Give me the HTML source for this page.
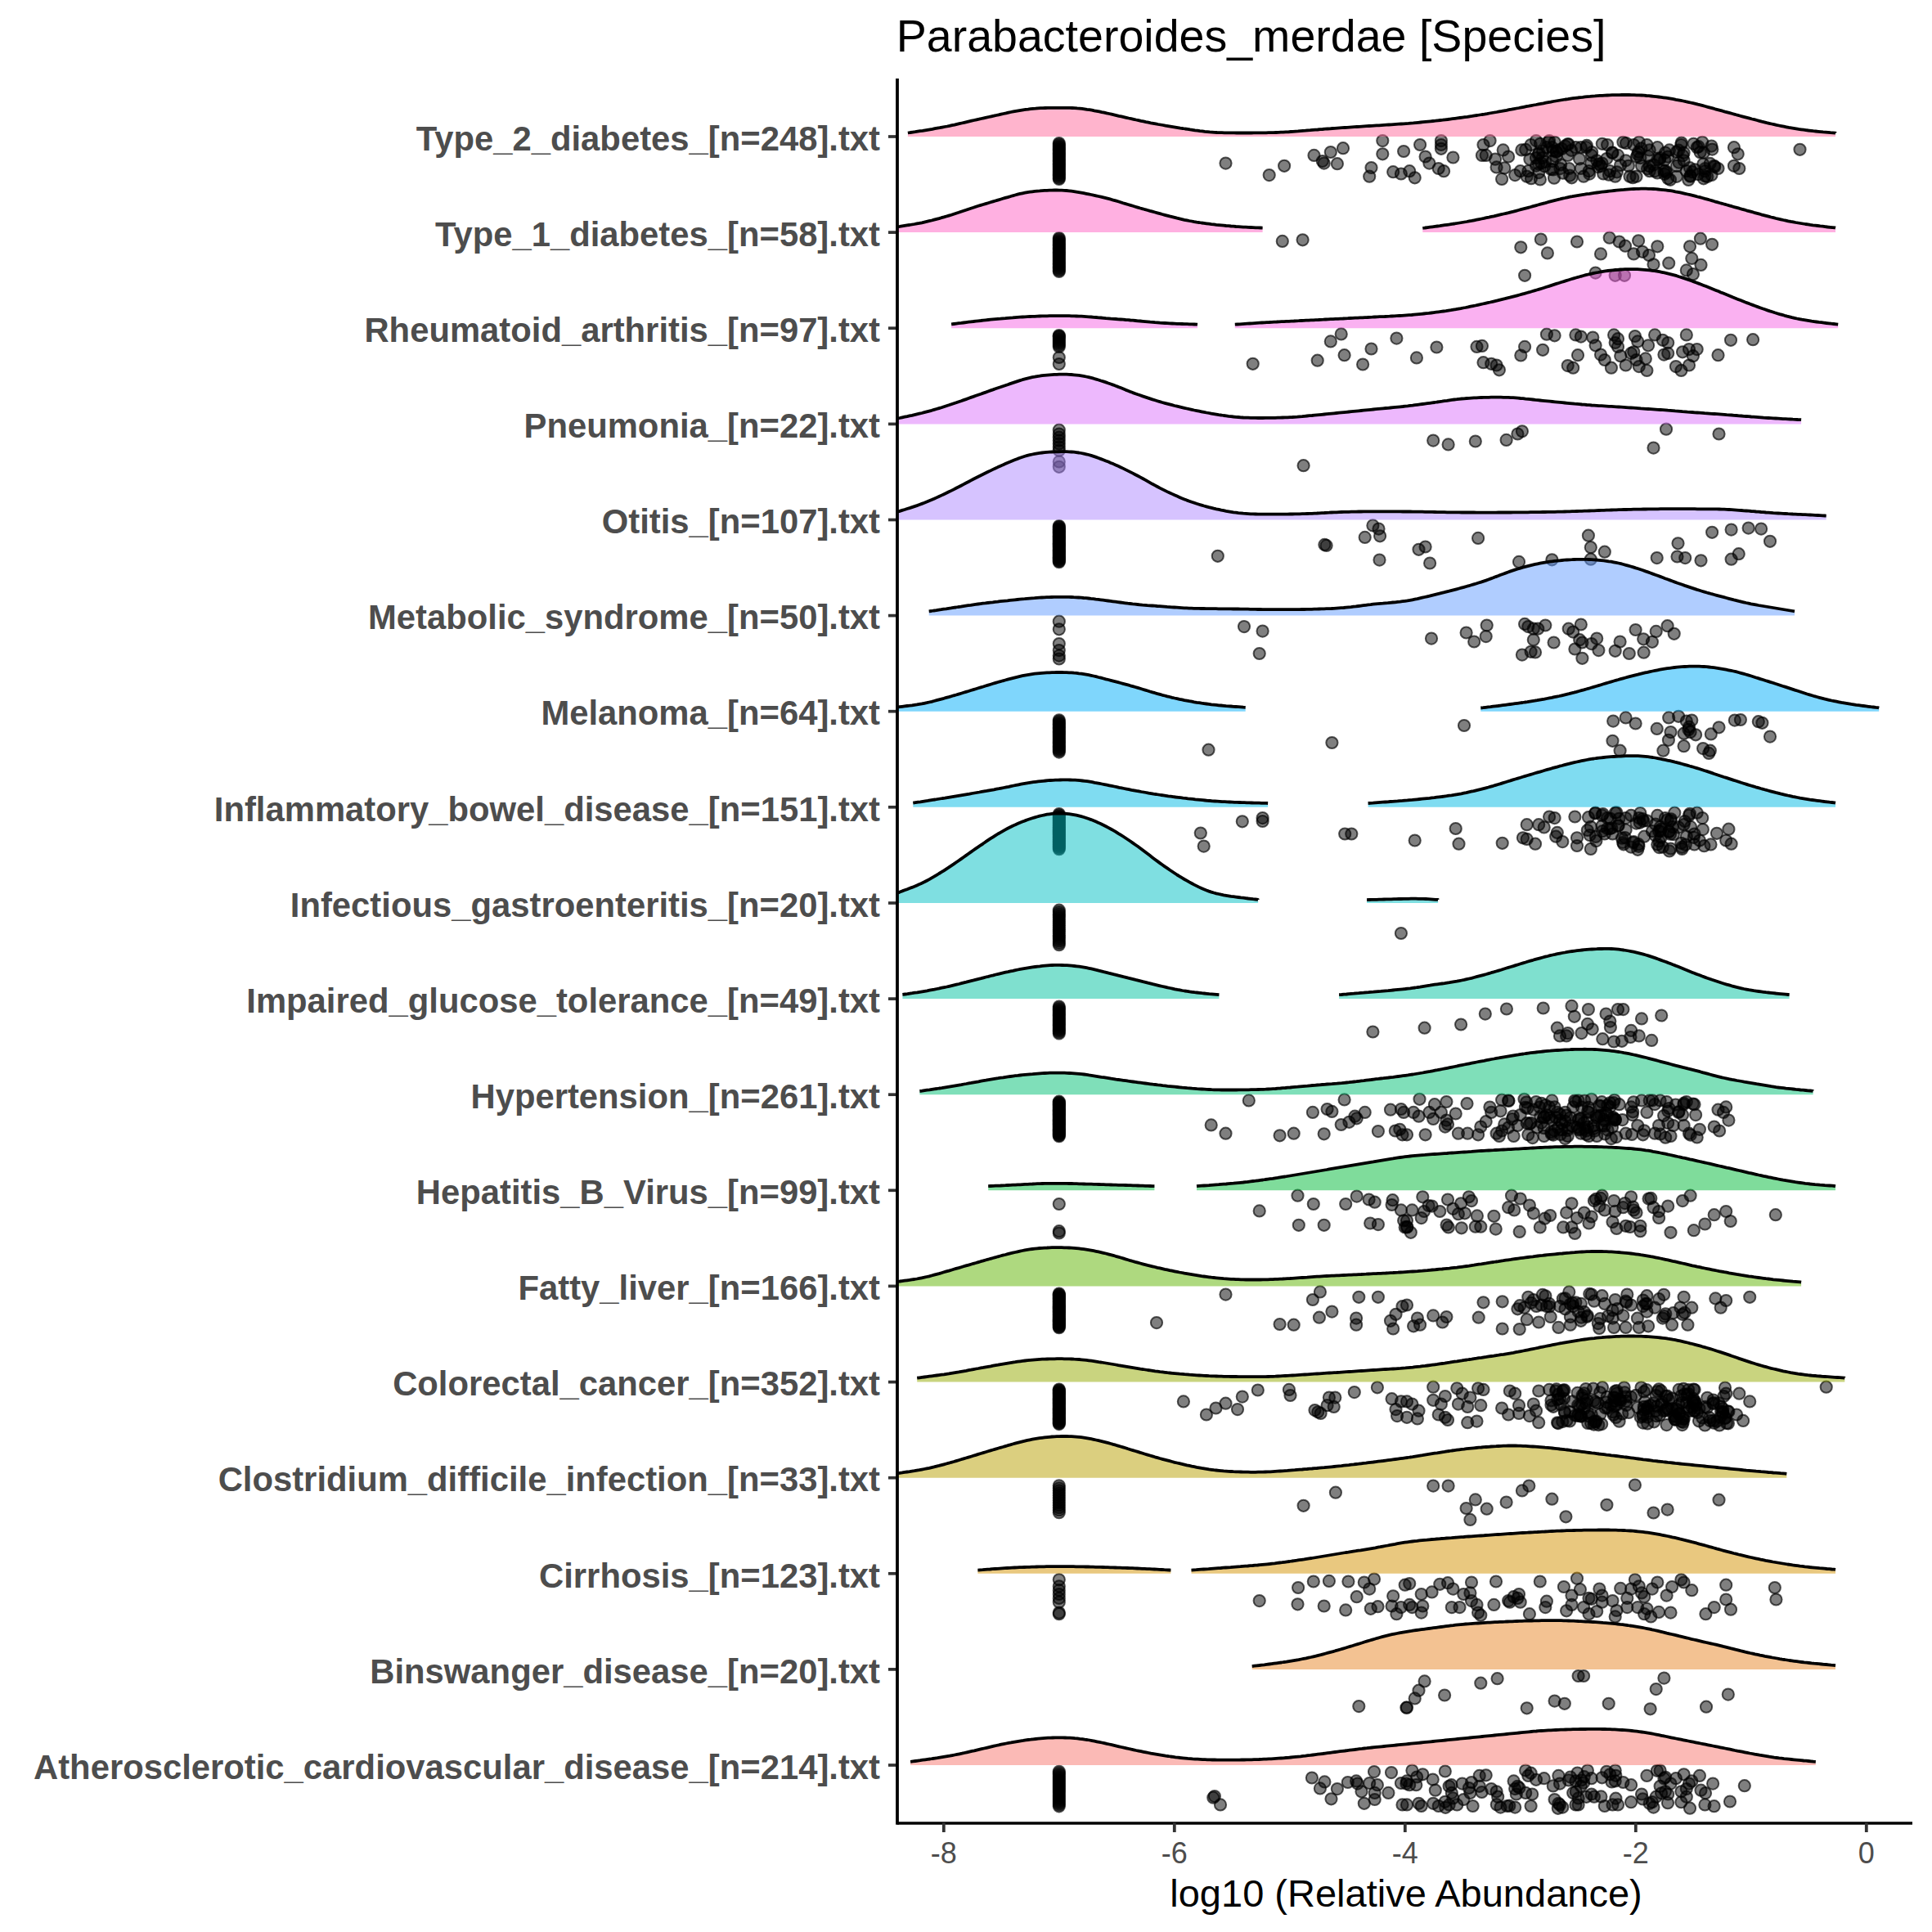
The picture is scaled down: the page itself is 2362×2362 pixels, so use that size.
<!DOCTYPE html><html><head><meta charset="utf-8"><style>html,body{margin:0;padding:0;background:#fff;width:2362px;height:2362px;overflow:hidden}svg{display:block}</style></head><body>
<svg width="2362" height="2362" viewBox="0 0 2362 2362">
<rect width="2362" height="2362" fill="#fff"/>
<text x="1095.7" y="63.3" font-family="Liberation Sans" font-size="55" fill="#000" textLength="867.7" lengthAdjust="spacingAndGlyphs">Parabacteroides_merdae [Species]</text>
<g font-family="Liberation Sans" font-weight="bold" font-size="41.8" fill="#4d4d4d" text-anchor="end">
<text x="1076" y="183.7">Type_2_diabetes_[n=248].txt</text>
<text x="1076" y="300.8">Type_1_diabetes_[n=58].txt</text>
<text x="1076" y="417.9">Rheumatoid_arthritis_[n=97].txt</text>
<text x="1076" y="535.1">Pneumonia_[n=22].txt</text>
<text x="1076" y="652.2">Otitis_[n=107].txt</text>
<text x="1076" y="769.3">Metabolic_syndrome_[n=50].txt</text>
<text x="1076" y="886.4">Melanoma_[n=64].txt</text>
<text x="1076" y="1003.5">Inflammatory_bowel_disease_[n=151].txt</text>
<text x="1076" y="1120.7">Infectious_gastroenteritis_[n=20].txt</text>
<text x="1076" y="1237.8">Impaired_glucose_tolerance_[n=49].txt</text>
<text x="1076" y="1354.9">Hypertension_[n=261].txt</text>
<text x="1076" y="1472.0">Hepatitis_B_Virus_[n=99].txt</text>
<text x="1076" y="1589.1">Fatty_liver_[n=166].txt</text>
<text x="1076" y="1706.3">Colorectal_cancer_[n=352].txt</text>
<text x="1076" y="1823.4">Clostridium_difficile_infection_[n=33].txt</text>
<text x="1076" y="1940.5">Cirrhosis_[n=123].txt</text>
<text x="1076" y="2057.6">Binswanger_disease_[n=20].txt</text>
<text x="1076" y="2174.7">Atherosclerotic_cardiovascular_disease_[n=214].txt</text>
</g><g stroke="#333" stroke-width="3.7">
<line x1="1086" y1="167.0" x2="1097" y2="167.0"/>
<line x1="1086" y1="284.1" x2="1097" y2="284.1"/>
<line x1="1086" y1="401.2" x2="1097" y2="401.2"/>
<line x1="1086" y1="518.4" x2="1097" y2="518.4"/>
<line x1="1086" y1="635.5" x2="1097" y2="635.5"/>
<line x1="1086" y1="752.6" x2="1097" y2="752.6"/>
<line x1="1086" y1="869.7" x2="1097" y2="869.7"/>
<line x1="1086" y1="986.8" x2="1097" y2="986.8"/>
<line x1="1086" y1="1104.0" x2="1097" y2="1104.0"/>
<line x1="1086" y1="1221.1" x2="1097" y2="1221.1"/>
<line x1="1086" y1="1338.2" x2="1097" y2="1338.2"/>
<line x1="1086" y1="1455.3" x2="1097" y2="1455.3"/>
<line x1="1086" y1="1572.4" x2="1097" y2="1572.4"/>
<line x1="1086" y1="1689.6" x2="1097" y2="1689.6"/>
<line x1="1086" y1="1806.7" x2="1097" y2="1806.7"/>
<line x1="1086" y1="1923.8" x2="1097" y2="1923.8"/>
<line x1="1086" y1="2040.9" x2="1097" y2="2040.9"/>
<line x1="1086" y1="2158.0" x2="1097" y2="2158.0"/>
</g>
<g fill="#000" fill-opacity="0.5" stroke="#000" stroke-opacity="0.65" stroke-width="2.0">
<circle cx="1498.5" cy="199.6" r="7.1"/>
<circle cx="1551.7" cy="214.1" r="7.1"/>
<circle cx="1570.1" cy="202.8" r="7.1"/>
<circle cx="1606.5" cy="189.9" r="7.1"/>
<circle cx="1616.8" cy="197.0" r="7.1"/>
<circle cx="1618.7" cy="199.6" r="7.1"/>
<circle cx="1626.8" cy="186.0" r="7.1"/>
<circle cx="1642.0" cy="181.2" r="7.1"/>
<circle cx="1634.9" cy="200.2" r="7.1"/>
<circle cx="1690.3" cy="172.1" r="7.1"/>
<circle cx="1690.3" cy="188.3" r="7.1"/>
<circle cx="1676.5" cy="205.0" r="7.1"/>
<circle cx="1674.2" cy="215.7" r="7.1"/>
<circle cx="1703.2" cy="210.2" r="7.1"/>
<circle cx="1712.9" cy="212.5" r="7.1"/>
<circle cx="1716.1" cy="185.0" r="7.1"/>
<circle cx="1723.2" cy="209.2" r="7.1"/>
<circle cx="1729.7" cy="217.3" r="7.1"/>
<circle cx="1736.1" cy="177.0" r="7.1"/>
<circle cx="1742.6" cy="191.5" r="7.1"/>
<circle cx="1747.4" cy="199.6" r="7.1"/>
<circle cx="1758.7" cy="206.0" r="7.1"/>
<circle cx="1765.1" cy="209.2" r="7.1"/>
<circle cx="1761.9" cy="172.1" r="7.1"/>
<circle cx="1761.9" cy="177.0" r="7.1"/>
<circle cx="1761.9" cy="181.8" r="7.1"/>
<circle cx="1776.4" cy="192.5" r="7.1"/>
<circle cx="1813.5" cy="177.0" r="7.1"/>
<circle cx="1821.6" cy="172.1" r="7.1"/>
<circle cx="1811.9" cy="189.9" r="7.1"/>
<circle cx="1816.7" cy="189.9" r="7.1"/>
<circle cx="1828.0" cy="194.7" r="7.1"/>
<circle cx="1829.6" cy="204.4" r="7.1"/>
<circle cx="1837.7" cy="183.4" r="7.1"/>
<circle cx="1844.1" cy="191.5" r="7.1"/>
<circle cx="1839.3" cy="205.4" r="7.1"/>
<circle cx="1836.1" cy="218.9" r="7.1"/>
<circle cx="1852.2" cy="214.1" r="7.1"/>
<circle cx="1858.7" cy="209.2" r="7.1"/>
<circle cx="1866.7" cy="215.7" r="7.1"/>
<circle cx="1868.3" cy="209.2" r="7.1"/>
<circle cx="1860.3" cy="183.4" r="7.1"/>
<circle cx="1871.6" cy="177.0" r="7.1"/>
<circle cx="1878.0" cy="172.1" r="7.1"/>
<circle cx="1878.0" cy="193.1" r="7.1"/>
<circle cx="1884.5" cy="199.6" r="7.1"/>
<circle cx="1889.3" cy="197.9" r="7.1"/>
<circle cx="1894.1" cy="172.1" r="7.1"/>
<circle cx="1890.9" cy="180.2" r="7.1"/>
<circle cx="1900.6" cy="173.8" r="7.1"/>
<circle cx="1905.4" cy="183.4" r="7.1"/>
<circle cx="1913.5" cy="178.6" r="7.1"/>
<circle cx="1916.7" cy="189.9" r="7.1"/>
<circle cx="1918.3" cy="206.0" r="7.1"/>
<circle cx="1921.5" cy="217.3" r="7.1"/>
<circle cx="1926.4" cy="180.2" r="7.1"/>
<circle cx="1932.8" cy="206.0" r="7.1"/>
<circle cx="1932.8" cy="180.2" r="7.1"/>
<circle cx="1936.1" cy="215.7" r="7.1"/>
<circle cx="1939.3" cy="180.2" r="7.1"/>
<circle cx="1942.5" cy="209.2" r="7.1"/>
<circle cx="1945.7" cy="189.9" r="7.1"/>
<circle cx="1952.2" cy="196.3" r="7.1"/>
<circle cx="1958.6" cy="199.6" r="7.1"/>
<circle cx="1960.2" cy="212.5" r="7.1"/>
<circle cx="1968.3" cy="209.2" r="7.1"/>
<circle cx="1974.7" cy="215.7" r="7.1"/>
<circle cx="1965.1" cy="177.0" r="7.1"/>
<circle cx="1971.5" cy="186.7" r="7.1"/>
<circle cx="1978.0" cy="189.9" r="7.1"/>
<circle cx="1984.4" cy="173.8" r="7.1"/>
<circle cx="1987.6" cy="196.3" r="7.1"/>
<circle cx="1990.9" cy="202.8" r="7.1"/>
<circle cx="1992.5" cy="215.7" r="7.1"/>
<circle cx="1997.3" cy="177.0" r="7.1"/>
<circle cx="2000.5" cy="215.7" r="7.1"/>
<circle cx="2003.8" cy="173.8" r="7.1"/>
<circle cx="2005.4" cy="193.1" r="7.1"/>
<circle cx="2007.0" cy="202.8" r="7.1"/>
<circle cx="2013.4" cy="177.0" r="7.1"/>
<circle cx="2016.7" cy="183.4" r="7.1"/>
<circle cx="2016.7" cy="209.2" r="7.1"/>
<circle cx="2023.1" cy="209.2" r="7.1"/>
<circle cx="2026.3" cy="180.2" r="7.1"/>
<circle cx="2029.6" cy="193.1" r="7.1"/>
<circle cx="2034.4" cy="209.2" r="7.1"/>
<circle cx="2036.0" cy="186.7" r="7.1"/>
<circle cx="2040.9" cy="183.4" r="7.1"/>
<circle cx="2055.4" cy="177.0" r="7.1"/>
<circle cx="2058.6" cy="186.7" r="7.1"/>
<circle cx="2058.6" cy="196.3" r="7.1"/>
<circle cx="2061.8" cy="209.2" r="7.1"/>
<circle cx="2066.6" cy="215.7" r="7.1"/>
<circle cx="2074.7" cy="180.2" r="7.1"/>
<circle cx="2081.2" cy="173.8" r="7.1"/>
<circle cx="2082.8" cy="186.7" r="7.1"/>
<circle cx="2084.4" cy="209.2" r="7.1"/>
<circle cx="2092.4" cy="178.6" r="7.1"/>
<circle cx="2095.7" cy="202.8" r="7.1"/>
<circle cx="2100.5" cy="206.0" r="7.1"/>
<circle cx="2119.9" cy="180.2" r="7.1"/>
<circle cx="2124.7" cy="188.3" r="7.1"/>
<circle cx="2119.9" cy="202.8" r="7.1"/>
<circle cx="2126.3" cy="206.0" r="7.1"/>
<circle cx="2200.5" cy="182.8" r="7.1"/>
<circle cx="1945.3" cy="199.3" r="7.1"/>
<circle cx="2029.0" cy="194.9" r="7.1"/>
<circle cx="1955.2" cy="200.6" r="7.1"/>
<circle cx="1897.9" cy="197.1" r="7.1"/>
<circle cx="1976.8" cy="210.3" r="7.1"/>
<circle cx="1881.8" cy="187.3" r="7.1"/>
<circle cx="1881.2" cy="211.1" r="7.1"/>
<circle cx="1988.1" cy="175.0" r="7.1"/>
<circle cx="2039.3" cy="218.3" r="7.1"/>
<circle cx="1981.1" cy="201.9" r="7.1"/>
<circle cx="1893.0" cy="173.7" r="7.1"/>
<circle cx="1958.8" cy="175.8" r="7.1"/>
<circle cx="1898.8" cy="184.4" r="7.1"/>
<circle cx="1870.4" cy="194.8" r="7.1"/>
<circle cx="1943.2" cy="212.6" r="7.1"/>
<circle cx="1957.2" cy="203.1" r="7.1"/>
<circle cx="1953.7" cy="204.1" r="7.1"/>
<circle cx="1946.2" cy="186.1" r="7.1"/>
<circle cx="2042.0" cy="219.8" r="7.1"/>
<circle cx="2014.1" cy="206.3" r="7.1"/>
<circle cx="1921.0" cy="183.8" r="7.1"/>
<circle cx="1916.4" cy="176.3" r="7.1"/>
<circle cx="2001.0" cy="191.8" r="7.1"/>
<circle cx="2015.3" cy="191.2" r="7.1"/>
<circle cx="2035.0" cy="212.8" r="7.1"/>
<circle cx="1865.2" cy="182.9" r="7.1"/>
<circle cx="2026.6" cy="195.1" r="7.1"/>
<circle cx="2039.0" cy="191.7" r="7.1"/>
<circle cx="1878.1" cy="202.6" r="7.1"/>
<circle cx="2003.2" cy="185.7" r="7.1"/>
<circle cx="1880.6" cy="188.6" r="7.1"/>
<circle cx="2036.1" cy="208.6" r="7.1"/>
<circle cx="1886.0" cy="184.6" r="7.1"/>
<circle cx="1883.0" cy="175.8" r="7.1"/>
<circle cx="2006.5" cy="181.4" r="7.1"/>
<circle cx="1964.3" cy="194.0" r="7.1"/>
<circle cx="1898.9" cy="207.4" r="7.1"/>
<circle cx="1888.3" cy="203.3" r="7.1"/>
<circle cx="1885.8" cy="192.8" r="7.1"/>
<circle cx="1902.9" cy="185.7" r="7.1"/>
<circle cx="2037.3" cy="210.8" r="7.1"/>
<circle cx="1919.1" cy="214.6" r="7.1"/>
<circle cx="1902.5" cy="191.5" r="7.1"/>
<circle cx="2016.6" cy="203.2" r="7.1"/>
<circle cx="1882.9" cy="219.5" r="7.1"/>
<circle cx="1902.9" cy="185.1" r="7.1"/>
<circle cx="2002.1" cy="188.5" r="7.1"/>
<circle cx="1917.7" cy="176.4" r="7.1"/>
<circle cx="1881.1" cy="200.4" r="7.1"/>
<circle cx="1908.2" cy="201.3" r="7.1"/>
<circle cx="1931.0" cy="194.3" r="7.1"/>
<circle cx="2035.2" cy="195.7" r="7.1"/>
<circle cx="1967.0" cy="213.7" r="7.1"/>
<circle cx="1897.5" cy="180.2" r="7.1"/>
<circle cx="2026.2" cy="211.4" r="7.1"/>
<circle cx="1909.4" cy="181.9" r="7.1"/>
<circle cx="1996.2" cy="217.2" r="7.1"/>
<circle cx="1900.0" cy="217.7" r="7.1"/>
<circle cx="2021.6" cy="201.4" r="7.1"/>
<circle cx="1939.9" cy="177.9" r="7.1"/>
<circle cx="1872.0" cy="218.2" r="7.1"/>
<circle cx="1907.4" cy="206.1" r="7.1"/>
<circle cx="1910.7" cy="211.7" r="7.1"/>
<circle cx="1970.9" cy="186.8" r="7.1"/>
<circle cx="1896.2" cy="206.9" r="7.1"/>
<circle cx="2052.2" cy="183.7" r="7.1"/>
<circle cx="2076.0" cy="213.1" r="7.1"/>
<circle cx="2078.6" cy="186.2" r="7.1"/>
<circle cx="2093.3" cy="182.6" r="7.1"/>
<circle cx="2049.7" cy="185.7" r="7.1"/>
<circle cx="2070.5" cy="175.8" r="7.1"/>
<circle cx="2057.4" cy="190.3" r="7.1"/>
<circle cx="2076.6" cy="179.2" r="7.1"/>
<circle cx="2066.4" cy="214.9" r="7.1"/>
<circle cx="2096.3" cy="203.9" r="7.1"/>
<circle cx="2082.3" cy="200.5" r="7.1"/>
<circle cx="2055.7" cy="174.6" r="7.1"/>
<circle cx="2049.8" cy="215.8" r="7.1"/>
<circle cx="2082.8" cy="218.3" r="7.1"/>
<circle cx="2049.9" cy="202.9" r="7.1"/>
<circle cx="2072.2" cy="207.3" r="7.1"/>
<circle cx="2064.3" cy="220.0" r="7.1"/>
<circle cx="2052.6" cy="198.7" r="7.1"/>
<circle cx="2084.6" cy="215.3" r="7.1"/>
<circle cx="2084.6" cy="206.1" r="7.1"/>
<circle cx="2087.3" cy="216.0" r="7.1"/>
<circle cx="2065.9" cy="205.2" r="7.1"/>
<circle cx="2092.5" cy="213.9" r="7.1"/>
<circle cx="2069.1" cy="210.2" r="7.1"/>
<circle cx="2090.7" cy="199.9" r="7.1"/>
<circle cx="1567.8" cy="294.9" r="7.1"/>
<circle cx="1592.6" cy="293.3" r="7.1"/>
<circle cx="1531.7" cy="444.8" r="7.1"/>
<circle cx="1610.7" cy="440.7" r="7.1"/>
<circle cx="1626.8" cy="417.4" r="7.1"/>
<circle cx="1639.7" cy="408.4" r="7.1"/>
<circle cx="1643.6" cy="434.2" r="7.1"/>
<circle cx="1666.1" cy="445.5" r="7.1"/>
<circle cx="1676.5" cy="426.5" r="7.1"/>
<circle cx="1707.4" cy="413.6" r="7.1"/>
<circle cx="1859.3" cy="302.3" r="7.1"/>
<circle cx="1883.8" cy="292.6" r="7.1"/>
<circle cx="1891.9" cy="309.4" r="7.1"/>
<circle cx="1864.1" cy="336.8" r="7.1"/>
<circle cx="1928.0" cy="295.5" r="7.1"/>
<circle cx="1967.7" cy="290.7" r="7.1"/>
<circle cx="1979.6" cy="295.5" r="7.1"/>
<circle cx="1987.0" cy="300.7" r="7.1"/>
<circle cx="2003.1" cy="294.3" r="7.1"/>
<circle cx="1997.3" cy="310.4" r="7.1"/>
<circle cx="2008.0" cy="307.8" r="7.1"/>
<circle cx="2016.0" cy="312.0" r="7.1"/>
<circle cx="2026.3" cy="301.3" r="7.1"/>
<circle cx="2021.5" cy="323.3" r="7.1"/>
<circle cx="2040.2" cy="321.7" r="7.1"/>
<circle cx="2066.0" cy="301.3" r="7.1"/>
<circle cx="2078.9" cy="291.7" r="7.1"/>
<circle cx="2093.1" cy="298.8" r="7.1"/>
<circle cx="2068.3" cy="315.9" r="7.1"/>
<circle cx="2079.5" cy="323.9" r="7.1"/>
<circle cx="2061.8" cy="330.4" r="7.1"/>
<circle cx="2069.9" cy="335.2" r="7.1"/>
<circle cx="1957.0" cy="310.4" r="7.1"/>
<circle cx="1950.6" cy="333.6" r="7.1"/>
<circle cx="1974.7" cy="336.8" r="7.1"/>
<circle cx="1986.0" cy="336.8" r="7.1"/>
<circle cx="1731.9" cy="437.4" r="7.1"/>
<circle cx="1756.4" cy="424.5" r="7.1"/>
<circle cx="1805.5" cy="423.9" r="7.1"/>
<circle cx="1811.9" cy="422.9" r="7.1"/>
<circle cx="1813.5" cy="443.2" r="7.1"/>
<circle cx="1823.2" cy="444.8" r="7.1"/>
<circle cx="1829.6" cy="446.5" r="7.1"/>
<circle cx="1832.9" cy="452.3" r="7.1"/>
<circle cx="1859.3" cy="434.5" r="7.1"/>
<circle cx="1864.1" cy="423.9" r="7.1"/>
<circle cx="1886.1" cy="427.8" r="7.1"/>
<circle cx="1890.9" cy="408.7" r="7.1"/>
<circle cx="1900.6" cy="410.3" r="7.1"/>
<circle cx="1926.4" cy="409.4" r="7.1"/>
<circle cx="1932.8" cy="411.6" r="7.1"/>
<circle cx="1929.0" cy="434.2" r="7.1"/>
<circle cx="1916.7" cy="447.1" r="7.1"/>
<circle cx="1923.2" cy="449.7" r="7.1"/>
<circle cx="1947.3" cy="412.6" r="7.1"/>
<circle cx="1950.6" cy="422.3" r="7.1"/>
<circle cx="1957.0" cy="433.6" r="7.1"/>
<circle cx="1961.8" cy="440.0" r="7.1"/>
<circle cx="1969.9" cy="449.7" r="7.1"/>
<circle cx="1973.1" cy="409.4" r="7.1"/>
<circle cx="1978.0" cy="414.2" r="7.1"/>
<circle cx="1978.0" cy="423.9" r="7.1"/>
<circle cx="1981.2" cy="435.2" r="7.1"/>
<circle cx="1987.6" cy="446.5" r="7.1"/>
<circle cx="1997.3" cy="430.3" r="7.1"/>
<circle cx="1998.9" cy="411.0" r="7.1"/>
<circle cx="2002.2" cy="417.4" r="7.1"/>
<circle cx="2003.8" cy="448.1" r="7.1"/>
<circle cx="2011.8" cy="438.4" r="7.1"/>
<circle cx="2015.1" cy="422.3" r="7.1"/>
<circle cx="2013.4" cy="452.9" r="7.1"/>
<circle cx="2023.1" cy="409.4" r="7.1"/>
<circle cx="2032.8" cy="415.8" r="7.1"/>
<circle cx="2039.2" cy="419.0" r="7.1"/>
<circle cx="2034.4" cy="433.6" r="7.1"/>
<circle cx="2039.2" cy="431.9" r="7.1"/>
<circle cx="2048.9" cy="448.1" r="7.1"/>
<circle cx="2055.4" cy="452.9" r="7.1"/>
<circle cx="2057.0" cy="430.3" r="7.1"/>
<circle cx="2061.8" cy="409.4" r="7.1"/>
<circle cx="2065.0" cy="427.1" r="7.1"/>
<circle cx="2069.9" cy="435.2" r="7.1"/>
<circle cx="2065.0" cy="446.5" r="7.1"/>
<circle cx="2074.7" cy="427.1" r="7.1"/>
<circle cx="2100.5" cy="434.2" r="7.1"/>
<circle cx="2116.0" cy="415.8" r="7.1"/>
<circle cx="2143.1" cy="415.2" r="7.1"/>
<circle cx="1994.1" cy="431.9" r="7.1"/>
<circle cx="2000.5" cy="440.0" r="7.1"/>
<circle cx="1974.7" cy="419.0" r="7.1"/>
<circle cx="1593.6" cy="569.2" r="7.1"/>
<circle cx="1488.8" cy="679.8" r="7.1"/>
<circle cx="1619.4" cy="665.9" r="7.1"/>
<circle cx="1621.6" cy="666.9" r="7.1"/>
<circle cx="1668.7" cy="656.9" r="7.1"/>
<circle cx="1678.4" cy="642.4" r="7.1"/>
<circle cx="1685.5" cy="646.6" r="7.1"/>
<circle cx="1687.1" cy="655.3" r="7.1"/>
<circle cx="1686.5" cy="684.6" r="7.1"/>
<circle cx="1294.8" cy="525.7" r="7.1"/>
<circle cx="1294.8" cy="530.5" r="7.1"/>
<circle cx="1294.8" cy="534.7" r="7.1"/>
<circle cx="1294.8" cy="538.6" r="7.1"/>
<circle cx="1294.8" cy="542.4" r="7.1"/>
<circle cx="1294.8" cy="546.6" r="7.1"/>
<circle cx="1294.8" cy="550.8" r="7.1"/>
<circle cx="1294.8" cy="564.4" r="7.1"/>
<circle cx="1294.8" cy="570.8" r="7.1"/>
<circle cx="1294.8" cy="643.1" r="7.1"/>
<circle cx="1294.8" cy="644.2" r="7.1"/>
<circle cx="1294.8" cy="645.3" r="7.1"/>
<circle cx="1294.8" cy="646.5" r="7.1"/>
<circle cx="1294.8" cy="647.6" r="7.1"/>
<circle cx="1294.8" cy="648.7" r="7.1"/>
<circle cx="1294.8" cy="649.9" r="7.1"/>
<circle cx="1294.8" cy="651.0" r="7.1"/>
<circle cx="1294.8" cy="652.1" r="7.1"/>
<circle cx="1294.8" cy="653.3" r="7.1"/>
<circle cx="1294.8" cy="654.4" r="7.1"/>
<circle cx="1294.8" cy="655.5" r="7.1"/>
<circle cx="1294.8" cy="656.6" r="7.1"/>
<circle cx="1294.8" cy="657.8" r="7.1"/>
<circle cx="1294.8" cy="658.9" r="7.1"/>
<circle cx="1294.8" cy="660.0" r="7.1"/>
<circle cx="1294.8" cy="661.2" r="7.1"/>
<circle cx="1294.8" cy="662.3" r="7.1"/>
<circle cx="1294.8" cy="663.4" r="7.1"/>
<circle cx="1294.8" cy="664.6" r="7.1"/>
<circle cx="1294.8" cy="665.7" r="7.1"/>
<circle cx="1294.8" cy="666.8" r="7.1"/>
<circle cx="1294.8" cy="668.0" r="7.1"/>
<circle cx="1294.8" cy="669.1" r="7.1"/>
<circle cx="1294.8" cy="670.2" r="7.1"/>
<circle cx="1294.8" cy="671.4" r="7.1"/>
<circle cx="1294.8" cy="672.5" r="7.1"/>
<circle cx="1294.8" cy="673.6" r="7.1"/>
<circle cx="1294.8" cy="674.8" r="7.1"/>
<circle cx="1294.8" cy="675.9" r="7.1"/>
<circle cx="1294.8" cy="677.0" r="7.1"/>
<circle cx="1294.8" cy="678.2" r="7.1"/>
<circle cx="1294.8" cy="679.3" r="7.1"/>
<circle cx="1294.8" cy="680.4" r="7.1"/>
<circle cx="1294.8" cy="681.6" r="7.1"/>
<circle cx="1294.8" cy="682.7" r="7.1"/>
<circle cx="1294.8" cy="683.8" r="7.1"/>
<circle cx="1294.8" cy="685.0" r="7.1"/>
<circle cx="1294.8" cy="686.1" r="7.1"/>
<circle cx="1294.8" cy="687.2" r="7.1"/>
<circle cx="1752.2" cy="538.6" r="7.1"/>
<circle cx="1770.6" cy="543.4" r="7.1"/>
<circle cx="1803.8" cy="539.5" r="7.1"/>
<circle cx="1841.6" cy="537.9" r="7.1"/>
<circle cx="1855.4" cy="530.5" r="7.1"/>
<circle cx="1860.9" cy="527.3" r="7.1"/>
<circle cx="2021.5" cy="547.6" r="7.1"/>
<circle cx="2037.0" cy="524.7" r="7.1"/>
<circle cx="2101.5" cy="530.5" r="7.1"/>
<circle cx="1734.5" cy="671.8" r="7.1"/>
<circle cx="1742.6" cy="668.5" r="7.1"/>
<circle cx="1748.1" cy="688.5" r="7.1"/>
<circle cx="1807.1" cy="657.9" r="7.1"/>
<circle cx="1857.0" cy="686.9" r="7.1"/>
<circle cx="1897.4" cy="684.3" r="7.1"/>
<circle cx="1941.9" cy="654.7" r="7.1"/>
<circle cx="1944.8" cy="669.2" r="7.1"/>
<circle cx="1944.8" cy="683.7" r="7.1"/>
<circle cx="1961.8" cy="674.7" r="7.1"/>
<circle cx="2025.7" cy="682.1" r="7.1"/>
<circle cx="2051.5" cy="664.3" r="7.1"/>
<circle cx="2050.5" cy="680.5" r="7.1"/>
<circle cx="2060.2" cy="682.1" r="7.1"/>
<circle cx="2079.5" cy="685.3" r="7.1"/>
<circle cx="2093.1" cy="650.8" r="7.1"/>
<circle cx="2116.6" cy="647.6" r="7.1"/>
<circle cx="2116.6" cy="683.7" r="7.1"/>
<circle cx="2125.7" cy="677.2" r="7.1"/>
<circle cx="2137.6" cy="645.6" r="7.1"/>
<circle cx="2153.1" cy="646.6" r="7.1"/>
<circle cx="2164.0" cy="661.8" r="7.1"/>
<circle cx="1521.0" cy="766.1" r="7.1"/>
<circle cx="1543.6" cy="771.6" r="7.1"/>
<circle cx="1539.7" cy="799.0" r="7.1"/>
<circle cx="1477.5" cy="916.7" r="7.1"/>
<circle cx="1628.4" cy="908.0" r="7.1"/>
<circle cx="1294.8" cy="759.7" r="7.1"/>
<circle cx="1294.8" cy="769.3" r="7.1"/>
<circle cx="1294.8" cy="787.1" r="7.1"/>
<circle cx="1294.8" cy="795.1" r="7.1"/>
<circle cx="1294.8" cy="801.6" r="7.1"/>
<circle cx="1294.8" cy="805.5" r="7.1"/>
<circle cx="1294.8" cy="880.3" r="7.1"/>
<circle cx="1294.8" cy="881.9" r="7.1"/>
<circle cx="1294.8" cy="883.6" r="7.1"/>
<circle cx="1294.8" cy="885.2" r="7.1"/>
<circle cx="1294.8" cy="886.8" r="7.1"/>
<circle cx="1294.8" cy="888.5" r="7.1"/>
<circle cx="1294.8" cy="890.1" r="7.1"/>
<circle cx="1294.8" cy="891.8" r="7.1"/>
<circle cx="1294.8" cy="893.4" r="7.1"/>
<circle cx="1294.8" cy="895.0" r="7.1"/>
<circle cx="1294.8" cy="896.7" r="7.1"/>
<circle cx="1294.8" cy="898.3" r="7.1"/>
<circle cx="1294.8" cy="899.9" r="7.1"/>
<circle cx="1294.8" cy="901.6" r="7.1"/>
<circle cx="1294.8" cy="903.2" r="7.1"/>
<circle cx="1294.8" cy="904.9" r="7.1"/>
<circle cx="1294.8" cy="906.5" r="7.1"/>
<circle cx="1294.8" cy="908.1" r="7.1"/>
<circle cx="1294.8" cy="909.8" r="7.1"/>
<circle cx="1294.8" cy="911.4" r="7.1"/>
<circle cx="1294.8" cy="913.1" r="7.1"/>
<circle cx="1294.8" cy="914.7" r="7.1"/>
<circle cx="1294.8" cy="916.3" r="7.1"/>
<circle cx="1294.8" cy="918.0" r="7.1"/>
<circle cx="1294.8" cy="919.6" r="7.1"/>
<circle cx="1750.0" cy="780.6" r="7.1"/>
<circle cx="1792.6" cy="773.5" r="7.1"/>
<circle cx="1802.2" cy="784.5" r="7.1"/>
<circle cx="1817.7" cy="764.5" r="7.1"/>
<circle cx="1816.7" cy="778.1" r="7.1"/>
<circle cx="1864.1" cy="762.9" r="7.1"/>
<circle cx="1868.3" cy="766.1" r="7.1"/>
<circle cx="1874.8" cy="768.7" r="7.1"/>
<circle cx="1880.3" cy="768.7" r="7.1"/>
<circle cx="1889.3" cy="764.5" r="7.1"/>
<circle cx="1874.8" cy="782.2" r="7.1"/>
<circle cx="1860.9" cy="800.6" r="7.1"/>
<circle cx="1871.6" cy="796.8" r="7.1"/>
<circle cx="1877.0" cy="797.4" r="7.1"/>
<circle cx="1899.6" cy="785.5" r="7.1"/>
<circle cx="1917.7" cy="768.7" r="7.1"/>
<circle cx="1923.2" cy="772.6" r="7.1"/>
<circle cx="1932.8" cy="763.5" r="7.1"/>
<circle cx="1931.2" cy="782.2" r="7.1"/>
<circle cx="1934.4" cy="785.5" r="7.1"/>
<circle cx="1925.4" cy="793.5" r="7.1"/>
<circle cx="1934.4" cy="804.8" r="7.1"/>
<circle cx="1945.7" cy="787.1" r="7.1"/>
<circle cx="1952.2" cy="780.6" r="7.1"/>
<circle cx="1954.4" cy="795.1" r="7.1"/>
<circle cx="1974.7" cy="795.8" r="7.1"/>
<circle cx="1980.6" cy="784.5" r="7.1"/>
<circle cx="1991.8" cy="799.0" r="7.1"/>
<circle cx="1999.6" cy="770.0" r="7.1"/>
<circle cx="2009.2" cy="781.3" r="7.1"/>
<circle cx="2009.6" cy="797.7" r="7.1"/>
<circle cx="2019.9" cy="784.8" r="7.1"/>
<circle cx="2024.7" cy="771.9" r="7.1"/>
<circle cx="2038.6" cy="765.2" r="7.1"/>
<circle cx="2046.7" cy="774.8" r="7.1"/>
<circle cx="1790.0" cy="887.0" r="7.1"/>
<circle cx="1972.2" cy="881.6" r="7.1"/>
<circle cx="1987.6" cy="877.4" r="7.1"/>
<circle cx="1999.6" cy="884.5" r="7.1"/>
<circle cx="2025.7" cy="890.9" r="7.1"/>
<circle cx="2040.2" cy="877.4" r="7.1"/>
<circle cx="2052.1" cy="875.8" r="7.1"/>
<circle cx="2061.8" cy="881.6" r="7.1"/>
<circle cx="2068.3" cy="880.6" r="7.1"/>
<circle cx="2065.0" cy="888.7" r="7.1"/>
<circle cx="2042.5" cy="895.1" r="7.1"/>
<circle cx="2058.6" cy="896.7" r="7.1"/>
<circle cx="2066.6" cy="895.1" r="7.1"/>
<circle cx="2073.1" cy="898.3" r="7.1"/>
<circle cx="2039.9" cy="904.8" r="7.1"/>
<circle cx="2058.6" cy="912.2" r="7.1"/>
<circle cx="2091.8" cy="897.4" r="7.1"/>
<circle cx="2101.5" cy="889.3" r="7.1"/>
<circle cx="2120.8" cy="880.6" r="7.1"/>
<circle cx="2127.9" cy="880.0" r="7.1"/>
<circle cx="2149.8" cy="882.2" r="7.1"/>
<circle cx="2154.4" cy="883.8" r="7.1"/>
<circle cx="2164.0" cy="900.6" r="7.1"/>
<circle cx="1971.5" cy="905.8" r="7.1"/>
<circle cx="1980.6" cy="917.7" r="7.1"/>
<circle cx="2033.4" cy="917.7" r="7.1"/>
<circle cx="2082.1" cy="915.1" r="7.1"/>
<circle cx="2090.8" cy="917.7" r="7.1"/>
<circle cx="2089.2" cy="920.9" r="7.1"/>
<circle cx="2064.4" cy="891.9" r="7.1"/>
<circle cx="1467.8" cy="1018.5" r="7.1"/>
<circle cx="1471.7" cy="1034.6" r="7.1"/>
<circle cx="1518.8" cy="1004.3" r="7.1"/>
<circle cx="1543.6" cy="1000.1" r="7.1"/>
<circle cx="1543.6" cy="1004.0" r="7.1"/>
<circle cx="1644.2" cy="1019.5" r="7.1"/>
<circle cx="1652.3" cy="1019.5" r="7.1"/>
<circle cx="1712.9" cy="1141.0" r="7.1"/>
<circle cx="1294.8" cy="995.0" r="7.1"/>
<circle cx="1294.8" cy="996.5" r="7.1"/>
<circle cx="1294.8" cy="998.0" r="7.1"/>
<circle cx="1294.8" cy="999.4" r="7.1"/>
<circle cx="1294.8" cy="1000.9" r="7.1"/>
<circle cx="1294.8" cy="1002.4" r="7.1"/>
<circle cx="1294.8" cy="1003.9" r="7.1"/>
<circle cx="1294.8" cy="1005.4" r="7.1"/>
<circle cx="1294.8" cy="1006.9" r="7.1"/>
<circle cx="1294.8" cy="1008.4" r="7.1"/>
<circle cx="1294.8" cy="1009.9" r="7.1"/>
<circle cx="1294.8" cy="1011.4" r="7.1"/>
<circle cx="1294.8" cy="1012.8" r="7.1"/>
<circle cx="1294.8" cy="1014.3" r="7.1"/>
<circle cx="1294.8" cy="1015.8" r="7.1"/>
<circle cx="1294.8" cy="1017.3" r="7.1"/>
<circle cx="1294.8" cy="1018.8" r="7.1"/>
<circle cx="1294.8" cy="1020.3" r="7.1"/>
<circle cx="1294.8" cy="1021.8" r="7.1"/>
<circle cx="1294.8" cy="1023.3" r="7.1"/>
<circle cx="1294.8" cy="1024.8" r="7.1"/>
<circle cx="1294.8" cy="1026.2" r="7.1"/>
<circle cx="1294.8" cy="1027.7" r="7.1"/>
<circle cx="1294.8" cy="1029.2" r="7.1"/>
<circle cx="1294.8" cy="1030.7" r="7.1"/>
<circle cx="1294.8" cy="1032.2" r="7.1"/>
<circle cx="1294.8" cy="1033.7" r="7.1"/>
<circle cx="1294.8" cy="1035.2" r="7.1"/>
<circle cx="1294.8" cy="1036.7" r="7.1"/>
<circle cx="1294.8" cy="1038.2" r="7.1"/>
<circle cx="1294.8" cy="1112.7" r="7.1"/>
<circle cx="1294.8" cy="1115.0" r="7.1"/>
<circle cx="1294.8" cy="1117.4" r="7.1"/>
<circle cx="1294.8" cy="1119.8" r="7.1"/>
<circle cx="1294.8" cy="1122.1" r="7.1"/>
<circle cx="1294.8" cy="1124.5" r="7.1"/>
<circle cx="1294.8" cy="1126.9" r="7.1"/>
<circle cx="1294.8" cy="1129.2" r="7.1"/>
<circle cx="1294.8" cy="1131.6" r="7.1"/>
<circle cx="1294.8" cy="1133.9" r="7.1"/>
<circle cx="1294.8" cy="1136.3" r="7.1"/>
<circle cx="1294.8" cy="1138.7" r="7.1"/>
<circle cx="1294.8" cy="1141.0" r="7.1"/>
<circle cx="1294.8" cy="1143.4" r="7.1"/>
<circle cx="1294.8" cy="1145.8" r="7.1"/>
<circle cx="1294.8" cy="1148.1" r="7.1"/>
<circle cx="1294.8" cy="1150.5" r="7.1"/>
<circle cx="1294.8" cy="1152.9" r="7.1"/>
<circle cx="1294.8" cy="1155.2" r="7.1"/>
<circle cx="1729.7" cy="1027.5" r="7.1"/>
<circle cx="1779.7" cy="1013.0" r="7.1"/>
<circle cx="1783.5" cy="1031.7" r="7.1"/>
<circle cx="1836.7" cy="1030.8" r="7.1"/>
<circle cx="1861.9" cy="1024.3" r="7.1"/>
<circle cx="1866.7" cy="1008.2" r="7.1"/>
<circle cx="1866.7" cy="1025.9" r="7.1"/>
<circle cx="1877.0" cy="1031.7" r="7.1"/>
<circle cx="1881.2" cy="1008.2" r="7.1"/>
<circle cx="1887.7" cy="1011.4" r="7.1"/>
<circle cx="1894.1" cy="998.5" r="7.1"/>
<circle cx="1900.6" cy="1000.1" r="7.1"/>
<circle cx="1903.8" cy="1017.9" r="7.1"/>
<circle cx="1902.2" cy="1022.7" r="7.1"/>
<circle cx="1910.3" cy="1029.1" r="7.1"/>
<circle cx="1925.4" cy="998.5" r="7.1"/>
<circle cx="1928.0" cy="1024.3" r="7.1"/>
<circle cx="1928.0" cy="1034.0" r="7.1"/>
<circle cx="1944.8" cy="1037.9" r="7.1"/>
<circle cx="1944.8" cy="1010.8" r="7.1"/>
<circle cx="1950.6" cy="993.7" r="7.1"/>
<circle cx="1958.6" cy="996.9" r="7.1"/>
<circle cx="1965.1" cy="1000.1" r="7.1"/>
<circle cx="1961.8" cy="1019.5" r="7.1"/>
<circle cx="1971.5" cy="1019.5" r="7.1"/>
<circle cx="1974.7" cy="993.7" r="7.1"/>
<circle cx="1978.0" cy="1009.8" r="7.1"/>
<circle cx="1987.6" cy="1000.1" r="7.1"/>
<circle cx="1994.1" cy="996.9" r="7.1"/>
<circle cx="2000.5" cy="1006.6" r="7.1"/>
<circle cx="1987.6" cy="1014.6" r="7.1"/>
<circle cx="1997.3" cy="1029.1" r="7.1"/>
<circle cx="2002.2" cy="1038.8" r="7.1"/>
<circle cx="2010.2" cy="1022.7" r="7.1"/>
<circle cx="2013.4" cy="1003.3" r="7.1"/>
<circle cx="2019.9" cy="1016.2" r="7.1"/>
<circle cx="2026.3" cy="996.9" r="7.1"/>
<circle cx="2028.0" cy="1016.2" r="7.1"/>
<circle cx="2036.0" cy="1000.1" r="7.1"/>
<circle cx="2042.5" cy="1003.3" r="7.1"/>
<circle cx="2047.3" cy="993.7" r="7.1"/>
<circle cx="2032.8" cy="1035.6" r="7.1"/>
<circle cx="2040.9" cy="1040.4" r="7.1"/>
<circle cx="2052.1" cy="1011.4" r="7.1"/>
<circle cx="2058.6" cy="1008.2" r="7.1"/>
<circle cx="2055.4" cy="1030.8" r="7.1"/>
<circle cx="2065.0" cy="996.9" r="7.1"/>
<circle cx="2074.7" cy="993.7" r="7.1"/>
<circle cx="2081.2" cy="1000.1" r="7.1"/>
<circle cx="2071.5" cy="1019.5" r="7.1"/>
<circle cx="2071.5" cy="1032.4" r="7.1"/>
<circle cx="2077.9" cy="1027.5" r="7.1"/>
<circle cx="2098.9" cy="1018.8" r="7.1"/>
<circle cx="2091.5" cy="1032.4" r="7.1"/>
<circle cx="2113.4" cy="1013.7" r="7.1"/>
<circle cx="2110.2" cy="1027.5" r="7.1"/>
<circle cx="2116.6" cy="1031.7" r="7.1"/>
<circle cx="1958.6" cy="1009.8" r="7.1"/>
<circle cx="1965.1" cy="1013.0" r="7.1"/>
<circle cx="2003.8" cy="1000.1" r="7.1"/>
<circle cx="1994.1" cy="1035.6" r="7.1"/>
<circle cx="2026.3" cy="1032.4" r="7.1"/>
<circle cx="2061.8" cy="1022.7" r="7.1"/>
<circle cx="2030.0" cy="1010.8" r="7.1"/>
<circle cx="2023.8" cy="1021.5" r="7.1"/>
<circle cx="1950.9" cy="1022.9" r="7.1"/>
<circle cx="2083.4" cy="1034.2" r="7.1"/>
<circle cx="2044.9" cy="1011.1" r="7.1"/>
<circle cx="2045.9" cy="1020.1" r="7.1"/>
<circle cx="2003.2" cy="1032.2" r="7.1"/>
<circle cx="1951.4" cy="1028.1" r="7.1"/>
<circle cx="1943.6" cy="1021.1" r="7.1"/>
<circle cx="2009.1" cy="1003.7" r="7.1"/>
<circle cx="2040.6" cy="1016.2" r="7.1"/>
<circle cx="2028.4" cy="1036.1" r="7.1"/>
<circle cx="1976.4" cy="993.4" r="7.1"/>
<circle cx="1983.0" cy="1024.7" r="7.1"/>
<circle cx="1968.7" cy="1000.8" r="7.1"/>
<circle cx="2070.7" cy="1023.9" r="7.1"/>
<circle cx="2003.4" cy="1034.8" r="7.1"/>
<circle cx="1986.7" cy="1024.1" r="7.1"/>
<circle cx="1968.1" cy="1013.1" r="7.1"/>
<circle cx="2056.2" cy="1035.8" r="7.1"/>
<circle cx="2067.0" cy="1010.9" r="7.1"/>
<circle cx="2023.9" cy="1007.7" r="7.1"/>
<circle cx="1959.0" cy="1016.2" r="7.1"/>
<circle cx="2060.7" cy="1032.7" r="7.1"/>
<circle cx="2042.5" cy="1037.5" r="7.1"/>
<circle cx="1979.4" cy="1000.8" r="7.1"/>
<circle cx="2004.7" cy="1005.8" r="7.1"/>
<circle cx="1970.3" cy="1012.3" r="7.1"/>
<circle cx="2030.1" cy="1016.1" r="7.1"/>
<circle cx="1985.0" cy="1032.3" r="7.1"/>
<circle cx="2081.8" cy="1014.1" r="7.1"/>
<circle cx="1950.1" cy="994.3" r="7.1"/>
<circle cx="2065.9" cy="994.8" r="7.1"/>
<circle cx="2042.1" cy="1019.7" r="7.1"/>
<circle cx="1984.1" cy="1030.0" r="7.1"/>
<circle cx="1942.0" cy="999.2" r="7.1"/>
<circle cx="2005.3" cy="994.0" r="7.1"/>
<circle cx="2059.7" cy="1004.0" r="7.1"/>
<circle cx="1959.7" cy="995.0" r="7.1"/>
<circle cx="2030.6" cy="1013.8" r="7.1"/>
<circle cx="2030.7" cy="1023.6" r="7.1"/>
<circle cx="2056.4" cy="1037.9" r="7.1"/>
<circle cx="2038.6" cy="1002.2" r="7.1"/>
<circle cx="2008.2" cy="1001.2" r="7.1"/>
<circle cx="1940.8" cy="1015.0" r="7.1"/>
<circle cx="2042.9" cy="1001.3" r="7.1"/>
<circle cx="1978.8" cy="1009.1" r="7.1"/>
<circle cx="2040.5" cy="1017.3" r="7.1"/>
<circle cx="2028.4" cy="1028.4" r="7.1"/>
<circle cx="1996.4" cy="1030.1" r="7.1"/>
<circle cx="1678.4" cy="1261.5" r="7.1"/>
<circle cx="1480.7" cy="1375.4" r="7.1"/>
<circle cx="1498.5" cy="1385.7" r="7.1"/>
<circle cx="1526.8" cy="1345.4" r="7.1"/>
<circle cx="1564.6" cy="1388.3" r="7.1"/>
<circle cx="1581.7" cy="1385.7" r="7.1"/>
<circle cx="1604.9" cy="1359.9" r="7.1"/>
<circle cx="1618.7" cy="1386.3" r="7.1"/>
<circle cx="1622.6" cy="1356.0" r="7.1"/>
<circle cx="1628.4" cy="1358.9" r="7.1"/>
<circle cx="1639.7" cy="1375.0" r="7.1"/>
<circle cx="1643.6" cy="1344.4" r="7.1"/>
<circle cx="1649.4" cy="1371.8" r="7.1"/>
<circle cx="1656.5" cy="1364.7" r="7.1"/>
<circle cx="1658.7" cy="1367.3" r="7.1"/>
<circle cx="1668.7" cy="1359.9" r="7.1"/>
<circle cx="1684.9" cy="1383.1" r="7.1"/>
<circle cx="1700.0" cy="1356.7" r="7.1"/>
<circle cx="1712.9" cy="1356.0" r="7.1"/>
<circle cx="1716.1" cy="1359.9" r="7.1"/>
<circle cx="1705.8" cy="1382.5" r="7.1"/>
<circle cx="1711.3" cy="1380.8" r="7.1"/>
<circle cx="1714.5" cy="1387.3" r="7.1"/>
<circle cx="1294.8" cy="1230.6" r="7.1"/>
<circle cx="1294.8" cy="1232.3" r="7.1"/>
<circle cx="1294.8" cy="1234.0" r="7.1"/>
<circle cx="1294.8" cy="1235.8" r="7.1"/>
<circle cx="1294.8" cy="1237.5" r="7.1"/>
<circle cx="1294.8" cy="1239.2" r="7.1"/>
<circle cx="1294.8" cy="1241.0" r="7.1"/>
<circle cx="1294.8" cy="1242.7" r="7.1"/>
<circle cx="1294.8" cy="1244.4" r="7.1"/>
<circle cx="1294.8" cy="1246.2" r="7.1"/>
<circle cx="1294.8" cy="1247.9" r="7.1"/>
<circle cx="1294.8" cy="1249.6" r="7.1"/>
<circle cx="1294.8" cy="1251.3" r="7.1"/>
<circle cx="1294.8" cy="1253.1" r="7.1"/>
<circle cx="1294.8" cy="1254.8" r="7.1"/>
<circle cx="1294.8" cy="1256.5" r="7.1"/>
<circle cx="1294.8" cy="1258.3" r="7.1"/>
<circle cx="1294.8" cy="1260.0" r="7.1"/>
<circle cx="1294.8" cy="1261.7" r="7.1"/>
<circle cx="1294.8" cy="1263.5" r="7.1"/>
<circle cx="1294.8" cy="1346.7" r="7.1"/>
<circle cx="1294.8" cy="1347.8" r="7.1"/>
<circle cx="1294.8" cy="1348.9" r="7.1"/>
<circle cx="1294.8" cy="1349.9" r="7.1"/>
<circle cx="1294.8" cy="1351.0" r="7.1"/>
<circle cx="1294.8" cy="1352.1" r="7.1"/>
<circle cx="1294.8" cy="1353.2" r="7.1"/>
<circle cx="1294.8" cy="1354.3" r="7.1"/>
<circle cx="1294.8" cy="1355.4" r="7.1"/>
<circle cx="1294.8" cy="1356.5" r="7.1"/>
<circle cx="1294.8" cy="1357.6" r="7.1"/>
<circle cx="1294.8" cy="1358.7" r="7.1"/>
<circle cx="1294.8" cy="1359.8" r="7.1"/>
<circle cx="1294.8" cy="1360.9" r="7.1"/>
<circle cx="1294.8" cy="1361.9" r="7.1"/>
<circle cx="1294.8" cy="1363.0" r="7.1"/>
<circle cx="1294.8" cy="1364.1" r="7.1"/>
<circle cx="1294.8" cy="1365.2" r="7.1"/>
<circle cx="1294.8" cy="1366.3" r="7.1"/>
<circle cx="1294.8" cy="1367.4" r="7.1"/>
<circle cx="1294.8" cy="1368.5" r="7.1"/>
<circle cx="1294.8" cy="1369.6" r="7.1"/>
<circle cx="1294.8" cy="1370.7" r="7.1"/>
<circle cx="1294.8" cy="1371.8" r="7.1"/>
<circle cx="1294.8" cy="1372.9" r="7.1"/>
<circle cx="1294.8" cy="1373.9" r="7.1"/>
<circle cx="1294.8" cy="1375.0" r="7.1"/>
<circle cx="1294.8" cy="1376.1" r="7.1"/>
<circle cx="1294.8" cy="1377.2" r="7.1"/>
<circle cx="1294.8" cy="1378.3" r="7.1"/>
<circle cx="1294.8" cy="1379.4" r="7.1"/>
<circle cx="1294.8" cy="1380.5" r="7.1"/>
<circle cx="1294.8" cy="1381.6" r="7.1"/>
<circle cx="1294.8" cy="1382.7" r="7.1"/>
<circle cx="1294.8" cy="1383.8" r="7.1"/>
<circle cx="1294.8" cy="1384.9" r="7.1"/>
<circle cx="1294.8" cy="1385.9" r="7.1"/>
<circle cx="1294.8" cy="1387.0" r="7.1"/>
<circle cx="1294.8" cy="1388.1" r="7.1"/>
<circle cx="1294.8" cy="1389.2" r="7.1"/>
<circle cx="1741.6" cy="1256.7" r="7.1"/>
<circle cx="1786.1" cy="1252.5" r="7.1"/>
<circle cx="1815.8" cy="1239.6" r="7.1"/>
<circle cx="1841.9" cy="1233.5" r="7.1"/>
<circle cx="1886.7" cy="1232.5" r="7.1"/>
<circle cx="1921.5" cy="1229.9" r="7.1"/>
<circle cx="1924.8" cy="1242.8" r="7.1"/>
<circle cx="1941.9" cy="1234.1" r="7.1"/>
<circle cx="1903.8" cy="1256.7" r="7.1"/>
<circle cx="1907.0" cy="1266.4" r="7.1"/>
<circle cx="1915.1" cy="1266.4" r="7.1"/>
<circle cx="1916.7" cy="1263.1" r="7.1"/>
<circle cx="1933.5" cy="1263.1" r="7.1"/>
<circle cx="1940.9" cy="1251.9" r="7.1"/>
<circle cx="1946.7" cy="1258.3" r="7.1"/>
<circle cx="1963.5" cy="1239.6" r="7.1"/>
<circle cx="1968.3" cy="1248.6" r="7.1"/>
<circle cx="1968.9" cy="1256.1" r="7.1"/>
<circle cx="1959.3" cy="1270.2" r="7.1"/>
<circle cx="1973.1" cy="1273.5" r="7.1"/>
<circle cx="1982.8" cy="1272.8" r="7.1"/>
<circle cx="1978.0" cy="1234.1" r="7.1"/>
<circle cx="1984.4" cy="1234.1" r="7.1"/>
<circle cx="1994.1" cy="1259.9" r="7.1"/>
<circle cx="1993.4" cy="1268.0" r="7.1"/>
<circle cx="2003.8" cy="1266.4" r="7.1"/>
<circle cx="2007.0" cy="1245.4" r="7.1"/>
<circle cx="2019.2" cy="1271.9" r="7.1"/>
<circle cx="2031.2" cy="1241.5" r="7.1"/>
<circle cx="1720.0" cy="1387.3" r="7.1"/>
<circle cx="1735.5" cy="1343.8" r="7.1"/>
<circle cx="1728.1" cy="1359.9" r="7.1"/>
<circle cx="1734.5" cy="1364.7" r="7.1"/>
<circle cx="1747.4" cy="1359.9" r="7.1"/>
<circle cx="1752.2" cy="1367.9" r="7.1"/>
<circle cx="1753.9" cy="1350.2" r="7.1"/>
<circle cx="1768.4" cy="1347.0" r="7.1"/>
<circle cx="1761.9" cy="1359.9" r="7.1"/>
<circle cx="1768.4" cy="1369.6" r="7.1"/>
<circle cx="1770.0" cy="1374.4" r="7.1"/>
<circle cx="1766.8" cy="1377.6" r="7.1"/>
<circle cx="1779.7" cy="1361.5" r="7.1"/>
<circle cx="1782.9" cy="1385.7" r="7.1"/>
<circle cx="1794.2" cy="1385.7" r="7.1"/>
<circle cx="1793.5" cy="1349.2" r="7.1"/>
<circle cx="1742.6" cy="1387.3" r="7.1"/>
<circle cx="1807.1" cy="1387.3" r="7.1"/>
<circle cx="1810.3" cy="1377.6" r="7.1"/>
<circle cx="1816.7" cy="1371.2" r="7.1"/>
<circle cx="1823.2" cy="1359.9" r="7.1"/>
<circle cx="1829.6" cy="1385.7" r="7.1"/>
<circle cx="1836.1" cy="1382.5" r="7.1"/>
<circle cx="1839.3" cy="1374.4" r="7.1"/>
<circle cx="1834.5" cy="1358.3" r="7.1"/>
<circle cx="1836.1" cy="1344.7" r="7.1"/>
<circle cx="1844.1" cy="1345.4" r="7.1"/>
<circle cx="1850.6" cy="1388.9" r="7.1"/>
<circle cx="1855.4" cy="1376.0" r="7.1"/>
<circle cx="1858.7" cy="1363.1" r="7.1"/>
<circle cx="1863.5" cy="1343.8" r="7.1"/>
<circle cx="1868.3" cy="1387.3" r="7.1"/>
<circle cx="1871.6" cy="1372.8" r="7.1"/>
<circle cx="1874.8" cy="1356.7" r="7.1"/>
<circle cx="1878.0" cy="1347.0" r="7.1"/>
<circle cx="1887.7" cy="1388.9" r="7.1"/>
<circle cx="1884.5" cy="1372.8" r="7.1"/>
<circle cx="1890.9" cy="1363.1" r="7.1"/>
<circle cx="1894.1" cy="1353.4" r="7.1"/>
<circle cx="1897.4" cy="1345.4" r="7.1"/>
<circle cx="1900.6" cy="1382.5" r="7.1"/>
<circle cx="1907.0" cy="1369.6" r="7.1"/>
<circle cx="1903.8" cy="1359.9" r="7.1"/>
<circle cx="1913.5" cy="1392.1" r="7.1"/>
<circle cx="1916.7" cy="1379.2" r="7.1"/>
<circle cx="1919.9" cy="1366.3" r="7.1"/>
<circle cx="1923.2" cy="1353.4" r="7.1"/>
<circle cx="1929.6" cy="1345.4" r="7.1"/>
<circle cx="1932.8" cy="1385.7" r="7.1"/>
<circle cx="1936.1" cy="1372.8" r="7.1"/>
<circle cx="1942.5" cy="1359.9" r="7.1"/>
<circle cx="1945.7" cy="1343.8" r="7.1"/>
<circle cx="1952.2" cy="1388.9" r="7.1"/>
<circle cx="1958.6" cy="1376.0" r="7.1"/>
<circle cx="1965.1" cy="1363.1" r="7.1"/>
<circle cx="1968.3" cy="1353.4" r="7.1"/>
<circle cx="1974.7" cy="1369.6" r="7.1"/>
<circle cx="1969.9" cy="1392.1" r="7.1"/>
<circle cx="1979.6" cy="1350.2" r="7.1"/>
<circle cx="1987.6" cy="1385.7" r="7.1"/>
<circle cx="1994.1" cy="1353.4" r="7.1"/>
<circle cx="1995.7" cy="1363.1" r="7.1"/>
<circle cx="2002.2" cy="1376.0" r="7.1"/>
<circle cx="2007.0" cy="1345.4" r="7.1"/>
<circle cx="2008.6" cy="1387.3" r="7.1"/>
<circle cx="2013.4" cy="1359.9" r="7.1"/>
<circle cx="2016.7" cy="1345.4" r="7.1"/>
<circle cx="2023.1" cy="1385.7" r="7.1"/>
<circle cx="2028.0" cy="1376.0" r="7.1"/>
<circle cx="2029.6" cy="1345.4" r="7.1"/>
<circle cx="2037.6" cy="1347.0" r="7.1"/>
<circle cx="2039.2" cy="1358.3" r="7.1"/>
<circle cx="2042.5" cy="1388.9" r="7.1"/>
<circle cx="2045.7" cy="1376.0" r="7.1"/>
<circle cx="2052.1" cy="1359.9" r="7.1"/>
<circle cx="2057.0" cy="1363.1" r="7.1"/>
<circle cx="2058.6" cy="1376.0" r="7.1"/>
<circle cx="2061.8" cy="1347.0" r="7.1"/>
<circle cx="2065.0" cy="1385.7" r="7.1"/>
<circle cx="2071.5" cy="1350.2" r="7.1"/>
<circle cx="2073.1" cy="1363.1" r="7.1"/>
<circle cx="2074.7" cy="1390.5" r="7.1"/>
<circle cx="2077.9" cy="1380.8" r="7.1"/>
<circle cx="2100.5" cy="1356.7" r="7.1"/>
<circle cx="2095.7" cy="1377.6" r="7.1"/>
<circle cx="2102.1" cy="1382.5" r="7.1"/>
<circle cx="2110.2" cy="1353.4" r="7.1"/>
<circle cx="2113.4" cy="1369.6" r="7.1"/>
<circle cx="2107.0" cy="1359.9" r="7.1"/>
<circle cx="1894.1" cy="1366.3" r="7.1"/>
<circle cx="1913.5" cy="1359.9" r="7.1"/>
<circle cx="1929.6" cy="1369.6" r="7.1"/>
<circle cx="1939.3" cy="1382.5" r="7.1"/>
<circle cx="1952.2" cy="1366.3" r="7.1"/>
<circle cx="1926.4" cy="1347.0" r="7.1"/>
<circle cx="1900.6" cy="1353.4" r="7.1"/>
<circle cx="1887.7" cy="1379.2" r="7.1"/>
<circle cx="1916.7" cy="1388.9" r="7.1"/>
<circle cx="1942.5" cy="1388.9" r="7.1"/>
<circle cx="1968.3" cy="1348.3" r="7.1"/>
<circle cx="1971.0" cy="1378.2" r="7.1"/>
<circle cx="1888.2" cy="1365.5" r="7.1"/>
<circle cx="1939.3" cy="1387.0" r="7.1"/>
<circle cx="1913.7" cy="1370.9" r="7.1"/>
<circle cx="1965.5" cy="1381.6" r="7.1"/>
<circle cx="1972.2" cy="1366.0" r="7.1"/>
<circle cx="1942.0" cy="1353.8" r="7.1"/>
<circle cx="1949.3" cy="1382.7" r="7.1"/>
<circle cx="1941.0" cy="1377.9" r="7.1"/>
<circle cx="1896.8" cy="1386.5" r="7.1"/>
<circle cx="1976.0" cy="1390.1" r="7.1"/>
<circle cx="1930.2" cy="1381.4" r="7.1"/>
<circle cx="1907.8" cy="1387.0" r="7.1"/>
<circle cx="1963.1" cy="1360.6" r="7.1"/>
<circle cx="1883.3" cy="1364.9" r="7.1"/>
<circle cx="1931.6" cy="1380.3" r="7.1"/>
<circle cx="1925.1" cy="1345.5" r="7.1"/>
<circle cx="1958.3" cy="1347.2" r="7.1"/>
<circle cx="1957.3" cy="1352.3" r="7.1"/>
<circle cx="1909.4" cy="1381.2" r="7.1"/>
<circle cx="1889.3" cy="1351.2" r="7.1"/>
<circle cx="1928.1" cy="1378.2" r="7.1"/>
<circle cx="1961.5" cy="1376.6" r="7.1"/>
<circle cx="1972.4" cy="1367.4" r="7.1"/>
<circle cx="1972.7" cy="1348.2" r="7.1"/>
<circle cx="1897.6" cy="1369.0" r="7.1"/>
<circle cx="1904.7" cy="1378.5" r="7.1"/>
<circle cx="1940.7" cy="1368.8" r="7.1"/>
<circle cx="1961.8" cy="1370.5" r="7.1"/>
<circle cx="1906.9" cy="1362.1" r="7.1"/>
<circle cx="1962.0" cy="1386.5" r="7.1"/>
<circle cx="1896.3" cy="1384.2" r="7.1"/>
<circle cx="1974.7" cy="1368.8" r="7.1"/>
<circle cx="1933.9" cy="1353.6" r="7.1"/>
<circle cx="1930.1" cy="1367.8" r="7.1"/>
<circle cx="1937.2" cy="1345.5" r="7.1"/>
<circle cx="1974.8" cy="1368.5" r="7.1"/>
<circle cx="1916.1" cy="1381.9" r="7.1"/>
<circle cx="1932.9" cy="1367.3" r="7.1"/>
<circle cx="1539.7" cy="1480.4" r="7.1"/>
<circle cx="1586.5" cy="1461.7" r="7.1"/>
<circle cx="1605.8" cy="1472.0" r="7.1"/>
<circle cx="1587.8" cy="1497.8" r="7.1"/>
<circle cx="1618.7" cy="1497.8" r="7.1"/>
<circle cx="1645.2" cy="1472.0" r="7.1"/>
<circle cx="1658.7" cy="1462.6" r="7.1"/>
<circle cx="1673.6" cy="1466.5" r="7.1"/>
<circle cx="1680.7" cy="1469.7" r="7.1"/>
<circle cx="1675.2" cy="1495.5" r="7.1"/>
<circle cx="1684.9" cy="1497.1" r="7.1"/>
<circle cx="1702.6" cy="1467.2" r="7.1"/>
<circle cx="1701.6" cy="1473.0" r="7.1"/>
<circle cx="1712.9" cy="1479.4" r="7.1"/>
<circle cx="1716.1" cy="1492.3" r="7.1"/>
<circle cx="1717.7" cy="1500.4" r="7.1"/>
<circle cx="1414.0" cy="1617.1" r="7.1"/>
<circle cx="1498.5" cy="1582.6" r="7.1"/>
<circle cx="1564.6" cy="1619.0" r="7.1"/>
<circle cx="1581.7" cy="1619.7" r="7.1"/>
<circle cx="1604.9" cy="1589.0" r="7.1"/>
<circle cx="1613.9" cy="1579.4" r="7.1"/>
<circle cx="1612.9" cy="1610.7" r="7.1"/>
<circle cx="1628.4" cy="1603.6" r="7.1"/>
<circle cx="1658.1" cy="1611.6" r="7.1"/>
<circle cx="1658.1" cy="1619.7" r="7.1"/>
<circle cx="1661.3" cy="1585.8" r="7.1"/>
<circle cx="1684.9" cy="1585.8" r="7.1"/>
<circle cx="1700.0" cy="1614.8" r="7.1"/>
<circle cx="1703.2" cy="1624.5" r="7.1"/>
<circle cx="1706.5" cy="1606.8" r="7.1"/>
<circle cx="1714.5" cy="1597.1" r="7.1"/>
<circle cx="1294.8" cy="1472.0" r="7.1"/>
<circle cx="1294.8" cy="1505.2" r="7.1"/>
<circle cx="1294.8" cy="1507.5" r="7.1"/>
<circle cx="1294.8" cy="1581.6" r="7.1"/>
<circle cx="1294.8" cy="1582.7" r="7.1"/>
<circle cx="1294.8" cy="1583.8" r="7.1"/>
<circle cx="1294.8" cy="1584.8" r="7.1"/>
<circle cx="1294.8" cy="1585.9" r="7.1"/>
<circle cx="1294.8" cy="1587.0" r="7.1"/>
<circle cx="1294.8" cy="1588.0" r="7.1"/>
<circle cx="1294.8" cy="1589.1" r="7.1"/>
<circle cx="1294.8" cy="1590.2" r="7.1"/>
<circle cx="1294.8" cy="1591.2" r="7.1"/>
<circle cx="1294.8" cy="1592.3" r="7.1"/>
<circle cx="1294.8" cy="1593.4" r="7.1"/>
<circle cx="1294.8" cy="1594.4" r="7.1"/>
<circle cx="1294.8" cy="1595.5" r="7.1"/>
<circle cx="1294.8" cy="1596.6" r="7.1"/>
<circle cx="1294.8" cy="1597.6" r="7.1"/>
<circle cx="1294.8" cy="1598.7" r="7.1"/>
<circle cx="1294.8" cy="1599.8" r="7.1"/>
<circle cx="1294.8" cy="1600.8" r="7.1"/>
<circle cx="1294.8" cy="1601.9" r="7.1"/>
<circle cx="1294.8" cy="1603.0" r="7.1"/>
<circle cx="1294.8" cy="1604.0" r="7.1"/>
<circle cx="1294.8" cy="1605.1" r="7.1"/>
<circle cx="1294.8" cy="1606.2" r="7.1"/>
<circle cx="1294.8" cy="1607.2" r="7.1"/>
<circle cx="1294.8" cy="1608.3" r="7.1"/>
<circle cx="1294.8" cy="1609.4" r="7.1"/>
<circle cx="1294.8" cy="1610.4" r="7.1"/>
<circle cx="1294.8" cy="1611.5" r="7.1"/>
<circle cx="1294.8" cy="1612.6" r="7.1"/>
<circle cx="1294.8" cy="1613.6" r="7.1"/>
<circle cx="1294.8" cy="1614.7" r="7.1"/>
<circle cx="1294.8" cy="1615.8" r="7.1"/>
<circle cx="1294.8" cy="1616.8" r="7.1"/>
<circle cx="1294.8" cy="1617.9" r="7.1"/>
<circle cx="1294.8" cy="1619.0" r="7.1"/>
<circle cx="1294.8" cy="1620.0" r="7.1"/>
<circle cx="1294.8" cy="1621.1" r="7.1"/>
<circle cx="1294.8" cy="1622.2" r="7.1"/>
<circle cx="1294.8" cy="1623.2" r="7.1"/>
<circle cx="1720.0" cy="1492.3" r="7.1"/>
<circle cx="1720.0" cy="1500.4" r="7.1"/>
<circle cx="1724.8" cy="1506.8" r="7.1"/>
<circle cx="1726.4" cy="1479.4" r="7.1"/>
<circle cx="1737.7" cy="1489.1" r="7.1"/>
<circle cx="1739.3" cy="1463.3" r="7.1"/>
<circle cx="1741.0" cy="1481.0" r="7.1"/>
<circle cx="1750.6" cy="1474.6" r="7.1"/>
<circle cx="1760.3" cy="1481.0" r="7.1"/>
<circle cx="1770.0" cy="1466.5" r="7.1"/>
<circle cx="1776.4" cy="1477.8" r="7.1"/>
<circle cx="1782.9" cy="1484.2" r="7.1"/>
<circle cx="1786.1" cy="1471.3" r="7.1"/>
<circle cx="1790.9" cy="1483.3" r="7.1"/>
<circle cx="1795.8" cy="1463.3" r="7.1"/>
<circle cx="1799.0" cy="1468.1" r="7.1"/>
<circle cx="1786.8" cy="1501.3" r="7.1"/>
<circle cx="1803.8" cy="1499.7" r="7.1"/>
<circle cx="1810.3" cy="1499.7" r="7.1"/>
<circle cx="1826.4" cy="1486.8" r="7.1"/>
<circle cx="1828.7" cy="1502.6" r="7.1"/>
<circle cx="1844.1" cy="1476.2" r="7.1"/>
<circle cx="1848.0" cy="1461.7" r="7.1"/>
<circle cx="1851.2" cy="1479.4" r="7.1"/>
<circle cx="1858.7" cy="1465.5" r="7.1"/>
<circle cx="1869.9" cy="1473.6" r="7.1"/>
<circle cx="1857.7" cy="1505.9" r="7.1"/>
<circle cx="1882.8" cy="1500.4" r="7.1"/>
<circle cx="1888.6" cy="1489.7" r="7.1"/>
<circle cx="1911.2" cy="1500.4" r="7.1"/>
<circle cx="1915.1" cy="1482.6" r="7.1"/>
<circle cx="1921.5" cy="1471.3" r="7.1"/>
<circle cx="1921.5" cy="1500.4" r="7.1"/>
<circle cx="1928.0" cy="1489.1" r="7.1"/>
<circle cx="1936.7" cy="1482.6" r="7.1"/>
<circle cx="1942.5" cy="1495.5" r="7.1"/>
<circle cx="1945.7" cy="1487.5" r="7.1"/>
<circle cx="1957.0" cy="1464.9" r="7.1"/>
<circle cx="1955.4" cy="1474.6" r="7.1"/>
<circle cx="1961.8" cy="1479.4" r="7.1"/>
<circle cx="1973.1" cy="1468.1" r="7.1"/>
<circle cx="1971.5" cy="1493.9" r="7.1"/>
<circle cx="1976.4" cy="1502.0" r="7.1"/>
<circle cx="1984.4" cy="1476.2" r="7.1"/>
<circle cx="1987.6" cy="1498.8" r="7.1"/>
<circle cx="1994.1" cy="1463.3" r="7.1"/>
<circle cx="1997.3" cy="1479.4" r="7.1"/>
<circle cx="2000.5" cy="1482.6" r="7.1"/>
<circle cx="2005.4" cy="1498.8" r="7.1"/>
<circle cx="2005.4" cy="1505.2" r="7.1"/>
<circle cx="2018.3" cy="1464.9" r="7.1"/>
<circle cx="2021.5" cy="1476.2" r="7.1"/>
<circle cx="2028.0" cy="1481.0" r="7.1"/>
<circle cx="2039.2" cy="1474.6" r="7.1"/>
<circle cx="2042.5" cy="1506.8" r="7.1"/>
<circle cx="2057.0" cy="1468.1" r="7.1"/>
<circle cx="2066.6" cy="1461.7" r="7.1"/>
<circle cx="2070.8" cy="1504.2" r="7.1"/>
<circle cx="2084.4" cy="1496.5" r="7.1"/>
<circle cx="2095.7" cy="1485.2" r="7.1"/>
<circle cx="2110.2" cy="1481.0" r="7.1"/>
<circle cx="2115.7" cy="1493.0" r="7.1"/>
<circle cx="2170.8" cy="1485.2" r="7.1"/>
<circle cx="1948.9" cy="1468.1" r="7.1"/>
<circle cx="1958.6" cy="1461.7" r="7.1"/>
<circle cx="1720.0" cy="1595.5" r="7.1"/>
<circle cx="1728.1" cy="1621.3" r="7.1"/>
<circle cx="1732.9" cy="1611.6" r="7.1"/>
<circle cx="1736.1" cy="1619.7" r="7.1"/>
<circle cx="1752.2" cy="1608.4" r="7.1"/>
<circle cx="1763.5" cy="1616.5" r="7.1"/>
<circle cx="1768.4" cy="1610.0" r="7.1"/>
<circle cx="1807.7" cy="1610.7" r="7.1"/>
<circle cx="1813.5" cy="1592.3" r="7.1"/>
<circle cx="1836.7" cy="1591.3" r="7.1"/>
<circle cx="1836.7" cy="1624.5" r="7.1"/>
<circle cx="1855.4" cy="1600.3" r="7.1"/>
<circle cx="1863.5" cy="1598.7" r="7.1"/>
<circle cx="1868.3" cy="1585.8" r="7.1"/>
<circle cx="1866.7" cy="1613.2" r="7.1"/>
<circle cx="1881.2" cy="1616.5" r="7.1"/>
<circle cx="1884.5" cy="1595.5" r="7.1"/>
<circle cx="1890.9" cy="1597.1" r="7.1"/>
<circle cx="1895.7" cy="1610.0" r="7.1"/>
<circle cx="1905.4" cy="1622.9" r="7.1"/>
<circle cx="1907.0" cy="1597.1" r="7.1"/>
<circle cx="1913.5" cy="1587.4" r="7.1"/>
<circle cx="1918.3" cy="1579.4" r="7.1"/>
<circle cx="1919.9" cy="1610.0" r="7.1"/>
<circle cx="1919.9" cy="1619.7" r="7.1"/>
<circle cx="1926.4" cy="1592.3" r="7.1"/>
<circle cx="1929.6" cy="1603.6" r="7.1"/>
<circle cx="1932.8" cy="1614.8" r="7.1"/>
<circle cx="1940.9" cy="1608.4" r="7.1"/>
<circle cx="1945.7" cy="1582.6" r="7.1"/>
<circle cx="1948.9" cy="1590.7" r="7.1"/>
<circle cx="1953.8" cy="1618.1" r="7.1"/>
<circle cx="1958.6" cy="1584.2" r="7.1"/>
<circle cx="1961.8" cy="1593.9" r="7.1"/>
<circle cx="1971.5" cy="1601.9" r="7.1"/>
<circle cx="1971.5" cy="1611.6" r="7.1"/>
<circle cx="1973.1" cy="1622.9" r="7.1"/>
<circle cx="1974.7" cy="1589.0" r="7.1"/>
<circle cx="1984.4" cy="1608.4" r="7.1"/>
<circle cx="1987.6" cy="1590.7" r="7.1"/>
<circle cx="1989.3" cy="1582.6" r="7.1"/>
<circle cx="1987.6" cy="1622.9" r="7.1"/>
<circle cx="1994.1" cy="1595.5" r="7.1"/>
<circle cx="2003.8" cy="1622.9" r="7.1"/>
<circle cx="2008.6" cy="1597.1" r="7.1"/>
<circle cx="2013.4" cy="1584.2" r="7.1"/>
<circle cx="2013.4" cy="1603.6" r="7.1"/>
<circle cx="2015.1" cy="1621.3" r="7.1"/>
<circle cx="2023.1" cy="1598.7" r="7.1"/>
<circle cx="2032.8" cy="1611.6" r="7.1"/>
<circle cx="2045.7" cy="1605.2" r="7.1"/>
<circle cx="2044.1" cy="1619.7" r="7.1"/>
<circle cx="2057.0" cy="1606.8" r="7.1"/>
<circle cx="2058.6" cy="1585.8" r="7.1"/>
<circle cx="2063.4" cy="1619.7" r="7.1"/>
<circle cx="2068.3" cy="1598.7" r="7.1"/>
<circle cx="2097.3" cy="1587.4" r="7.1"/>
<circle cx="2103.7" cy="1598.7" r="7.1"/>
<circle cx="2110.2" cy="1590.0" r="7.1"/>
<circle cx="2139.2" cy="1585.8" r="7.1"/>
<circle cx="1894.1" cy="1593.9" r="7.1"/>
<circle cx="1913.5" cy="1600.3" r="7.1"/>
<circle cx="1923.2" cy="1597.1" r="7.1"/>
<circle cx="1932.8" cy="1593.9" r="7.1"/>
<circle cx="1997.2" cy="1347.3" r="7.1"/>
<circle cx="1957.4" cy="1363.6" r="7.1"/>
<circle cx="2066.7" cy="1387.6" r="7.1"/>
<circle cx="1887.1" cy="1366.4" r="7.1"/>
<circle cx="1849.9" cy="1364.6" r="7.1"/>
<circle cx="2029.8" cy="1386.5" r="7.1"/>
<circle cx="1941.2" cy="1359.1" r="7.1"/>
<circle cx="1866.7" cy="1373.2" r="7.1"/>
<circle cx="2058.4" cy="1350.3" r="7.1"/>
<circle cx="2020.3" cy="1345.3" r="7.1"/>
<circle cx="1867.4" cy="1354.9" r="7.1"/>
<circle cx="1996.2" cy="1359.3" r="7.1"/>
<circle cx="1909.6" cy="1373.3" r="7.1"/>
<circle cx="1844.1" cy="1378.6" r="7.1"/>
<circle cx="1848.8" cy="1368.2" r="7.1"/>
<circle cx="1882.2" cy="1353.5" r="7.1"/>
<circle cx="1955.3" cy="1364.7" r="7.1"/>
<circle cx="1914.9" cy="1363.6" r="7.1"/>
<circle cx="1955.0" cy="1351.7" r="7.1"/>
<circle cx="1870.1" cy="1373.9" r="7.1"/>
<circle cx="1983.5" cy="1369.1" r="7.1"/>
<circle cx="2039.1" cy="1373.0" r="7.1"/>
<circle cx="2040.5" cy="1355.1" r="7.1"/>
<circle cx="2010.2" cy="1382.3" r="7.1"/>
<circle cx="2052.5" cy="1359.0" r="7.1"/>
<circle cx="1899.0" cy="1387.6" r="7.1"/>
<circle cx="1873.7" cy="1391.1" r="7.1"/>
<circle cx="2048.6" cy="1350.5" r="7.1"/>
<circle cx="1879.3" cy="1378.3" r="7.1"/>
<circle cx="1884.5" cy="1348.8" r="7.1"/>
<circle cx="2034.1" cy="1364.0" r="7.1"/>
<circle cx="2023.1" cy="1350.1" r="7.1"/>
<circle cx="1921.9" cy="1376.4" r="7.1"/>
<circle cx="1821.4" cy="1353.6" r="7.1"/>
<circle cx="1995.0" cy="1387.0" r="7.1"/>
<circle cx="2069.7" cy="1349.6" r="7.1"/>
<circle cx="1948.8" cy="1379.8" r="7.1"/>
<circle cx="1948.1" cy="1376.4" r="7.1"/>
<circle cx="1866.1" cy="1347.5" r="7.1"/>
<circle cx="1844.5" cy="1346.0" r="7.1"/>
<circle cx="1960.8" cy="1368.4" r="7.1"/>
<circle cx="1965.3" cy="1351.1" r="7.1"/>
<circle cx="1864.9" cy="1353.8" r="7.1"/>
<circle cx="2036.2" cy="1390.7" r="7.1"/>
<circle cx="2058.8" cy="1348.7" r="7.1"/>
<circle cx="1832.9" cy="1388.9" r="7.1"/>
<circle cx="1937.4" cy="1380.1" r="7.1"/>
<circle cx="1902.1" cy="1366.1" r="7.1"/>
<circle cx="1951.3" cy="1364.4" r="7.1"/>
<circle cx="1973.7" cy="1344.8" r="7.1"/>
<circle cx="1446.9" cy="1713.4" r="7.1"/>
<circle cx="1474.9" cy="1729.5" r="7.1"/>
<circle cx="1486.5" cy="1721.5" r="7.1"/>
<circle cx="1498.5" cy="1715.7" r="7.1"/>
<circle cx="1513.0" cy="1723.1" r="7.1"/>
<circle cx="1518.8" cy="1707.6" r="7.1"/>
<circle cx="1537.8" cy="1699.5" r="7.1"/>
<circle cx="1575.9" cy="1698.9" r="7.1"/>
<circle cx="1577.5" cy="1706.0" r="7.1"/>
<circle cx="1607.5" cy="1724.1" r="7.1"/>
<circle cx="1611.3" cy="1726.3" r="7.1"/>
<circle cx="1614.6" cy="1727.9" r="7.1"/>
<circle cx="1624.9" cy="1708.6" r="7.1"/>
<circle cx="1632.3" cy="1708.6" r="7.1"/>
<circle cx="1622.6" cy="1718.2" r="7.1"/>
<circle cx="1630.7" cy="1719.9" r="7.1"/>
<circle cx="1655.8" cy="1702.1" r="7.1"/>
<circle cx="1683.9" cy="1696.3" r="7.1"/>
<circle cx="1701.6" cy="1710.2" r="7.1"/>
<circle cx="1706.5" cy="1723.1" r="7.1"/>
<circle cx="1708.1" cy="1731.1" r="7.1"/>
<circle cx="1712.9" cy="1713.4" r="7.1"/>
<circle cx="1593.6" cy="1840.8" r="7.1"/>
<circle cx="1632.9" cy="1824.7" r="7.1"/>
<circle cx="1294.8" cy="1698.6" r="7.1"/>
<circle cx="1294.8" cy="1699.7" r="7.1"/>
<circle cx="1294.8" cy="1700.8" r="7.1"/>
<circle cx="1294.8" cy="1701.9" r="7.1"/>
<circle cx="1294.8" cy="1703.0" r="7.1"/>
<circle cx="1294.8" cy="1704.0" r="7.1"/>
<circle cx="1294.8" cy="1705.1" r="7.1"/>
<circle cx="1294.8" cy="1706.2" r="7.1"/>
<circle cx="1294.8" cy="1707.3" r="7.1"/>
<circle cx="1294.8" cy="1708.4" r="7.1"/>
<circle cx="1294.8" cy="1709.5" r="7.1"/>
<circle cx="1294.8" cy="1710.6" r="7.1"/>
<circle cx="1294.8" cy="1711.7" r="7.1"/>
<circle cx="1294.8" cy="1712.8" r="7.1"/>
<circle cx="1294.8" cy="1713.9" r="7.1"/>
<circle cx="1294.8" cy="1714.9" r="7.1"/>
<circle cx="1294.8" cy="1716.0" r="7.1"/>
<circle cx="1294.8" cy="1717.1" r="7.1"/>
<circle cx="1294.8" cy="1718.2" r="7.1"/>
<circle cx="1294.8" cy="1719.3" r="7.1"/>
<circle cx="1294.8" cy="1720.4" r="7.1"/>
<circle cx="1294.8" cy="1721.5" r="7.1"/>
<circle cx="1294.8" cy="1722.6" r="7.1"/>
<circle cx="1294.8" cy="1723.7" r="7.1"/>
<circle cx="1294.8" cy="1724.8" r="7.1"/>
<circle cx="1294.8" cy="1725.9" r="7.1"/>
<circle cx="1294.8" cy="1726.9" r="7.1"/>
<circle cx="1294.8" cy="1728.0" r="7.1"/>
<circle cx="1294.8" cy="1729.1" r="7.1"/>
<circle cx="1294.8" cy="1730.2" r="7.1"/>
<circle cx="1294.8" cy="1731.3" r="7.1"/>
<circle cx="1294.8" cy="1732.4" r="7.1"/>
<circle cx="1294.8" cy="1733.5" r="7.1"/>
<circle cx="1294.8" cy="1734.6" r="7.1"/>
<circle cx="1294.8" cy="1735.7" r="7.1"/>
<circle cx="1294.8" cy="1736.8" r="7.1"/>
<circle cx="1294.8" cy="1737.9" r="7.1"/>
<circle cx="1294.8" cy="1738.9" r="7.1"/>
<circle cx="1294.8" cy="1740.0" r="7.1"/>
<circle cx="1294.8" cy="1741.1" r="7.1"/>
<circle cx="1294.8" cy="1816.3" r="7.1"/>
<circle cx="1294.8" cy="1819.3" r="7.1"/>
<circle cx="1294.8" cy="1822.3" r="7.1"/>
<circle cx="1294.8" cy="1825.3" r="7.1"/>
<circle cx="1294.8" cy="1828.2" r="7.1"/>
<circle cx="1294.8" cy="1831.2" r="7.1"/>
<circle cx="1294.8" cy="1834.2" r="7.1"/>
<circle cx="1294.8" cy="1837.2" r="7.1"/>
<circle cx="1294.8" cy="1840.2" r="7.1"/>
<circle cx="1294.8" cy="1843.2" r="7.1"/>
<circle cx="1294.8" cy="1846.2" r="7.1"/>
<circle cx="1294.8" cy="1849.2" r="7.1"/>
<circle cx="1720.0" cy="1713.4" r="7.1"/>
<circle cx="1720.0" cy="1732.8" r="7.1"/>
<circle cx="1726.4" cy="1716.6" r="7.1"/>
<circle cx="1734.5" cy="1724.7" r="7.1"/>
<circle cx="1732.9" cy="1734.4" r="7.1"/>
<circle cx="1752.2" cy="1695.7" r="7.1"/>
<circle cx="1752.2" cy="1711.8" r="7.1"/>
<circle cx="1761.9" cy="1716.6" r="7.1"/>
<circle cx="1758.7" cy="1729.5" r="7.1"/>
<circle cx="1766.8" cy="1732.8" r="7.1"/>
<circle cx="1770.0" cy="1736.0" r="7.1"/>
<circle cx="1766.8" cy="1707.0" r="7.1"/>
<circle cx="1781.3" cy="1697.3" r="7.1"/>
<circle cx="1782.9" cy="1716.6" r="7.1"/>
<circle cx="1787.7" cy="1703.7" r="7.1"/>
<circle cx="1794.2" cy="1719.9" r="7.1"/>
<circle cx="1797.4" cy="1708.6" r="7.1"/>
<circle cx="1807.1" cy="1697.3" r="7.1"/>
<circle cx="1813.5" cy="1698.9" r="7.1"/>
<circle cx="1810.3" cy="1718.2" r="7.1"/>
<circle cx="1794.2" cy="1739.2" r="7.1"/>
<circle cx="1805.5" cy="1737.6" r="7.1"/>
<circle cx="1836.1" cy="1721.5" r="7.1"/>
<circle cx="1844.1" cy="1729.5" r="7.1"/>
<circle cx="1845.8" cy="1700.5" r="7.1"/>
<circle cx="1852.2" cy="1703.7" r="7.1"/>
<circle cx="1857.0" cy="1718.2" r="7.1"/>
<circle cx="1857.0" cy="1727.9" r="7.1"/>
<circle cx="1869.9" cy="1731.1" r="7.1"/>
<circle cx="1874.8" cy="1716.6" r="7.1"/>
<circle cx="1881.2" cy="1700.5" r="7.1"/>
<circle cx="1878.0" cy="1724.7" r="7.1"/>
<circle cx="1881.2" cy="1739.2" r="7.1"/>
<circle cx="1894.1" cy="1698.9" r="7.1"/>
<circle cx="2110.2" cy="1703.7" r="7.1"/>
<circle cx="2126.3" cy="1703.7" r="7.1"/>
<circle cx="2139.2" cy="1713.4" r="7.1"/>
<circle cx="2123.1" cy="1729.5" r="7.1"/>
<circle cx="2131.1" cy="1736.9" r="7.1"/>
<circle cx="2084.4" cy="1742.4" r="7.1"/>
<circle cx="2102.1" cy="1742.4" r="7.1"/>
<circle cx="2232.7" cy="1695.7" r="7.1"/>
<circle cx="1752.2" cy="1816.6" r="7.1"/>
<circle cx="1770.6" cy="1816.6" r="7.1"/>
<circle cx="1803.8" cy="1833.4" r="7.1"/>
<circle cx="1792.6" cy="1844.0" r="7.1"/>
<circle cx="1797.4" cy="1857.9" r="7.1"/>
<circle cx="1817.7" cy="1844.7" r="7.1"/>
<circle cx="1841.6" cy="1836.6" r="7.1"/>
<circle cx="1860.9" cy="1822.4" r="7.1"/>
<circle cx="1869.3" cy="1816.6" r="7.1"/>
<circle cx="1897.4" cy="1832.7" r="7.1"/>
<circle cx="1914.4" cy="1854.3" r="7.1"/>
<circle cx="1964.4" cy="1839.8" r="7.1"/>
<circle cx="1998.9" cy="1815.6" r="7.1"/>
<circle cx="2021.5" cy="1849.5" r="7.1"/>
<circle cx="2038.6" cy="1845.6" r="7.1"/>
<circle cx="2101.5" cy="1833.7" r="7.1"/>
<circle cx="2047.8" cy="1735.2" r="7.1"/>
<circle cx="1933.9" cy="1716.9" r="7.1"/>
<circle cx="2056.2" cy="1714.6" r="7.1"/>
<circle cx="1936.9" cy="1703.3" r="7.1"/>
<circle cx="2006.5" cy="1696.3" r="7.1"/>
<circle cx="2090.0" cy="1733.2" r="7.1"/>
<circle cx="2048.6" cy="1736.0" r="7.1"/>
<circle cx="2032.1" cy="1714.6" r="7.1"/>
<circle cx="2025.6" cy="1719.3" r="7.1"/>
<circle cx="2109.6" cy="1733.4" r="7.1"/>
<circle cx="1950.8" cy="1738.4" r="7.1"/>
<circle cx="2057.4" cy="1732.1" r="7.1"/>
<circle cx="2072.8" cy="1714.6" r="7.1"/>
<circle cx="2090.7" cy="1736.9" r="7.1"/>
<circle cx="2046.5" cy="1731.6" r="7.1"/>
<circle cx="2061.9" cy="1714.6" r="7.1"/>
<circle cx="2052.6" cy="1698.9" r="7.1"/>
<circle cx="1969.1" cy="1717.6" r="7.1"/>
<circle cx="1896.5" cy="1712.3" r="7.1"/>
<circle cx="2034.2" cy="1724.9" r="7.1"/>
<circle cx="1945.0" cy="1740.0" r="7.1"/>
<circle cx="2040.2" cy="1711.4" r="7.1"/>
<circle cx="2038.8" cy="1722.3" r="7.1"/>
<circle cx="2011.0" cy="1713.9" r="7.1"/>
<circle cx="2113.4" cy="1725.7" r="7.1"/>
<circle cx="2047.9" cy="1731.4" r="7.1"/>
<circle cx="2109.0" cy="1696.6" r="7.1"/>
<circle cx="2029.1" cy="1730.3" r="7.1"/>
<circle cx="1950.4" cy="1714.4" r="7.1"/>
<circle cx="1905.2" cy="1704.7" r="7.1"/>
<circle cx="1976.5" cy="1700.2" r="7.1"/>
<circle cx="1949.1" cy="1738.1" r="7.1"/>
<circle cx="2014.7" cy="1719.4" r="7.1"/>
<circle cx="2106.2" cy="1722.3" r="7.1"/>
<circle cx="2112.3" cy="1725.5" r="7.1"/>
<circle cx="2071.6" cy="1699.1" r="7.1"/>
<circle cx="2025.2" cy="1731.2" r="7.1"/>
<circle cx="1904.0" cy="1739.3" r="7.1"/>
<circle cx="1929.2" cy="1717.7" r="7.1"/>
<circle cx="1931.2" cy="1718.8" r="7.1"/>
<circle cx="2028.1" cy="1698.3" r="7.1"/>
<circle cx="2101.4" cy="1715.3" r="7.1"/>
<circle cx="2009.6" cy="1723.7" r="7.1"/>
<circle cx="1974.3" cy="1709.0" r="7.1"/>
<circle cx="2037.8" cy="1721.9" r="7.1"/>
<circle cx="1956.3" cy="1729.2" r="7.1"/>
<circle cx="1959.0" cy="1696.2" r="7.1"/>
<circle cx="1947.9" cy="1697.6" r="7.1"/>
<circle cx="1928.5" cy="1731.0" r="7.1"/>
<circle cx="1979.6" cy="1737.7" r="7.1"/>
<circle cx="2058.2" cy="1697.9" r="7.1"/>
<circle cx="2110.9" cy="1739.9" r="7.1"/>
<circle cx="1910.2" cy="1738.1" r="7.1"/>
<circle cx="1988.3" cy="1718.0" r="7.1"/>
<circle cx="2107.5" cy="1707.0" r="7.1"/>
<circle cx="2008.9" cy="1739.6" r="7.1"/>
<circle cx="2052.6" cy="1717.6" r="7.1"/>
<circle cx="2108.8" cy="1733.9" r="7.1"/>
<circle cx="2026.5" cy="1701.0" r="7.1"/>
<circle cx="2031.0" cy="1717.0" r="7.1"/>
<circle cx="1938.8" cy="1698.0" r="7.1"/>
<circle cx="2009.9" cy="1701.4" r="7.1"/>
<circle cx="1991.2" cy="1727.0" r="7.1"/>
<circle cx="1994.0" cy="1707.9" r="7.1"/>
<circle cx="2021.8" cy="1715.3" r="7.1"/>
<circle cx="2064.7" cy="1720.5" r="7.1"/>
<circle cx="2112.9" cy="1740.3" r="7.1"/>
<circle cx="2055.1" cy="1706.8" r="7.1"/>
<circle cx="1919.1" cy="1737.5" r="7.1"/>
<circle cx="2066.1" cy="1724.9" r="7.1"/>
<circle cx="1972.9" cy="1708.3" r="7.1"/>
<circle cx="2044.3" cy="1722.1" r="7.1"/>
<circle cx="2023.9" cy="1725.3" r="7.1"/>
<circle cx="2059.3" cy="1704.5" r="7.1"/>
<circle cx="1948.7" cy="1741.6" r="7.1"/>
<circle cx="2094.9" cy="1736.9" r="7.1"/>
<circle cx="1902.8" cy="1698.4" r="7.1"/>
<circle cx="1953.5" cy="1715.5" r="7.1"/>
<circle cx="2030.8" cy="1700.4" r="7.1"/>
<circle cx="2012.9" cy="1699.0" r="7.1"/>
<circle cx="1913.1" cy="1727.3" r="7.1"/>
<circle cx="2014.9" cy="1725.2" r="7.1"/>
<circle cx="1976.0" cy="1718.1" r="7.1"/>
<circle cx="1940.3" cy="1711.7" r="7.1"/>
<circle cx="2057.5" cy="1735.0" r="7.1"/>
<circle cx="1910.4" cy="1701.2" r="7.1"/>
<circle cx="2071.6" cy="1724.9" r="7.1"/>
<circle cx="2062.7" cy="1705.6" r="7.1"/>
<circle cx="1987.2" cy="1707.7" r="7.1"/>
<circle cx="2071.7" cy="1712.9" r="7.1"/>
<circle cx="2037.5" cy="1742.1" r="7.1"/>
<circle cx="1965.5" cy="1721.3" r="7.1"/>
<circle cx="2057.7" cy="1738.8" r="7.1"/>
<circle cx="1987.9" cy="1712.9" r="7.1"/>
<circle cx="1915.4" cy="1736.7" r="7.1"/>
<circle cx="1911.3" cy="1699.5" r="7.1"/>
<circle cx="2017.8" cy="1718.3" r="7.1"/>
<circle cx="2044.4" cy="1709.6" r="7.1"/>
<circle cx="2064.2" cy="1699.1" r="7.1"/>
<circle cx="1940.9" cy="1726.7" r="7.1"/>
<circle cx="1912.0" cy="1709.8" r="7.1"/>
<circle cx="2053.1" cy="1728.2" r="7.1"/>
<circle cx="1956.2" cy="1702.3" r="7.1"/>
<circle cx="1972.6" cy="1729.7" r="7.1"/>
<circle cx="1974.5" cy="1701.1" r="7.1"/>
<circle cx="2049.7" cy="1722.3" r="7.1"/>
<circle cx="2095.5" cy="1739.7" r="7.1"/>
<circle cx="2094.4" cy="1716.1" r="7.1"/>
<circle cx="2070.2" cy="1709.9" r="7.1"/>
<circle cx="1963.8" cy="1714.3" r="7.1"/>
<circle cx="2099.1" cy="1737.6" r="7.1"/>
<circle cx="1948.6" cy="1712.6" r="7.1"/>
<circle cx="1974.3" cy="1712.6" r="7.1"/>
<circle cx="1980.9" cy="1713.8" r="7.1"/>
<circle cx="1936.9" cy="1722.1" r="7.1"/>
<circle cx="2068.9" cy="1721.0" r="7.1"/>
<circle cx="2077.5" cy="1722.0" r="7.1"/>
<circle cx="1932.9" cy="1731.2" r="7.1"/>
<circle cx="2087.3" cy="1708.8" r="7.1"/>
<circle cx="1899.0" cy="1719.8" r="7.1"/>
<circle cx="2013.4" cy="1722.2" r="7.1"/>
<circle cx="2106.0" cy="1726.2" r="7.1"/>
<circle cx="2070.5" cy="1698.6" r="7.1"/>
<circle cx="2014.0" cy="1732.6" r="7.1"/>
<circle cx="1912.6" cy="1699.4" r="7.1"/>
<circle cx="2055.7" cy="1737.8" r="7.1"/>
<circle cx="1912.7" cy="1725.4" r="7.1"/>
<circle cx="1925.7" cy="1730.6" r="7.1"/>
<circle cx="2036.4" cy="1707.1" r="7.1"/>
<circle cx="1942.5" cy="1731.5" r="7.1"/>
<circle cx="2008.5" cy="1731.5" r="7.1"/>
<circle cx="1980.6" cy="1711.4" r="7.1"/>
<circle cx="2106.4" cy="1727.2" r="7.1"/>
<circle cx="2002.4" cy="1720.8" r="7.1"/>
<circle cx="2052.2" cy="1728.8" r="7.1"/>
<circle cx="2094.8" cy="1714.9" r="7.1"/>
<circle cx="2075.3" cy="1726.9" r="7.1"/>
<circle cx="2081.3" cy="1733.4" r="7.1"/>
<circle cx="2077.0" cy="1737.3" r="7.1"/>
<circle cx="2104.1" cy="1725.7" r="7.1"/>
<circle cx="2009.0" cy="1728.9" r="7.1"/>
<circle cx="2070.0" cy="1715.4" r="7.1"/>
<circle cx="1986.3" cy="1702.4" r="7.1"/>
<circle cx="2056.7" cy="1742.1" r="7.1"/>
<circle cx="1976.5" cy="1703.4" r="7.1"/>
<circle cx="1938.9" cy="1715.5" r="7.1"/>
<circle cx="1958.2" cy="1741.1" r="7.1"/>
<circle cx="1907.1" cy="1710.1" r="7.1"/>
<circle cx="1919.3" cy="1726.0" r="7.1"/>
<circle cx="2064.3" cy="1704.0" r="7.1"/>
<circle cx="1907.8" cy="1717.1" r="7.1"/>
<circle cx="2022.2" cy="1738.3" r="7.1"/>
<circle cx="1902.1" cy="1700.7" r="7.1"/>
<circle cx="1934.6" cy="1705.8" r="7.1"/>
<circle cx="1945.7" cy="1729.3" r="7.1"/>
<circle cx="2024.6" cy="1706.1" r="7.1"/>
<circle cx="1934.7" cy="1708.8" r="7.1"/>
<circle cx="1932.0" cy="1731.2" r="7.1"/>
<circle cx="1962.5" cy="1721.3" r="7.1"/>
<circle cx="2073.3" cy="1718.1" r="7.1"/>
<circle cx="1951.2" cy="1737.3" r="7.1"/>
<circle cx="2094.6" cy="1711.6" r="7.1"/>
<circle cx="2014.2" cy="1740.5" r="7.1"/>
<circle cx="2000.0" cy="1705.9" r="7.1"/>
<circle cx="1905.0" cy="1740.1" r="7.1"/>
<circle cx="2069.9" cy="1713.7" r="7.1"/>
<circle cx="2009.8" cy="1719.8" r="7.1"/>
<circle cx="1954.3" cy="1742.1" r="7.1"/>
<circle cx="2038.3" cy="1706.7" r="7.1"/>
<circle cx="1896.5" cy="1717.8" r="7.1"/>
<circle cx="1975.6" cy="1733.0" r="7.1"/>
<circle cx="2050.5" cy="1724.0" r="7.1"/>
<circle cx="1928.6" cy="1702.9" r="7.1"/>
<circle cx="1964.7" cy="1707.8" r="7.1"/>
<circle cx="2084.7" cy="1719.8" r="7.1"/>
<circle cx="1925.4" cy="1508.0" r="7.1"/>
<circle cx="1805.9" cy="1486.4" r="7.1"/>
<circle cx="1768.6" cy="1497.5" r="7.1"/>
<circle cx="1720.4" cy="1499.9" r="7.1"/>
<circle cx="1992.9" cy="1500.0" r="7.1"/>
<circle cx="1746.6" cy="1474.0" r="7.1"/>
<circle cx="1951.1" cy="1465.9" r="7.1"/>
<circle cx="1874.8" cy="1483.3" r="7.1"/>
<circle cx="2028.1" cy="1488.9" r="7.1"/>
<circle cx="1996.5" cy="1475.6" r="7.1"/>
<circle cx="1974.5" cy="1480.9" r="7.1"/>
<circle cx="2015.6" cy="1465.6" r="7.1"/>
<circle cx="1986.5" cy="1471.1" r="7.1"/>
<circle cx="1895.2" cy="1486.0" r="7.1"/>
<circle cx="1770.8" cy="1500.4" r="7.1"/>
<circle cx="1922.7" cy="1593.0" r="7.1"/>
<circle cx="1871.9" cy="1592.8" r="7.1"/>
<circle cx="1956.4" cy="1612.1" r="7.1"/>
<circle cx="1933.2" cy="1610.7" r="7.1"/>
<circle cx="1878.3" cy="1597.0" r="7.1"/>
<circle cx="1955.2" cy="1623.9" r="7.1"/>
<circle cx="2034.7" cy="1609.2" r="7.1"/>
<circle cx="1858.1" cy="1596.2" r="7.1"/>
<circle cx="2008.8" cy="1589.6" r="7.1"/>
<circle cx="1977.3" cy="1600.0" r="7.1"/>
<circle cx="1857.7" cy="1625.0" r="7.1"/>
<circle cx="2028.2" cy="1588.2" r="7.1"/>
<circle cx="1988.5" cy="1592.1" r="7.1"/>
<circle cx="1936.7" cy="1603.8" r="7.1"/>
<circle cx="1919.9" cy="1594.3" r="7.1"/>
<circle cx="1940.2" cy="1609.8" r="7.1"/>
<circle cx="1910.8" cy="1587.8" r="7.1"/>
<circle cx="2013.5" cy="1593.9" r="7.1"/>
<circle cx="2059.6" cy="1604.9" r="7.1"/>
<circle cx="2011.8" cy="1594.0" r="7.1"/>
<circle cx="2034.1" cy="1582.8" r="7.1"/>
<circle cx="1885.9" cy="1582.9" r="7.1"/>
<circle cx="2001.9" cy="1611.7" r="7.1"/>
<circle cx="1894.3" cy="1597.3" r="7.1"/>
<circle cx="2036.3" cy="1606.3" r="7.1"/>
<circle cx="1874.9" cy="1589.1" r="7.1"/>
<circle cx="1889.4" cy="1584.3" r="7.1"/>
<circle cx="1943.3" cy="1581.9" r="7.1"/>
<circle cx="2054.3" cy="1598.5" r="7.1"/>
<circle cx="1966.0" cy="1608.9" r="7.1"/>
<circle cx="1539.7" cy="1957.1" r="7.1"/>
<circle cx="1587.1" cy="1941.0" r="7.1"/>
<circle cx="1586.5" cy="1961.3" r="7.1"/>
<circle cx="1605.8" cy="1933.5" r="7.1"/>
<circle cx="1624.9" cy="1932.9" r="7.1"/>
<circle cx="1618.7" cy="1963.5" r="7.1"/>
<circle cx="1648.4" cy="1933.5" r="7.1"/>
<circle cx="1645.2" cy="1968.4" r="7.1"/>
<circle cx="1658.7" cy="1952.2" r="7.1"/>
<circle cx="1667.8" cy="1934.5" r="7.1"/>
<circle cx="1674.2" cy="1942.6" r="7.1"/>
<circle cx="1680.0" cy="1930.6" r="7.1"/>
<circle cx="1675.8" cy="1966.8" r="7.1"/>
<circle cx="1684.5" cy="1964.2" r="7.1"/>
<circle cx="1703.2" cy="1951.3" r="7.1"/>
<circle cx="1701.6" cy="1963.5" r="7.1"/>
<circle cx="1707.4" cy="1973.2" r="7.1"/>
<circle cx="1712.9" cy="1965.1" r="7.1"/>
<circle cx="1717.7" cy="1937.7" r="7.1"/>
<circle cx="1661.3" cy="2086.1" r="7.1"/>
<circle cx="1719.4" cy="2087.7" r="7.1"/>
<circle cx="1294.8" cy="1931.3" r="7.1"/>
<circle cx="1294.8" cy="1939.3" r="7.1"/>
<circle cx="1294.8" cy="1944.2" r="7.1"/>
<circle cx="1294.8" cy="1949.0" r="7.1"/>
<circle cx="1294.8" cy="1953.9" r="7.1"/>
<circle cx="1294.8" cy="1958.7" r="7.1"/>
<circle cx="1294.8" cy="1971.6" r="7.1"/>
<circle cx="1294.8" cy="1973.2" r="7.1"/>
<circle cx="1723.2" cy="1936.1" r="7.1"/>
<circle cx="1723.2" cy="1961.9" r="7.1"/>
<circle cx="1726.4" cy="1965.1" r="7.1"/>
<circle cx="1737.7" cy="1949.0" r="7.1"/>
<circle cx="1737.7" cy="1971.6" r="7.1"/>
<circle cx="1739.3" cy="1963.5" r="7.1"/>
<circle cx="1750.6" cy="1946.4" r="7.1"/>
<circle cx="1760.3" cy="1936.8" r="7.1"/>
<circle cx="1770.0" cy="1935.2" r="7.1"/>
<circle cx="1776.4" cy="1942.6" r="7.1"/>
<circle cx="1774.8" cy="1965.1" r="7.1"/>
<circle cx="1784.5" cy="1965.1" r="7.1"/>
<circle cx="1789.3" cy="1949.0" r="7.1"/>
<circle cx="1797.4" cy="1947.4" r="7.1"/>
<circle cx="1799.0" cy="1934.5" r="7.1"/>
<circle cx="1799.0" cy="1957.1" r="7.1"/>
<circle cx="1805.5" cy="1961.9" r="7.1"/>
<circle cx="1807.1" cy="1971.6" r="7.1"/>
<circle cx="1810.3" cy="1974.8" r="7.1"/>
<circle cx="1826.4" cy="1961.9" r="7.1"/>
<circle cx="1829.0" cy="1933.5" r="7.1"/>
<circle cx="1844.1" cy="1957.1" r="7.1"/>
<circle cx="1850.6" cy="1952.2" r="7.1"/>
<circle cx="1857.0" cy="1949.0" r="7.1"/>
<circle cx="1858.7" cy="1958.7" r="7.1"/>
<circle cx="1869.9" cy="1973.2" r="7.1"/>
<circle cx="1882.8" cy="1933.5" r="7.1"/>
<circle cx="1889.3" cy="1965.1" r="7.1"/>
<circle cx="1890.9" cy="1957.7" r="7.1"/>
<circle cx="1911.9" cy="1940.0" r="7.1"/>
<circle cx="1915.1" cy="1969.3" r="7.1"/>
<circle cx="1921.5" cy="1950.6" r="7.1"/>
<circle cx="1921.5" cy="1961.9" r="7.1"/>
<circle cx="1928.0" cy="1929.7" r="7.1"/>
<circle cx="1931.9" cy="1943.2" r="7.1"/>
<circle cx="1936.1" cy="1965.1" r="7.1"/>
<circle cx="1942.5" cy="1973.2" r="7.1"/>
<circle cx="1945.7" cy="1954.8" r="7.1"/>
<circle cx="1955.4" cy="1942.6" r="7.1"/>
<circle cx="1958.6" cy="1958.7" r="7.1"/>
<circle cx="1952.2" cy="1970.0" r="7.1"/>
<circle cx="1971.5" cy="1957.1" r="7.1"/>
<circle cx="1974.7" cy="1976.4" r="7.1"/>
<circle cx="1976.4" cy="1969.0" r="7.1"/>
<circle cx="1981.2" cy="1941.9" r="7.1"/>
<circle cx="1989.3" cy="1965.1" r="7.1"/>
<circle cx="1989.3" cy="1953.9" r="7.1"/>
<circle cx="1994.1" cy="1942.6" r="7.1"/>
<circle cx="1998.9" cy="1931.3" r="7.1"/>
<circle cx="2003.8" cy="1939.3" r="7.1"/>
<circle cx="2002.2" cy="1965.1" r="7.1"/>
<circle cx="2007.0" cy="1947.4" r="7.1"/>
<circle cx="2010.2" cy="1952.2" r="7.1"/>
<circle cx="2010.2" cy="1973.2" r="7.1"/>
<circle cx="2013.4" cy="1966.8" r="7.1"/>
<circle cx="2018.3" cy="1976.4" r="7.1"/>
<circle cx="2019.9" cy="1942.6" r="7.1"/>
<circle cx="2026.3" cy="1934.5" r="7.1"/>
<circle cx="2028.0" cy="1970.9" r="7.1"/>
<circle cx="2037.6" cy="1950.6" r="7.1"/>
<circle cx="2042.5" cy="1971.6" r="7.1"/>
<circle cx="2044.1" cy="1940.0" r="7.1"/>
<circle cx="2055.4" cy="1931.3" r="7.1"/>
<circle cx="2058.6" cy="1934.5" r="7.1"/>
<circle cx="2068.3" cy="1944.2" r="7.1"/>
<circle cx="2085.4" cy="1973.2" r="7.1"/>
<circle cx="2095.7" cy="1965.1" r="7.1"/>
<circle cx="2110.2" cy="1937.7" r="7.1"/>
<circle cx="2110.2" cy="1955.5" r="7.1"/>
<circle cx="2116.0" cy="1967.7" r="7.1"/>
<circle cx="2169.8" cy="1941.0" r="7.1"/>
<circle cx="2171.4" cy="1955.5" r="7.1"/>
<circle cx="1845.8" cy="1958.7" r="7.1"/>
<circle cx="1855.4" cy="1953.9" r="7.1"/>
<circle cx="1942.5" cy="1953.9" r="7.1"/>
<circle cx="1958.6" cy="1950.6" r="7.1"/>
<circle cx="1720.0" cy="2087.7" r="7.1"/>
<circle cx="1729.7" cy="2076.4" r="7.1"/>
<circle cx="1734.5" cy="2066.7" r="7.1"/>
<circle cx="1741.6" cy="2055.4" r="7.1"/>
<circle cx="1766.1" cy="2072.5" r="7.1"/>
<circle cx="1810.3" cy="2057.7" r="7.1"/>
<circle cx="1830.6" cy="2052.2" r="7.1"/>
<circle cx="1866.7" cy="2088.3" r="7.1"/>
<circle cx="1900.6" cy="2079.6" r="7.1"/>
<circle cx="1912.8" cy="2082.8" r="7.1"/>
<circle cx="1929.6" cy="2049.0" r="7.1"/>
<circle cx="1936.1" cy="2049.0" r="7.1"/>
<circle cx="1966.7" cy="2082.8" r="7.1"/>
<circle cx="2017.6" cy="2089.3" r="7.1"/>
<circle cx="2024.7" cy="2065.1" r="7.1"/>
<circle cx="2034.4" cy="2051.6" r="7.1"/>
<circle cx="2086.0" cy="2086.7" r="7.1"/>
<circle cx="2112.8" cy="2071.6" r="7.1"/>
<circle cx="2058.8" cy="1734.2" r="7.1"/>
<circle cx="1980.2" cy="1711.1" r="7.1"/>
<circle cx="1985.6" cy="1696.3" r="7.1"/>
<circle cx="1983.3" cy="1728.5" r="7.1"/>
<circle cx="2103.2" cy="1732.7" r="7.1"/>
<circle cx="2036.8" cy="1724.2" r="7.1"/>
<circle cx="1904.4" cy="1711.1" r="7.1"/>
<circle cx="1971.2" cy="1726.1" r="7.1"/>
<circle cx="1922.5" cy="1713.3" r="7.1"/>
<circle cx="2005.7" cy="1732.6" r="7.1"/>
<circle cx="2070.9" cy="1724.3" r="7.1"/>
<circle cx="1933.3" cy="1731.6" r="7.1"/>
<circle cx="2086.9" cy="1721.3" r="7.1"/>
<circle cx="1973.3" cy="1719.1" r="7.1"/>
<circle cx="1929.8" cy="1729.1" r="7.1"/>
<circle cx="2104.2" cy="1719.8" r="7.1"/>
<circle cx="2048.2" cy="1734.8" r="7.1"/>
<circle cx="1941.3" cy="1740.0" r="7.1"/>
<circle cx="1483.3" cy="2197.7" r="7.1"/>
<circle cx="1484.9" cy="2196.1" r="7.1"/>
<circle cx="1492.0" cy="2206.4" r="7.1"/>
<circle cx="1603.9" cy="2173.5" r="7.1"/>
<circle cx="1619.4" cy="2178.4" r="7.1"/>
<circle cx="1613.9" cy="2186.4" r="7.1"/>
<circle cx="1627.5" cy="2199.3" r="7.1"/>
<circle cx="1634.9" cy="2187.1" r="7.1"/>
<circle cx="1647.8" cy="2179.0" r="7.1"/>
<circle cx="1658.1" cy="2177.4" r="7.1"/>
<circle cx="1659.7" cy="2180.6" r="7.1"/>
<circle cx="1664.5" cy="2190.3" r="7.1"/>
<circle cx="1667.8" cy="2204.8" r="7.1"/>
<circle cx="1674.2" cy="2180.0" r="7.1"/>
<circle cx="1680.0" cy="2166.1" r="7.1"/>
<circle cx="1680.7" cy="2191.9" r="7.1"/>
<circle cx="1680.7" cy="2200.0" r="7.1"/>
<circle cx="1683.9" cy="2182.2" r="7.1"/>
<circle cx="1697.4" cy="2191.9" r="7.1"/>
<circle cx="1701.0" cy="2167.1" r="7.1"/>
<circle cx="1712.9" cy="2180.0" r="7.1"/>
<circle cx="1714.5" cy="2206.4" r="7.1"/>
<circle cx="1719.4" cy="2180.6" r="7.1"/>
<circle cx="1294.8" cy="2165.8" r="7.1"/>
<circle cx="1294.8" cy="2167.8" r="7.1"/>
<circle cx="1294.8" cy="2169.8" r="7.1"/>
<circle cx="1294.8" cy="2171.9" r="7.1"/>
<circle cx="1294.8" cy="2173.9" r="7.1"/>
<circle cx="1294.8" cy="2175.9" r="7.1"/>
<circle cx="1294.8" cy="2177.9" r="7.1"/>
<circle cx="1294.8" cy="2180.0" r="7.1"/>
<circle cx="1294.8" cy="2182.0" r="7.1"/>
<circle cx="1294.8" cy="2184.0" r="7.1"/>
<circle cx="1294.8" cy="2186.1" r="7.1"/>
<circle cx="1294.8" cy="2188.1" r="7.1"/>
<circle cx="1294.8" cy="2190.1" r="7.1"/>
<circle cx="1294.8" cy="2192.1" r="7.1"/>
<circle cx="1294.8" cy="2194.2" r="7.1"/>
<circle cx="1294.8" cy="2196.2" r="7.1"/>
<circle cx="1294.8" cy="2198.2" r="7.1"/>
<circle cx="1294.8" cy="2200.2" r="7.1"/>
<circle cx="1294.8" cy="2202.3" r="7.1"/>
<circle cx="1294.8" cy="2204.3" r="7.1"/>
<circle cx="1294.8" cy="2206.3" r="7.1"/>
<circle cx="1294.8" cy="2208.3" r="7.1"/>
<circle cx="1726.4" cy="2164.5" r="7.1"/>
<circle cx="1739.3" cy="2169.3" r="7.1"/>
<circle cx="1723.2" cy="2182.2" r="7.1"/>
<circle cx="1731.3" cy="2182.2" r="7.1"/>
<circle cx="1720.0" cy="2206.4" r="7.1"/>
<circle cx="1734.5" cy="2204.8" r="7.1"/>
<circle cx="1737.7" cy="2208.0" r="7.1"/>
<circle cx="1752.2" cy="2204.8" r="7.1"/>
<circle cx="1758.7" cy="2208.0" r="7.1"/>
<circle cx="1754.8" cy="2188.7" r="7.1"/>
<circle cx="1766.8" cy="2165.5" r="7.1"/>
<circle cx="1771.6" cy="2183.8" r="7.1"/>
<circle cx="1774.8" cy="2191.9" r="7.1"/>
<circle cx="1776.4" cy="2198.4" r="7.1"/>
<circle cx="1781.3" cy="2206.4" r="7.1"/>
<circle cx="1787.7" cy="2180.6" r="7.1"/>
<circle cx="1789.3" cy="2200.0" r="7.1"/>
<circle cx="1797.4" cy="2191.9" r="7.1"/>
<circle cx="1799.0" cy="2179.0" r="7.1"/>
<circle cx="1800.6" cy="2208.0" r="7.1"/>
<circle cx="1808.7" cy="2170.9" r="7.1"/>
<circle cx="1816.7" cy="2170.3" r="7.1"/>
<circle cx="1808.7" cy="2183.8" r="7.1"/>
<circle cx="1823.2" cy="2187.1" r="7.1"/>
<circle cx="1829.6" cy="2190.3" r="7.1"/>
<circle cx="1831.2" cy="2196.7" r="7.1"/>
<circle cx="1834.5" cy="2209.6" r="7.1"/>
<circle cx="1842.5" cy="2208.0" r="7.1"/>
<circle cx="1852.2" cy="2209.6" r="7.1"/>
<circle cx="1850.6" cy="2177.4" r="7.1"/>
<circle cx="1852.2" cy="2187.1" r="7.1"/>
<circle cx="1853.8" cy="2193.5" r="7.1"/>
<circle cx="1865.1" cy="2164.5" r="7.1"/>
<circle cx="1868.3" cy="2170.9" r="7.1"/>
<circle cx="1878.0" cy="2175.8" r="7.1"/>
<circle cx="1873.2" cy="2193.5" r="7.1"/>
<circle cx="1871.6" cy="2208.0" r="7.1"/>
<circle cx="1887.7" cy="2174.2" r="7.1"/>
<circle cx="1905.4" cy="2170.9" r="7.1"/>
<circle cx="1907.0" cy="2180.6" r="7.1"/>
<circle cx="1905.4" cy="2204.8" r="7.1"/>
<circle cx="1910.3" cy="2209.6" r="7.1"/>
<circle cx="1919.9" cy="2172.6" r="7.1"/>
<circle cx="1926.4" cy="2177.4" r="7.1"/>
<circle cx="1923.2" cy="2191.9" r="7.1"/>
<circle cx="1926.4" cy="2206.4" r="7.1"/>
<circle cx="1932.8" cy="2183.8" r="7.1"/>
<circle cx="1929.6" cy="2198.4" r="7.1"/>
<circle cx="1940.9" cy="2164.5" r="7.1"/>
<circle cx="1945.7" cy="2174.2" r="7.1"/>
<circle cx="1945.7" cy="2193.5" r="7.1"/>
<circle cx="1948.9" cy="2196.7" r="7.1"/>
<circle cx="1961.8" cy="2208.0" r="7.1"/>
<circle cx="1968.3" cy="2169.3" r="7.1"/>
<circle cx="1974.7" cy="2164.5" r="7.1"/>
<circle cx="1974.7" cy="2177.4" r="7.1"/>
<circle cx="1978.0" cy="2206.4" r="7.1"/>
<circle cx="1984.4" cy="2179.0" r="7.1"/>
<circle cx="1994.1" cy="2182.2" r="7.1"/>
<circle cx="1994.1" cy="2203.2" r="7.1"/>
<circle cx="2007.0" cy="2193.5" r="7.1"/>
<circle cx="2013.4" cy="2170.9" r="7.1"/>
<circle cx="2016.7" cy="2204.8" r="7.1"/>
<circle cx="2021.5" cy="2209.6" r="7.1"/>
<circle cx="2024.7" cy="2196.7" r="7.1"/>
<circle cx="2029.6" cy="2164.5" r="7.1"/>
<circle cx="2034.4" cy="2174.2" r="7.1"/>
<circle cx="2039.2" cy="2193.5" r="7.1"/>
<circle cx="2042.5" cy="2180.6" r="7.1"/>
<circle cx="2048.9" cy="2174.2" r="7.1"/>
<circle cx="2055.4" cy="2203.2" r="7.1"/>
<circle cx="2058.6" cy="2169.3" r="7.1"/>
<circle cx="2061.8" cy="2187.1" r="7.1"/>
<circle cx="2068.3" cy="2177.4" r="7.1"/>
<circle cx="2061.8" cy="2196.7" r="7.1"/>
<circle cx="2077.9" cy="2170.9" r="7.1"/>
<circle cx="2079.5" cy="2188.7" r="7.1"/>
<circle cx="2084.4" cy="2206.4" r="7.1"/>
<circle cx="2094.1" cy="2180.6" r="7.1"/>
<circle cx="2115.0" cy="2202.5" r="7.1"/>
<circle cx="2132.8" cy="2183.2" r="7.1"/>
<circle cx="1720.0" cy="2177.4" r="7.1"/>
<circle cx="1871.6" cy="2167.7" r="7.1"/>
<circle cx="1900.6" cy="2200.0" r="7.1"/>
<circle cx="1907.0" cy="2206.4" r="7.1"/>
<circle cx="2029.6" cy="2183.8" r="7.1"/>
<circle cx="2036.0" cy="2190.3" r="7.1"/>
<circle cx="2055.4" cy="2190.3" r="7.1"/>
<circle cx="2065.0" cy="2180.6" r="7.1"/>
<circle cx="2019.9" cy="2203.2" r="7.1"/>
<circle cx="1971.5" cy="2206.4" r="7.1"/>
<circle cx="1929.6" cy="2206.4" r="7.1"/>
<circle cx="1855.4" cy="2183.8" r="7.1"/>
<circle cx="1958.6" cy="2173.3" r="7.1"/>
<circle cx="1751.7" cy="2175.5" r="7.1"/>
<circle cx="1939.4" cy="2196.8" r="7.1"/>
<circle cx="1845.3" cy="2207.7" r="7.1"/>
<circle cx="1857.4" cy="2185.8" r="7.1"/>
<circle cx="1767.2" cy="2209.8" r="7.1"/>
<circle cx="1771.6" cy="2206.5" r="7.1"/>
<circle cx="1926.8" cy="2190.4" r="7.1"/>
<circle cx="1933.2" cy="2176.5" r="7.1"/>
<circle cx="2066.0" cy="2210.7" r="7.1"/>
<circle cx="2031.1" cy="2192.3" r="7.1"/>
<circle cx="1766.7" cy="2202.8" r="7.1"/>
<circle cx="1829.8" cy="2206.2" r="7.1"/>
<circle cx="1811.6" cy="2191.0" r="7.1"/>
<circle cx="2036.1" cy="2172.8" r="7.1"/>
<circle cx="1928.5" cy="2167.6" r="7.1"/>
<circle cx="1732.2" cy="2172.5" r="7.1"/>
<circle cx="2095.6" cy="2208.2" r="7.1"/>
<circle cx="1970.5" cy="2178.5" r="7.1"/>
<circle cx="1975.4" cy="2198.7" r="7.1"/>
<circle cx="1865.2" cy="2191.9" r="7.1"/>
<circle cx="2025.9" cy="2164.8" r="7.1"/>
<circle cx="1795.9" cy="2186.0" r="7.1"/>
<circle cx="1774.4" cy="2182.2" r="7.1"/>
<circle cx="1936.7" cy="2172.2" r="7.1"/>
<circle cx="1917.8" cy="2176.4" r="7.1"/>
<circle cx="1936.1" cy="2179.6" r="7.1"/>
<circle cx="1964.2" cy="2165.8" r="7.1"/>
<circle cx="1975.3" cy="2170.8" r="7.1"/>
<circle cx="2085.0" cy="2192.2" r="7.1"/>
<circle cx="1898.8" cy="2183.4" r="7.1"/>
<circle cx="1957.4" cy="2196.4" r="7.1"/>
<circle cx="2008.4" cy="2199.4" r="7.1"/>
<circle cx="1904.8" cy="2210.8" r="7.1"/>
<circle cx="2039.0" cy="2204.2" r="7.1"/>
<circle cx="1294.8" cy="175.0" r="7.1"/>
<circle cx="1294.8" cy="176.6" r="7.1"/>
<circle cx="1294.8" cy="178.3" r="7.1"/>
<circle cx="1294.8" cy="179.9" r="7.1"/>
<circle cx="1294.8" cy="181.5" r="7.1"/>
<circle cx="1294.8" cy="183.1" r="7.1"/>
<circle cx="1294.8" cy="184.8" r="7.1"/>
<circle cx="1294.8" cy="186.4" r="7.1"/>
<circle cx="1294.8" cy="188.0" r="7.1"/>
<circle cx="1294.8" cy="189.7" r="7.1"/>
<circle cx="1294.8" cy="191.3" r="7.1"/>
<circle cx="1294.8" cy="192.9" r="7.1"/>
<circle cx="1294.8" cy="194.6" r="7.1"/>
<circle cx="1294.8" cy="196.2" r="7.1"/>
<circle cx="1294.8" cy="197.8" r="7.1"/>
<circle cx="1294.8" cy="199.4" r="7.1"/>
<circle cx="1294.8" cy="201.1" r="7.1"/>
<circle cx="1294.8" cy="202.7" r="7.1"/>
<circle cx="1294.8" cy="204.3" r="7.1"/>
<circle cx="1294.8" cy="206.0" r="7.1"/>
<circle cx="1294.8" cy="207.6" r="7.1"/>
<circle cx="1294.8" cy="209.2" r="7.1"/>
<circle cx="1294.8" cy="210.9" r="7.1"/>
<circle cx="1294.8" cy="212.5" r="7.1"/>
<circle cx="1294.8" cy="214.1" r="7.1"/>
<circle cx="1294.8" cy="215.7" r="7.1"/>
<circle cx="1294.8" cy="217.4" r="7.1"/>
<circle cx="1294.8" cy="219.0" r="7.1"/>
<circle cx="1294.8" cy="291.0" r="7.1"/>
<circle cx="1294.8" cy="292.6" r="7.1"/>
<circle cx="1294.8" cy="294.3" r="7.1"/>
<circle cx="1294.8" cy="295.9" r="7.1"/>
<circle cx="1294.8" cy="297.6" r="7.1"/>
<circle cx="1294.8" cy="299.2" r="7.1"/>
<circle cx="1294.8" cy="300.8" r="7.1"/>
<circle cx="1294.8" cy="302.5" r="7.1"/>
<circle cx="1294.8" cy="304.1" r="7.1"/>
<circle cx="1294.8" cy="305.8" r="7.1"/>
<circle cx="1294.8" cy="307.4" r="7.1"/>
<circle cx="1294.8" cy="309.0" r="7.1"/>
<circle cx="1294.8" cy="310.7" r="7.1"/>
<circle cx="1294.8" cy="312.3" r="7.1"/>
<circle cx="1294.8" cy="314.0" r="7.1"/>
<circle cx="1294.8" cy="315.6" r="7.1"/>
<circle cx="1294.8" cy="317.2" r="7.1"/>
<circle cx="1294.8" cy="318.9" r="7.1"/>
<circle cx="1294.8" cy="320.5" r="7.1"/>
<circle cx="1294.8" cy="322.2" r="7.1"/>
<circle cx="1294.8" cy="323.8" r="7.1"/>
<circle cx="1294.8" cy="325.4" r="7.1"/>
<circle cx="1294.8" cy="327.1" r="7.1"/>
<circle cx="1294.8" cy="328.7" r="7.1"/>
<circle cx="1294.8" cy="330.4" r="7.1"/>
<circle cx="1294.8" cy="332.0" r="7.1"/>
<circle cx="1294.8" cy="410.0" r="7.1"/>
<circle cx="1294.8" cy="411.0" r="7.1"/>
<circle cx="1294.8" cy="412.0" r="7.1"/>
<circle cx="1294.8" cy="414.0" r="7.1"/>
<circle cx="1294.8" cy="416.0" r="7.1"/>
<circle cx="1294.8" cy="418.0" r="7.1"/>
<circle cx="1294.8" cy="420.0" r="7.1"/>
<circle cx="1294.8" cy="422.0" r="7.1"/>
<circle cx="1294.8" cy="424.0" r="7.1"/>
<circle cx="1294.8" cy="437.0" r="7.1"/>
<circle cx="1294.8" cy="445.0" r="7.1"/>
</g>
<path d="M1109.9,162.5 1112.9,162.0 1115.9,161.6 1118.9,161.2 1121.9,160.7 1124.9,160.2 1127.9,159.8 1130.9,159.3 1133.9,158.8 1136.9,158.3 1139.9,157.8 1142.9,157.2 1145.9,156.7 1148.9,156.2 1151.9,155.6 1154.9,155.0 1157.9,154.5 1160.9,153.9 1163.9,153.2 1166.9,152.6 1169.9,151.9 1172.9,151.2 1175.9,150.5 1178.9,149.8 1181.9,149.1 1184.9,148.4 1187.9,147.7 1190.9,147.0 1193.9,146.3 1196.9,145.7 1199.9,145.0 1202.9,144.3 1205.9,143.7 1208.9,143.0 1211.9,142.3 1214.9,141.7 1217.9,141.0 1220.9,140.4 1223.9,139.7 1226.9,139.0 1229.9,138.4 1232.9,137.7 1235.9,137.0 1238.9,136.4 1241.9,135.8 1244.9,135.3 1247.9,134.8 1250.9,134.3 1253.9,133.9 1256.9,133.6 1259.9,133.2 1262.9,132.9 1265.9,132.7 1268.9,132.4 1271.9,132.2 1274.9,132.1 1277.9,132.0 1280.9,131.9 1283.9,131.9 1286.9,131.8 1289.9,131.8 1292.9,131.8 1295.9,131.8 1298.9,131.8 1301.9,131.8 1304.9,131.8 1307.9,131.9 1310.9,132.0 1313.9,132.1 1316.9,132.4 1319.9,132.6 1322.9,132.9 1325.9,133.3 1328.9,133.8 1331.9,134.2 1334.9,134.7 1337.9,135.3 1340.9,135.8 1343.9,136.4 1346.9,137.1 1349.9,137.7 1352.9,138.4 1355.9,139.0 1358.9,139.7 1361.9,140.4 1364.9,141.1 1367.9,141.8 1370.9,142.4 1373.9,143.1 1376.9,143.8 1379.9,144.5 1382.9,145.1 1385.9,145.8 1388.9,146.5 1391.9,147.1 1394.9,147.8 1397.9,148.4 1400.9,149.1 1403.9,149.7 1406.9,150.3 1409.9,150.8 1412.9,151.4 1415.9,152.0 1418.9,152.5 1421.9,153.0 1424.9,153.6 1427.9,154.1 1430.9,154.6 1433.9,155.1 1436.9,155.6 1439.9,156.1 1442.9,156.6 1445.9,157.0 1448.9,157.5 1451.9,157.9 1454.9,158.4 1457.9,158.8 1460.9,159.3 1463.9,159.7 1466.9,160.1 1469.9,160.4 1472.9,160.8 1475.9,161.1 1478.9,161.4 1481.9,161.6 1484.9,161.8 1487.9,162.0 1490.9,162.1 1493.9,162.2 1496.9,162.3 1499.9,162.3 1502.9,162.4 1505.9,162.4 1508.9,162.4 1511.9,162.5 1514.9,162.5 1517.9,162.5 1520.9,162.5 1523.9,162.5 1526.9,162.5 1529.9,162.5 1532.9,162.4 1535.9,162.4 1538.9,162.4 1541.9,162.3 1544.9,162.3 1547.9,162.3 1550.9,162.2 1553.9,162.1 1556.9,162.1 1559.9,162.0 1562.9,161.9 1565.9,161.7 1568.9,161.6 1571.9,161.4 1574.9,161.3 1577.9,161.0 1580.9,160.8 1583.9,160.6 1586.9,160.4 1589.9,160.1 1592.9,159.9 1595.9,159.7 1598.9,159.4 1601.9,159.2 1604.9,158.9 1607.9,158.7 1610.9,158.5 1613.9,158.2 1616.9,158.0 1619.9,157.7 1622.9,157.5 1625.9,157.3 1628.9,157.0 1631.9,156.8 1634.9,156.6 1637.9,156.4 1640.9,156.2 1643.9,156.0 1646.9,155.8 1649.9,155.6 1652.9,155.4 1655.9,155.2 1658.9,155.0 1661.9,154.8 1664.9,154.6 1667.9,154.4 1670.9,154.2 1673.9,154.0 1676.9,153.8 1679.9,153.6 1682.9,153.4 1685.9,153.3 1688.9,153.1 1691.9,152.9 1694.9,152.7 1697.9,152.5 1700.9,152.3 1703.9,152.1 1706.9,151.9 1709.9,151.7 1712.9,151.5 1715.9,151.3 1718.9,151.1 1721.9,150.9 1724.9,150.6 1727.9,150.4 1730.9,150.1 1733.9,149.8 1736.9,149.5 1739.9,149.2 1742.9,148.9 1745.9,148.6 1748.9,148.3 1751.9,148.0 1754.9,147.7 1757.9,147.3 1760.9,147.0 1763.9,146.7 1766.9,146.3 1769.9,146.0 1772.9,145.6 1775.9,145.2 1778.9,144.8 1781.9,144.4 1784.9,144.0 1787.9,143.6 1790.9,143.2 1793.9,142.8 1796.9,142.3 1799.9,141.9 1802.9,141.4 1805.9,141.0 1808.9,140.5 1811.9,140.0 1814.9,139.6 1817.9,139.1 1820.9,138.5 1823.9,138.0 1826.9,137.5 1829.9,137.0 1832.9,136.4 1835.9,135.9 1838.9,135.3 1841.9,134.8 1844.9,134.2 1847.9,133.7 1850.9,133.1 1853.9,132.5 1856.9,132.0 1859.9,131.4 1862.9,130.8 1865.9,130.2 1868.9,129.7 1871.9,129.1 1874.9,128.5 1877.9,128.0 1880.9,127.4 1883.9,126.8 1886.9,126.3 1889.9,125.7 1892.9,125.1 1895.9,124.6 1898.9,124.0 1901.9,123.5 1904.9,123.0 1907.9,122.5 1910.9,122.0 1913.9,121.5 1916.9,121.1 1919.9,120.6 1922.9,120.2 1925.9,119.8 1928.9,119.5 1931.9,119.1 1934.9,118.8 1937.9,118.4 1940.9,118.1 1943.9,117.9 1946.9,117.6 1949.9,117.4 1952.9,117.1 1955.9,116.9 1958.9,116.8 1961.9,116.6 1964.9,116.5 1967.9,116.4 1970.9,116.2 1973.9,116.2 1976.9,116.1 1979.9,116.1 1982.9,116.0 1985.9,116.0 1988.9,116.0 1991.9,116.0 1994.9,116.1 1997.9,116.2 2000.9,116.3 2003.9,116.4 2006.9,116.5 2009.9,116.7 2012.9,117.0 2015.9,117.2 2018.9,117.5 2021.9,117.8 2024.9,118.1 2027.9,118.5 2030.9,118.9 2033.9,119.3 2036.9,119.7 2039.9,120.2 2042.9,120.7 2045.9,121.2 2048.9,121.8 2051.9,122.3 2054.9,122.9 2057.9,123.5 2060.9,124.2 2063.9,124.8 2066.9,125.5 2069.9,126.2 2072.9,126.9 2075.9,127.7 2078.9,128.4 2081.9,129.2 2084.9,130.0 2087.9,130.8 2090.9,131.6 2093.9,132.4 2096.9,133.3 2099.9,134.1 2102.9,134.9 2105.9,135.7 2108.9,136.6 2111.9,137.4 2114.9,138.2 2117.9,139.0 2120.9,139.8 2123.9,140.7 2126.9,141.5 2129.9,142.3 2132.9,143.1 2135.9,143.9 2138.9,144.7 2141.9,145.5 2144.9,146.2 2147.9,147.0 2150.9,147.8 2153.9,148.6 2156.9,149.3 2159.9,150.1 2162.9,150.8 2165.9,151.5 2168.9,152.2 2171.9,152.9 2174.9,153.5 2177.9,154.1 2180.9,154.7 2183.9,155.3 2186.9,155.9 2189.9,156.4 2192.9,156.9 2195.9,157.4 2198.9,157.9 2201.9,158.3 2204.9,158.7 2207.9,159.1 2210.9,159.5 2213.9,159.8 2216.9,160.2 2219.9,160.5 2222.9,160.8 2225.9,161.1 2228.9,161.4 2231.9,161.6 2234.9,161.9 2237.9,162.2 2240.9,162.4 2243.9,162.6 2244.0,162.8 L2244.0,167.0 L1109.9,167.0 Z" fill="#ff699c" fill-opacity="0.5"/>
<path d="M1109.9,162.5 1112.9,162.0 1115.9,161.6 1118.9,161.2 1121.9,160.7 1124.9,160.2 1127.9,159.8 1130.9,159.3 1133.9,158.8 1136.9,158.3 1139.9,157.8 1142.9,157.2 1145.9,156.7 1148.9,156.2 1151.9,155.6 1154.9,155.0 1157.9,154.5 1160.9,153.9 1163.9,153.2 1166.9,152.6 1169.9,151.9 1172.9,151.2 1175.9,150.5 1178.9,149.8 1181.9,149.1 1184.9,148.4 1187.9,147.7 1190.9,147.0 1193.9,146.3 1196.9,145.7 1199.9,145.0 1202.9,144.3 1205.9,143.7 1208.9,143.0 1211.9,142.3 1214.9,141.7 1217.9,141.0 1220.9,140.4 1223.9,139.7 1226.9,139.0 1229.9,138.4 1232.9,137.7 1235.9,137.0 1238.9,136.4 1241.9,135.8 1244.9,135.3 1247.9,134.8 1250.9,134.3 1253.9,133.9 1256.9,133.6 1259.9,133.2 1262.9,132.9 1265.9,132.7 1268.9,132.4 1271.9,132.2 1274.9,132.1 1277.9,132.0 1280.9,131.9 1283.9,131.9 1286.9,131.8 1289.9,131.8 1292.9,131.8 1295.9,131.8 1298.9,131.8 1301.9,131.8 1304.9,131.8 1307.9,131.9 1310.9,132.0 1313.9,132.1 1316.9,132.4 1319.9,132.6 1322.9,132.9 1325.9,133.3 1328.9,133.8 1331.9,134.2 1334.9,134.7 1337.9,135.3 1340.9,135.8 1343.9,136.4 1346.9,137.1 1349.9,137.7 1352.9,138.4 1355.9,139.0 1358.9,139.7 1361.9,140.4 1364.9,141.1 1367.9,141.8 1370.9,142.4 1373.9,143.1 1376.9,143.8 1379.9,144.5 1382.9,145.1 1385.9,145.8 1388.9,146.5 1391.9,147.1 1394.9,147.8 1397.9,148.4 1400.9,149.1 1403.9,149.7 1406.9,150.3 1409.9,150.8 1412.9,151.4 1415.9,152.0 1418.9,152.5 1421.9,153.0 1424.9,153.6 1427.9,154.1 1430.9,154.6 1433.9,155.1 1436.9,155.6 1439.9,156.1 1442.9,156.6 1445.9,157.0 1448.9,157.5 1451.9,157.9 1454.9,158.4 1457.9,158.8 1460.9,159.3 1463.9,159.7 1466.9,160.1 1469.9,160.4 1472.9,160.8 1475.9,161.1 1478.9,161.4 1481.9,161.6 1484.9,161.8 1487.9,162.0 1490.9,162.1 1493.9,162.2 1496.9,162.3 1499.9,162.3 1502.9,162.4 1505.9,162.4 1508.9,162.4 1511.9,162.5 1514.9,162.5 1517.9,162.5 1520.9,162.5 1523.9,162.5 1526.9,162.5 1529.9,162.5 1532.9,162.4 1535.9,162.4 1538.9,162.4 1541.9,162.3 1544.9,162.3 1547.9,162.3 1550.9,162.2 1553.9,162.1 1556.9,162.1 1559.9,162.0 1562.9,161.9 1565.9,161.7 1568.9,161.6 1571.9,161.4 1574.9,161.3 1577.9,161.0 1580.9,160.8 1583.9,160.6 1586.9,160.4 1589.9,160.1 1592.9,159.9 1595.9,159.7 1598.9,159.4 1601.9,159.2 1604.9,158.9 1607.9,158.7 1610.9,158.5 1613.9,158.2 1616.9,158.0 1619.9,157.7 1622.9,157.5 1625.9,157.3 1628.9,157.0 1631.9,156.8 1634.9,156.6 1637.9,156.4 1640.9,156.2 1643.9,156.0 1646.9,155.8 1649.9,155.6 1652.9,155.4 1655.9,155.2 1658.9,155.0 1661.9,154.8 1664.9,154.6 1667.9,154.4 1670.9,154.2 1673.9,154.0 1676.9,153.8 1679.9,153.6 1682.9,153.4 1685.9,153.3 1688.9,153.1 1691.9,152.9 1694.9,152.7 1697.9,152.5 1700.9,152.3 1703.9,152.1 1706.9,151.9 1709.9,151.7 1712.9,151.5 1715.9,151.3 1718.9,151.1 1721.9,150.9 1724.9,150.6 1727.9,150.4 1730.9,150.1 1733.9,149.8 1736.9,149.5 1739.9,149.2 1742.9,148.9 1745.9,148.6 1748.9,148.3 1751.9,148.0 1754.9,147.7 1757.9,147.3 1760.9,147.0 1763.9,146.7 1766.9,146.3 1769.9,146.0 1772.9,145.6 1775.9,145.2 1778.9,144.8 1781.9,144.4 1784.9,144.0 1787.9,143.6 1790.9,143.2 1793.9,142.8 1796.9,142.3 1799.9,141.9 1802.9,141.4 1805.9,141.0 1808.9,140.5 1811.9,140.0 1814.9,139.6 1817.9,139.1 1820.9,138.5 1823.9,138.0 1826.9,137.5 1829.9,137.0 1832.9,136.4 1835.9,135.9 1838.9,135.3 1841.9,134.8 1844.9,134.2 1847.9,133.7 1850.9,133.1 1853.9,132.5 1856.9,132.0 1859.9,131.4 1862.9,130.8 1865.9,130.2 1868.9,129.7 1871.9,129.1 1874.9,128.5 1877.9,128.0 1880.9,127.4 1883.9,126.8 1886.9,126.3 1889.9,125.7 1892.9,125.1 1895.9,124.6 1898.9,124.0 1901.9,123.5 1904.9,123.0 1907.9,122.5 1910.9,122.0 1913.9,121.5 1916.9,121.1 1919.9,120.6 1922.9,120.2 1925.9,119.8 1928.9,119.5 1931.9,119.1 1934.9,118.8 1937.9,118.4 1940.9,118.1 1943.9,117.9 1946.9,117.6 1949.9,117.4 1952.9,117.1 1955.9,116.9 1958.9,116.8 1961.9,116.6 1964.9,116.5 1967.9,116.4 1970.9,116.2 1973.9,116.2 1976.9,116.1 1979.9,116.1 1982.9,116.0 1985.9,116.0 1988.9,116.0 1991.9,116.0 1994.9,116.1 1997.9,116.2 2000.9,116.3 2003.9,116.4 2006.9,116.5 2009.9,116.7 2012.9,117.0 2015.9,117.2 2018.9,117.5 2021.9,117.8 2024.9,118.1 2027.9,118.5 2030.9,118.9 2033.9,119.3 2036.9,119.7 2039.9,120.2 2042.9,120.7 2045.9,121.2 2048.9,121.8 2051.9,122.3 2054.9,122.9 2057.9,123.5 2060.9,124.2 2063.9,124.8 2066.9,125.5 2069.9,126.2 2072.9,126.9 2075.9,127.7 2078.9,128.4 2081.9,129.2 2084.9,130.0 2087.9,130.8 2090.9,131.6 2093.9,132.4 2096.9,133.3 2099.9,134.1 2102.9,134.9 2105.9,135.7 2108.9,136.6 2111.9,137.4 2114.9,138.2 2117.9,139.0 2120.9,139.8 2123.9,140.7 2126.9,141.5 2129.9,142.3 2132.9,143.1 2135.9,143.9 2138.9,144.7 2141.9,145.5 2144.9,146.2 2147.9,147.0 2150.9,147.8 2153.9,148.6 2156.9,149.3 2159.9,150.1 2162.9,150.8 2165.9,151.5 2168.9,152.2 2171.9,152.9 2174.9,153.5 2177.9,154.1 2180.9,154.7 2183.9,155.3 2186.9,155.9 2189.9,156.4 2192.9,156.9 2195.9,157.4 2198.9,157.9 2201.9,158.3 2204.9,158.7 2207.9,159.1 2210.9,159.5 2213.9,159.8 2216.9,160.2 2219.9,160.5 2222.9,160.8 2225.9,161.1 2228.9,161.4 2231.9,161.6 2234.9,161.9 2237.9,162.2 2240.9,162.4 2243.9,162.6 2244.0,162.8" fill="none" stroke="#000" stroke-width="3.8" stroke-linejoin="round" stroke-linecap="butt"/>
<path d="M1097.0,277.3 1100.0,276.9 1103.0,276.4 1106.0,275.9 1109.0,275.4 1112.0,275.0 1115.0,274.5 1118.0,274.0 1121.0,273.4 1124.0,272.9 1127.0,272.3 1130.0,271.6 1133.0,270.9 1136.0,270.2 1139.0,269.5 1142.0,268.7 1145.0,267.9 1148.0,267.1 1151.0,266.2 1154.0,265.4 1157.0,264.5 1160.0,263.6 1163.0,262.7 1166.0,261.7 1169.0,260.7 1172.0,259.8 1175.0,258.8 1178.0,257.8 1181.0,256.8 1184.0,255.7 1187.0,254.7 1190.0,253.8 1193.0,252.8 1196.0,251.8 1199.0,250.9 1202.0,250.0 1205.0,249.1 1208.0,248.2 1211.0,247.3 1214.0,246.4 1217.0,245.5 1220.0,244.6 1223.0,243.7 1226.0,242.8 1229.0,241.9 1232.0,241.1 1235.0,240.2 1238.0,239.3 1241.0,238.5 1244.0,237.7 1247.0,236.9 1250.0,236.3 1253.0,235.7 1256.0,235.1 1259.0,234.7 1262.0,234.3 1265.0,233.9 1268.0,233.6 1271.0,233.4 1274.0,233.1 1277.0,232.9 1280.0,232.8 1283.0,232.7 1286.0,232.6 1289.0,232.5 1292.0,232.5 1295.0,232.6 1298.0,232.7 1301.0,232.8 1304.0,233.0 1307.0,233.3 1310.0,233.7 1313.0,234.1 1316.0,234.6 1319.0,235.1 1322.0,235.6 1325.0,236.2 1328.0,236.8 1331.0,237.4 1334.0,238.0 1337.0,238.7 1340.0,239.3 1343.0,240.0 1346.0,240.7 1349.0,241.4 1352.0,242.1 1355.0,242.9 1358.0,243.7 1361.0,244.6 1364.0,245.4 1367.0,246.3 1370.0,247.2 1373.0,248.2 1376.0,249.1 1379.0,250.0 1382.0,250.9 1385.0,251.8 1388.0,252.7 1391.0,253.6 1394.0,254.5 1397.0,255.3 1400.0,256.2 1403.0,257.0 1406.0,257.9 1409.0,258.7 1412.0,259.5 1415.0,260.3 1418.0,261.1 1421.0,262.0 1424.0,262.8 1427.0,263.6 1430.0,264.4 1433.0,265.1 1436.0,265.9 1439.0,266.7 1442.0,267.4 1445.0,268.1 1448.0,268.8 1451.0,269.4 1454.0,270.0 1457.0,270.5 1460.0,271.1 1463.0,271.6 1466.0,272.0 1469.0,272.5 1472.0,272.9 1475.0,273.3 1478.0,273.7 1481.0,274.1 1484.0,274.4 1487.0,274.8 1490.0,275.1 1493.0,275.4 1496.0,275.7 1499.0,276.0 1502.0,276.2 1505.0,276.5 1508.0,276.7 1511.0,277.0 1514.0,277.2 1517.0,277.4 1520.0,277.6 1523.0,277.7 1526.0,277.9 1529.0,278.0 1532.0,278.1 1535.0,278.3 1538.0,278.4 1541.0,278.5 1543.6,278.6 L1543.6,284.1 L1097.0,284.1 Z" fill="#ff61c3" fill-opacity="0.5"/>
<path d="M1097.0,277.3 1100.0,276.9 1103.0,276.4 1106.0,275.9 1109.0,275.4 1112.0,275.0 1115.0,274.5 1118.0,274.0 1121.0,273.4 1124.0,272.9 1127.0,272.3 1130.0,271.6 1133.0,270.9 1136.0,270.2 1139.0,269.5 1142.0,268.7 1145.0,267.9 1148.0,267.1 1151.0,266.2 1154.0,265.4 1157.0,264.5 1160.0,263.6 1163.0,262.7 1166.0,261.7 1169.0,260.7 1172.0,259.8 1175.0,258.8 1178.0,257.8 1181.0,256.8 1184.0,255.7 1187.0,254.7 1190.0,253.8 1193.0,252.8 1196.0,251.8 1199.0,250.9 1202.0,250.0 1205.0,249.1 1208.0,248.2 1211.0,247.3 1214.0,246.4 1217.0,245.5 1220.0,244.6 1223.0,243.7 1226.0,242.8 1229.0,241.9 1232.0,241.1 1235.0,240.2 1238.0,239.3 1241.0,238.5 1244.0,237.7 1247.0,236.9 1250.0,236.3 1253.0,235.7 1256.0,235.1 1259.0,234.7 1262.0,234.3 1265.0,233.9 1268.0,233.6 1271.0,233.4 1274.0,233.1 1277.0,232.9 1280.0,232.8 1283.0,232.7 1286.0,232.6 1289.0,232.5 1292.0,232.5 1295.0,232.6 1298.0,232.7 1301.0,232.8 1304.0,233.0 1307.0,233.3 1310.0,233.7 1313.0,234.1 1316.0,234.6 1319.0,235.1 1322.0,235.6 1325.0,236.2 1328.0,236.8 1331.0,237.4 1334.0,238.0 1337.0,238.7 1340.0,239.3 1343.0,240.0 1346.0,240.7 1349.0,241.4 1352.0,242.1 1355.0,242.9 1358.0,243.7 1361.0,244.6 1364.0,245.4 1367.0,246.3 1370.0,247.2 1373.0,248.2 1376.0,249.1 1379.0,250.0 1382.0,250.9 1385.0,251.8 1388.0,252.7 1391.0,253.6 1394.0,254.5 1397.0,255.3 1400.0,256.2 1403.0,257.0 1406.0,257.9 1409.0,258.7 1412.0,259.5 1415.0,260.3 1418.0,261.1 1421.0,262.0 1424.0,262.8 1427.0,263.6 1430.0,264.4 1433.0,265.1 1436.0,265.9 1439.0,266.7 1442.0,267.4 1445.0,268.1 1448.0,268.8 1451.0,269.4 1454.0,270.0 1457.0,270.5 1460.0,271.1 1463.0,271.6 1466.0,272.0 1469.0,272.5 1472.0,272.9 1475.0,273.3 1478.0,273.7 1481.0,274.1 1484.0,274.4 1487.0,274.8 1490.0,275.1 1493.0,275.4 1496.0,275.7 1499.0,276.0 1502.0,276.2 1505.0,276.5 1508.0,276.7 1511.0,277.0 1514.0,277.2 1517.0,277.4 1520.0,277.6 1523.0,277.7 1526.0,277.9 1529.0,278.0 1532.0,278.1 1535.0,278.3 1538.0,278.4 1541.0,278.5 1543.6,278.6" fill="none" stroke="#000" stroke-width="3.8" stroke-linejoin="round" stroke-linecap="butt"/>
<path d="M1739.3,279.0 1742.3,278.5 1745.3,278.1 1748.3,277.7 1751.3,277.3 1754.3,276.9 1757.3,276.5 1760.3,276.1 1763.3,275.6 1766.3,275.2 1769.3,274.8 1772.3,274.4 1775.3,273.9 1778.3,273.5 1781.3,273.0 1784.3,272.5 1787.3,272.0 1790.3,271.5 1793.3,271.0 1796.3,270.4 1799.3,269.9 1802.3,269.3 1805.3,268.7 1808.3,268.1 1811.3,267.5 1814.3,266.9 1817.3,266.2 1820.3,265.6 1823.3,264.9 1826.3,264.3 1829.3,263.6 1832.3,262.9 1835.3,262.2 1838.3,261.5 1841.3,260.8 1844.3,260.1 1847.3,259.3 1850.3,258.6 1853.3,257.8 1856.3,257.0 1859.3,256.2 1862.3,255.4 1865.3,254.6 1868.3,253.8 1871.3,253.0 1874.3,252.1 1877.3,251.3 1880.3,250.5 1883.3,249.7 1886.3,248.9 1889.3,248.1 1892.3,247.2 1895.3,246.4 1898.3,245.6 1901.3,244.8 1904.3,244.1 1907.3,243.4 1910.3,242.6 1913.3,242.0 1916.3,241.3 1919.3,240.7 1922.3,240.2 1925.3,239.6 1928.3,239.1 1931.3,238.6 1934.3,238.1 1937.3,237.7 1940.3,237.2 1943.3,236.8 1946.3,236.3 1949.3,235.9 1952.3,235.5 1955.3,235.1 1958.3,234.7 1961.3,234.3 1964.3,234.0 1967.3,233.6 1970.3,233.3 1973.3,233.0 1976.3,232.7 1979.3,232.4 1982.3,232.1 1985.3,231.9 1988.3,231.6 1991.3,231.4 1994.3,231.2 1997.3,231.0 2000.3,230.9 2003.3,230.8 2006.3,230.7 2009.3,230.7 2012.3,230.7 2015.3,230.8 2018.3,230.9 2021.3,231.0 2024.3,231.2 2027.3,231.5 2030.3,231.8 2033.3,232.1 2036.3,232.4 2039.3,232.8 2042.3,233.2 2045.3,233.7 2048.3,234.3 2051.3,234.8 2054.3,235.4 2057.3,236.1 2060.3,236.8 2063.3,237.5 2066.3,238.2 2069.3,238.9 2072.3,239.7 2075.3,240.5 2078.3,241.2 2081.3,242.0 2084.3,242.9 2087.3,243.7 2090.3,244.5 2093.3,245.4 2096.3,246.3 2099.3,247.1 2102.3,248.0 2105.3,248.8 2108.3,249.7 2111.3,250.5 2114.3,251.4 2117.3,252.2 2120.3,253.1 2123.3,253.9 2126.3,254.7 2129.3,255.6 2132.3,256.4 2135.3,257.3 2138.3,258.1 2141.3,258.9 2144.3,259.8 2147.3,260.6 2150.3,261.4 2153.3,262.3 2156.3,263.1 2159.3,263.9 2162.3,264.7 2165.3,265.5 2168.3,266.2 2171.3,267.0 2174.3,267.7 2177.3,268.3 2180.3,269.0 2183.3,269.6 2186.3,270.3 2189.3,270.9 2192.3,271.4 2195.3,272.0 2198.3,272.5 2201.3,273.0 2204.3,273.5 2207.3,274.0 2210.3,274.4 2213.3,274.9 2216.3,275.3 2219.3,275.6 2222.3,276.0 2225.3,276.4 2228.3,276.7 2231.3,277.1 2234.3,277.5 2237.3,277.8 2240.3,278.1 2243.3,278.4 2244.0,278.6 L2244.0,284.1 L1739.3,284.1 Z" fill="#ff61c3" fill-opacity="0.5"/>
<path d="M1739.3,279.0 1742.3,278.5 1745.3,278.1 1748.3,277.7 1751.3,277.3 1754.3,276.9 1757.3,276.5 1760.3,276.1 1763.3,275.6 1766.3,275.2 1769.3,274.8 1772.3,274.4 1775.3,273.9 1778.3,273.5 1781.3,273.0 1784.3,272.5 1787.3,272.0 1790.3,271.5 1793.3,271.0 1796.3,270.4 1799.3,269.9 1802.3,269.3 1805.3,268.7 1808.3,268.1 1811.3,267.5 1814.3,266.9 1817.3,266.2 1820.3,265.6 1823.3,264.9 1826.3,264.3 1829.3,263.6 1832.3,262.9 1835.3,262.2 1838.3,261.5 1841.3,260.8 1844.3,260.1 1847.3,259.3 1850.3,258.6 1853.3,257.8 1856.3,257.0 1859.3,256.2 1862.3,255.4 1865.3,254.6 1868.3,253.8 1871.3,253.0 1874.3,252.1 1877.3,251.3 1880.3,250.5 1883.3,249.7 1886.3,248.9 1889.3,248.1 1892.3,247.2 1895.3,246.4 1898.3,245.6 1901.3,244.8 1904.3,244.1 1907.3,243.4 1910.3,242.6 1913.3,242.0 1916.3,241.3 1919.3,240.7 1922.3,240.2 1925.3,239.6 1928.3,239.1 1931.3,238.6 1934.3,238.1 1937.3,237.7 1940.3,237.2 1943.3,236.8 1946.3,236.3 1949.3,235.9 1952.3,235.5 1955.3,235.1 1958.3,234.7 1961.3,234.3 1964.3,234.0 1967.3,233.6 1970.3,233.3 1973.3,233.0 1976.3,232.7 1979.3,232.4 1982.3,232.1 1985.3,231.9 1988.3,231.6 1991.3,231.4 1994.3,231.2 1997.3,231.0 2000.3,230.9 2003.3,230.8 2006.3,230.7 2009.3,230.7 2012.3,230.7 2015.3,230.8 2018.3,230.9 2021.3,231.0 2024.3,231.2 2027.3,231.5 2030.3,231.8 2033.3,232.1 2036.3,232.4 2039.3,232.8 2042.3,233.2 2045.3,233.7 2048.3,234.3 2051.3,234.8 2054.3,235.4 2057.3,236.1 2060.3,236.8 2063.3,237.5 2066.3,238.2 2069.3,238.9 2072.3,239.7 2075.3,240.5 2078.3,241.2 2081.3,242.0 2084.3,242.9 2087.3,243.7 2090.3,244.5 2093.3,245.4 2096.3,246.3 2099.3,247.1 2102.3,248.0 2105.3,248.8 2108.3,249.7 2111.3,250.5 2114.3,251.4 2117.3,252.2 2120.3,253.1 2123.3,253.9 2126.3,254.7 2129.3,255.6 2132.3,256.4 2135.3,257.3 2138.3,258.1 2141.3,258.9 2144.3,259.8 2147.3,260.6 2150.3,261.4 2153.3,262.3 2156.3,263.1 2159.3,263.9 2162.3,264.7 2165.3,265.5 2168.3,266.2 2171.3,267.0 2174.3,267.7 2177.3,268.3 2180.3,269.0 2183.3,269.6 2186.3,270.3 2189.3,270.9 2192.3,271.4 2195.3,272.0 2198.3,272.5 2201.3,273.0 2204.3,273.5 2207.3,274.0 2210.3,274.4 2213.3,274.9 2216.3,275.3 2219.3,275.6 2222.3,276.0 2225.3,276.4 2228.3,276.7 2231.3,277.1 2234.3,277.5 2237.3,277.8 2240.3,278.1 2243.3,278.4 2244.0,278.6" fill="none" stroke="#000" stroke-width="3.8" stroke-linejoin="round" stroke-linecap="butt"/>
<path d="M1163.1,396.4 1166.1,396.0 1169.1,395.6 1172.1,395.2 1175.1,394.9 1178.1,394.5 1181.1,394.1 1184.1,393.7 1187.1,393.3 1190.1,393.0 1193.1,392.6 1196.1,392.3 1199.1,392.0 1202.1,391.6 1205.1,391.3 1208.1,391.0 1211.1,390.7 1214.1,390.4 1217.1,390.1 1220.1,389.8 1223.1,389.6 1226.1,389.3 1229.1,389.1 1232.1,388.8 1235.1,388.6 1238.1,388.4 1241.1,388.1 1244.1,387.9 1247.1,387.7 1250.1,387.5 1253.1,387.4 1256.1,387.2 1259.1,387.0 1262.1,386.9 1265.1,386.8 1268.1,386.6 1271.1,386.5 1274.1,386.4 1277.1,386.3 1280.1,386.3 1283.1,386.2 1286.1,386.2 1289.1,386.1 1292.1,386.1 1295.1,386.1 1298.1,386.1 1301.1,386.1 1304.1,386.2 1307.1,386.2 1310.1,386.3 1313.1,386.4 1316.1,386.5 1319.1,386.6 1322.1,386.7 1325.1,386.9 1328.1,387.1 1331.1,387.3 1334.1,387.5 1337.1,387.8 1340.1,388.0 1343.1,388.3 1346.1,388.5 1349.1,388.8 1352.1,389.1 1355.1,389.3 1358.1,389.6 1361.1,389.8 1364.1,390.0 1367.1,390.3 1370.1,390.5 1373.1,390.7 1376.1,391.0 1379.1,391.2 1382.1,391.5 1385.1,391.7 1388.1,392.0 1391.1,392.3 1394.1,392.5 1397.1,392.8 1400.1,393.1 1403.1,393.4 1406.1,393.7 1409.1,393.9 1412.1,394.2 1415.1,394.4 1418.1,394.7 1421.1,394.9 1424.1,395.0 1427.1,395.2 1430.1,395.4 1433.1,395.5 1436.1,395.6 1439.1,395.8 1442.1,395.9 1445.1,396.0 1448.1,396.1 1451.1,396.2 1454.1,396.3 1457.1,396.4 1460.1,396.5 1463.1,396.6 1464.0,396.7 L1464.0,401.2 L1163.1,401.2 Z" fill="#f564e3" fill-opacity="0.5"/>
<path d="M1163.1,396.4 1166.1,396.0 1169.1,395.6 1172.1,395.2 1175.1,394.9 1178.1,394.5 1181.1,394.1 1184.1,393.7 1187.1,393.3 1190.1,393.0 1193.1,392.6 1196.1,392.3 1199.1,392.0 1202.1,391.6 1205.1,391.3 1208.1,391.0 1211.1,390.7 1214.1,390.4 1217.1,390.1 1220.1,389.8 1223.1,389.6 1226.1,389.3 1229.1,389.1 1232.1,388.8 1235.1,388.6 1238.1,388.4 1241.1,388.1 1244.1,387.9 1247.1,387.7 1250.1,387.5 1253.1,387.4 1256.1,387.2 1259.1,387.0 1262.1,386.9 1265.1,386.8 1268.1,386.6 1271.1,386.5 1274.1,386.4 1277.1,386.3 1280.1,386.3 1283.1,386.2 1286.1,386.2 1289.1,386.1 1292.1,386.1 1295.1,386.1 1298.1,386.1 1301.1,386.1 1304.1,386.2 1307.1,386.2 1310.1,386.3 1313.1,386.4 1316.1,386.5 1319.1,386.6 1322.1,386.7 1325.1,386.9 1328.1,387.1 1331.1,387.3 1334.1,387.5 1337.1,387.8 1340.1,388.0 1343.1,388.3 1346.1,388.5 1349.1,388.8 1352.1,389.1 1355.1,389.3 1358.1,389.6 1361.1,389.8 1364.1,390.0 1367.1,390.3 1370.1,390.5 1373.1,390.7 1376.1,391.0 1379.1,391.2 1382.1,391.5 1385.1,391.7 1388.1,392.0 1391.1,392.3 1394.1,392.5 1397.1,392.8 1400.1,393.1 1403.1,393.4 1406.1,393.7 1409.1,393.9 1412.1,394.2 1415.1,394.4 1418.1,394.7 1421.1,394.9 1424.1,395.0 1427.1,395.2 1430.1,395.4 1433.1,395.5 1436.1,395.6 1439.1,395.8 1442.1,395.9 1445.1,396.0 1448.1,396.1 1451.1,396.2 1454.1,396.3 1457.1,396.4 1460.1,396.5 1463.1,396.6 1464.0,396.7" fill="none" stroke="#000" stroke-width="3.8" stroke-linejoin="round" stroke-linecap="butt"/>
<path d="M1509.8,396.7 1512.8,396.5 1515.8,396.3 1518.8,396.1 1521.8,395.9 1524.8,395.7 1527.8,395.5 1530.8,395.3 1533.8,395.1 1536.8,394.9 1539.8,394.7 1542.8,394.5 1545.8,394.3 1548.8,394.1 1551.8,394.0 1554.8,393.8 1557.8,393.6 1560.8,393.5 1563.8,393.3 1566.8,393.2 1569.8,393.1 1572.8,392.9 1575.8,392.8 1578.8,392.6 1581.8,392.5 1584.8,392.3 1587.8,392.2 1590.8,392.0 1593.8,391.9 1596.8,391.7 1599.8,391.6 1602.8,391.4 1605.8,391.3 1608.8,391.1 1611.8,391.0 1614.8,390.8 1617.8,390.7 1620.8,390.5 1623.8,390.4 1626.8,390.2 1629.8,390.1 1632.8,389.9 1635.8,389.8 1638.8,389.6 1641.8,389.5 1644.8,389.3 1647.8,389.2 1650.8,389.0 1653.8,388.9 1656.8,388.7 1659.8,388.6 1662.8,388.4 1665.8,388.3 1668.8,388.1 1671.8,388.0 1674.8,387.8 1677.8,387.7 1680.8,387.5 1683.8,387.4 1686.8,387.2 1689.8,387.1 1692.8,387.0 1695.8,386.8 1698.8,386.7 1701.8,386.5 1704.8,386.4 1707.8,386.2 1710.8,386.0 1713.8,385.8 1716.8,385.6 1719.8,385.4 1722.8,385.2 1725.8,385.0 1728.8,384.7 1731.8,384.4 1734.8,384.1 1737.8,383.8 1740.8,383.5 1743.8,383.2 1746.8,382.9 1749.8,382.5 1752.8,382.1 1755.8,381.7 1758.8,381.3 1761.8,380.9 1764.8,380.5 1767.8,380.1 1770.8,379.6 1773.8,379.2 1776.8,378.7 1779.8,378.2 1782.8,377.6 1785.8,377.1 1788.8,376.5 1791.8,376.0 1794.8,375.4 1797.8,374.7 1800.8,374.1 1803.8,373.5 1806.8,372.8 1809.8,372.2 1812.8,371.5 1815.8,370.8 1818.8,370.1 1821.8,369.5 1824.8,368.8 1827.8,368.1 1830.8,367.4 1833.8,366.6 1836.8,365.9 1839.8,365.2 1842.8,364.4 1845.8,363.7 1848.8,362.9 1851.8,362.1 1854.8,361.3 1857.8,360.5 1860.8,359.7 1863.8,358.9 1866.8,358.0 1869.8,357.2 1872.8,356.3 1875.8,355.4 1878.8,354.5 1881.8,353.6 1884.8,352.7 1887.8,351.8 1890.8,350.8 1893.8,349.9 1896.8,348.9 1899.8,347.9 1902.8,346.9 1905.8,346.0 1908.8,345.0 1911.8,344.1 1914.8,343.1 1917.8,342.2 1920.8,341.3 1923.8,340.4 1926.8,339.5 1929.8,338.7 1932.8,337.8 1935.8,337.0 1938.8,336.2 1941.8,335.5 1944.8,334.8 1947.8,334.1 1950.8,333.5 1953.8,333.0 1956.8,332.4 1959.8,331.9 1962.8,331.4 1965.8,331.0 1968.8,330.6 1971.8,330.3 1974.8,330.0 1977.8,329.8 1980.8,329.5 1983.8,329.4 1986.8,329.2 1989.8,329.1 1992.8,329.1 1995.8,329.1 1998.8,329.1 2001.8,329.2 2004.8,329.4 2007.8,329.6 2010.8,329.8 2013.8,330.1 2016.8,330.4 2019.8,330.8 2022.8,331.2 2025.8,331.7 2028.8,332.2 2031.8,332.8 2034.8,333.4 2037.8,334.1 2040.8,334.8 2043.8,335.6 2046.8,336.4 2049.8,337.2 2052.8,338.2 2055.8,339.1 2058.8,340.1 2061.8,341.1 2064.8,342.2 2067.8,343.3 2070.8,344.4 2073.8,345.5 2076.8,346.6 2079.8,347.7 2082.8,348.9 2085.8,350.1 2088.8,351.3 2091.8,352.5 2094.8,353.7 2097.8,354.9 2100.8,356.1 2103.8,357.4 2106.8,358.6 2109.8,359.8 2112.8,361.0 2115.8,362.2 2118.8,363.5 2121.8,364.7 2124.8,365.9 2127.8,367.1 2130.8,368.3 2133.8,369.5 2136.8,370.6 2139.8,371.8 2142.8,372.9 2145.8,374.0 2148.8,375.1 2151.8,376.2 2154.8,377.3 2157.8,378.3 2160.8,379.4 2163.8,380.4 2166.8,381.3 2169.8,382.3 2172.8,383.2 2175.8,384.1 2178.8,384.9 2181.8,385.8 2184.8,386.6 2187.8,387.3 2190.8,388.1 2193.8,388.8 2196.8,389.5 2199.8,390.1 2202.8,390.7 2205.8,391.2 2208.8,391.7 2211.8,392.2 2214.8,392.7 2217.8,393.1 2220.8,393.5 2223.8,393.9 2226.8,394.2 2229.8,394.6 2232.8,395.0 2235.8,395.3 2238.8,395.7 2241.8,396.0 2244.8,396.4 2247.2,396.7 L2247.2,401.2 L1509.8,401.2 Z" fill="#f564e3" fill-opacity="0.5"/>
<path d="M1509.8,396.7 1512.8,396.5 1515.8,396.3 1518.8,396.1 1521.8,395.9 1524.8,395.7 1527.8,395.5 1530.8,395.3 1533.8,395.1 1536.8,394.9 1539.8,394.7 1542.8,394.5 1545.8,394.3 1548.8,394.1 1551.8,394.0 1554.8,393.8 1557.8,393.6 1560.8,393.5 1563.8,393.3 1566.8,393.2 1569.8,393.1 1572.8,392.9 1575.8,392.8 1578.8,392.6 1581.8,392.5 1584.8,392.3 1587.8,392.2 1590.8,392.0 1593.8,391.9 1596.8,391.7 1599.8,391.6 1602.8,391.4 1605.8,391.3 1608.8,391.1 1611.8,391.0 1614.8,390.8 1617.8,390.7 1620.8,390.5 1623.8,390.4 1626.8,390.2 1629.8,390.1 1632.8,389.9 1635.8,389.8 1638.8,389.6 1641.8,389.5 1644.8,389.3 1647.8,389.2 1650.8,389.0 1653.8,388.9 1656.8,388.7 1659.8,388.6 1662.8,388.4 1665.8,388.3 1668.8,388.1 1671.8,388.0 1674.8,387.8 1677.8,387.7 1680.8,387.5 1683.8,387.4 1686.8,387.2 1689.8,387.1 1692.8,387.0 1695.8,386.8 1698.8,386.7 1701.8,386.5 1704.8,386.4 1707.8,386.2 1710.8,386.0 1713.8,385.8 1716.8,385.6 1719.8,385.4 1722.8,385.2 1725.8,385.0 1728.8,384.7 1731.8,384.4 1734.8,384.1 1737.8,383.8 1740.8,383.5 1743.8,383.2 1746.8,382.9 1749.8,382.5 1752.8,382.1 1755.8,381.7 1758.8,381.3 1761.8,380.9 1764.8,380.5 1767.8,380.1 1770.8,379.6 1773.8,379.2 1776.8,378.7 1779.8,378.2 1782.8,377.6 1785.8,377.1 1788.8,376.5 1791.8,376.0 1794.8,375.4 1797.8,374.7 1800.8,374.1 1803.8,373.5 1806.8,372.8 1809.8,372.2 1812.8,371.5 1815.8,370.8 1818.8,370.1 1821.8,369.5 1824.8,368.8 1827.8,368.1 1830.8,367.4 1833.8,366.6 1836.8,365.9 1839.8,365.2 1842.8,364.4 1845.8,363.7 1848.8,362.9 1851.8,362.1 1854.8,361.3 1857.8,360.5 1860.8,359.7 1863.8,358.9 1866.8,358.0 1869.8,357.2 1872.8,356.3 1875.8,355.4 1878.8,354.5 1881.8,353.6 1884.8,352.7 1887.8,351.8 1890.8,350.8 1893.8,349.9 1896.8,348.9 1899.8,347.9 1902.8,346.9 1905.8,346.0 1908.8,345.0 1911.8,344.1 1914.8,343.1 1917.8,342.2 1920.8,341.3 1923.8,340.4 1926.8,339.5 1929.8,338.7 1932.8,337.8 1935.8,337.0 1938.8,336.2 1941.8,335.5 1944.8,334.8 1947.8,334.1 1950.8,333.5 1953.8,333.0 1956.8,332.4 1959.8,331.9 1962.8,331.4 1965.8,331.0 1968.8,330.6 1971.8,330.3 1974.8,330.0 1977.8,329.8 1980.8,329.5 1983.8,329.4 1986.8,329.2 1989.8,329.1 1992.8,329.1 1995.8,329.1 1998.8,329.1 2001.8,329.2 2004.8,329.4 2007.8,329.6 2010.8,329.8 2013.8,330.1 2016.8,330.4 2019.8,330.8 2022.8,331.2 2025.8,331.7 2028.8,332.2 2031.8,332.8 2034.8,333.4 2037.8,334.1 2040.8,334.8 2043.8,335.6 2046.8,336.4 2049.8,337.2 2052.8,338.2 2055.8,339.1 2058.8,340.1 2061.8,341.1 2064.8,342.2 2067.8,343.3 2070.8,344.4 2073.8,345.5 2076.8,346.6 2079.8,347.7 2082.8,348.9 2085.8,350.1 2088.8,351.3 2091.8,352.5 2094.8,353.7 2097.8,354.9 2100.8,356.1 2103.8,357.4 2106.8,358.6 2109.8,359.8 2112.8,361.0 2115.8,362.2 2118.8,363.5 2121.8,364.7 2124.8,365.9 2127.8,367.1 2130.8,368.3 2133.8,369.5 2136.8,370.6 2139.8,371.8 2142.8,372.9 2145.8,374.0 2148.8,375.1 2151.8,376.2 2154.8,377.3 2157.8,378.3 2160.8,379.4 2163.8,380.4 2166.8,381.3 2169.8,382.3 2172.8,383.2 2175.8,384.1 2178.8,384.9 2181.8,385.8 2184.8,386.6 2187.8,387.3 2190.8,388.1 2193.8,388.8 2196.8,389.5 2199.8,390.1 2202.8,390.7 2205.8,391.2 2208.8,391.7 2211.8,392.2 2214.8,392.7 2217.8,393.1 2220.8,393.5 2223.8,393.9 2226.8,394.2 2229.8,394.6 2232.8,395.0 2235.8,395.3 2238.8,395.7 2241.8,396.0 2244.8,396.4 2247.2,396.7" fill="none" stroke="#000" stroke-width="3.8" stroke-linejoin="round" stroke-linecap="butt"/>
<path d="M1097.0,511.6 1100.0,511.0 1103.0,510.3 1106.0,509.7 1109.0,509.1 1112.0,508.4 1115.0,507.8 1118.0,507.1 1121.0,506.4 1124.0,505.7 1127.0,505.0 1130.0,504.2 1133.0,503.4 1136.0,502.6 1139.0,501.8 1142.0,500.9 1145.0,500.0 1148.0,499.1 1151.0,498.2 1154.0,497.2 1157.0,496.2 1160.0,495.3 1163.0,494.3 1166.0,493.3 1169.0,492.3 1172.0,491.2 1175.0,490.2 1178.0,489.1 1181.0,488.1 1184.0,487.0 1187.0,485.9 1190.0,484.9 1193.0,483.8 1196.0,482.7 1199.0,481.7 1202.0,480.6 1205.0,479.6 1208.0,478.5 1211.0,477.4 1214.0,476.4 1217.0,475.3 1220.0,474.3 1223.0,473.3 1226.0,472.2 1229.0,471.2 1232.0,470.2 1235.0,469.1 1238.0,468.1 1241.0,467.1 1244.0,466.1 1247.0,465.1 1250.0,464.2 1253.0,463.4 1256.0,462.6 1259.0,461.9 1262.0,461.2 1265.0,460.7 1268.0,460.1 1271.0,459.7 1274.0,459.2 1277.0,458.9 1280.0,458.6 1283.0,458.3 1286.0,458.1 1289.0,457.9 1292.0,457.8 1295.0,457.7 1298.0,457.7 1301.0,457.7 1304.0,457.7 1307.0,457.8 1310.0,458.0 1313.0,458.3 1316.0,458.6 1319.0,458.9 1322.0,459.4 1325.0,459.9 1328.0,460.5 1331.0,461.2 1334.0,461.9 1337.0,462.7 1340.0,463.6 1343.0,464.5 1346.0,465.5 1349.0,466.4 1352.0,467.4 1355.0,468.5 1358.0,469.5 1361.0,470.6 1364.0,471.8 1367.0,472.9 1370.0,474.1 1373.0,475.3 1376.0,476.6 1379.0,477.7 1382.0,478.9 1385.0,480.1 1388.0,481.2 1391.0,482.3 1394.0,483.3 1397.0,484.4 1400.0,485.4 1403.0,486.4 1406.0,487.4 1409.0,488.4 1412.0,489.3 1415.0,490.2 1418.0,491.1 1421.0,492.0 1424.0,492.8 1427.0,493.6 1430.0,494.4 1433.0,495.2 1436.0,496.0 1439.0,496.7 1442.0,497.4 1445.0,498.1 1448.0,498.8 1451.0,499.5 1454.0,500.2 1457.0,500.8 1460.0,501.5 1463.0,502.1 1466.0,502.7 1469.0,503.3 1472.0,503.9 1475.0,504.5 1478.0,505.0 1481.0,505.6 1484.0,506.1 1487.0,506.6 1490.0,507.1 1493.0,507.5 1496.0,508.0 1499.0,508.4 1502.0,508.8 1505.0,509.1 1508.0,509.5 1511.0,509.8 1514.0,510.0 1517.0,510.3 1520.0,510.5 1523.0,510.6 1526.0,510.7 1529.0,510.8 1532.0,510.9 1535.0,510.9 1538.0,511.0 1541.0,511.0 1544.0,511.0 1547.0,510.9 1550.0,510.9 1553.0,510.9 1556.0,510.8 1559.0,510.8 1562.0,510.7 1565.0,510.6 1568.0,510.5 1571.0,510.4 1574.0,510.3 1577.0,510.1 1580.0,510.0 1583.0,509.8 1586.0,509.6 1589.0,509.3 1592.0,509.1 1595.0,508.8 1598.0,508.5 1601.0,508.2 1604.0,508.0 1607.0,507.7 1610.0,507.4 1613.0,507.1 1616.0,506.8 1619.0,506.5 1622.0,506.2 1625.0,505.9 1628.0,505.6 1631.0,505.3 1634.0,505.0 1637.0,504.7 1640.0,504.4 1643.0,504.1 1646.0,503.8 1649.0,503.5 1652.0,503.2 1655.0,502.9 1658.0,502.6 1661.0,502.3 1664.0,502.0 1667.0,501.7 1670.0,501.4 1673.0,501.1 1676.0,500.8 1679.0,500.5 1682.0,500.2 1685.0,499.9 1688.0,499.6 1691.0,499.3 1694.0,499.0 1697.0,498.8 1700.0,498.5 1703.0,498.2 1706.0,497.9 1709.0,497.6 1712.0,497.3 1715.0,497.0 1718.0,496.6 1721.0,496.3 1724.0,495.9 1727.0,495.6 1730.0,495.2 1733.0,494.8 1736.0,494.4 1739.0,494.0 1742.0,493.6 1745.0,493.2 1748.0,492.8 1751.0,492.4 1754.0,492.0 1757.0,491.5 1760.0,491.1 1763.0,490.7 1766.0,490.2 1769.0,489.8 1772.0,489.3 1775.0,488.9 1778.0,488.5 1781.0,488.2 1784.0,487.8 1787.0,487.5 1790.0,487.3 1793.0,487.0 1796.0,486.8 1799.0,486.6 1802.0,486.4 1805.0,486.3 1808.0,486.1 1811.0,486.0 1814.0,485.9 1817.0,485.8 1820.0,485.8 1823.0,485.7 1826.0,485.7 1829.0,485.7 1832.0,485.7 1835.0,485.7 1838.0,485.8 1841.0,485.8 1844.0,485.9 1847.0,486.1 1850.0,486.2 1853.0,486.4 1856.0,486.7 1859.0,487.0 1862.0,487.2 1865.0,487.6 1868.0,487.9 1871.0,488.2 1874.0,488.5 1877.0,488.9 1880.0,489.2 1883.0,489.5 1886.0,489.8 1889.0,490.1 1892.0,490.4 1895.0,490.7 1898.0,491.0 1901.0,491.3 1904.0,491.6 1907.0,491.9 1910.0,492.2 1913.0,492.5 1916.0,492.8 1919.0,493.1 1922.0,493.4 1925.0,493.7 1928.0,493.9 1931.0,494.2 1934.0,494.5 1937.0,494.7 1940.0,495.0 1943.0,495.2 1946.0,495.5 1949.0,495.7 1952.0,495.9 1955.0,496.1 1958.0,496.2 1961.0,496.4 1964.0,496.6 1967.0,496.8 1970.0,496.9 1973.0,497.1 1976.0,497.3 1979.0,497.5 1982.0,497.7 1985.0,497.9 1988.0,498.1 1991.0,498.3 1994.0,498.5 1997.0,498.7 2000.0,498.9 2003.0,499.1 2006.0,499.4 2009.0,499.6 2012.0,499.8 2015.0,500.0 2018.0,500.2 2021.0,500.4 2024.0,500.6 2027.0,500.8 2030.0,501.0 2033.0,501.2 2036.0,501.4 2039.0,501.7 2042.0,501.9 2045.0,502.1 2048.0,502.4 2051.0,502.6 2054.0,502.8 2057.0,503.1 2060.0,503.3 2063.0,503.6 2066.0,503.8 2069.0,504.0 2072.0,504.3 2075.0,504.5 2078.0,504.7 2081.0,504.9 2084.0,505.2 2087.0,505.4 2090.0,505.6 2093.0,505.8 2096.0,506.0 2099.0,506.2 2102.0,506.4 2105.0,506.6 2108.0,506.8 2111.0,507.1 2114.0,507.3 2117.0,507.5 2120.0,507.8 2123.0,508.0 2126.0,508.3 2129.0,508.5 2132.0,508.8 2135.0,509.0 2138.0,509.2 2141.0,509.5 2144.0,509.7 2147.0,509.9 2150.0,510.1 2153.0,510.3 2156.0,510.6 2159.0,510.8 2162.0,511.0 2165.0,511.2 2168.0,511.4 2171.0,511.5 2174.0,511.7 2177.0,511.9 2180.0,512.1 2183.0,512.2 2186.0,512.4 2189.0,512.5 2192.0,512.7 2195.0,512.8 2198.0,513.0 2201.0,513.1 2202.1,513.2 L2202.1,518.4 L1097.0,518.4 Z" fill="#db72fb" fill-opacity="0.5"/>
<path d="M1097.0,511.6 1100.0,511.0 1103.0,510.3 1106.0,509.7 1109.0,509.1 1112.0,508.4 1115.0,507.8 1118.0,507.1 1121.0,506.4 1124.0,505.7 1127.0,505.0 1130.0,504.2 1133.0,503.4 1136.0,502.6 1139.0,501.8 1142.0,500.9 1145.0,500.0 1148.0,499.1 1151.0,498.2 1154.0,497.2 1157.0,496.2 1160.0,495.3 1163.0,494.3 1166.0,493.3 1169.0,492.3 1172.0,491.2 1175.0,490.2 1178.0,489.1 1181.0,488.1 1184.0,487.0 1187.0,485.9 1190.0,484.9 1193.0,483.8 1196.0,482.7 1199.0,481.7 1202.0,480.6 1205.0,479.6 1208.0,478.5 1211.0,477.4 1214.0,476.4 1217.0,475.3 1220.0,474.3 1223.0,473.3 1226.0,472.2 1229.0,471.2 1232.0,470.2 1235.0,469.1 1238.0,468.1 1241.0,467.1 1244.0,466.1 1247.0,465.1 1250.0,464.2 1253.0,463.4 1256.0,462.6 1259.0,461.9 1262.0,461.2 1265.0,460.7 1268.0,460.1 1271.0,459.7 1274.0,459.2 1277.0,458.9 1280.0,458.6 1283.0,458.3 1286.0,458.1 1289.0,457.9 1292.0,457.8 1295.0,457.7 1298.0,457.7 1301.0,457.7 1304.0,457.7 1307.0,457.8 1310.0,458.0 1313.0,458.3 1316.0,458.6 1319.0,458.9 1322.0,459.4 1325.0,459.9 1328.0,460.5 1331.0,461.2 1334.0,461.9 1337.0,462.7 1340.0,463.6 1343.0,464.5 1346.0,465.5 1349.0,466.4 1352.0,467.4 1355.0,468.5 1358.0,469.5 1361.0,470.6 1364.0,471.8 1367.0,472.9 1370.0,474.1 1373.0,475.3 1376.0,476.6 1379.0,477.7 1382.0,478.9 1385.0,480.1 1388.0,481.2 1391.0,482.3 1394.0,483.3 1397.0,484.4 1400.0,485.4 1403.0,486.4 1406.0,487.4 1409.0,488.4 1412.0,489.3 1415.0,490.2 1418.0,491.1 1421.0,492.0 1424.0,492.8 1427.0,493.6 1430.0,494.4 1433.0,495.2 1436.0,496.0 1439.0,496.7 1442.0,497.4 1445.0,498.1 1448.0,498.8 1451.0,499.5 1454.0,500.2 1457.0,500.8 1460.0,501.5 1463.0,502.1 1466.0,502.7 1469.0,503.3 1472.0,503.9 1475.0,504.5 1478.0,505.0 1481.0,505.6 1484.0,506.1 1487.0,506.6 1490.0,507.1 1493.0,507.5 1496.0,508.0 1499.0,508.4 1502.0,508.8 1505.0,509.1 1508.0,509.5 1511.0,509.8 1514.0,510.0 1517.0,510.3 1520.0,510.5 1523.0,510.6 1526.0,510.7 1529.0,510.8 1532.0,510.9 1535.0,510.9 1538.0,511.0 1541.0,511.0 1544.0,511.0 1547.0,510.9 1550.0,510.9 1553.0,510.9 1556.0,510.8 1559.0,510.8 1562.0,510.7 1565.0,510.6 1568.0,510.5 1571.0,510.4 1574.0,510.3 1577.0,510.1 1580.0,510.0 1583.0,509.8 1586.0,509.6 1589.0,509.3 1592.0,509.1 1595.0,508.8 1598.0,508.5 1601.0,508.2 1604.0,508.0 1607.0,507.7 1610.0,507.4 1613.0,507.1 1616.0,506.8 1619.0,506.5 1622.0,506.2 1625.0,505.9 1628.0,505.6 1631.0,505.3 1634.0,505.0 1637.0,504.7 1640.0,504.4 1643.0,504.1 1646.0,503.8 1649.0,503.5 1652.0,503.2 1655.0,502.9 1658.0,502.6 1661.0,502.3 1664.0,502.0 1667.0,501.7 1670.0,501.4 1673.0,501.1 1676.0,500.8 1679.0,500.5 1682.0,500.2 1685.0,499.9 1688.0,499.6 1691.0,499.3 1694.0,499.0 1697.0,498.8 1700.0,498.5 1703.0,498.2 1706.0,497.9 1709.0,497.6 1712.0,497.3 1715.0,497.0 1718.0,496.6 1721.0,496.3 1724.0,495.9 1727.0,495.6 1730.0,495.2 1733.0,494.8 1736.0,494.4 1739.0,494.0 1742.0,493.6 1745.0,493.2 1748.0,492.8 1751.0,492.4 1754.0,492.0 1757.0,491.5 1760.0,491.1 1763.0,490.7 1766.0,490.2 1769.0,489.8 1772.0,489.3 1775.0,488.9 1778.0,488.5 1781.0,488.2 1784.0,487.8 1787.0,487.5 1790.0,487.3 1793.0,487.0 1796.0,486.8 1799.0,486.6 1802.0,486.4 1805.0,486.3 1808.0,486.1 1811.0,486.0 1814.0,485.9 1817.0,485.8 1820.0,485.8 1823.0,485.7 1826.0,485.7 1829.0,485.7 1832.0,485.7 1835.0,485.7 1838.0,485.8 1841.0,485.8 1844.0,485.9 1847.0,486.1 1850.0,486.2 1853.0,486.4 1856.0,486.7 1859.0,487.0 1862.0,487.2 1865.0,487.6 1868.0,487.9 1871.0,488.2 1874.0,488.5 1877.0,488.9 1880.0,489.2 1883.0,489.5 1886.0,489.8 1889.0,490.1 1892.0,490.4 1895.0,490.7 1898.0,491.0 1901.0,491.3 1904.0,491.6 1907.0,491.9 1910.0,492.2 1913.0,492.5 1916.0,492.8 1919.0,493.1 1922.0,493.4 1925.0,493.7 1928.0,493.9 1931.0,494.2 1934.0,494.5 1937.0,494.7 1940.0,495.0 1943.0,495.2 1946.0,495.5 1949.0,495.7 1952.0,495.9 1955.0,496.1 1958.0,496.2 1961.0,496.4 1964.0,496.6 1967.0,496.8 1970.0,496.9 1973.0,497.1 1976.0,497.3 1979.0,497.5 1982.0,497.7 1985.0,497.9 1988.0,498.1 1991.0,498.3 1994.0,498.5 1997.0,498.7 2000.0,498.9 2003.0,499.1 2006.0,499.4 2009.0,499.6 2012.0,499.8 2015.0,500.0 2018.0,500.2 2021.0,500.4 2024.0,500.6 2027.0,500.8 2030.0,501.0 2033.0,501.2 2036.0,501.4 2039.0,501.7 2042.0,501.9 2045.0,502.1 2048.0,502.4 2051.0,502.6 2054.0,502.8 2057.0,503.1 2060.0,503.3 2063.0,503.6 2066.0,503.8 2069.0,504.0 2072.0,504.3 2075.0,504.5 2078.0,504.7 2081.0,504.9 2084.0,505.2 2087.0,505.4 2090.0,505.6 2093.0,505.8 2096.0,506.0 2099.0,506.2 2102.0,506.4 2105.0,506.6 2108.0,506.8 2111.0,507.1 2114.0,507.3 2117.0,507.5 2120.0,507.8 2123.0,508.0 2126.0,508.3 2129.0,508.5 2132.0,508.8 2135.0,509.0 2138.0,509.2 2141.0,509.5 2144.0,509.7 2147.0,509.9 2150.0,510.1 2153.0,510.3 2156.0,510.6 2159.0,510.8 2162.0,511.0 2165.0,511.2 2168.0,511.4 2171.0,511.5 2174.0,511.7 2177.0,511.9 2180.0,512.1 2183.0,512.2 2186.0,512.4 2189.0,512.5 2192.0,512.7 2195.0,512.8 2198.0,513.0 2201.0,513.1 2202.1,513.2" fill="none" stroke="#000" stroke-width="3.8" stroke-linejoin="round" stroke-linecap="butt"/>
<path d="M1097.0,625.8 1100.0,624.9 1103.0,623.9 1106.0,623.0 1109.0,622.0 1112.0,621.1 1115.0,620.1 1118.0,619.1 1121.0,618.1 1124.0,617.0 1127.0,615.9 1130.0,614.8 1133.0,613.6 1136.0,612.3 1139.0,611.1 1142.0,609.8 1145.0,608.4 1148.0,607.0 1151.0,605.6 1154.0,604.2 1157.0,602.8 1160.0,601.3 1163.0,599.9 1166.0,598.4 1169.0,596.8 1172.0,595.3 1175.0,593.7 1178.0,592.1 1181.0,590.5 1184.0,589.0 1187.0,587.4 1190.0,585.8 1193.0,584.3 1196.0,582.8 1199.0,581.3 1202.0,579.8 1205.0,578.3 1208.0,576.8 1211.0,575.4 1214.0,573.9 1217.0,572.5 1220.0,571.1 1223.0,569.8 1226.0,568.4 1229.0,567.1 1232.0,565.8 1235.0,564.6 1238.0,563.3 1241.0,562.1 1244.0,560.9 1247.0,559.8 1250.0,558.8 1253.0,557.8 1256.0,556.9 1259.0,556.2 1262.0,555.5 1265.0,554.9 1268.0,554.3 1271.0,553.9 1274.0,553.5 1277.0,553.2 1280.0,552.9 1283.0,552.7 1286.0,552.5 1289.0,552.4 1292.0,552.3 1295.0,552.2 1298.0,552.2 1301.0,552.2 1304.0,552.2 1307.0,552.3 1310.0,552.5 1313.0,552.7 1316.0,553.1 1319.0,553.5 1322.0,554.0 1325.0,554.6 1328.0,555.3 1331.0,556.0 1334.0,556.9 1337.0,557.9 1340.0,558.9 1343.0,560.0 1346.0,561.1 1349.0,562.2 1352.0,563.4 1355.0,564.6 1358.0,565.9 1361.0,567.1 1364.0,568.5 1367.0,569.8 1370.0,571.2 1373.0,572.6 1376.0,574.1 1379.0,575.6 1382.0,577.1 1385.0,578.6 1388.0,580.2 1391.0,581.8 1394.0,583.4 1397.0,585.0 1400.0,586.7 1403.0,588.4 1406.0,590.1 1409.0,591.8 1412.0,593.4 1415.0,595.0 1418.0,596.6 1421.0,598.1 1424.0,599.6 1427.0,601.1 1430.0,602.5 1433.0,603.9 1436.0,605.3 1439.0,606.6 1442.0,607.9 1445.0,609.2 1448.0,610.4 1451.0,611.6 1454.0,612.7 1457.0,613.8 1460.0,614.8 1463.0,615.8 1466.0,616.7 1469.0,617.6 1472.0,618.5 1475.0,619.3 1478.0,620.1 1481.0,620.8 1484.0,621.6 1487.0,622.3 1490.0,622.9 1493.0,623.6 1496.0,624.2 1499.0,624.8 1502.0,625.3 1505.0,625.8 1508.0,626.3 1511.0,626.7 1514.0,627.1 1517.0,627.4 1520.0,627.7 1523.0,627.9 1526.0,628.1 1529.0,628.3 1532.0,628.4 1535.0,628.5 1538.0,628.6 1541.0,628.6 1544.0,628.7 1547.0,628.7 1550.0,628.7 1553.0,628.7 1556.0,628.7 1559.0,628.7 1562.0,628.7 1565.0,628.7 1568.0,628.6 1571.0,628.6 1574.0,628.6 1577.0,628.5 1580.0,628.5 1583.0,628.4 1586.0,628.3 1589.0,628.3 1592.0,628.2 1595.0,628.1 1598.0,628.0 1601.0,627.9 1604.0,627.8 1607.0,627.6 1610.0,627.5 1613.0,627.3 1616.0,627.1 1619.0,627.0 1622.0,626.8 1625.0,626.7 1628.0,626.5 1631.0,626.4 1634.0,626.3 1637.0,626.1 1640.0,626.0 1643.0,625.9 1646.0,625.8 1649.0,625.8 1652.0,625.7 1655.0,625.6 1658.0,625.6 1661.0,625.5 1664.0,625.5 1667.0,625.4 1670.0,625.4 1673.0,625.4 1676.0,625.4 1679.0,625.4 1682.0,625.4 1685.0,625.4 1688.0,625.4 1691.0,625.4 1694.0,625.4 1697.0,625.4 1700.0,625.4 1703.0,625.4 1706.0,625.4 1709.0,625.4 1712.0,625.4 1715.0,625.5 1718.0,625.5 1721.0,625.5 1724.0,625.5 1727.0,625.6 1730.0,625.6 1733.0,625.6 1736.0,625.7 1739.0,625.7 1742.0,625.8 1745.0,625.8 1748.0,625.9 1751.0,625.9 1754.0,626.0 1757.0,626.1 1760.0,626.1 1763.0,626.2 1766.0,626.2 1769.0,626.3 1772.0,626.3 1775.0,626.3 1778.0,626.4 1781.0,626.4 1784.0,626.4 1787.0,626.5 1790.0,626.5 1793.0,626.5 1796.0,626.5 1799.0,626.5 1802.0,626.5 1805.0,626.6 1808.0,626.6 1811.0,626.6 1814.0,626.6 1817.0,626.6 1820.0,626.6 1823.0,626.6 1826.0,626.6 1829.0,626.6 1832.0,626.5 1835.0,626.5 1838.0,626.5 1841.0,626.5 1844.0,626.5 1847.0,626.5 1850.0,626.4 1853.0,626.4 1856.0,626.4 1859.0,626.4 1862.0,626.3 1865.0,626.3 1868.0,626.3 1871.0,626.2 1874.0,626.2 1877.0,626.2 1880.0,626.1 1883.0,626.1 1886.0,626.0 1889.0,626.0 1892.0,625.9 1895.0,625.9 1898.0,625.8 1901.0,625.8 1904.0,625.7 1907.0,625.6 1910.0,625.6 1913.0,625.5 1916.0,625.4 1919.0,625.3 1922.0,625.2 1925.0,625.1 1928.0,625.0 1931.0,624.9 1934.0,624.8 1937.0,624.7 1940.0,624.6 1943.0,624.5 1946.0,624.4 1949.0,624.3 1952.0,624.1 1955.0,624.0 1958.0,623.9 1961.0,623.8 1964.0,623.7 1967.0,623.6 1970.0,623.5 1973.0,623.4 1976.0,623.3 1979.0,623.2 1982.0,623.1 1985.0,623.0 1988.0,623.0 1991.0,622.9 1994.0,622.8 1997.0,622.7 2000.0,622.7 2003.0,622.6 2006.0,622.6 2009.0,622.5 2012.0,622.5 2015.0,622.4 2018.0,622.4 2021.0,622.3 2024.0,622.3 2027.0,622.3 2030.0,622.2 2033.0,622.2 2036.0,622.2 2039.0,622.2 2042.0,622.2 2045.0,622.2 2048.0,622.2 2051.0,622.2 2054.0,622.2 2057.0,622.2 2060.0,622.2 2063.0,622.2 2066.0,622.2 2069.0,622.2 2072.0,622.2 2075.0,622.3 2078.0,622.3 2081.0,622.3 2084.0,622.3 2087.0,622.3 2090.0,622.3 2093.0,622.3 2096.0,622.3 2099.0,622.4 2102.0,622.5 2105.0,622.6 2108.0,622.7 2111.0,622.8 2114.0,623.0 2117.0,623.2 2120.0,623.4 2123.0,623.6 2126.0,623.8 2129.0,624.0 2132.0,624.3 2135.0,624.5 2138.0,624.7 2141.0,625.0 2144.0,625.2 2147.0,625.5 2150.0,625.7 2153.0,626.0 2156.0,626.2 2159.0,626.5 2162.0,626.7 2165.0,626.9 2168.0,627.2 2171.0,627.4 2174.0,627.5 2177.0,627.7 2180.0,627.9 2183.0,628.0 2186.0,628.2 2189.0,628.3 2192.0,628.5 2195.0,628.6 2198.0,628.8 2201.0,628.9 2204.0,629.1 2207.0,629.2 2210.0,629.4 2213.0,629.5 2216.0,629.7 2219.0,629.9 2222.0,630.0 2225.0,630.2 2228.0,630.4 2231.0,630.5 2232.7,630.6 L2232.7,635.5 L1097.0,635.5 Z" fill="#ae87ff" fill-opacity="0.5"/>
<path d="M1097.0,625.8 1100.0,624.9 1103.0,623.9 1106.0,623.0 1109.0,622.0 1112.0,621.1 1115.0,620.1 1118.0,619.1 1121.0,618.1 1124.0,617.0 1127.0,615.9 1130.0,614.8 1133.0,613.6 1136.0,612.3 1139.0,611.1 1142.0,609.8 1145.0,608.4 1148.0,607.0 1151.0,605.6 1154.0,604.2 1157.0,602.8 1160.0,601.3 1163.0,599.9 1166.0,598.4 1169.0,596.8 1172.0,595.3 1175.0,593.7 1178.0,592.1 1181.0,590.5 1184.0,589.0 1187.0,587.4 1190.0,585.8 1193.0,584.3 1196.0,582.8 1199.0,581.3 1202.0,579.8 1205.0,578.3 1208.0,576.8 1211.0,575.4 1214.0,573.9 1217.0,572.5 1220.0,571.1 1223.0,569.8 1226.0,568.4 1229.0,567.1 1232.0,565.8 1235.0,564.6 1238.0,563.3 1241.0,562.1 1244.0,560.9 1247.0,559.8 1250.0,558.8 1253.0,557.8 1256.0,556.9 1259.0,556.2 1262.0,555.5 1265.0,554.9 1268.0,554.3 1271.0,553.9 1274.0,553.5 1277.0,553.2 1280.0,552.9 1283.0,552.7 1286.0,552.5 1289.0,552.4 1292.0,552.3 1295.0,552.2 1298.0,552.2 1301.0,552.2 1304.0,552.2 1307.0,552.3 1310.0,552.5 1313.0,552.7 1316.0,553.1 1319.0,553.5 1322.0,554.0 1325.0,554.6 1328.0,555.3 1331.0,556.0 1334.0,556.9 1337.0,557.9 1340.0,558.9 1343.0,560.0 1346.0,561.1 1349.0,562.2 1352.0,563.4 1355.0,564.6 1358.0,565.9 1361.0,567.1 1364.0,568.5 1367.0,569.8 1370.0,571.2 1373.0,572.6 1376.0,574.1 1379.0,575.6 1382.0,577.1 1385.0,578.6 1388.0,580.2 1391.0,581.8 1394.0,583.4 1397.0,585.0 1400.0,586.7 1403.0,588.4 1406.0,590.1 1409.0,591.8 1412.0,593.4 1415.0,595.0 1418.0,596.6 1421.0,598.1 1424.0,599.6 1427.0,601.1 1430.0,602.5 1433.0,603.9 1436.0,605.3 1439.0,606.6 1442.0,607.9 1445.0,609.2 1448.0,610.4 1451.0,611.6 1454.0,612.7 1457.0,613.8 1460.0,614.8 1463.0,615.8 1466.0,616.7 1469.0,617.6 1472.0,618.5 1475.0,619.3 1478.0,620.1 1481.0,620.8 1484.0,621.6 1487.0,622.3 1490.0,622.9 1493.0,623.6 1496.0,624.2 1499.0,624.8 1502.0,625.3 1505.0,625.8 1508.0,626.3 1511.0,626.7 1514.0,627.1 1517.0,627.4 1520.0,627.7 1523.0,627.9 1526.0,628.1 1529.0,628.3 1532.0,628.4 1535.0,628.5 1538.0,628.6 1541.0,628.6 1544.0,628.7 1547.0,628.7 1550.0,628.7 1553.0,628.7 1556.0,628.7 1559.0,628.7 1562.0,628.7 1565.0,628.7 1568.0,628.6 1571.0,628.6 1574.0,628.6 1577.0,628.5 1580.0,628.5 1583.0,628.4 1586.0,628.3 1589.0,628.3 1592.0,628.2 1595.0,628.1 1598.0,628.0 1601.0,627.9 1604.0,627.8 1607.0,627.6 1610.0,627.5 1613.0,627.3 1616.0,627.1 1619.0,627.0 1622.0,626.8 1625.0,626.7 1628.0,626.5 1631.0,626.4 1634.0,626.3 1637.0,626.1 1640.0,626.0 1643.0,625.9 1646.0,625.8 1649.0,625.8 1652.0,625.7 1655.0,625.6 1658.0,625.6 1661.0,625.5 1664.0,625.5 1667.0,625.4 1670.0,625.4 1673.0,625.4 1676.0,625.4 1679.0,625.4 1682.0,625.4 1685.0,625.4 1688.0,625.4 1691.0,625.4 1694.0,625.4 1697.0,625.4 1700.0,625.4 1703.0,625.4 1706.0,625.4 1709.0,625.4 1712.0,625.4 1715.0,625.5 1718.0,625.5 1721.0,625.5 1724.0,625.5 1727.0,625.6 1730.0,625.6 1733.0,625.6 1736.0,625.7 1739.0,625.7 1742.0,625.8 1745.0,625.8 1748.0,625.9 1751.0,625.9 1754.0,626.0 1757.0,626.1 1760.0,626.1 1763.0,626.2 1766.0,626.2 1769.0,626.3 1772.0,626.3 1775.0,626.3 1778.0,626.4 1781.0,626.4 1784.0,626.4 1787.0,626.5 1790.0,626.5 1793.0,626.5 1796.0,626.5 1799.0,626.5 1802.0,626.5 1805.0,626.6 1808.0,626.6 1811.0,626.6 1814.0,626.6 1817.0,626.6 1820.0,626.6 1823.0,626.6 1826.0,626.6 1829.0,626.6 1832.0,626.5 1835.0,626.5 1838.0,626.5 1841.0,626.5 1844.0,626.5 1847.0,626.5 1850.0,626.4 1853.0,626.4 1856.0,626.4 1859.0,626.4 1862.0,626.3 1865.0,626.3 1868.0,626.3 1871.0,626.2 1874.0,626.2 1877.0,626.2 1880.0,626.1 1883.0,626.1 1886.0,626.0 1889.0,626.0 1892.0,625.9 1895.0,625.9 1898.0,625.8 1901.0,625.8 1904.0,625.7 1907.0,625.6 1910.0,625.6 1913.0,625.5 1916.0,625.4 1919.0,625.3 1922.0,625.2 1925.0,625.1 1928.0,625.0 1931.0,624.9 1934.0,624.8 1937.0,624.7 1940.0,624.6 1943.0,624.5 1946.0,624.4 1949.0,624.3 1952.0,624.1 1955.0,624.0 1958.0,623.9 1961.0,623.8 1964.0,623.7 1967.0,623.6 1970.0,623.5 1973.0,623.4 1976.0,623.3 1979.0,623.2 1982.0,623.1 1985.0,623.0 1988.0,623.0 1991.0,622.9 1994.0,622.8 1997.0,622.7 2000.0,622.7 2003.0,622.6 2006.0,622.6 2009.0,622.5 2012.0,622.5 2015.0,622.4 2018.0,622.4 2021.0,622.3 2024.0,622.3 2027.0,622.3 2030.0,622.2 2033.0,622.2 2036.0,622.2 2039.0,622.2 2042.0,622.2 2045.0,622.2 2048.0,622.2 2051.0,622.2 2054.0,622.2 2057.0,622.2 2060.0,622.2 2063.0,622.2 2066.0,622.2 2069.0,622.2 2072.0,622.2 2075.0,622.3 2078.0,622.3 2081.0,622.3 2084.0,622.3 2087.0,622.3 2090.0,622.3 2093.0,622.3 2096.0,622.3 2099.0,622.4 2102.0,622.5 2105.0,622.6 2108.0,622.7 2111.0,622.8 2114.0,623.0 2117.0,623.2 2120.0,623.4 2123.0,623.6 2126.0,623.8 2129.0,624.0 2132.0,624.3 2135.0,624.5 2138.0,624.7 2141.0,625.0 2144.0,625.2 2147.0,625.5 2150.0,625.7 2153.0,626.0 2156.0,626.2 2159.0,626.5 2162.0,626.7 2165.0,626.9 2168.0,627.2 2171.0,627.4 2174.0,627.5 2177.0,627.7 2180.0,627.9 2183.0,628.0 2186.0,628.2 2189.0,628.3 2192.0,628.5 2195.0,628.6 2198.0,628.8 2201.0,628.9 2204.0,629.1 2207.0,629.2 2210.0,629.4 2213.0,629.5 2216.0,629.7 2219.0,629.9 2222.0,630.0 2225.0,630.2 2228.0,630.4 2231.0,630.5 2232.7,630.6" fill="none" stroke="#000" stroke-width="3.8" stroke-linejoin="round" stroke-linecap="butt"/>
<path d="M1135.7,747.4 1138.7,747.0 1141.7,746.5 1144.7,746.1 1147.7,745.6 1150.7,745.2 1153.7,744.7 1156.7,744.3 1159.7,743.8 1162.7,743.4 1165.7,742.9 1168.7,742.5 1171.7,742.0 1174.7,741.6 1177.7,741.1 1180.7,740.6 1183.7,740.2 1186.7,739.8 1189.7,739.3 1192.7,738.9 1195.7,738.5 1198.7,738.1 1201.7,737.7 1204.7,737.4 1207.7,737.0 1210.7,736.6 1213.7,736.3 1216.7,735.9 1219.7,735.6 1222.7,735.2 1225.7,734.9 1228.7,734.6 1231.7,734.3 1234.7,733.9 1237.7,733.6 1240.7,733.3 1243.7,733.0 1246.7,732.7 1249.7,732.4 1252.7,732.2 1255.7,731.9 1258.7,731.6 1261.7,731.4 1264.7,731.2 1267.7,730.9 1270.7,730.7 1273.7,730.5 1276.7,730.4 1279.7,730.2 1282.7,730.1 1285.7,730.0 1288.7,729.9 1291.7,729.8 1294.7,729.8 1297.7,729.8 1300.7,729.8 1303.7,729.9 1306.7,729.9 1309.7,730.0 1312.7,730.2 1315.7,730.3 1318.7,730.5 1321.7,730.7 1324.7,731.0 1327.7,731.2 1330.7,731.5 1333.7,731.9 1336.7,732.2 1339.7,732.6 1342.7,732.9 1345.7,733.3 1348.7,733.7 1351.7,734.1 1354.7,734.5 1357.7,734.9 1360.7,735.3 1363.7,735.7 1366.7,736.1 1369.7,736.5 1372.7,736.9 1375.7,737.3 1378.7,737.7 1381.7,738.0 1384.7,738.4 1387.7,738.7 1390.7,739.0 1393.7,739.3 1396.7,739.6 1399.7,739.8 1402.7,740.1 1405.7,740.3 1408.7,740.5 1411.7,740.7 1414.7,741.0 1417.7,741.2 1420.7,741.4 1423.7,741.6 1426.7,741.9 1429.7,742.1 1432.7,742.3 1435.7,742.5 1438.7,742.7 1441.7,742.9 1444.7,743.1 1447.7,743.3 1450.7,743.4 1453.7,743.6 1456.7,743.7 1459.7,743.8 1462.7,743.9 1465.7,743.9 1468.7,744.0 1471.7,744.0 1474.7,744.1 1477.7,744.1 1480.7,744.2 1483.7,744.2 1486.7,744.2 1489.7,744.3 1492.7,744.3 1495.7,744.3 1498.7,744.4 1501.7,744.4 1504.7,744.4 1507.7,744.5 1510.7,744.5 1513.7,744.5 1516.7,744.6 1519.7,744.6 1522.7,744.7 1525.7,744.7 1528.7,744.8 1531.7,744.9 1534.7,744.9 1537.7,745.0 1540.7,745.0 1543.7,745.1 1546.7,745.1 1549.7,745.2 1552.7,745.2 1555.7,745.2 1558.7,745.2 1561.7,745.2 1564.7,745.2 1567.7,745.2 1570.7,745.2 1573.7,745.2 1576.7,745.2 1579.7,745.2 1582.7,745.1 1585.7,745.1 1588.7,745.1 1591.7,745.0 1594.7,745.0 1597.7,744.9 1600.7,744.8 1603.7,744.8 1606.7,744.7 1609.7,744.6 1612.7,744.5 1615.7,744.4 1618.7,744.3 1621.7,744.2 1624.7,744.1 1627.7,744.0 1630.7,743.8 1633.7,743.6 1636.7,743.4 1639.7,743.2 1642.7,743.0 1645.7,742.7 1648.7,742.4 1651.7,742.1 1654.7,741.7 1657.7,741.4 1660.7,741.0 1663.7,740.6 1666.7,740.2 1669.7,739.8 1672.7,739.4 1675.7,739.1 1678.7,738.7 1681.7,738.4 1684.7,738.1 1687.7,737.8 1690.7,737.6 1693.7,737.3 1696.7,737.1 1699.7,736.8 1702.7,736.5 1705.7,736.3 1708.7,735.9 1711.7,735.6 1714.7,735.2 1717.7,734.8 1720.7,734.4 1723.7,733.9 1726.7,733.3 1729.7,732.7 1732.7,732.1 1735.7,731.4 1738.7,730.7 1741.7,730.0 1744.7,729.3 1747.7,728.6 1750.7,727.8 1753.7,727.1 1756.7,726.4 1759.7,725.7 1762.7,724.9 1765.7,724.2 1768.7,723.4 1771.7,722.7 1774.7,721.9 1777.7,721.1 1780.7,720.3 1783.7,719.5 1786.7,718.7 1789.7,717.9 1792.7,717.0 1795.7,716.2 1798.7,715.3 1801.7,714.4 1804.7,713.5 1807.7,712.5 1810.7,711.6 1813.7,710.6 1816.7,709.6 1819.7,708.5 1822.7,707.4 1825.7,706.3 1828.7,705.1 1831.7,704.0 1834.7,702.8 1837.7,701.7 1840.7,700.6 1843.7,699.5 1846.7,698.4 1849.7,697.4 1852.7,696.4 1855.7,695.5 1858.7,694.6 1861.7,693.7 1864.7,692.9 1867.7,692.1 1870.7,691.3 1873.7,690.6 1876.7,689.9 1879.7,689.3 1882.7,688.7 1885.7,688.1 1888.7,687.6 1891.7,687.1 1894.7,686.7 1897.7,686.3 1900.7,685.9 1903.7,685.6 1906.7,685.3 1909.7,685.0 1912.7,684.7 1915.7,684.5 1918.7,684.3 1921.7,684.2 1924.7,684.0 1927.7,683.9 1930.7,683.9 1933.7,683.8 1936.7,683.8 1939.7,683.9 1942.7,684.0 1945.7,684.1 1948.7,684.3 1951.7,684.5 1954.7,684.8 1957.7,685.1 1960.7,685.4 1963.7,685.8 1966.7,686.3 1969.7,686.7 1972.7,687.3 1975.7,687.9 1978.7,688.5 1981.7,689.2 1984.7,690.0 1987.7,690.8 1990.7,691.6 1993.7,692.5 1996.7,693.4 1999.7,694.4 2002.7,695.3 2005.7,696.3 2008.7,697.3 2011.7,698.4 2014.7,699.4 2017.7,700.5 2020.7,701.6 2023.7,702.7 2026.7,703.8 2029.7,704.9 2032.7,706.0 2035.7,707.2 2038.7,708.3 2041.7,709.4 2044.7,710.5 2047.7,711.6 2050.7,712.7 2053.7,713.7 2056.7,714.8 2059.7,715.9 2062.7,716.9 2065.7,717.9 2068.7,718.9 2071.7,719.9 2074.7,720.9 2077.7,721.8 2080.7,722.7 2083.7,723.6 2086.7,724.5 2089.7,725.3 2092.7,726.2 2095.7,727.0 2098.7,727.8 2101.7,728.6 2104.7,729.4 2107.7,730.2 2110.7,731.0 2113.7,731.8 2116.7,732.6 2119.7,733.4 2122.7,734.1 2125.7,734.9 2128.7,735.6 2131.7,736.3 2134.7,737.0 2137.7,737.6 2140.7,738.3 2143.7,738.8 2146.7,739.4 2149.7,740.0 2152.7,740.5 2155.7,741.0 2158.7,741.5 2161.7,742.0 2164.7,742.5 2167.7,743.0 2170.7,743.5 2173.7,744.0 2176.7,744.5 2179.7,745.0 2182.7,745.5 2185.7,746.0 2188.7,746.5 2191.7,747.0 2194.0,747.4 L2194.0,752.6 L1135.7,752.6 Z" fill="#619cff" fill-opacity="0.5"/>
<path d="M1135.7,747.4 1138.7,747.0 1141.7,746.5 1144.7,746.1 1147.7,745.6 1150.7,745.2 1153.7,744.7 1156.7,744.3 1159.7,743.8 1162.7,743.4 1165.7,742.9 1168.7,742.5 1171.7,742.0 1174.7,741.6 1177.7,741.1 1180.7,740.6 1183.7,740.2 1186.7,739.8 1189.7,739.3 1192.7,738.9 1195.7,738.5 1198.7,738.1 1201.7,737.7 1204.7,737.4 1207.7,737.0 1210.7,736.6 1213.7,736.3 1216.7,735.9 1219.7,735.6 1222.7,735.2 1225.7,734.9 1228.7,734.6 1231.7,734.3 1234.7,733.9 1237.7,733.6 1240.7,733.3 1243.7,733.0 1246.7,732.7 1249.7,732.4 1252.7,732.2 1255.7,731.9 1258.7,731.6 1261.7,731.4 1264.7,731.2 1267.7,730.9 1270.7,730.7 1273.7,730.5 1276.7,730.4 1279.7,730.2 1282.7,730.1 1285.7,730.0 1288.7,729.9 1291.7,729.8 1294.7,729.8 1297.7,729.8 1300.7,729.8 1303.7,729.9 1306.7,729.9 1309.7,730.0 1312.7,730.2 1315.7,730.3 1318.7,730.5 1321.7,730.7 1324.7,731.0 1327.7,731.2 1330.7,731.5 1333.7,731.9 1336.7,732.2 1339.7,732.6 1342.7,732.9 1345.7,733.3 1348.7,733.7 1351.7,734.1 1354.7,734.5 1357.7,734.9 1360.7,735.3 1363.7,735.7 1366.7,736.1 1369.7,736.5 1372.7,736.9 1375.7,737.3 1378.7,737.7 1381.7,738.0 1384.7,738.4 1387.7,738.7 1390.7,739.0 1393.7,739.3 1396.7,739.6 1399.7,739.8 1402.7,740.1 1405.7,740.3 1408.7,740.5 1411.7,740.7 1414.7,741.0 1417.7,741.2 1420.7,741.4 1423.7,741.6 1426.7,741.9 1429.7,742.1 1432.7,742.3 1435.7,742.5 1438.7,742.7 1441.7,742.9 1444.7,743.1 1447.7,743.3 1450.7,743.4 1453.7,743.6 1456.7,743.7 1459.7,743.8 1462.7,743.9 1465.7,743.9 1468.7,744.0 1471.7,744.0 1474.7,744.1 1477.7,744.1 1480.7,744.2 1483.7,744.2 1486.7,744.2 1489.7,744.3 1492.7,744.3 1495.7,744.3 1498.7,744.4 1501.7,744.4 1504.7,744.4 1507.7,744.5 1510.7,744.5 1513.7,744.5 1516.7,744.6 1519.7,744.6 1522.7,744.7 1525.7,744.7 1528.7,744.8 1531.7,744.9 1534.7,744.9 1537.7,745.0 1540.7,745.0 1543.7,745.1 1546.7,745.1 1549.7,745.2 1552.7,745.2 1555.7,745.2 1558.7,745.2 1561.7,745.2 1564.7,745.2 1567.7,745.2 1570.7,745.2 1573.7,745.2 1576.7,745.2 1579.7,745.2 1582.7,745.1 1585.7,745.1 1588.7,745.1 1591.7,745.0 1594.7,745.0 1597.7,744.9 1600.7,744.8 1603.7,744.8 1606.7,744.7 1609.7,744.6 1612.7,744.5 1615.7,744.4 1618.7,744.3 1621.7,744.2 1624.7,744.1 1627.7,744.0 1630.7,743.8 1633.7,743.6 1636.7,743.4 1639.7,743.2 1642.7,743.0 1645.7,742.7 1648.7,742.4 1651.7,742.1 1654.7,741.7 1657.7,741.4 1660.7,741.0 1663.7,740.6 1666.7,740.2 1669.7,739.8 1672.7,739.4 1675.7,739.1 1678.7,738.7 1681.7,738.4 1684.7,738.1 1687.7,737.8 1690.7,737.6 1693.7,737.3 1696.7,737.1 1699.7,736.8 1702.7,736.5 1705.7,736.3 1708.7,735.9 1711.7,735.6 1714.7,735.2 1717.7,734.8 1720.7,734.4 1723.7,733.9 1726.7,733.3 1729.7,732.7 1732.7,732.1 1735.7,731.4 1738.7,730.7 1741.7,730.0 1744.7,729.3 1747.7,728.6 1750.7,727.8 1753.7,727.1 1756.7,726.4 1759.7,725.7 1762.7,724.9 1765.7,724.2 1768.7,723.4 1771.7,722.7 1774.7,721.9 1777.7,721.1 1780.7,720.3 1783.7,719.5 1786.7,718.7 1789.7,717.9 1792.7,717.0 1795.7,716.2 1798.7,715.3 1801.7,714.4 1804.7,713.5 1807.7,712.5 1810.7,711.6 1813.7,710.6 1816.7,709.6 1819.7,708.5 1822.7,707.4 1825.7,706.3 1828.7,705.1 1831.7,704.0 1834.7,702.8 1837.7,701.7 1840.7,700.6 1843.7,699.5 1846.7,698.4 1849.7,697.4 1852.7,696.4 1855.7,695.5 1858.7,694.6 1861.7,693.7 1864.7,692.9 1867.7,692.1 1870.7,691.3 1873.7,690.6 1876.7,689.9 1879.7,689.3 1882.7,688.7 1885.7,688.1 1888.7,687.6 1891.7,687.1 1894.7,686.7 1897.7,686.3 1900.7,685.9 1903.7,685.6 1906.7,685.3 1909.7,685.0 1912.7,684.7 1915.7,684.5 1918.7,684.3 1921.7,684.2 1924.7,684.0 1927.7,683.9 1930.7,683.9 1933.7,683.8 1936.7,683.8 1939.7,683.9 1942.7,684.0 1945.7,684.1 1948.7,684.3 1951.7,684.5 1954.7,684.8 1957.7,685.1 1960.7,685.4 1963.7,685.8 1966.7,686.3 1969.7,686.7 1972.7,687.3 1975.7,687.9 1978.7,688.5 1981.7,689.2 1984.7,690.0 1987.7,690.8 1990.7,691.6 1993.7,692.5 1996.7,693.4 1999.7,694.4 2002.7,695.3 2005.7,696.3 2008.7,697.3 2011.7,698.4 2014.7,699.4 2017.7,700.5 2020.7,701.6 2023.7,702.7 2026.7,703.8 2029.7,704.9 2032.7,706.0 2035.7,707.2 2038.7,708.3 2041.7,709.4 2044.7,710.5 2047.7,711.6 2050.7,712.7 2053.7,713.7 2056.7,714.8 2059.7,715.9 2062.7,716.9 2065.7,717.9 2068.7,718.9 2071.7,719.9 2074.7,720.9 2077.7,721.8 2080.7,722.7 2083.7,723.6 2086.7,724.5 2089.7,725.3 2092.7,726.2 2095.7,727.0 2098.7,727.8 2101.7,728.6 2104.7,729.4 2107.7,730.2 2110.7,731.0 2113.7,731.8 2116.7,732.6 2119.7,733.4 2122.7,734.1 2125.7,734.9 2128.7,735.6 2131.7,736.3 2134.7,737.0 2137.7,737.6 2140.7,738.3 2143.7,738.8 2146.7,739.4 2149.7,740.0 2152.7,740.5 2155.7,741.0 2158.7,741.5 2161.7,742.0 2164.7,742.5 2167.7,743.0 2170.7,743.5 2173.7,744.0 2176.7,744.5 2179.7,745.0 2182.7,745.5 2185.7,746.0 2188.7,746.5 2191.7,747.0 2194.0,747.4" fill="none" stroke="#000" stroke-width="3.8" stroke-linejoin="round" stroke-linecap="butt"/>
<path d="M1097.0,864.6 1100.0,864.2 1103.0,863.8 1106.0,863.4 1109.0,863.0 1112.0,862.7 1115.0,862.3 1118.0,861.8 1121.0,861.4 1124.0,860.9 1127.0,860.4 1130.0,859.8 1133.0,859.2 1136.0,858.5 1139.0,857.8 1142.0,857.0 1145.0,856.2 1148.0,855.4 1151.0,854.6 1154.0,853.8 1157.0,852.9 1160.0,852.1 1163.0,851.2 1166.0,850.3 1169.0,849.5 1172.0,848.6 1175.0,847.7 1178.0,846.8 1181.0,845.9 1184.0,845.0 1187.0,844.0 1190.0,843.1 1193.0,842.2 1196.0,841.3 1199.0,840.4 1202.0,839.5 1205.0,838.5 1208.0,837.6 1211.0,836.7 1214.0,835.8 1217.0,834.9 1220.0,834.0 1223.0,833.2 1226.0,832.3 1229.0,831.5 1232.0,830.7 1235.0,829.9 1238.0,829.1 1241.0,828.3 1244.0,827.6 1247.0,826.9 1250.0,826.2 1253.0,825.6 1256.0,825.1 1259.0,824.6 1262.0,824.1 1265.0,823.7 1268.0,823.4 1271.0,823.1 1274.0,822.8 1277.0,822.6 1280.0,822.4 1283.0,822.3 1286.0,822.2 1289.0,822.1 1292.0,822.0 1295.0,822.0 1298.0,822.0 1301.0,822.1 1304.0,822.2 1307.0,822.3 1310.0,822.4 1313.0,822.7 1316.0,822.9 1319.0,823.3 1322.0,823.6 1325.0,824.1 1328.0,824.6 1331.0,825.2 1334.0,825.8 1337.0,826.5 1340.0,827.2 1343.0,828.0 1346.0,828.7 1349.0,829.5 1352.0,830.3 1355.0,831.0 1358.0,831.8 1361.0,832.6 1364.0,833.4 1367.0,834.2 1370.0,835.0 1373.0,835.8 1376.0,836.6 1379.0,837.4 1382.0,838.3 1385.0,839.1 1388.0,840.0 1391.0,840.9 1394.0,841.8 1397.0,842.7 1400.0,843.6 1403.0,844.5 1406.0,845.5 1409.0,846.4 1412.0,847.2 1415.0,848.1 1418.0,848.9 1421.0,849.8 1424.0,850.5 1427.0,851.3 1430.0,852.0 1433.0,852.8 1436.0,853.5 1439.0,854.1 1442.0,854.8 1445.0,855.4 1448.0,856.1 1451.0,856.6 1454.0,857.2 1457.0,857.7 1460.0,858.3 1463.0,858.8 1466.0,859.2 1469.0,859.7 1472.0,860.1 1475.0,860.5 1478.0,860.9 1481.0,861.3 1484.0,861.6 1487.0,861.9 1490.0,862.3 1493.0,862.5 1496.0,862.8 1499.0,863.1 1502.0,863.3 1505.0,863.5 1508.0,863.8 1511.0,864.0 1514.0,864.2 1517.0,864.4 1520.0,864.7 1522.7,864.9 L1522.7,869.7 L1097.0,869.7 Z" fill="#00adfa" fill-opacity="0.5"/>
<path d="M1097.0,864.6 1100.0,864.2 1103.0,863.8 1106.0,863.4 1109.0,863.0 1112.0,862.7 1115.0,862.3 1118.0,861.8 1121.0,861.4 1124.0,860.9 1127.0,860.4 1130.0,859.8 1133.0,859.2 1136.0,858.5 1139.0,857.8 1142.0,857.0 1145.0,856.2 1148.0,855.4 1151.0,854.6 1154.0,853.8 1157.0,852.9 1160.0,852.1 1163.0,851.2 1166.0,850.3 1169.0,849.5 1172.0,848.6 1175.0,847.7 1178.0,846.8 1181.0,845.9 1184.0,845.0 1187.0,844.0 1190.0,843.1 1193.0,842.2 1196.0,841.3 1199.0,840.4 1202.0,839.5 1205.0,838.5 1208.0,837.6 1211.0,836.7 1214.0,835.8 1217.0,834.9 1220.0,834.0 1223.0,833.2 1226.0,832.3 1229.0,831.5 1232.0,830.7 1235.0,829.9 1238.0,829.1 1241.0,828.3 1244.0,827.6 1247.0,826.9 1250.0,826.2 1253.0,825.6 1256.0,825.1 1259.0,824.6 1262.0,824.1 1265.0,823.7 1268.0,823.4 1271.0,823.1 1274.0,822.8 1277.0,822.6 1280.0,822.4 1283.0,822.3 1286.0,822.2 1289.0,822.1 1292.0,822.0 1295.0,822.0 1298.0,822.0 1301.0,822.1 1304.0,822.2 1307.0,822.3 1310.0,822.4 1313.0,822.7 1316.0,822.9 1319.0,823.3 1322.0,823.6 1325.0,824.1 1328.0,824.6 1331.0,825.2 1334.0,825.8 1337.0,826.5 1340.0,827.2 1343.0,828.0 1346.0,828.7 1349.0,829.5 1352.0,830.3 1355.0,831.0 1358.0,831.8 1361.0,832.6 1364.0,833.4 1367.0,834.2 1370.0,835.0 1373.0,835.8 1376.0,836.6 1379.0,837.4 1382.0,838.3 1385.0,839.1 1388.0,840.0 1391.0,840.9 1394.0,841.8 1397.0,842.7 1400.0,843.6 1403.0,844.5 1406.0,845.5 1409.0,846.4 1412.0,847.2 1415.0,848.1 1418.0,848.9 1421.0,849.8 1424.0,850.5 1427.0,851.3 1430.0,852.0 1433.0,852.8 1436.0,853.5 1439.0,854.1 1442.0,854.8 1445.0,855.4 1448.0,856.1 1451.0,856.6 1454.0,857.2 1457.0,857.7 1460.0,858.3 1463.0,858.8 1466.0,859.2 1469.0,859.7 1472.0,860.1 1475.0,860.5 1478.0,860.9 1481.0,861.3 1484.0,861.6 1487.0,861.9 1490.0,862.3 1493.0,862.5 1496.0,862.8 1499.0,863.1 1502.0,863.3 1505.0,863.5 1508.0,863.8 1511.0,864.0 1514.0,864.2 1517.0,864.4 1520.0,864.7 1522.7,864.9" fill="none" stroke="#000" stroke-width="3.8" stroke-linejoin="round" stroke-linecap="butt"/>
<path d="M1810.3,865.5 1813.3,865.2 1816.3,864.8 1819.3,864.4 1822.3,864.1 1825.3,863.7 1828.3,863.3 1831.3,863.0 1834.3,862.6 1837.3,862.2 1840.3,861.8 1843.3,861.4 1846.3,861.0 1849.3,860.6 1852.3,860.2 1855.3,859.8 1858.3,859.4 1861.3,859.0 1864.3,858.5 1867.3,858.1 1870.3,857.6 1873.3,857.1 1876.3,856.7 1879.3,856.2 1882.3,855.6 1885.3,855.1 1888.3,854.6 1891.3,854.0 1894.3,853.4 1897.3,852.9 1900.3,852.2 1903.3,851.6 1906.3,851.0 1909.3,850.3 1912.3,849.6 1915.3,848.9 1918.3,848.2 1921.3,847.4 1924.3,846.7 1927.3,845.9 1930.3,845.0 1933.3,844.2 1936.3,843.4 1939.3,842.5 1942.3,841.7 1945.3,840.8 1948.3,839.9 1951.3,839.0 1954.3,838.1 1957.3,837.2 1960.3,836.3 1963.3,835.4 1966.3,834.5 1969.3,833.6 1972.3,832.7 1975.3,831.8 1978.3,831.0 1981.3,830.1 1984.3,829.3 1987.3,828.5 1990.3,827.7 1993.3,826.9 1996.3,826.1 1999.3,825.3 2002.3,824.6 2005.3,823.8 2008.3,823.1 2011.3,822.4 2014.3,821.8 2017.3,821.1 2020.3,820.5 2023.3,819.9 2026.3,819.3 2029.3,818.7 2032.3,818.2 2035.3,817.7 2038.3,817.2 2041.3,816.8 2044.3,816.4 2047.3,816.0 2050.3,815.7 2053.3,815.4 2056.3,815.2 2059.3,815.0 2062.3,814.8 2065.3,814.7 2068.3,814.7 2071.3,814.6 2074.3,814.6 2077.3,814.7 2080.3,814.8 2083.3,815.0 2086.3,815.2 2089.3,815.5 2092.3,815.8 2095.3,816.2 2098.3,816.6 2101.3,817.1 2104.3,817.6 2107.3,818.1 2110.3,818.7 2113.3,819.3 2116.3,819.9 2119.3,820.5 2122.3,821.2 2125.3,822.0 2128.3,822.8 2131.3,823.6 2134.3,824.5 2137.3,825.4 2140.3,826.3 2143.3,827.2 2146.3,828.2 2149.3,829.1 2152.3,830.1 2155.3,831.0 2158.3,832.0 2161.3,832.9 2164.3,833.9 2167.3,834.8 2170.3,835.8 2173.3,836.7 2176.3,837.7 2179.3,838.7 2182.3,839.6 2185.3,840.6 2188.3,841.6 2191.3,842.6 2194.3,843.6 2197.3,844.5 2200.3,845.5 2203.3,846.5 2206.3,847.5 2209.3,848.5 2212.3,849.4 2215.3,850.3 2218.3,851.2 2221.3,852.0 2224.3,852.8 2227.3,853.6 2230.3,854.4 2233.3,855.1 2236.3,855.8 2239.3,856.5 2242.3,857.1 2245.3,857.7 2248.3,858.3 2251.3,858.9 2254.3,859.4 2257.3,859.9 2260.3,860.4 2263.3,860.9 2266.3,861.3 2269.3,861.8 2272.3,862.2 2275.3,862.6 2278.3,863.0 2281.3,863.4 2284.3,863.8 2287.3,864.2 2290.3,864.5 2293.3,864.9 2296.3,865.2 2297.2,865.5 L2297.2,869.7 L1810.3,869.7 Z" fill="#00adfa" fill-opacity="0.5"/>
<path d="M1810.3,865.5 1813.3,865.2 1816.3,864.8 1819.3,864.4 1822.3,864.1 1825.3,863.7 1828.3,863.3 1831.3,863.0 1834.3,862.6 1837.3,862.2 1840.3,861.8 1843.3,861.4 1846.3,861.0 1849.3,860.6 1852.3,860.2 1855.3,859.8 1858.3,859.4 1861.3,859.0 1864.3,858.5 1867.3,858.1 1870.3,857.6 1873.3,857.1 1876.3,856.7 1879.3,856.2 1882.3,855.6 1885.3,855.1 1888.3,854.6 1891.3,854.0 1894.3,853.4 1897.3,852.9 1900.3,852.2 1903.3,851.6 1906.3,851.0 1909.3,850.3 1912.3,849.6 1915.3,848.9 1918.3,848.2 1921.3,847.4 1924.3,846.7 1927.3,845.9 1930.3,845.0 1933.3,844.2 1936.3,843.4 1939.3,842.5 1942.3,841.7 1945.3,840.8 1948.3,839.9 1951.3,839.0 1954.3,838.1 1957.3,837.2 1960.3,836.3 1963.3,835.4 1966.3,834.5 1969.3,833.6 1972.3,832.7 1975.3,831.8 1978.3,831.0 1981.3,830.1 1984.3,829.3 1987.3,828.5 1990.3,827.7 1993.3,826.9 1996.3,826.1 1999.3,825.3 2002.3,824.6 2005.3,823.8 2008.3,823.1 2011.3,822.4 2014.3,821.8 2017.3,821.1 2020.3,820.5 2023.3,819.9 2026.3,819.3 2029.3,818.7 2032.3,818.2 2035.3,817.7 2038.3,817.2 2041.3,816.8 2044.3,816.4 2047.3,816.0 2050.3,815.7 2053.3,815.4 2056.3,815.2 2059.3,815.0 2062.3,814.8 2065.3,814.7 2068.3,814.7 2071.3,814.6 2074.3,814.6 2077.3,814.7 2080.3,814.8 2083.3,815.0 2086.3,815.2 2089.3,815.5 2092.3,815.8 2095.3,816.2 2098.3,816.6 2101.3,817.1 2104.3,817.6 2107.3,818.1 2110.3,818.7 2113.3,819.3 2116.3,819.9 2119.3,820.5 2122.3,821.2 2125.3,822.0 2128.3,822.8 2131.3,823.6 2134.3,824.5 2137.3,825.4 2140.3,826.3 2143.3,827.2 2146.3,828.2 2149.3,829.1 2152.3,830.1 2155.3,831.0 2158.3,832.0 2161.3,832.9 2164.3,833.9 2167.3,834.8 2170.3,835.8 2173.3,836.7 2176.3,837.7 2179.3,838.7 2182.3,839.6 2185.3,840.6 2188.3,841.6 2191.3,842.6 2194.3,843.6 2197.3,844.5 2200.3,845.5 2203.3,846.5 2206.3,847.5 2209.3,848.5 2212.3,849.4 2215.3,850.3 2218.3,851.2 2221.3,852.0 2224.3,852.8 2227.3,853.6 2230.3,854.4 2233.3,855.1 2236.3,855.8 2239.3,856.5 2242.3,857.1 2245.3,857.7 2248.3,858.3 2251.3,858.9 2254.3,859.4 2257.3,859.9 2260.3,860.4 2263.3,860.9 2266.3,861.3 2269.3,861.8 2272.3,862.2 2275.3,862.6 2278.3,863.0 2281.3,863.4 2284.3,863.8 2287.3,864.2 2290.3,864.5 2293.3,864.9 2296.3,865.2 2297.2,865.5" fill="none" stroke="#000" stroke-width="3.8" stroke-linejoin="round" stroke-linecap="butt"/>
<path d="M1116.3,981.7 1119.3,981.2 1122.3,980.7 1125.3,980.3 1128.3,979.8 1131.3,979.3 1134.3,978.9 1137.3,978.4 1140.3,977.9 1143.3,977.5 1146.3,977.0 1149.3,976.5 1152.3,976.0 1155.3,975.6 1158.3,975.1 1161.3,974.6 1164.3,974.1 1167.3,973.6 1170.3,973.1 1173.3,972.6 1176.3,972.1 1179.3,971.6 1182.3,971.1 1185.3,970.6 1188.3,970.0 1191.3,969.5 1194.3,969.0 1197.3,968.5 1200.3,967.9 1203.3,967.4 1206.3,966.9 1209.3,966.3 1212.3,965.8 1215.3,965.3 1218.3,964.7 1221.3,964.2 1224.3,963.6 1227.3,963.0 1230.3,962.4 1233.3,961.8 1236.3,961.1 1239.3,960.5 1242.3,959.9 1245.3,959.3 1248.3,958.7 1251.3,958.1 1254.3,957.6 1257.3,957.1 1260.3,956.6 1263.3,956.2 1266.3,955.8 1269.3,955.4 1272.3,955.1 1275.3,954.8 1278.3,954.5 1281.3,954.2 1284.3,954.0 1287.3,953.8 1290.3,953.7 1293.3,953.6 1296.3,953.5 1299.3,953.4 1302.3,953.4 1305.3,953.4 1308.3,953.5 1311.3,953.6 1314.3,953.7 1317.3,953.9 1320.3,954.2 1323.3,954.5 1326.3,954.8 1329.3,955.2 1332.3,955.7 1335.3,956.2 1338.3,956.8 1341.3,957.3 1344.3,957.9 1347.3,958.5 1350.3,959.1 1353.3,959.7 1356.3,960.3 1359.3,960.9 1362.3,961.5 1365.3,962.1 1368.3,962.8 1371.3,963.4 1374.3,964.0 1377.3,964.6 1380.3,965.2 1383.3,965.8 1386.3,966.3 1389.3,966.9 1392.3,967.4 1395.3,968.0 1398.3,968.5 1401.3,969.0 1404.3,969.6 1407.3,970.1 1410.3,970.6 1413.3,971.0 1416.3,971.5 1419.3,972.0 1422.3,972.4 1425.3,972.8 1428.3,973.3 1431.3,973.7 1434.3,974.1 1437.3,974.5 1440.3,974.8 1443.3,975.2 1446.3,975.6 1449.3,975.9 1452.3,976.3 1455.3,976.6 1458.3,976.9 1461.3,977.3 1464.3,977.6 1467.3,977.9 1470.3,978.2 1473.3,978.5 1476.3,978.8 1479.3,979.0 1482.3,979.3 1485.3,979.5 1488.3,979.7 1491.3,979.9 1494.3,980.1 1497.3,980.2 1500.3,980.4 1503.3,980.5 1506.3,980.6 1509.3,980.8 1512.3,980.9 1515.3,981.0 1518.3,981.1 1521.3,981.2 1524.3,981.3 1527.3,981.4 1530.3,981.5 1533.3,981.6 1536.3,981.6 1539.3,981.7 1542.3,981.8 1545.3,981.9 1548.3,981.9 1550.1,982.0 L1550.1,986.8 L1116.3,986.8 Z" fill="#00b9e3" fill-opacity="0.5"/>
<path d="M1116.3,981.7 1119.3,981.2 1122.3,980.7 1125.3,980.3 1128.3,979.8 1131.3,979.3 1134.3,978.9 1137.3,978.4 1140.3,977.9 1143.3,977.5 1146.3,977.0 1149.3,976.5 1152.3,976.0 1155.3,975.6 1158.3,975.1 1161.3,974.6 1164.3,974.1 1167.3,973.6 1170.3,973.1 1173.3,972.6 1176.3,972.1 1179.3,971.6 1182.3,971.1 1185.3,970.6 1188.3,970.0 1191.3,969.5 1194.3,969.0 1197.3,968.5 1200.3,967.9 1203.3,967.4 1206.3,966.9 1209.3,966.3 1212.3,965.8 1215.3,965.3 1218.3,964.7 1221.3,964.2 1224.3,963.6 1227.3,963.0 1230.3,962.4 1233.3,961.8 1236.3,961.1 1239.3,960.5 1242.3,959.9 1245.3,959.3 1248.3,958.7 1251.3,958.1 1254.3,957.6 1257.3,957.1 1260.3,956.6 1263.3,956.2 1266.3,955.8 1269.3,955.4 1272.3,955.1 1275.3,954.8 1278.3,954.5 1281.3,954.2 1284.3,954.0 1287.3,953.8 1290.3,953.7 1293.3,953.6 1296.3,953.5 1299.3,953.4 1302.3,953.4 1305.3,953.4 1308.3,953.5 1311.3,953.6 1314.3,953.7 1317.3,953.9 1320.3,954.2 1323.3,954.5 1326.3,954.8 1329.3,955.2 1332.3,955.7 1335.3,956.2 1338.3,956.8 1341.3,957.3 1344.3,957.9 1347.3,958.5 1350.3,959.1 1353.3,959.7 1356.3,960.3 1359.3,960.9 1362.3,961.5 1365.3,962.1 1368.3,962.8 1371.3,963.4 1374.3,964.0 1377.3,964.6 1380.3,965.2 1383.3,965.8 1386.3,966.3 1389.3,966.9 1392.3,967.4 1395.3,968.0 1398.3,968.5 1401.3,969.0 1404.3,969.6 1407.3,970.1 1410.3,970.6 1413.3,971.0 1416.3,971.5 1419.3,972.0 1422.3,972.4 1425.3,972.8 1428.3,973.3 1431.3,973.7 1434.3,974.1 1437.3,974.5 1440.3,974.8 1443.3,975.2 1446.3,975.6 1449.3,975.9 1452.3,976.3 1455.3,976.6 1458.3,976.9 1461.3,977.3 1464.3,977.6 1467.3,977.9 1470.3,978.2 1473.3,978.5 1476.3,978.8 1479.3,979.0 1482.3,979.3 1485.3,979.5 1488.3,979.7 1491.3,979.9 1494.3,980.1 1497.3,980.2 1500.3,980.4 1503.3,980.5 1506.3,980.6 1509.3,980.8 1512.3,980.9 1515.3,981.0 1518.3,981.1 1521.3,981.2 1524.3,981.3 1527.3,981.4 1530.3,981.5 1533.3,981.6 1536.3,981.6 1539.3,981.7 1542.3,981.8 1545.3,981.9 1548.3,981.9 1550.1,982.0" fill="none" stroke="#000" stroke-width="3.8" stroke-linejoin="round" stroke-linecap="butt"/>
<path d="M1672.6,982.0 1675.6,981.8 1678.6,981.6 1681.6,981.3 1684.6,981.1 1687.6,980.9 1690.6,980.7 1693.6,980.5 1696.6,980.3 1699.6,980.0 1702.6,979.8 1705.6,979.6 1708.6,979.4 1711.6,979.1 1714.6,978.9 1717.6,978.6 1720.6,978.4 1723.6,978.1 1726.6,977.9 1729.6,977.6 1732.6,977.3 1735.6,977.0 1738.6,976.7 1741.6,976.4 1744.6,976.1 1747.6,975.8 1750.6,975.4 1753.6,975.1 1756.6,974.7 1759.6,974.3 1762.6,974.0 1765.6,973.6 1768.6,973.2 1771.6,972.7 1774.6,972.3 1777.6,971.8 1780.6,971.3 1783.6,970.8 1786.6,970.3 1789.6,969.7 1792.6,969.1 1795.6,968.4 1798.6,967.7 1801.6,967.1 1804.6,966.3 1807.6,965.6 1810.6,964.9 1813.6,964.1 1816.6,963.3 1819.6,962.5 1822.6,961.6 1825.6,960.8 1828.6,959.9 1831.6,959.0 1834.6,958.1 1837.6,957.1 1840.6,956.2 1843.6,955.3 1846.6,954.4 1849.6,953.4 1852.6,952.5 1855.6,951.6 1858.6,950.7 1861.6,949.8 1864.6,948.9 1867.6,948.0 1870.6,947.1 1873.6,946.2 1876.6,945.3 1879.6,944.4 1882.6,943.6 1885.6,942.7 1888.6,941.8 1891.6,940.9 1894.6,940.1 1897.6,939.2 1900.6,938.4 1903.6,937.6 1906.6,936.7 1909.6,936.0 1912.6,935.2 1915.6,934.4 1918.6,933.7 1921.6,932.9 1924.6,932.2 1927.6,931.5 1930.6,930.8 1933.6,930.2 1936.6,929.6 1939.6,929.0 1942.6,928.4 1945.6,927.9 1948.6,927.5 1951.6,927.0 1954.6,926.6 1957.6,926.3 1960.6,926.0 1963.6,925.7 1966.6,925.4 1969.6,925.2 1972.6,925.0 1975.6,924.8 1978.6,924.6 1981.6,924.5 1984.6,924.3 1987.6,924.2 1990.6,924.2 1993.6,924.1 1996.6,924.1 1999.6,924.2 2002.6,924.2 2005.6,924.4 2008.6,924.6 2011.6,924.9 2014.6,925.2 2017.6,925.6 2020.6,926.0 2023.6,926.5 2026.6,927.1 2029.6,927.7 2032.6,928.3 2035.6,928.9 2038.6,929.6 2041.6,930.2 2044.6,930.9 2047.6,931.7 2050.6,932.4 2053.6,933.2 2056.6,934.0 2059.6,934.8 2062.6,935.6 2065.6,936.5 2068.6,937.3 2071.6,938.2 2074.6,939.1 2077.6,940.0 2080.6,941.0 2083.6,942.0 2086.6,942.9 2089.6,943.9 2092.6,944.9 2095.6,946.0 2098.6,947.0 2101.6,948.0 2104.6,949.0 2107.6,950.0 2110.6,950.9 2113.6,951.9 2116.6,952.9 2119.6,953.9 2122.6,954.8 2125.6,955.8 2128.6,956.8 2131.6,957.7 2134.6,958.6 2137.6,959.6 2140.6,960.5 2143.6,961.4 2146.6,962.3 2149.6,963.1 2152.6,964.0 2155.6,964.8 2158.6,965.7 2161.6,966.5 2164.6,967.3 2167.6,968.1 2170.6,968.9 2173.6,969.6 2176.6,970.4 2179.6,971.1 2182.6,971.8 2185.6,972.5 2188.6,973.1 2191.6,973.8 2194.6,974.4 2197.6,975.0 2200.6,975.6 2203.6,976.1 2206.6,976.6 2209.6,977.1 2212.6,977.6 2215.6,978.0 2218.6,978.4 2221.6,978.8 2224.6,979.2 2227.6,979.6 2230.6,980.0 2233.6,980.3 2236.6,980.7 2239.6,981.0 2242.6,981.4 2244.0,981.7 L2244.0,986.8 L1672.6,986.8 Z" fill="#00b9e3" fill-opacity="0.5"/>
<path d="M1672.6,982.0 1675.6,981.8 1678.6,981.6 1681.6,981.3 1684.6,981.1 1687.6,980.9 1690.6,980.7 1693.6,980.5 1696.6,980.3 1699.6,980.0 1702.6,979.8 1705.6,979.6 1708.6,979.4 1711.6,979.1 1714.6,978.9 1717.6,978.6 1720.6,978.4 1723.6,978.1 1726.6,977.9 1729.6,977.6 1732.6,977.3 1735.6,977.0 1738.6,976.7 1741.6,976.4 1744.6,976.1 1747.6,975.8 1750.6,975.4 1753.6,975.1 1756.6,974.7 1759.6,974.3 1762.6,974.0 1765.6,973.6 1768.6,973.2 1771.6,972.7 1774.6,972.3 1777.6,971.8 1780.6,971.3 1783.6,970.8 1786.6,970.3 1789.6,969.7 1792.6,969.1 1795.6,968.4 1798.6,967.7 1801.6,967.1 1804.6,966.3 1807.6,965.6 1810.6,964.9 1813.6,964.1 1816.6,963.3 1819.6,962.5 1822.6,961.6 1825.6,960.8 1828.6,959.9 1831.6,959.0 1834.6,958.1 1837.6,957.1 1840.6,956.2 1843.6,955.3 1846.6,954.4 1849.6,953.4 1852.6,952.5 1855.6,951.6 1858.6,950.7 1861.6,949.8 1864.6,948.9 1867.6,948.0 1870.6,947.1 1873.6,946.2 1876.6,945.3 1879.6,944.4 1882.6,943.6 1885.6,942.7 1888.6,941.8 1891.6,940.9 1894.6,940.1 1897.6,939.2 1900.6,938.4 1903.6,937.6 1906.6,936.7 1909.6,936.0 1912.6,935.2 1915.6,934.4 1918.6,933.7 1921.6,932.9 1924.6,932.2 1927.6,931.5 1930.6,930.8 1933.6,930.2 1936.6,929.6 1939.6,929.0 1942.6,928.4 1945.6,927.9 1948.6,927.5 1951.6,927.0 1954.6,926.6 1957.6,926.3 1960.6,926.0 1963.6,925.7 1966.6,925.4 1969.6,925.2 1972.6,925.0 1975.6,924.8 1978.6,924.6 1981.6,924.5 1984.6,924.3 1987.6,924.2 1990.6,924.2 1993.6,924.1 1996.6,924.1 1999.6,924.2 2002.6,924.2 2005.6,924.4 2008.6,924.6 2011.6,924.9 2014.6,925.2 2017.6,925.6 2020.6,926.0 2023.6,926.5 2026.6,927.1 2029.6,927.7 2032.6,928.3 2035.6,928.9 2038.6,929.6 2041.6,930.2 2044.6,930.9 2047.6,931.7 2050.6,932.4 2053.6,933.2 2056.6,934.0 2059.6,934.8 2062.6,935.6 2065.6,936.5 2068.6,937.3 2071.6,938.2 2074.6,939.1 2077.6,940.0 2080.6,941.0 2083.6,942.0 2086.6,942.9 2089.6,943.9 2092.6,944.9 2095.6,946.0 2098.6,947.0 2101.6,948.0 2104.6,949.0 2107.6,950.0 2110.6,950.9 2113.6,951.9 2116.6,952.9 2119.6,953.9 2122.6,954.8 2125.6,955.8 2128.6,956.8 2131.6,957.7 2134.6,958.6 2137.6,959.6 2140.6,960.5 2143.6,961.4 2146.6,962.3 2149.6,963.1 2152.6,964.0 2155.6,964.8 2158.6,965.7 2161.6,966.5 2164.6,967.3 2167.6,968.1 2170.6,968.9 2173.6,969.6 2176.6,970.4 2179.6,971.1 2182.6,971.8 2185.6,972.5 2188.6,973.1 2191.6,973.8 2194.6,974.4 2197.6,975.0 2200.6,975.6 2203.6,976.1 2206.6,976.6 2209.6,977.1 2212.6,977.6 2215.6,978.0 2218.6,978.4 2221.6,978.8 2224.6,979.2 2227.6,979.6 2230.6,980.0 2233.6,980.3 2236.6,980.7 2239.6,981.0 2242.6,981.4 2244.0,981.7" fill="none" stroke="#000" stroke-width="3.8" stroke-linejoin="round" stroke-linecap="butt"/>
<path d="M1097.0,1091.7 1100.0,1090.6 1103.0,1089.4 1106.0,1088.3 1109.0,1087.2 1112.0,1086.0 1115.0,1084.9 1118.0,1083.7 1121.0,1082.4 1124.0,1081.1 1127.0,1079.7 1130.0,1078.3 1133.0,1076.7 1136.0,1075.1 1139.0,1073.4 1142.0,1071.7 1145.0,1069.9 1148.0,1068.0 1151.0,1066.2 1154.0,1064.3 1157.0,1062.3 1160.0,1060.4 1163.0,1058.4 1166.0,1056.4 1169.0,1054.3 1172.0,1052.2 1175.0,1050.1 1178.0,1048.0 1181.0,1045.9 1184.0,1043.7 1187.0,1041.6 1190.0,1039.5 1193.0,1037.4 1196.0,1035.4 1199.0,1033.3 1202.0,1031.3 1205.0,1029.2 1208.0,1027.2 1211.0,1025.2 1214.0,1023.3 1217.0,1021.4 1220.0,1019.5 1223.0,1017.8 1226.0,1016.1 1229.0,1014.4 1232.0,1012.8 1235.0,1011.3 1238.0,1009.8 1241.0,1008.4 1244.0,1007.1 1247.0,1005.8 1250.0,1004.6 1253.0,1003.4 1256.0,1002.3 1259.0,1001.3 1262.0,1000.3 1265.0,999.4 1268.0,998.5 1271.0,997.7 1274.0,997.0 1277.0,996.3 1280.0,995.7 1283.0,995.3 1286.0,994.9 1289.0,994.6 1292.0,994.5 1295.0,994.4 1298.0,994.5 1301.0,994.6 1304.0,994.9 1307.0,995.2 1310.0,995.6 1313.0,996.1 1316.0,996.7 1319.0,997.4 1322.0,998.2 1325.0,999.0 1328.0,1000.0 1331.0,1001.0 1334.0,1002.1 1337.0,1003.3 1340.0,1004.6 1343.0,1005.9 1346.0,1007.3 1349.0,1008.8 1352.0,1010.3 1355.0,1011.9 1358.0,1013.5 1361.0,1015.2 1364.0,1016.9 1367.0,1018.8 1370.0,1020.6 1373.0,1022.5 1376.0,1024.5 1379.0,1026.5 1382.0,1028.5 1385.0,1030.6 1388.0,1032.7 1391.0,1034.8 1394.0,1037.0 1397.0,1039.3 1400.0,1041.6 1403.0,1043.8 1406.0,1046.1 1409.0,1048.4 1412.0,1050.7 1415.0,1052.9 1418.0,1055.1 1421.0,1057.3 1424.0,1059.4 1427.0,1061.4 1430.0,1063.5 1433.0,1065.5 1436.0,1067.5 1439.0,1069.5 1442.0,1071.3 1445.0,1073.2 1448.0,1075.0 1451.0,1076.7 1454.0,1078.4 1457.0,1080.0 1460.0,1081.6 1463.0,1083.1 1466.0,1084.6 1469.0,1086.0 1472.0,1087.3 1475.0,1088.5 1478.0,1089.6 1481.0,1090.6 1484.0,1091.5 1487.0,1092.3 1490.0,1093.0 1493.0,1093.7 1496.0,1094.3 1499.0,1094.8 1502.0,1095.3 1505.0,1095.8 1508.0,1096.2 1511.0,1096.6 1514.0,1097.0 1517.0,1097.4 1520.0,1097.7 1523.0,1098.1 1526.0,1098.5 1529.0,1098.8 1532.0,1099.2 1535.0,1099.5 1538.0,1099.8 1538.1,1100.1 L1538.1,1104.0 L1097.0,1104.0 Z" fill="#00bfc4" fill-opacity="0.5"/>
<path d="M1097.0,1091.7 1100.0,1090.6 1103.0,1089.4 1106.0,1088.3 1109.0,1087.2 1112.0,1086.0 1115.0,1084.9 1118.0,1083.7 1121.0,1082.4 1124.0,1081.1 1127.0,1079.7 1130.0,1078.3 1133.0,1076.7 1136.0,1075.1 1139.0,1073.4 1142.0,1071.7 1145.0,1069.9 1148.0,1068.0 1151.0,1066.2 1154.0,1064.3 1157.0,1062.3 1160.0,1060.4 1163.0,1058.4 1166.0,1056.4 1169.0,1054.3 1172.0,1052.2 1175.0,1050.1 1178.0,1048.0 1181.0,1045.9 1184.0,1043.7 1187.0,1041.6 1190.0,1039.5 1193.0,1037.4 1196.0,1035.4 1199.0,1033.3 1202.0,1031.3 1205.0,1029.2 1208.0,1027.2 1211.0,1025.2 1214.0,1023.3 1217.0,1021.4 1220.0,1019.5 1223.0,1017.8 1226.0,1016.1 1229.0,1014.4 1232.0,1012.8 1235.0,1011.3 1238.0,1009.8 1241.0,1008.4 1244.0,1007.1 1247.0,1005.8 1250.0,1004.6 1253.0,1003.4 1256.0,1002.3 1259.0,1001.3 1262.0,1000.3 1265.0,999.4 1268.0,998.5 1271.0,997.7 1274.0,997.0 1277.0,996.3 1280.0,995.7 1283.0,995.3 1286.0,994.9 1289.0,994.6 1292.0,994.5 1295.0,994.4 1298.0,994.5 1301.0,994.6 1304.0,994.9 1307.0,995.2 1310.0,995.6 1313.0,996.1 1316.0,996.7 1319.0,997.4 1322.0,998.2 1325.0,999.0 1328.0,1000.0 1331.0,1001.0 1334.0,1002.1 1337.0,1003.3 1340.0,1004.6 1343.0,1005.9 1346.0,1007.3 1349.0,1008.8 1352.0,1010.3 1355.0,1011.9 1358.0,1013.5 1361.0,1015.2 1364.0,1016.9 1367.0,1018.8 1370.0,1020.6 1373.0,1022.5 1376.0,1024.5 1379.0,1026.5 1382.0,1028.5 1385.0,1030.6 1388.0,1032.7 1391.0,1034.8 1394.0,1037.0 1397.0,1039.3 1400.0,1041.6 1403.0,1043.8 1406.0,1046.1 1409.0,1048.4 1412.0,1050.7 1415.0,1052.9 1418.0,1055.1 1421.0,1057.3 1424.0,1059.4 1427.0,1061.4 1430.0,1063.5 1433.0,1065.5 1436.0,1067.5 1439.0,1069.5 1442.0,1071.3 1445.0,1073.2 1448.0,1075.0 1451.0,1076.7 1454.0,1078.4 1457.0,1080.0 1460.0,1081.6 1463.0,1083.1 1466.0,1084.6 1469.0,1086.0 1472.0,1087.3 1475.0,1088.5 1478.0,1089.6 1481.0,1090.6 1484.0,1091.5 1487.0,1092.3 1490.0,1093.0 1493.0,1093.7 1496.0,1094.3 1499.0,1094.8 1502.0,1095.3 1505.0,1095.8 1508.0,1096.2 1511.0,1096.6 1514.0,1097.0 1517.0,1097.4 1520.0,1097.7 1523.0,1098.1 1526.0,1098.5 1529.0,1098.8 1532.0,1099.2 1535.0,1099.5 1538.0,1099.8 1538.1,1100.1" fill="none" stroke="#000" stroke-width="3.8" stroke-linejoin="round" stroke-linecap="butt"/>
<path d="M1671.0,1100.1 1674.0,1100.0 1677.0,1099.9 1680.0,1099.8 1683.0,1099.8 1686.0,1099.7 1689.0,1099.6 1692.0,1099.5 1695.0,1099.4 1698.0,1099.3 1701.0,1099.3 1704.0,1099.2 1707.0,1099.1 1710.0,1099.0 1713.0,1099.0 1716.0,1098.9 1719.0,1098.8 1722.0,1098.8 1725.0,1098.7 1728.0,1098.7 1731.0,1098.7 1734.0,1098.8 1737.0,1098.8 1740.0,1098.9 1743.0,1099.0 1746.0,1099.2 1749.0,1099.4 1752.0,1099.6 1755.0,1099.8 1758.0,1099.9 1758.1,1100.1 L1758.1,1104.0 L1671.0,1104.0 Z" fill="#00bfc4" fill-opacity="0.5"/>
<path d="M1671.0,1100.1 1674.0,1100.0 1677.0,1099.9 1680.0,1099.8 1683.0,1099.8 1686.0,1099.7 1689.0,1099.6 1692.0,1099.5 1695.0,1099.4 1698.0,1099.3 1701.0,1099.3 1704.0,1099.2 1707.0,1099.1 1710.0,1099.0 1713.0,1099.0 1716.0,1098.9 1719.0,1098.8 1722.0,1098.8 1725.0,1098.7 1728.0,1098.7 1731.0,1098.7 1734.0,1098.8 1737.0,1098.8 1740.0,1098.9 1743.0,1099.0 1746.0,1099.2 1749.0,1099.4 1752.0,1099.6 1755.0,1099.8 1758.0,1099.9 1758.1,1100.1" fill="none" stroke="#000" stroke-width="3.8" stroke-linejoin="round" stroke-linecap="butt"/>
<path d="M1103.4,1215.9 1106.4,1215.5 1109.4,1215.1 1112.4,1214.6 1115.4,1214.2 1118.4,1213.7 1121.4,1213.3 1124.4,1212.8 1127.4,1212.3 1130.4,1211.8 1133.4,1211.3 1136.4,1210.7 1139.4,1210.1 1142.4,1209.6 1145.4,1209.0 1148.4,1208.4 1151.4,1207.7 1154.4,1207.1 1157.4,1206.5 1160.4,1205.8 1163.4,1205.1 1166.4,1204.4 1169.4,1203.7 1172.4,1203.0 1175.4,1202.2 1178.4,1201.4 1181.4,1200.7 1184.4,1199.9 1187.4,1199.1 1190.4,1198.4 1193.4,1197.6 1196.4,1196.8 1199.4,1196.1 1202.4,1195.3 1205.4,1194.5 1208.4,1193.8 1211.4,1193.0 1214.4,1192.3 1217.4,1191.5 1220.4,1190.8 1223.4,1190.1 1226.4,1189.4 1229.4,1188.7 1232.4,1188.1 1235.4,1187.4 1238.4,1186.8 1241.4,1186.1 1244.4,1185.5 1247.4,1184.9 1250.4,1184.4 1253.4,1183.9 1256.4,1183.4 1259.4,1182.9 1262.4,1182.4 1265.4,1182.0 1268.4,1181.6 1271.4,1181.3 1274.4,1180.9 1277.4,1180.6 1280.4,1180.4 1283.4,1180.2 1286.4,1180.0 1289.4,1179.9 1292.4,1179.9 1295.4,1179.9 1298.4,1180.0 1301.4,1180.1 1304.4,1180.2 1307.4,1180.4 1310.4,1180.7 1313.4,1181.0 1316.4,1181.3 1319.4,1181.7 1322.4,1182.1 1325.4,1182.6 1328.4,1183.2 1331.4,1183.8 1334.4,1184.4 1337.4,1185.1 1340.4,1185.8 1343.4,1186.6 1346.4,1187.3 1349.4,1188.1 1352.4,1188.8 1355.4,1189.6 1358.4,1190.3 1361.4,1191.1 1364.4,1191.8 1367.4,1192.6 1370.4,1193.3 1373.4,1194.1 1376.4,1194.8 1379.4,1195.6 1382.4,1196.3 1385.4,1197.1 1388.4,1197.9 1391.4,1198.6 1394.4,1199.4 1397.4,1200.2 1400.4,1200.9 1403.4,1201.7 1406.4,1202.4 1409.4,1203.2 1412.4,1203.9 1415.4,1204.6 1418.4,1205.3 1421.4,1206.0 1424.4,1206.7 1427.4,1207.4 1430.4,1208.0 1433.4,1208.6 1436.4,1209.3 1439.4,1209.9 1442.4,1210.4 1445.4,1211.0 1448.4,1211.5 1451.4,1211.9 1454.4,1212.4 1457.4,1212.8 1460.4,1213.2 1463.4,1213.5 1466.4,1213.8 1469.4,1214.2 1472.4,1214.5 1475.4,1214.8 1478.4,1215.1 1481.4,1215.3 1484.4,1215.6 1487.4,1215.9 1490.4,1216.2 L1490.4,1221.1 L1103.4,1221.1 Z" fill="#00c19f" fill-opacity="0.5"/>
<path d="M1103.4,1215.9 1106.4,1215.5 1109.4,1215.1 1112.4,1214.6 1115.4,1214.2 1118.4,1213.7 1121.4,1213.3 1124.4,1212.8 1127.4,1212.3 1130.4,1211.8 1133.4,1211.3 1136.4,1210.7 1139.4,1210.1 1142.4,1209.6 1145.4,1209.0 1148.4,1208.4 1151.4,1207.7 1154.4,1207.1 1157.4,1206.5 1160.4,1205.8 1163.4,1205.1 1166.4,1204.4 1169.4,1203.7 1172.4,1203.0 1175.4,1202.2 1178.4,1201.4 1181.4,1200.7 1184.4,1199.9 1187.4,1199.1 1190.4,1198.4 1193.4,1197.6 1196.4,1196.8 1199.4,1196.1 1202.4,1195.3 1205.4,1194.5 1208.4,1193.8 1211.4,1193.0 1214.4,1192.3 1217.4,1191.5 1220.4,1190.8 1223.4,1190.1 1226.4,1189.4 1229.4,1188.7 1232.4,1188.1 1235.4,1187.4 1238.4,1186.8 1241.4,1186.1 1244.4,1185.5 1247.4,1184.9 1250.4,1184.4 1253.4,1183.9 1256.4,1183.4 1259.4,1182.9 1262.4,1182.4 1265.4,1182.0 1268.4,1181.6 1271.4,1181.3 1274.4,1180.9 1277.4,1180.6 1280.4,1180.4 1283.4,1180.2 1286.4,1180.0 1289.4,1179.9 1292.4,1179.9 1295.4,1179.9 1298.4,1180.0 1301.4,1180.1 1304.4,1180.2 1307.4,1180.4 1310.4,1180.7 1313.4,1181.0 1316.4,1181.3 1319.4,1181.7 1322.4,1182.1 1325.4,1182.6 1328.4,1183.2 1331.4,1183.8 1334.4,1184.4 1337.4,1185.1 1340.4,1185.8 1343.4,1186.6 1346.4,1187.3 1349.4,1188.1 1352.4,1188.8 1355.4,1189.6 1358.4,1190.3 1361.4,1191.1 1364.4,1191.8 1367.4,1192.6 1370.4,1193.3 1373.4,1194.1 1376.4,1194.8 1379.4,1195.6 1382.4,1196.3 1385.4,1197.1 1388.4,1197.9 1391.4,1198.6 1394.4,1199.4 1397.4,1200.2 1400.4,1200.9 1403.4,1201.7 1406.4,1202.4 1409.4,1203.2 1412.4,1203.9 1415.4,1204.6 1418.4,1205.3 1421.4,1206.0 1424.4,1206.7 1427.4,1207.4 1430.4,1208.0 1433.4,1208.6 1436.4,1209.3 1439.4,1209.9 1442.4,1210.4 1445.4,1211.0 1448.4,1211.5 1451.4,1211.9 1454.4,1212.4 1457.4,1212.8 1460.4,1213.2 1463.4,1213.5 1466.4,1213.8 1469.4,1214.2 1472.4,1214.5 1475.4,1214.8 1478.4,1215.1 1481.4,1215.3 1484.4,1215.6 1487.4,1215.9 1490.4,1216.2" fill="none" stroke="#000" stroke-width="3.8" stroke-linejoin="round" stroke-linecap="butt"/>
<path d="M1637.1,1216.2 1640.1,1216.0 1643.1,1215.7 1646.1,1215.5 1649.1,1215.2 1652.1,1214.9 1655.1,1214.7 1658.1,1214.4 1661.1,1214.2 1664.1,1213.9 1667.1,1213.7 1670.1,1213.4 1673.1,1213.2 1676.1,1212.9 1679.1,1212.7 1682.1,1212.4 1685.1,1212.1 1688.1,1211.9 1691.1,1211.6 1694.1,1211.3 1697.1,1211.1 1700.1,1210.8 1703.1,1210.5 1706.1,1210.2 1709.1,1209.9 1712.1,1209.6 1715.1,1209.3 1718.1,1209.0 1721.1,1208.6 1724.1,1208.3 1727.1,1207.9 1730.1,1207.5 1733.1,1207.0 1736.1,1206.6 1739.1,1206.1 1742.1,1205.6 1745.1,1205.1 1748.1,1204.7 1751.1,1204.2 1754.1,1203.7 1757.1,1203.3 1760.1,1202.9 1763.1,1202.5 1766.1,1202.1 1769.1,1201.6 1772.1,1201.2 1775.1,1200.7 1778.1,1200.2 1781.1,1199.7 1784.1,1199.1 1787.1,1198.5 1790.1,1197.9 1793.1,1197.2 1796.1,1196.5 1799.1,1195.8 1802.1,1195.0 1805.1,1194.2 1808.1,1193.4 1811.1,1192.6 1814.1,1191.8 1817.1,1191.0 1820.1,1190.1 1823.1,1189.2 1826.1,1188.4 1829.1,1187.5 1832.1,1186.6 1835.1,1185.7 1838.1,1184.7 1841.1,1183.8 1844.1,1182.9 1847.1,1182.0 1850.1,1181.1 1853.1,1180.1 1856.1,1179.2 1859.1,1178.3 1862.1,1177.4 1865.1,1176.5 1868.1,1175.5 1871.1,1174.6 1874.1,1173.8 1877.1,1172.9 1880.1,1172.1 1883.1,1171.3 1886.1,1170.5 1889.1,1169.7 1892.1,1169.0 1895.1,1168.2 1898.1,1167.5 1901.1,1166.9 1904.1,1166.2 1907.1,1165.6 1910.1,1165.0 1913.1,1164.5 1916.1,1163.9 1919.1,1163.4 1922.1,1163.0 1925.1,1162.6 1928.1,1162.2 1931.1,1161.8 1934.1,1161.5 1937.1,1161.2 1940.1,1160.9 1943.1,1160.7 1946.1,1160.5 1949.1,1160.3 1952.1,1160.2 1955.1,1160.0 1958.1,1160.0 1961.1,1159.9 1964.1,1159.9 1967.1,1159.9 1970.1,1160.0 1973.1,1160.2 1976.1,1160.4 1979.1,1160.7 1982.1,1161.1 1985.1,1161.5 1988.1,1162.0 1991.1,1162.5 1994.1,1163.1 1997.1,1163.7 2000.1,1164.4 2003.1,1165.1 2006.1,1165.9 2009.1,1166.7 2012.1,1167.5 2015.1,1168.4 2018.1,1169.4 2021.1,1170.4 2024.1,1171.4 2027.1,1172.5 2030.1,1173.6 2033.1,1174.7 2036.1,1175.8 2039.1,1176.9 2042.1,1178.1 2045.1,1179.3 2048.1,1180.4 2051.1,1181.6 2054.1,1182.8 2057.1,1184.0 2060.1,1185.3 2063.1,1186.5 2066.1,1187.7 2069.1,1188.9 2072.1,1190.1 2075.1,1191.2 2078.1,1192.3 2081.1,1193.5 2084.1,1194.6 2087.1,1195.7 2090.1,1196.7 2093.1,1197.8 2096.1,1198.8 2099.1,1199.8 2102.1,1200.8 2105.1,1201.8 2108.1,1202.7 2111.1,1203.6 2114.1,1204.4 2117.1,1205.3 2120.1,1206.1 2123.1,1206.9 2126.1,1207.6 2129.1,1208.3 2132.1,1209.0 2135.1,1209.6 2138.1,1210.2 2141.1,1210.7 2144.1,1211.2 2147.1,1211.6 2150.1,1212.0 2153.1,1212.4 2156.1,1212.8 2159.1,1213.2 2162.1,1213.5 2165.1,1213.8 2168.1,1214.1 2171.1,1214.5 2174.1,1214.8 2177.1,1215.1 2180.1,1215.4 2183.1,1215.7 2186.1,1216.0 2187.6,1216.2 L2187.6,1221.1 L1637.1,1221.1 Z" fill="#00c19f" fill-opacity="0.5"/>
<path d="M1637.1,1216.2 1640.1,1216.0 1643.1,1215.7 1646.1,1215.5 1649.1,1215.2 1652.1,1214.9 1655.1,1214.7 1658.1,1214.4 1661.1,1214.2 1664.1,1213.9 1667.1,1213.7 1670.1,1213.4 1673.1,1213.2 1676.1,1212.9 1679.1,1212.7 1682.1,1212.4 1685.1,1212.1 1688.1,1211.9 1691.1,1211.6 1694.1,1211.3 1697.1,1211.1 1700.1,1210.8 1703.1,1210.5 1706.1,1210.2 1709.1,1209.9 1712.1,1209.6 1715.1,1209.3 1718.1,1209.0 1721.1,1208.6 1724.1,1208.3 1727.1,1207.9 1730.1,1207.5 1733.1,1207.0 1736.1,1206.6 1739.1,1206.1 1742.1,1205.6 1745.1,1205.1 1748.1,1204.7 1751.1,1204.2 1754.1,1203.7 1757.1,1203.3 1760.1,1202.9 1763.1,1202.5 1766.1,1202.1 1769.1,1201.6 1772.1,1201.2 1775.1,1200.7 1778.1,1200.2 1781.1,1199.7 1784.1,1199.1 1787.1,1198.5 1790.1,1197.9 1793.1,1197.2 1796.1,1196.5 1799.1,1195.8 1802.1,1195.0 1805.1,1194.2 1808.1,1193.4 1811.1,1192.6 1814.1,1191.8 1817.1,1191.0 1820.1,1190.1 1823.1,1189.2 1826.1,1188.4 1829.1,1187.5 1832.1,1186.6 1835.1,1185.7 1838.1,1184.7 1841.1,1183.8 1844.1,1182.9 1847.1,1182.0 1850.1,1181.1 1853.1,1180.1 1856.1,1179.2 1859.1,1178.3 1862.1,1177.4 1865.1,1176.5 1868.1,1175.5 1871.1,1174.6 1874.1,1173.8 1877.1,1172.9 1880.1,1172.1 1883.1,1171.3 1886.1,1170.5 1889.1,1169.7 1892.1,1169.0 1895.1,1168.2 1898.1,1167.5 1901.1,1166.9 1904.1,1166.2 1907.1,1165.6 1910.1,1165.0 1913.1,1164.5 1916.1,1163.9 1919.1,1163.4 1922.1,1163.0 1925.1,1162.6 1928.1,1162.2 1931.1,1161.8 1934.1,1161.5 1937.1,1161.2 1940.1,1160.9 1943.1,1160.7 1946.1,1160.5 1949.1,1160.3 1952.1,1160.2 1955.1,1160.0 1958.1,1160.0 1961.1,1159.9 1964.1,1159.9 1967.1,1159.9 1970.1,1160.0 1973.1,1160.2 1976.1,1160.4 1979.1,1160.7 1982.1,1161.1 1985.1,1161.5 1988.1,1162.0 1991.1,1162.5 1994.1,1163.1 1997.1,1163.7 2000.1,1164.4 2003.1,1165.1 2006.1,1165.9 2009.1,1166.7 2012.1,1167.5 2015.1,1168.4 2018.1,1169.4 2021.1,1170.4 2024.1,1171.4 2027.1,1172.5 2030.1,1173.6 2033.1,1174.7 2036.1,1175.8 2039.1,1176.9 2042.1,1178.1 2045.1,1179.3 2048.1,1180.4 2051.1,1181.6 2054.1,1182.8 2057.1,1184.0 2060.1,1185.3 2063.1,1186.5 2066.1,1187.7 2069.1,1188.9 2072.1,1190.1 2075.1,1191.2 2078.1,1192.3 2081.1,1193.5 2084.1,1194.6 2087.1,1195.7 2090.1,1196.7 2093.1,1197.8 2096.1,1198.8 2099.1,1199.8 2102.1,1200.8 2105.1,1201.8 2108.1,1202.7 2111.1,1203.6 2114.1,1204.4 2117.1,1205.3 2120.1,1206.1 2123.1,1206.9 2126.1,1207.6 2129.1,1208.3 2132.1,1209.0 2135.1,1209.6 2138.1,1210.2 2141.1,1210.7 2144.1,1211.2 2147.1,1211.6 2150.1,1212.0 2153.1,1212.4 2156.1,1212.8 2159.1,1213.2 2162.1,1213.5 2165.1,1213.8 2168.1,1214.1 2171.1,1214.5 2174.1,1214.8 2177.1,1215.1 2180.1,1215.4 2183.1,1215.7 2186.1,1216.0 2187.6,1216.2" fill="none" stroke="#000" stroke-width="3.8" stroke-linejoin="round" stroke-linecap="butt"/>
<path d="M1124.4,1334.0 1127.4,1333.6 1130.4,1333.1 1133.4,1332.7 1136.4,1332.3 1139.4,1331.8 1142.4,1331.4 1145.4,1331.0 1148.4,1330.5 1151.4,1330.1 1154.4,1329.6 1157.4,1329.1 1160.4,1328.6 1163.4,1328.1 1166.4,1327.6 1169.4,1327.1 1172.4,1326.6 1175.4,1326.1 1178.4,1325.5 1181.4,1325.0 1184.4,1324.4 1187.4,1323.9 1190.4,1323.3 1193.4,1322.8 1196.4,1322.3 1199.4,1321.7 1202.4,1321.2 1205.4,1320.7 1208.4,1320.1 1211.4,1319.6 1214.4,1319.1 1217.4,1318.6 1220.4,1318.2 1223.4,1317.7 1226.4,1317.3 1229.4,1316.8 1232.4,1316.4 1235.4,1316.0 1238.4,1315.6 1241.4,1315.2 1244.4,1314.9 1247.4,1314.5 1250.4,1314.2 1253.4,1313.9 1256.4,1313.6 1259.4,1313.3 1262.4,1313.1 1265.4,1312.8 1268.4,1312.6 1271.4,1312.4 1274.4,1312.2 1277.4,1312.0 1280.4,1311.8 1283.4,1311.7 1286.4,1311.7 1289.4,1311.6 1292.4,1311.6 1295.4,1311.6 1298.4,1311.6 1301.4,1311.7 1304.4,1311.8 1307.4,1312.0 1310.4,1312.2 1313.4,1312.4 1316.4,1312.6 1319.4,1312.9 1322.4,1313.2 1325.4,1313.5 1328.4,1313.9 1331.4,1314.4 1334.4,1314.8 1337.4,1315.3 1340.4,1315.8 1343.4,1316.3 1346.4,1316.8 1349.4,1317.2 1352.4,1317.7 1355.4,1318.2 1358.4,1318.7 1361.4,1319.1 1364.4,1319.6 1367.4,1320.0 1370.4,1320.4 1373.4,1320.8 1376.4,1321.2 1379.4,1321.7 1382.4,1322.1 1385.4,1322.5 1388.4,1322.9 1391.4,1323.3 1394.4,1323.7 1397.4,1324.1 1400.4,1324.5 1403.4,1324.9 1406.4,1325.3 1409.4,1325.7 1412.4,1326.0 1415.4,1326.4 1418.4,1326.7 1421.4,1327.1 1424.4,1327.4 1427.4,1327.8 1430.4,1328.1 1433.4,1328.4 1436.4,1328.7 1439.4,1329.0 1442.4,1329.3 1445.4,1329.6 1448.4,1329.8 1451.4,1330.1 1454.4,1330.3 1457.4,1330.6 1460.4,1330.8 1463.4,1331.1 1466.4,1331.3 1469.4,1331.5 1472.4,1331.7 1475.4,1331.9 1478.4,1332.0 1481.4,1332.2 1484.4,1332.3 1487.4,1332.4 1490.4,1332.4 1493.4,1332.5 1496.4,1332.5 1499.4,1332.5 1502.4,1332.5 1505.4,1332.5 1508.4,1332.5 1511.4,1332.5 1514.4,1332.4 1517.4,1332.4 1520.4,1332.4 1523.4,1332.3 1526.4,1332.3 1529.4,1332.2 1532.4,1332.2 1535.4,1332.1 1538.4,1332.0 1541.4,1331.9 1544.4,1331.8 1547.4,1331.7 1550.4,1331.5 1553.4,1331.4 1556.4,1331.2 1559.4,1331.0 1562.4,1330.7 1565.4,1330.5 1568.4,1330.2 1571.4,1330.0 1574.4,1329.7 1577.4,1329.5 1580.4,1329.2 1583.4,1328.9 1586.4,1328.7 1589.4,1328.4 1592.4,1328.1 1595.4,1327.8 1598.4,1327.6 1601.4,1327.3 1604.4,1327.0 1607.4,1326.8 1610.4,1326.5 1613.4,1326.3 1616.4,1326.0 1619.4,1325.8 1622.4,1325.5 1625.4,1325.3 1628.4,1325.1 1631.4,1324.8 1634.4,1324.6 1637.4,1324.3 1640.4,1324.1 1643.4,1323.8 1646.4,1323.5 1649.4,1323.2 1652.4,1322.8 1655.4,1322.5 1658.4,1322.2 1661.4,1321.8 1664.4,1321.4 1667.4,1321.1 1670.4,1320.7 1673.4,1320.3 1676.4,1320.0 1679.4,1319.6 1682.4,1319.2 1685.4,1318.9 1688.4,1318.5 1691.4,1318.2 1694.4,1317.8 1697.4,1317.5 1700.4,1317.1 1703.4,1316.8 1706.4,1316.4 1709.4,1316.0 1712.4,1315.6 1715.4,1315.2 1718.4,1314.8 1721.4,1314.4 1724.4,1313.9 1727.4,1313.5 1730.4,1313.0 1733.4,1312.5 1736.4,1312.0 1739.4,1311.5 1742.4,1310.9 1745.4,1310.4 1748.4,1309.9 1751.4,1309.3 1754.4,1308.7 1757.4,1308.2 1760.4,1307.6 1763.4,1307.0 1766.4,1306.4 1769.4,1305.8 1772.4,1305.2 1775.4,1304.6 1778.4,1304.0 1781.4,1303.4 1784.4,1302.7 1787.4,1302.1 1790.4,1301.5 1793.4,1300.9 1796.4,1300.3 1799.4,1299.7 1802.4,1299.1 1805.4,1298.5 1808.4,1297.9 1811.4,1297.3 1814.4,1296.8 1817.4,1296.2 1820.4,1295.6 1823.4,1295.0 1826.4,1294.5 1829.4,1293.9 1832.4,1293.4 1835.4,1292.8 1838.4,1292.3 1841.4,1291.8 1844.4,1291.3 1847.4,1290.8 1850.4,1290.3 1853.4,1289.8 1856.4,1289.4 1859.4,1288.9 1862.4,1288.5 1865.4,1288.0 1868.4,1287.6 1871.4,1287.2 1874.4,1286.8 1877.4,1286.5 1880.4,1286.1 1883.4,1285.8 1886.4,1285.5 1889.4,1285.2 1892.4,1284.9 1895.4,1284.7 1898.4,1284.4 1901.4,1284.2 1904.4,1284.0 1907.4,1283.8 1910.4,1283.6 1913.4,1283.4 1916.4,1283.3 1919.4,1283.2 1922.4,1283.0 1925.4,1282.9 1928.4,1282.8 1931.4,1282.8 1934.4,1282.8 1937.4,1282.7 1940.4,1282.8 1943.4,1282.8 1946.4,1282.9 1949.4,1283.0 1952.4,1283.2 1955.4,1283.4 1958.4,1283.6 1961.4,1283.8 1964.4,1284.1 1967.4,1284.4 1970.4,1284.8 1973.4,1285.2 1976.4,1285.6 1979.4,1286.0 1982.4,1286.5 1985.4,1287.1 1988.4,1287.6 1991.4,1288.2 1994.4,1288.8 1997.4,1289.5 2000.4,1290.2 2003.4,1290.9 2006.4,1291.6 2009.4,1292.3 2012.4,1293.0 2015.4,1293.8 2018.4,1294.6 2021.4,1295.4 2024.4,1296.2 2027.4,1297.0 2030.4,1297.8 2033.4,1298.6 2036.4,1299.4 2039.4,1300.2 2042.4,1301.0 2045.4,1301.8 2048.4,1302.6 2051.4,1303.3 2054.4,1304.1 2057.4,1304.9 2060.4,1305.6 2063.4,1306.4 2066.4,1307.1 2069.4,1307.9 2072.4,1308.7 2075.4,1309.4 2078.4,1310.2 2081.4,1311.1 2084.4,1311.9 2087.4,1312.7 2090.4,1313.5 2093.4,1314.3 2096.4,1315.1 2099.4,1315.9 2102.4,1316.6 2105.4,1317.4 2108.4,1318.0 2111.4,1318.7 2114.4,1319.3 2117.4,1319.9 2120.4,1320.4 2123.4,1321.0 2126.4,1321.5 2129.4,1322.0 2132.4,1322.6 2135.4,1323.1 2138.4,1323.6 2141.4,1324.1 2144.4,1324.6 2147.4,1325.2 2150.4,1325.7 2153.4,1326.2 2156.4,1326.7 2159.4,1327.2 2162.4,1327.7 2165.4,1328.2 2168.4,1328.6 2171.4,1329.1 2174.4,1329.5 2177.4,1329.8 2180.4,1330.2 2183.4,1330.6 2186.4,1330.9 2189.4,1331.2 2192.4,1331.5 2195.4,1331.9 2198.4,1332.2 2201.4,1332.5 2204.4,1332.7 2207.4,1333.0 2210.4,1333.3 2213.4,1333.5 2216.4,1333.8 2216.6,1334.0 L2216.6,1338.2 L1124.4,1338.2 Z" fill="#00bf74" fill-opacity="0.5"/>
<path d="M1124.4,1334.0 1127.4,1333.6 1130.4,1333.1 1133.4,1332.7 1136.4,1332.3 1139.4,1331.8 1142.4,1331.4 1145.4,1331.0 1148.4,1330.5 1151.4,1330.1 1154.4,1329.6 1157.4,1329.1 1160.4,1328.6 1163.4,1328.1 1166.4,1327.6 1169.4,1327.1 1172.4,1326.6 1175.4,1326.1 1178.4,1325.5 1181.4,1325.0 1184.4,1324.4 1187.4,1323.9 1190.4,1323.3 1193.4,1322.8 1196.4,1322.3 1199.4,1321.7 1202.4,1321.2 1205.4,1320.7 1208.4,1320.1 1211.4,1319.6 1214.4,1319.1 1217.4,1318.6 1220.4,1318.2 1223.4,1317.7 1226.4,1317.3 1229.4,1316.8 1232.4,1316.4 1235.4,1316.0 1238.4,1315.6 1241.4,1315.2 1244.4,1314.9 1247.4,1314.5 1250.4,1314.2 1253.4,1313.9 1256.4,1313.6 1259.4,1313.3 1262.4,1313.1 1265.4,1312.8 1268.4,1312.6 1271.4,1312.4 1274.4,1312.2 1277.4,1312.0 1280.4,1311.8 1283.4,1311.7 1286.4,1311.7 1289.4,1311.6 1292.4,1311.6 1295.4,1311.6 1298.4,1311.6 1301.4,1311.7 1304.4,1311.8 1307.4,1312.0 1310.4,1312.2 1313.4,1312.4 1316.4,1312.6 1319.4,1312.9 1322.4,1313.2 1325.4,1313.5 1328.4,1313.9 1331.4,1314.4 1334.4,1314.8 1337.4,1315.3 1340.4,1315.8 1343.4,1316.3 1346.4,1316.8 1349.4,1317.2 1352.4,1317.7 1355.4,1318.2 1358.4,1318.7 1361.4,1319.1 1364.4,1319.6 1367.4,1320.0 1370.4,1320.4 1373.4,1320.8 1376.4,1321.2 1379.4,1321.7 1382.4,1322.1 1385.4,1322.5 1388.4,1322.9 1391.4,1323.3 1394.4,1323.7 1397.4,1324.1 1400.4,1324.5 1403.4,1324.9 1406.4,1325.3 1409.4,1325.7 1412.4,1326.0 1415.4,1326.4 1418.4,1326.7 1421.4,1327.1 1424.4,1327.4 1427.4,1327.8 1430.4,1328.1 1433.4,1328.4 1436.4,1328.7 1439.4,1329.0 1442.4,1329.3 1445.4,1329.6 1448.4,1329.8 1451.4,1330.1 1454.4,1330.3 1457.4,1330.6 1460.4,1330.8 1463.4,1331.1 1466.4,1331.3 1469.4,1331.5 1472.4,1331.7 1475.4,1331.9 1478.4,1332.0 1481.4,1332.2 1484.4,1332.3 1487.4,1332.4 1490.4,1332.4 1493.4,1332.5 1496.4,1332.5 1499.4,1332.5 1502.4,1332.5 1505.4,1332.5 1508.4,1332.5 1511.4,1332.5 1514.4,1332.4 1517.4,1332.4 1520.4,1332.4 1523.4,1332.3 1526.4,1332.3 1529.4,1332.2 1532.4,1332.2 1535.4,1332.1 1538.4,1332.0 1541.4,1331.9 1544.4,1331.8 1547.4,1331.7 1550.4,1331.5 1553.4,1331.4 1556.4,1331.2 1559.4,1331.0 1562.4,1330.7 1565.4,1330.5 1568.4,1330.2 1571.4,1330.0 1574.4,1329.7 1577.4,1329.5 1580.4,1329.2 1583.4,1328.9 1586.4,1328.7 1589.4,1328.4 1592.4,1328.1 1595.4,1327.8 1598.4,1327.6 1601.4,1327.3 1604.4,1327.0 1607.4,1326.8 1610.4,1326.5 1613.4,1326.3 1616.4,1326.0 1619.4,1325.8 1622.4,1325.5 1625.4,1325.3 1628.4,1325.1 1631.4,1324.8 1634.4,1324.6 1637.4,1324.3 1640.4,1324.1 1643.4,1323.8 1646.4,1323.5 1649.4,1323.2 1652.4,1322.8 1655.4,1322.5 1658.4,1322.2 1661.4,1321.8 1664.4,1321.4 1667.4,1321.1 1670.4,1320.7 1673.4,1320.3 1676.4,1320.0 1679.4,1319.6 1682.4,1319.2 1685.4,1318.9 1688.4,1318.5 1691.4,1318.2 1694.4,1317.8 1697.4,1317.5 1700.4,1317.1 1703.4,1316.8 1706.4,1316.4 1709.4,1316.0 1712.4,1315.6 1715.4,1315.2 1718.4,1314.8 1721.4,1314.4 1724.4,1313.9 1727.4,1313.5 1730.4,1313.0 1733.4,1312.5 1736.4,1312.0 1739.4,1311.5 1742.4,1310.9 1745.4,1310.4 1748.4,1309.9 1751.4,1309.3 1754.4,1308.7 1757.4,1308.2 1760.4,1307.6 1763.4,1307.0 1766.4,1306.4 1769.4,1305.8 1772.4,1305.2 1775.4,1304.6 1778.4,1304.0 1781.4,1303.4 1784.4,1302.7 1787.4,1302.1 1790.4,1301.5 1793.4,1300.9 1796.4,1300.3 1799.4,1299.7 1802.4,1299.1 1805.4,1298.5 1808.4,1297.9 1811.4,1297.3 1814.4,1296.8 1817.4,1296.2 1820.4,1295.6 1823.4,1295.0 1826.4,1294.5 1829.4,1293.9 1832.4,1293.4 1835.4,1292.8 1838.4,1292.3 1841.4,1291.8 1844.4,1291.3 1847.4,1290.8 1850.4,1290.3 1853.4,1289.8 1856.4,1289.4 1859.4,1288.9 1862.4,1288.5 1865.4,1288.0 1868.4,1287.6 1871.4,1287.2 1874.4,1286.8 1877.4,1286.5 1880.4,1286.1 1883.4,1285.8 1886.4,1285.5 1889.4,1285.2 1892.4,1284.9 1895.4,1284.7 1898.4,1284.4 1901.4,1284.2 1904.4,1284.0 1907.4,1283.8 1910.4,1283.6 1913.4,1283.4 1916.4,1283.3 1919.4,1283.2 1922.4,1283.0 1925.4,1282.9 1928.4,1282.8 1931.4,1282.8 1934.4,1282.8 1937.4,1282.7 1940.4,1282.8 1943.4,1282.8 1946.4,1282.9 1949.4,1283.0 1952.4,1283.2 1955.4,1283.4 1958.4,1283.6 1961.4,1283.8 1964.4,1284.1 1967.4,1284.4 1970.4,1284.8 1973.4,1285.2 1976.4,1285.6 1979.4,1286.0 1982.4,1286.5 1985.4,1287.1 1988.4,1287.6 1991.4,1288.2 1994.4,1288.8 1997.4,1289.5 2000.4,1290.2 2003.4,1290.9 2006.4,1291.6 2009.4,1292.3 2012.4,1293.0 2015.4,1293.8 2018.4,1294.6 2021.4,1295.4 2024.4,1296.2 2027.4,1297.0 2030.4,1297.8 2033.4,1298.6 2036.4,1299.4 2039.4,1300.2 2042.4,1301.0 2045.4,1301.8 2048.4,1302.6 2051.4,1303.3 2054.4,1304.1 2057.4,1304.9 2060.4,1305.6 2063.4,1306.4 2066.4,1307.1 2069.4,1307.9 2072.4,1308.7 2075.4,1309.4 2078.4,1310.2 2081.4,1311.1 2084.4,1311.9 2087.4,1312.7 2090.4,1313.5 2093.4,1314.3 2096.4,1315.1 2099.4,1315.9 2102.4,1316.6 2105.4,1317.4 2108.4,1318.0 2111.4,1318.7 2114.4,1319.3 2117.4,1319.9 2120.4,1320.4 2123.4,1321.0 2126.4,1321.5 2129.4,1322.0 2132.4,1322.6 2135.4,1323.1 2138.4,1323.6 2141.4,1324.1 2144.4,1324.6 2147.4,1325.2 2150.4,1325.7 2153.4,1326.2 2156.4,1326.7 2159.4,1327.2 2162.4,1327.7 2165.4,1328.2 2168.4,1328.6 2171.4,1329.1 2174.4,1329.5 2177.4,1329.8 2180.4,1330.2 2183.4,1330.6 2186.4,1330.9 2189.4,1331.2 2192.4,1331.5 2195.4,1331.9 2198.4,1332.2 2201.4,1332.5 2204.4,1332.7 2207.4,1333.0 2210.4,1333.3 2213.4,1333.5 2216.4,1333.8 2216.6,1334.0" fill="none" stroke="#000" stroke-width="3.8" stroke-linejoin="round" stroke-linecap="butt"/>
<path d="M1208.2,1450.2 1211.2,1450.0 1214.2,1449.9 1217.2,1449.7 1220.2,1449.6 1223.2,1449.5 1226.2,1449.3 1229.2,1449.2 1232.2,1449.0 1235.2,1448.9 1238.2,1448.7 1241.2,1448.6 1244.2,1448.4 1247.2,1448.3 1250.2,1448.1 1253.2,1447.9 1256.2,1447.8 1259.2,1447.6 1262.2,1447.5 1265.2,1447.3 1268.2,1447.2 1271.2,1447.1 1274.2,1447.0 1277.2,1446.9 1280.2,1446.9 1283.2,1446.8 1286.2,1446.8 1289.2,1446.8 1292.2,1446.8 1295.2,1446.8 1298.2,1446.8 1301.2,1446.9 1304.2,1446.9 1307.2,1447.0 1310.2,1447.0 1313.2,1447.1 1316.2,1447.2 1319.2,1447.3 1322.2,1447.4 1325.2,1447.5 1328.2,1447.6 1331.2,1447.7 1334.2,1447.7 1337.2,1447.8 1340.2,1447.9 1343.2,1448.0 1346.2,1448.1 1349.2,1448.2 1352.2,1448.3 1355.2,1448.4 1358.2,1448.5 1361.2,1448.6 1364.2,1448.7 1367.2,1448.8 1370.2,1448.8 1373.2,1448.9 1376.2,1449.0 1379.2,1449.1 1382.2,1449.2 1385.2,1449.3 1388.2,1449.4 1391.2,1449.5 1394.2,1449.6 1397.2,1449.7 1400.2,1449.8 1403.2,1449.9 1406.2,1450.0 1409.2,1450.1 1411.4,1450.2 L1411.4,1455.3 L1208.2,1455.3 Z" fill="#00ba38" fill-opacity="0.5"/>
<path d="M1208.2,1450.2 1211.2,1450.0 1214.2,1449.9 1217.2,1449.7 1220.2,1449.6 1223.2,1449.5 1226.2,1449.3 1229.2,1449.2 1232.2,1449.0 1235.2,1448.9 1238.2,1448.7 1241.2,1448.6 1244.2,1448.4 1247.2,1448.3 1250.2,1448.1 1253.2,1447.9 1256.2,1447.8 1259.2,1447.6 1262.2,1447.5 1265.2,1447.3 1268.2,1447.2 1271.2,1447.1 1274.2,1447.0 1277.2,1446.9 1280.2,1446.9 1283.2,1446.8 1286.2,1446.8 1289.2,1446.8 1292.2,1446.8 1295.2,1446.8 1298.2,1446.8 1301.2,1446.9 1304.2,1446.9 1307.2,1447.0 1310.2,1447.0 1313.2,1447.1 1316.2,1447.2 1319.2,1447.3 1322.2,1447.4 1325.2,1447.5 1328.2,1447.6 1331.2,1447.7 1334.2,1447.7 1337.2,1447.8 1340.2,1447.9 1343.2,1448.0 1346.2,1448.1 1349.2,1448.2 1352.2,1448.3 1355.2,1448.4 1358.2,1448.5 1361.2,1448.6 1364.2,1448.7 1367.2,1448.8 1370.2,1448.8 1373.2,1448.9 1376.2,1449.0 1379.2,1449.1 1382.2,1449.2 1385.2,1449.3 1388.2,1449.4 1391.2,1449.5 1394.2,1449.6 1397.2,1449.7 1400.2,1449.8 1403.2,1449.9 1406.2,1450.0 1409.2,1450.1 1411.4,1450.2" fill="none" stroke="#000" stroke-width="3.8" stroke-linejoin="round" stroke-linecap="butt"/>
<path d="M1463.0,1450.2 1466.0,1449.9 1469.0,1449.7 1472.0,1449.5 1475.0,1449.3 1478.0,1449.1 1481.0,1448.8 1484.0,1448.6 1487.0,1448.4 1490.0,1448.2 1493.0,1447.9 1496.0,1447.7 1499.0,1447.5 1502.0,1447.2 1505.0,1446.9 1508.0,1446.7 1511.0,1446.4 1514.0,1446.1 1517.0,1445.8 1520.0,1445.5 1523.0,1445.1 1526.0,1444.8 1529.0,1444.4 1532.0,1444.0 1535.0,1443.7 1538.0,1443.3 1541.0,1442.9 1544.0,1442.5 1547.0,1442.0 1550.0,1441.6 1553.0,1441.2 1556.0,1440.8 1559.0,1440.3 1562.0,1439.9 1565.0,1439.4 1568.0,1438.9 1571.0,1438.5 1574.0,1438.0 1577.0,1437.5 1580.0,1437.0 1583.0,1436.5 1586.0,1436.0 1589.0,1435.5 1592.0,1435.0 1595.0,1434.5 1598.0,1434.0 1601.0,1433.5 1604.0,1433.0 1607.0,1432.5 1610.0,1432.0 1613.0,1431.5 1616.0,1431.0 1619.0,1430.5 1622.0,1430.0 1625.0,1429.4 1628.0,1428.9 1631.0,1428.4 1634.0,1427.9 1637.0,1427.4 1640.0,1426.9 1643.0,1426.4 1646.0,1425.9 1649.0,1425.4 1652.0,1424.9 1655.0,1424.4 1658.0,1423.9 1661.0,1423.4 1664.0,1422.9 1667.0,1422.4 1670.0,1421.9 1673.0,1421.4 1676.0,1420.9 1679.0,1420.4 1682.0,1419.8 1685.0,1419.3 1688.0,1418.8 1691.0,1418.3 1694.0,1417.8 1697.0,1417.3 1700.0,1416.8 1703.0,1416.4 1706.0,1415.9 1709.0,1415.4 1712.0,1415.0 1715.0,1414.6 1718.0,1414.2 1721.0,1413.8 1724.0,1413.5 1727.0,1413.2 1730.0,1412.9 1733.0,1412.6 1736.0,1412.3 1739.0,1412.1 1742.0,1411.9 1745.0,1411.6 1748.0,1411.4 1751.0,1411.2 1754.0,1411.0 1757.0,1410.8 1760.0,1410.6 1763.0,1410.4 1766.0,1410.2 1769.0,1410.0 1772.0,1409.7 1775.0,1409.5 1778.0,1409.3 1781.0,1409.1 1784.0,1408.9 1787.0,1408.7 1790.0,1408.5 1793.0,1408.3 1796.0,1408.1 1799.0,1407.9 1802.0,1407.6 1805.0,1407.4 1808.0,1407.2 1811.0,1407.0 1814.0,1406.9 1817.0,1406.7 1820.0,1406.5 1823.0,1406.3 1826.0,1406.2 1829.0,1406.0 1832.0,1405.9 1835.0,1405.7 1838.0,1405.5 1841.0,1405.4 1844.0,1405.2 1847.0,1405.1 1850.0,1404.9 1853.0,1404.7 1856.0,1404.6 1859.0,1404.4 1862.0,1404.2 1865.0,1404.0 1868.0,1403.9 1871.0,1403.7 1874.0,1403.5 1877.0,1403.4 1880.0,1403.2 1883.0,1403.0 1886.0,1402.9 1889.0,1402.7 1892.0,1402.6 1895.0,1402.5 1898.0,1402.4 1901.0,1402.2 1904.0,1402.1 1907.0,1402.1 1910.0,1402.0 1913.0,1401.9 1916.0,1401.8 1919.0,1401.8 1922.0,1401.8 1925.0,1401.7 1928.0,1401.7 1931.0,1401.7 1934.0,1401.7 1937.0,1401.8 1940.0,1401.8 1943.0,1401.8 1946.0,1401.9 1949.0,1402.0 1952.0,1402.0 1955.0,1402.1 1958.0,1402.2 1961.0,1402.3 1964.0,1402.4 1967.0,1402.6 1970.0,1402.7 1973.0,1402.9 1976.0,1403.0 1979.0,1403.2 1982.0,1403.4 1985.0,1403.6 1988.0,1403.8 1991.0,1404.0 1994.0,1404.2 1997.0,1404.5 2000.0,1404.8 2003.0,1405.1 2006.0,1405.4 2009.0,1405.8 2012.0,1406.3 2015.0,1406.7 2018.0,1407.2 2021.0,1407.8 2024.0,1408.3 2027.0,1408.9 2030.0,1409.5 2033.0,1410.1 2036.0,1410.7 2039.0,1411.4 2042.0,1412.0 2045.0,1412.7 2048.0,1413.3 2051.0,1414.0 2054.0,1414.6 2057.0,1415.3 2060.0,1415.9 2063.0,1416.6 2066.0,1417.3 2069.0,1417.9 2072.0,1418.6 2075.0,1419.3 2078.0,1420.0 2081.0,1420.7 2084.0,1421.3 2087.0,1422.0 2090.0,1422.7 2093.0,1423.4 2096.0,1424.1 2099.0,1424.8 2102.0,1425.5 2105.0,1426.2 2108.0,1426.9 2111.0,1427.6 2114.0,1428.2 2117.0,1428.9 2120.0,1429.6 2123.0,1430.3 2126.0,1431.0 2129.0,1431.7 2132.0,1432.4 2135.0,1433.1 2138.0,1433.8 2141.0,1434.4 2144.0,1435.1 2147.0,1435.8 2150.0,1436.5 2153.0,1437.1 2156.0,1437.8 2159.0,1438.4 2162.0,1439.1 2165.0,1439.7 2168.0,1440.3 2171.0,1440.9 2174.0,1441.5 2177.0,1442.1 2180.0,1442.7 2183.0,1443.2 2186.0,1443.7 2189.0,1444.2 2192.0,1444.7 2195.0,1445.2 2198.0,1445.6 2201.0,1446.0 2204.0,1446.4 2207.0,1446.8 2210.0,1447.1 2213.0,1447.5 2216.0,1447.8 2219.0,1448.1 2222.0,1448.3 2225.0,1448.6 2228.0,1448.8 2231.0,1449.1 2234.0,1449.3 2237.0,1449.5 2240.0,1449.7 2243.0,1450.0 2244.0,1450.2 L2244.0,1455.3 L1463.0,1455.3 Z" fill="#00ba38" fill-opacity="0.5"/>
<path d="M1463.0,1450.2 1466.0,1449.9 1469.0,1449.7 1472.0,1449.5 1475.0,1449.3 1478.0,1449.1 1481.0,1448.8 1484.0,1448.6 1487.0,1448.4 1490.0,1448.2 1493.0,1447.9 1496.0,1447.7 1499.0,1447.5 1502.0,1447.2 1505.0,1446.9 1508.0,1446.7 1511.0,1446.4 1514.0,1446.1 1517.0,1445.8 1520.0,1445.5 1523.0,1445.1 1526.0,1444.8 1529.0,1444.4 1532.0,1444.0 1535.0,1443.7 1538.0,1443.3 1541.0,1442.9 1544.0,1442.5 1547.0,1442.0 1550.0,1441.6 1553.0,1441.2 1556.0,1440.8 1559.0,1440.3 1562.0,1439.9 1565.0,1439.4 1568.0,1438.9 1571.0,1438.5 1574.0,1438.0 1577.0,1437.5 1580.0,1437.0 1583.0,1436.5 1586.0,1436.0 1589.0,1435.5 1592.0,1435.0 1595.0,1434.5 1598.0,1434.0 1601.0,1433.5 1604.0,1433.0 1607.0,1432.5 1610.0,1432.0 1613.0,1431.5 1616.0,1431.0 1619.0,1430.5 1622.0,1430.0 1625.0,1429.4 1628.0,1428.9 1631.0,1428.4 1634.0,1427.9 1637.0,1427.4 1640.0,1426.9 1643.0,1426.4 1646.0,1425.9 1649.0,1425.4 1652.0,1424.9 1655.0,1424.4 1658.0,1423.9 1661.0,1423.4 1664.0,1422.9 1667.0,1422.4 1670.0,1421.9 1673.0,1421.4 1676.0,1420.9 1679.0,1420.4 1682.0,1419.8 1685.0,1419.3 1688.0,1418.8 1691.0,1418.3 1694.0,1417.8 1697.0,1417.3 1700.0,1416.8 1703.0,1416.4 1706.0,1415.9 1709.0,1415.4 1712.0,1415.0 1715.0,1414.6 1718.0,1414.2 1721.0,1413.8 1724.0,1413.5 1727.0,1413.2 1730.0,1412.9 1733.0,1412.6 1736.0,1412.3 1739.0,1412.1 1742.0,1411.9 1745.0,1411.6 1748.0,1411.4 1751.0,1411.2 1754.0,1411.0 1757.0,1410.8 1760.0,1410.6 1763.0,1410.4 1766.0,1410.2 1769.0,1410.0 1772.0,1409.7 1775.0,1409.5 1778.0,1409.3 1781.0,1409.1 1784.0,1408.9 1787.0,1408.7 1790.0,1408.5 1793.0,1408.3 1796.0,1408.1 1799.0,1407.9 1802.0,1407.6 1805.0,1407.4 1808.0,1407.2 1811.0,1407.0 1814.0,1406.9 1817.0,1406.7 1820.0,1406.5 1823.0,1406.3 1826.0,1406.2 1829.0,1406.0 1832.0,1405.9 1835.0,1405.7 1838.0,1405.5 1841.0,1405.4 1844.0,1405.2 1847.0,1405.1 1850.0,1404.9 1853.0,1404.7 1856.0,1404.6 1859.0,1404.4 1862.0,1404.2 1865.0,1404.0 1868.0,1403.9 1871.0,1403.7 1874.0,1403.5 1877.0,1403.4 1880.0,1403.2 1883.0,1403.0 1886.0,1402.9 1889.0,1402.7 1892.0,1402.6 1895.0,1402.5 1898.0,1402.4 1901.0,1402.2 1904.0,1402.1 1907.0,1402.1 1910.0,1402.0 1913.0,1401.9 1916.0,1401.8 1919.0,1401.8 1922.0,1401.8 1925.0,1401.7 1928.0,1401.7 1931.0,1401.7 1934.0,1401.7 1937.0,1401.8 1940.0,1401.8 1943.0,1401.8 1946.0,1401.9 1949.0,1402.0 1952.0,1402.0 1955.0,1402.1 1958.0,1402.2 1961.0,1402.3 1964.0,1402.4 1967.0,1402.6 1970.0,1402.7 1973.0,1402.9 1976.0,1403.0 1979.0,1403.2 1982.0,1403.4 1985.0,1403.6 1988.0,1403.8 1991.0,1404.0 1994.0,1404.2 1997.0,1404.5 2000.0,1404.8 2003.0,1405.1 2006.0,1405.4 2009.0,1405.8 2012.0,1406.3 2015.0,1406.7 2018.0,1407.2 2021.0,1407.8 2024.0,1408.3 2027.0,1408.9 2030.0,1409.5 2033.0,1410.1 2036.0,1410.7 2039.0,1411.4 2042.0,1412.0 2045.0,1412.7 2048.0,1413.3 2051.0,1414.0 2054.0,1414.6 2057.0,1415.3 2060.0,1415.9 2063.0,1416.6 2066.0,1417.3 2069.0,1417.9 2072.0,1418.6 2075.0,1419.3 2078.0,1420.0 2081.0,1420.7 2084.0,1421.3 2087.0,1422.0 2090.0,1422.7 2093.0,1423.4 2096.0,1424.1 2099.0,1424.8 2102.0,1425.5 2105.0,1426.2 2108.0,1426.9 2111.0,1427.6 2114.0,1428.2 2117.0,1428.9 2120.0,1429.6 2123.0,1430.3 2126.0,1431.0 2129.0,1431.7 2132.0,1432.4 2135.0,1433.1 2138.0,1433.8 2141.0,1434.4 2144.0,1435.1 2147.0,1435.8 2150.0,1436.5 2153.0,1437.1 2156.0,1437.8 2159.0,1438.4 2162.0,1439.1 2165.0,1439.7 2168.0,1440.3 2171.0,1440.9 2174.0,1441.5 2177.0,1442.1 2180.0,1442.7 2183.0,1443.2 2186.0,1443.7 2189.0,1444.2 2192.0,1444.7 2195.0,1445.2 2198.0,1445.6 2201.0,1446.0 2204.0,1446.4 2207.0,1446.8 2210.0,1447.1 2213.0,1447.5 2216.0,1447.8 2219.0,1448.1 2222.0,1448.3 2225.0,1448.6 2228.0,1448.8 2231.0,1449.1 2234.0,1449.3 2237.0,1449.5 2240.0,1449.7 2243.0,1450.0 2244.0,1450.2" fill="none" stroke="#000" stroke-width="3.8" stroke-linejoin="round" stroke-linecap="butt"/>
<path d="M1097.0,1567.0 1100.0,1566.5 1103.0,1566.1 1106.0,1565.7 1109.0,1565.3 1112.0,1564.9 1115.0,1564.4 1118.0,1564.0 1121.0,1563.5 1124.0,1562.9 1127.0,1562.3 1130.0,1561.7 1133.0,1561.0 1136.0,1560.3 1139.0,1559.5 1142.0,1558.7 1145.0,1557.9 1148.0,1557.1 1151.0,1556.2 1154.0,1555.3 1157.0,1554.4 1160.0,1553.6 1163.0,1552.7 1166.0,1551.8 1169.0,1550.9 1172.0,1550.1 1175.0,1549.2 1178.0,1548.3 1181.0,1547.4 1184.0,1546.6 1187.0,1545.7 1190.0,1544.8 1193.0,1544.0 1196.0,1543.1 1199.0,1542.2 1202.0,1541.4 1205.0,1540.5 1208.0,1539.7 1211.0,1538.8 1214.0,1538.0 1217.0,1537.2 1220.0,1536.3 1223.0,1535.5 1226.0,1534.7 1229.0,1534.0 1232.0,1533.2 1235.0,1532.4 1238.0,1531.7 1241.0,1531.0 1244.0,1530.3 1247.0,1529.6 1250.0,1529.0 1253.0,1528.4 1256.0,1527.9 1259.0,1527.4 1262.0,1527.0 1265.0,1526.6 1268.0,1526.3 1271.0,1526.0 1274.0,1525.8 1277.0,1525.6 1280.0,1525.5 1283.0,1525.3 1286.0,1525.2 1289.0,1525.2 1292.0,1525.2 1295.0,1525.2 1298.0,1525.2 1301.0,1525.3 1304.0,1525.4 1307.0,1525.5 1310.0,1525.7 1313.0,1525.9 1316.0,1526.1 1319.0,1526.4 1322.0,1526.8 1325.0,1527.2 1328.0,1527.6 1331.0,1528.1 1334.0,1528.6 1337.0,1529.2 1340.0,1529.8 1343.0,1530.4 1346.0,1531.1 1349.0,1531.8 1352.0,1532.5 1355.0,1533.3 1358.0,1534.1 1361.0,1534.9 1364.0,1535.8 1367.0,1536.6 1370.0,1537.5 1373.0,1538.4 1376.0,1539.4 1379.0,1540.3 1382.0,1541.2 1385.0,1542.0 1388.0,1542.9 1391.0,1543.7 1394.0,1544.5 1397.0,1545.3 1400.0,1546.1 1403.0,1546.9 1406.0,1547.6 1409.0,1548.3 1412.0,1549.0 1415.0,1549.8 1418.0,1550.4 1421.0,1551.1 1424.0,1551.8 1427.0,1552.4 1430.0,1553.1 1433.0,1553.7 1436.0,1554.3 1439.0,1554.9 1442.0,1555.5 1445.0,1556.0 1448.0,1556.6 1451.0,1557.1 1454.0,1557.6 1457.0,1558.1 1460.0,1558.6 1463.0,1559.1 1466.0,1559.6 1469.0,1560.1 1472.0,1560.5 1475.0,1560.9 1478.0,1561.3 1481.0,1561.7 1484.0,1562.0 1487.0,1562.3 1490.0,1562.6 1493.0,1562.9 1496.0,1563.2 1499.0,1563.4 1502.0,1563.6 1505.0,1563.8 1508.0,1563.9 1511.0,1564.1 1514.0,1564.2 1517.0,1564.3 1520.0,1564.4 1523.0,1564.5 1526.0,1564.5 1529.0,1564.5 1532.0,1564.5 1535.0,1564.5 1538.0,1564.5 1541.0,1564.5 1544.0,1564.4 1547.0,1564.4 1550.0,1564.3 1553.0,1564.2 1556.0,1564.1 1559.0,1563.9 1562.0,1563.8 1565.0,1563.6 1568.0,1563.5 1571.0,1563.3 1574.0,1563.1 1577.0,1563.0 1580.0,1562.8 1583.0,1562.6 1586.0,1562.4 1589.0,1562.2 1592.0,1562.0 1595.0,1561.8 1598.0,1561.6 1601.0,1561.3 1604.0,1561.1 1607.0,1560.9 1610.0,1560.7 1613.0,1560.6 1616.0,1560.4 1619.0,1560.2 1622.0,1560.0 1625.0,1559.9 1628.0,1559.7 1631.0,1559.6 1634.0,1559.4 1637.0,1559.3 1640.0,1559.1 1643.0,1559.0 1646.0,1558.9 1649.0,1558.7 1652.0,1558.6 1655.0,1558.4 1658.0,1558.3 1661.0,1558.1 1664.0,1558.0 1667.0,1557.8 1670.0,1557.7 1673.0,1557.5 1676.0,1557.4 1679.0,1557.2 1682.0,1557.1 1685.0,1556.9 1688.0,1556.8 1691.0,1556.6 1694.0,1556.5 1697.0,1556.3 1700.0,1556.1 1703.0,1556.0 1706.0,1555.8 1709.0,1555.7 1712.0,1555.5 1715.0,1555.3 1718.0,1555.1 1721.0,1554.9 1724.0,1554.7 1727.0,1554.5 1730.0,1554.3 1733.0,1554.1 1736.0,1553.8 1739.0,1553.6 1742.0,1553.3 1745.0,1553.1 1748.0,1552.8 1751.0,1552.5 1754.0,1552.3 1757.0,1552.0 1760.0,1551.7 1763.0,1551.5 1766.0,1551.2 1769.0,1550.9 1772.0,1550.6 1775.0,1550.2 1778.0,1549.9 1781.0,1549.6 1784.0,1549.2 1787.0,1548.8 1790.0,1548.4 1793.0,1548.0 1796.0,1547.6 1799.0,1547.1 1802.0,1546.7 1805.0,1546.2 1808.0,1545.7 1811.0,1545.3 1814.0,1544.8 1817.0,1544.4 1820.0,1543.9 1823.0,1543.4 1826.0,1543.0 1829.0,1542.5 1832.0,1542.1 1835.0,1541.6 1838.0,1541.2 1841.0,1540.7 1844.0,1540.3 1847.0,1539.9 1850.0,1539.4 1853.0,1539.0 1856.0,1538.6 1859.0,1538.2 1862.0,1537.8 1865.0,1537.4 1868.0,1537.0 1871.0,1536.6 1874.0,1536.3 1877.0,1535.9 1880.0,1535.5 1883.0,1535.2 1886.0,1534.9 1889.0,1534.5 1892.0,1534.2 1895.0,1533.9 1898.0,1533.6 1901.0,1533.3 1904.0,1533.0 1907.0,1532.7 1910.0,1532.5 1913.0,1532.2 1916.0,1531.9 1919.0,1531.7 1922.0,1531.4 1925.0,1531.2 1928.0,1530.9 1931.0,1530.7 1934.0,1530.5 1937.0,1530.4 1940.0,1530.2 1943.0,1530.1 1946.0,1530.0 1949.0,1530.0 1952.0,1530.0 1955.0,1530.0 1958.0,1530.0 1961.0,1530.1 1964.0,1530.2 1967.0,1530.3 1970.0,1530.4 1973.0,1530.6 1976.0,1530.8 1979.0,1531.0 1982.0,1531.3 1985.0,1531.6 1988.0,1531.9 1991.0,1532.2 1994.0,1532.5 1997.0,1532.9 2000.0,1533.3 2003.0,1533.7 2006.0,1534.2 2009.0,1534.6 2012.0,1535.1 2015.0,1535.6 2018.0,1536.2 2021.0,1536.7 2024.0,1537.3 2027.0,1537.9 2030.0,1538.5 2033.0,1539.2 2036.0,1539.8 2039.0,1540.4 2042.0,1541.1 2045.0,1541.8 2048.0,1542.4 2051.0,1543.1 2054.0,1543.8 2057.0,1544.5 2060.0,1545.2 2063.0,1545.9 2066.0,1546.6 2069.0,1547.3 2072.0,1547.9 2075.0,1548.6 2078.0,1549.2 2081.0,1549.9 2084.0,1550.5 2087.0,1551.1 2090.0,1551.7 2093.0,1552.3 2096.0,1552.9 2099.0,1553.5 2102.0,1554.1 2105.0,1554.6 2108.0,1555.2 2111.0,1555.7 2114.0,1556.3 2117.0,1556.8 2120.0,1557.3 2123.0,1557.9 2126.0,1558.4 2129.0,1558.9 2132.0,1559.3 2135.0,1559.8 2138.0,1560.3 2141.0,1560.7 2144.0,1561.2 2147.0,1561.6 2150.0,1562.0 2153.0,1562.4 2156.0,1562.8 2159.0,1563.2 2162.0,1563.5 2165.0,1563.9 2168.0,1564.3 2171.0,1564.6 2174.0,1564.9 2177.0,1565.2 2180.0,1565.5 2183.0,1565.8 2186.0,1566.1 2189.0,1566.4 2192.0,1566.7 2195.0,1566.9 2198.0,1567.1 2201.0,1567.4 2202.1,1567.6 L2202.1,1572.4 L1097.0,1572.4 Z" fill="#5eb300" fill-opacity="0.5"/>
<path d="M1097.0,1567.0 1100.0,1566.5 1103.0,1566.1 1106.0,1565.7 1109.0,1565.3 1112.0,1564.9 1115.0,1564.4 1118.0,1564.0 1121.0,1563.5 1124.0,1562.9 1127.0,1562.3 1130.0,1561.7 1133.0,1561.0 1136.0,1560.3 1139.0,1559.5 1142.0,1558.7 1145.0,1557.9 1148.0,1557.1 1151.0,1556.2 1154.0,1555.3 1157.0,1554.4 1160.0,1553.6 1163.0,1552.7 1166.0,1551.8 1169.0,1550.9 1172.0,1550.1 1175.0,1549.2 1178.0,1548.3 1181.0,1547.4 1184.0,1546.6 1187.0,1545.7 1190.0,1544.8 1193.0,1544.0 1196.0,1543.1 1199.0,1542.2 1202.0,1541.4 1205.0,1540.5 1208.0,1539.7 1211.0,1538.8 1214.0,1538.0 1217.0,1537.2 1220.0,1536.3 1223.0,1535.5 1226.0,1534.7 1229.0,1534.0 1232.0,1533.2 1235.0,1532.4 1238.0,1531.7 1241.0,1531.0 1244.0,1530.3 1247.0,1529.6 1250.0,1529.0 1253.0,1528.4 1256.0,1527.9 1259.0,1527.4 1262.0,1527.0 1265.0,1526.6 1268.0,1526.3 1271.0,1526.0 1274.0,1525.8 1277.0,1525.6 1280.0,1525.5 1283.0,1525.3 1286.0,1525.2 1289.0,1525.2 1292.0,1525.2 1295.0,1525.2 1298.0,1525.2 1301.0,1525.3 1304.0,1525.4 1307.0,1525.5 1310.0,1525.7 1313.0,1525.9 1316.0,1526.1 1319.0,1526.4 1322.0,1526.8 1325.0,1527.2 1328.0,1527.6 1331.0,1528.1 1334.0,1528.6 1337.0,1529.2 1340.0,1529.8 1343.0,1530.4 1346.0,1531.1 1349.0,1531.8 1352.0,1532.5 1355.0,1533.3 1358.0,1534.1 1361.0,1534.9 1364.0,1535.8 1367.0,1536.6 1370.0,1537.5 1373.0,1538.4 1376.0,1539.4 1379.0,1540.3 1382.0,1541.2 1385.0,1542.0 1388.0,1542.9 1391.0,1543.7 1394.0,1544.5 1397.0,1545.3 1400.0,1546.1 1403.0,1546.9 1406.0,1547.6 1409.0,1548.3 1412.0,1549.0 1415.0,1549.8 1418.0,1550.4 1421.0,1551.1 1424.0,1551.8 1427.0,1552.4 1430.0,1553.1 1433.0,1553.7 1436.0,1554.3 1439.0,1554.9 1442.0,1555.5 1445.0,1556.0 1448.0,1556.6 1451.0,1557.1 1454.0,1557.6 1457.0,1558.1 1460.0,1558.6 1463.0,1559.1 1466.0,1559.6 1469.0,1560.1 1472.0,1560.5 1475.0,1560.9 1478.0,1561.3 1481.0,1561.7 1484.0,1562.0 1487.0,1562.3 1490.0,1562.6 1493.0,1562.9 1496.0,1563.2 1499.0,1563.4 1502.0,1563.6 1505.0,1563.8 1508.0,1563.9 1511.0,1564.1 1514.0,1564.2 1517.0,1564.3 1520.0,1564.4 1523.0,1564.5 1526.0,1564.5 1529.0,1564.5 1532.0,1564.5 1535.0,1564.5 1538.0,1564.5 1541.0,1564.5 1544.0,1564.4 1547.0,1564.4 1550.0,1564.3 1553.0,1564.2 1556.0,1564.1 1559.0,1563.9 1562.0,1563.8 1565.0,1563.6 1568.0,1563.5 1571.0,1563.3 1574.0,1563.1 1577.0,1563.0 1580.0,1562.8 1583.0,1562.6 1586.0,1562.4 1589.0,1562.2 1592.0,1562.0 1595.0,1561.8 1598.0,1561.6 1601.0,1561.3 1604.0,1561.1 1607.0,1560.9 1610.0,1560.7 1613.0,1560.6 1616.0,1560.4 1619.0,1560.2 1622.0,1560.0 1625.0,1559.9 1628.0,1559.7 1631.0,1559.6 1634.0,1559.4 1637.0,1559.3 1640.0,1559.1 1643.0,1559.0 1646.0,1558.9 1649.0,1558.7 1652.0,1558.6 1655.0,1558.4 1658.0,1558.3 1661.0,1558.1 1664.0,1558.0 1667.0,1557.8 1670.0,1557.7 1673.0,1557.5 1676.0,1557.4 1679.0,1557.2 1682.0,1557.1 1685.0,1556.9 1688.0,1556.8 1691.0,1556.6 1694.0,1556.5 1697.0,1556.3 1700.0,1556.1 1703.0,1556.0 1706.0,1555.8 1709.0,1555.7 1712.0,1555.5 1715.0,1555.3 1718.0,1555.1 1721.0,1554.9 1724.0,1554.7 1727.0,1554.5 1730.0,1554.3 1733.0,1554.1 1736.0,1553.8 1739.0,1553.6 1742.0,1553.3 1745.0,1553.1 1748.0,1552.8 1751.0,1552.5 1754.0,1552.3 1757.0,1552.0 1760.0,1551.7 1763.0,1551.5 1766.0,1551.2 1769.0,1550.9 1772.0,1550.6 1775.0,1550.2 1778.0,1549.9 1781.0,1549.6 1784.0,1549.2 1787.0,1548.8 1790.0,1548.4 1793.0,1548.0 1796.0,1547.6 1799.0,1547.1 1802.0,1546.7 1805.0,1546.2 1808.0,1545.7 1811.0,1545.3 1814.0,1544.8 1817.0,1544.4 1820.0,1543.9 1823.0,1543.4 1826.0,1543.0 1829.0,1542.5 1832.0,1542.1 1835.0,1541.6 1838.0,1541.2 1841.0,1540.7 1844.0,1540.3 1847.0,1539.9 1850.0,1539.4 1853.0,1539.0 1856.0,1538.6 1859.0,1538.2 1862.0,1537.8 1865.0,1537.4 1868.0,1537.0 1871.0,1536.6 1874.0,1536.3 1877.0,1535.9 1880.0,1535.5 1883.0,1535.2 1886.0,1534.9 1889.0,1534.5 1892.0,1534.2 1895.0,1533.9 1898.0,1533.6 1901.0,1533.3 1904.0,1533.0 1907.0,1532.7 1910.0,1532.5 1913.0,1532.2 1916.0,1531.9 1919.0,1531.7 1922.0,1531.4 1925.0,1531.2 1928.0,1530.9 1931.0,1530.7 1934.0,1530.5 1937.0,1530.4 1940.0,1530.2 1943.0,1530.1 1946.0,1530.0 1949.0,1530.0 1952.0,1530.0 1955.0,1530.0 1958.0,1530.0 1961.0,1530.1 1964.0,1530.2 1967.0,1530.3 1970.0,1530.4 1973.0,1530.6 1976.0,1530.8 1979.0,1531.0 1982.0,1531.3 1985.0,1531.6 1988.0,1531.9 1991.0,1532.2 1994.0,1532.5 1997.0,1532.9 2000.0,1533.3 2003.0,1533.7 2006.0,1534.2 2009.0,1534.6 2012.0,1535.1 2015.0,1535.6 2018.0,1536.2 2021.0,1536.7 2024.0,1537.3 2027.0,1537.9 2030.0,1538.5 2033.0,1539.2 2036.0,1539.8 2039.0,1540.4 2042.0,1541.1 2045.0,1541.8 2048.0,1542.4 2051.0,1543.1 2054.0,1543.8 2057.0,1544.5 2060.0,1545.2 2063.0,1545.9 2066.0,1546.6 2069.0,1547.3 2072.0,1547.9 2075.0,1548.6 2078.0,1549.2 2081.0,1549.9 2084.0,1550.5 2087.0,1551.1 2090.0,1551.7 2093.0,1552.3 2096.0,1552.9 2099.0,1553.5 2102.0,1554.1 2105.0,1554.6 2108.0,1555.2 2111.0,1555.7 2114.0,1556.3 2117.0,1556.8 2120.0,1557.3 2123.0,1557.9 2126.0,1558.4 2129.0,1558.9 2132.0,1559.3 2135.0,1559.8 2138.0,1560.3 2141.0,1560.7 2144.0,1561.2 2147.0,1561.6 2150.0,1562.0 2153.0,1562.4 2156.0,1562.8 2159.0,1563.2 2162.0,1563.5 2165.0,1563.9 2168.0,1564.3 2171.0,1564.6 2174.0,1564.9 2177.0,1565.2 2180.0,1565.5 2183.0,1565.8 2186.0,1566.1 2189.0,1566.4 2192.0,1566.7 2195.0,1566.9 2198.0,1567.1 2201.0,1567.4 2202.1,1567.6" fill="none" stroke="#000" stroke-width="3.8" stroke-linejoin="round" stroke-linecap="butt"/>
<path d="M1121.2,1684.7 1124.2,1684.3 1127.2,1683.9 1130.2,1683.5 1133.2,1683.1 1136.2,1682.7 1139.2,1682.3 1142.2,1681.9 1145.2,1681.5 1148.2,1681.1 1151.2,1680.7 1154.2,1680.3 1157.2,1679.8 1160.2,1679.4 1163.2,1678.9 1166.2,1678.4 1169.2,1677.9 1172.2,1677.4 1175.2,1676.8 1178.2,1676.3 1181.2,1675.8 1184.2,1675.2 1187.2,1674.7 1190.2,1674.1 1193.2,1673.5 1196.2,1673.0 1199.2,1672.4 1202.2,1671.9 1205.2,1671.3 1208.2,1670.8 1211.2,1670.3 1214.2,1669.7 1217.2,1669.2 1220.2,1668.7 1223.2,1668.1 1226.2,1667.6 1229.2,1667.1 1232.2,1666.6 1235.2,1666.1 1238.2,1665.6 1241.2,1665.2 1244.2,1664.7 1247.2,1664.3 1250.2,1663.9 1253.2,1663.5 1256.2,1663.2 1259.2,1662.9 1262.2,1662.6 1265.2,1662.3 1268.2,1662.1 1271.2,1661.9 1274.2,1661.7 1277.2,1661.6 1280.2,1661.5 1283.2,1661.4 1286.2,1661.3 1289.2,1661.3 1292.2,1661.2 1295.2,1661.2 1298.2,1661.2 1301.2,1661.3 1304.2,1661.3 1307.2,1661.4 1310.2,1661.5 1313.2,1661.7 1316.2,1661.8 1319.2,1662.0 1322.2,1662.3 1325.2,1662.6 1328.2,1662.9 1331.2,1663.3 1334.2,1663.7 1337.2,1664.1 1340.2,1664.6 1343.2,1665.1 1346.2,1665.5 1349.2,1666.0 1352.2,1666.5 1355.2,1667.0 1358.2,1667.5 1361.2,1668.0 1364.2,1668.5 1367.2,1669.1 1370.2,1669.6 1373.2,1670.1 1376.2,1670.6 1379.2,1671.1 1382.2,1671.6 1385.2,1672.1 1388.2,1672.6 1391.2,1673.1 1394.2,1673.6 1397.2,1674.0 1400.2,1674.5 1403.2,1675.0 1406.2,1675.4 1409.2,1675.8 1412.2,1676.3 1415.2,1676.7 1418.2,1677.1 1421.2,1677.4 1424.2,1677.8 1427.2,1678.2 1430.2,1678.5 1433.2,1678.8 1436.2,1679.1 1439.2,1679.4 1442.2,1679.7 1445.2,1679.9 1448.2,1680.2 1451.2,1680.4 1454.2,1680.7 1457.2,1680.9 1460.2,1681.1 1463.2,1681.3 1466.2,1681.5 1469.2,1681.7 1472.2,1681.9 1475.2,1682.0 1478.2,1682.2 1481.2,1682.3 1484.2,1682.4 1487.2,1682.5 1490.2,1682.6 1493.2,1682.7 1496.2,1682.8 1499.2,1682.9 1502.2,1682.9 1505.2,1683.0 1508.2,1683.0 1511.2,1683.0 1514.2,1683.1 1517.2,1683.1 1520.2,1683.1 1523.2,1683.2 1526.2,1683.2 1529.2,1683.2 1532.2,1683.2 1535.2,1683.2 1538.2,1683.2 1541.2,1683.2 1544.2,1683.1 1547.2,1683.1 1550.2,1683.0 1553.2,1682.9 1556.2,1682.8 1559.2,1682.7 1562.2,1682.5 1565.2,1682.4 1568.2,1682.2 1571.2,1682.0 1574.2,1681.9 1577.2,1681.7 1580.2,1681.5 1583.2,1681.3 1586.2,1681.1 1589.2,1680.9 1592.2,1680.7 1595.2,1680.5 1598.2,1680.3 1601.2,1680.1 1604.2,1679.9 1607.2,1679.7 1610.2,1679.5 1613.2,1679.3 1616.2,1679.1 1619.2,1678.9 1622.2,1678.7 1625.2,1678.5 1628.2,1678.3 1631.2,1678.1 1634.2,1678.0 1637.2,1677.8 1640.2,1677.6 1643.2,1677.4 1646.2,1677.2 1649.2,1677.0 1652.2,1676.8 1655.2,1676.6 1658.2,1676.4 1661.2,1676.2 1664.2,1676.0 1667.2,1675.8 1670.2,1675.6 1673.2,1675.4 1676.2,1675.2 1679.2,1675.0 1682.2,1674.8 1685.2,1674.6 1688.2,1674.4 1691.2,1674.2 1694.2,1674.0 1697.2,1673.9 1700.2,1673.7 1703.2,1673.5 1706.2,1673.3 1709.2,1673.1 1712.2,1672.9 1715.2,1672.6 1718.2,1672.4 1721.2,1672.1 1724.2,1671.8 1727.2,1671.6 1730.2,1671.2 1733.2,1670.9 1736.2,1670.6 1739.2,1670.2 1742.2,1669.9 1745.2,1669.5 1748.2,1669.1 1751.2,1668.7 1754.2,1668.3 1757.2,1667.9 1760.2,1667.4 1763.2,1667.0 1766.2,1666.6 1769.2,1666.1 1772.2,1665.7 1775.2,1665.2 1778.2,1664.7 1781.2,1664.3 1784.2,1663.8 1787.2,1663.4 1790.2,1662.9 1793.2,1662.5 1796.2,1662.0 1799.2,1661.6 1802.2,1661.1 1805.2,1660.7 1808.2,1660.2 1811.2,1659.8 1814.2,1659.3 1817.2,1658.9 1820.2,1658.4 1823.2,1658.0 1826.2,1657.6 1829.2,1657.1 1832.2,1656.7 1835.2,1656.2 1838.2,1655.8 1841.2,1655.3 1844.2,1654.8 1847.2,1654.3 1850.2,1653.8 1853.2,1653.2 1856.2,1652.7 1859.2,1652.1 1862.2,1651.5 1865.2,1650.9 1868.2,1650.3 1871.2,1649.7 1874.2,1649.1 1877.2,1648.5 1880.2,1647.9 1883.2,1647.2 1886.2,1646.6 1889.2,1646.0 1892.2,1645.4 1895.2,1644.8 1898.2,1644.2 1901.2,1643.6 1904.2,1643.0 1907.2,1642.4 1910.2,1641.9 1913.2,1641.3 1916.2,1640.8 1919.2,1640.3 1922.2,1639.8 1925.2,1639.3 1928.2,1638.8 1931.2,1638.4 1934.2,1637.9 1937.2,1637.5 1940.2,1637.1 1943.2,1636.7 1946.2,1636.4 1949.2,1636.1 1952.2,1635.7 1955.2,1635.4 1958.2,1635.2 1961.2,1634.9 1964.2,1634.7 1967.2,1634.5 1970.2,1634.3 1973.2,1634.1 1976.2,1633.9 1979.2,1633.8 1982.2,1633.7 1985.2,1633.6 1988.2,1633.6 1991.2,1633.5 1994.2,1633.5 1997.2,1633.5 2000.2,1633.6 2003.2,1633.6 2006.2,1633.7 2009.2,1633.8 2012.2,1634.0 2015.2,1634.2 2018.2,1634.4 2021.2,1634.6 2024.2,1634.9 2027.2,1635.2 2030.2,1635.5 2033.2,1635.8 2036.2,1636.2 2039.2,1636.7 2042.2,1637.1 2045.2,1637.7 2048.2,1638.2 2051.2,1638.8 2054.2,1639.4 2057.2,1640.1 2060.2,1640.8 2063.2,1641.5 2066.2,1642.3 2069.2,1643.0 2072.2,1643.8 2075.2,1644.6 2078.2,1645.4 2081.2,1646.3 2084.2,1647.1 2087.2,1648.0 2090.2,1648.9 2093.2,1649.8 2096.2,1650.7 2099.2,1651.7 2102.2,1652.6 2105.2,1653.6 2108.2,1654.6 2111.2,1655.6 2114.2,1656.6 2117.2,1657.7 2120.2,1658.7 2123.2,1659.8 2126.2,1660.9 2129.2,1661.9 2132.2,1662.9 2135.2,1663.9 2138.2,1664.9 2141.2,1665.9 2144.2,1666.8 2147.2,1667.7 2150.2,1668.6 2153.2,1669.5 2156.2,1670.4 2159.2,1671.2 2162.2,1672.0 2165.2,1672.8 2168.2,1673.5 2171.2,1674.2 2174.2,1674.9 2177.2,1675.6 2180.2,1676.3 2183.2,1676.9 2186.2,1677.5 2189.2,1678.1 2192.2,1678.6 2195.2,1679.1 2198.2,1679.6 2201.2,1680.0 2204.2,1680.4 2207.2,1680.8 2210.2,1681.2 2213.2,1681.5 2216.2,1681.8 2219.2,1682.0 2222.2,1682.3 2225.2,1682.5 2228.2,1682.8 2231.2,1683.0 2234.2,1683.2 2237.2,1683.4 2240.2,1683.6 2243.2,1683.8 2246.2,1684.0 2249.2,1684.2 2252.2,1684.4 2255.2,1684.6 2255.3,1684.7 L2255.3,1689.6 L1121.2,1689.6 Z" fill="#93aa00" fill-opacity="0.5"/>
<path d="M1121.2,1684.7 1124.2,1684.3 1127.2,1683.9 1130.2,1683.5 1133.2,1683.1 1136.2,1682.7 1139.2,1682.3 1142.2,1681.9 1145.2,1681.5 1148.2,1681.1 1151.2,1680.7 1154.2,1680.3 1157.2,1679.8 1160.2,1679.4 1163.2,1678.9 1166.2,1678.4 1169.2,1677.9 1172.2,1677.4 1175.2,1676.8 1178.2,1676.3 1181.2,1675.8 1184.2,1675.2 1187.2,1674.7 1190.2,1674.1 1193.2,1673.5 1196.2,1673.0 1199.2,1672.4 1202.2,1671.9 1205.2,1671.3 1208.2,1670.8 1211.2,1670.3 1214.2,1669.7 1217.2,1669.2 1220.2,1668.7 1223.2,1668.1 1226.2,1667.6 1229.2,1667.1 1232.2,1666.6 1235.2,1666.1 1238.2,1665.6 1241.2,1665.2 1244.2,1664.7 1247.2,1664.3 1250.2,1663.9 1253.2,1663.5 1256.2,1663.2 1259.2,1662.9 1262.2,1662.6 1265.2,1662.3 1268.2,1662.1 1271.2,1661.9 1274.2,1661.7 1277.2,1661.6 1280.2,1661.5 1283.2,1661.4 1286.2,1661.3 1289.2,1661.3 1292.2,1661.2 1295.2,1661.2 1298.2,1661.2 1301.2,1661.3 1304.2,1661.3 1307.2,1661.4 1310.2,1661.5 1313.2,1661.7 1316.2,1661.8 1319.2,1662.0 1322.2,1662.3 1325.2,1662.6 1328.2,1662.9 1331.2,1663.3 1334.2,1663.7 1337.2,1664.1 1340.2,1664.6 1343.2,1665.1 1346.2,1665.5 1349.2,1666.0 1352.2,1666.5 1355.2,1667.0 1358.2,1667.5 1361.2,1668.0 1364.2,1668.5 1367.2,1669.1 1370.2,1669.6 1373.2,1670.1 1376.2,1670.6 1379.2,1671.1 1382.2,1671.6 1385.2,1672.1 1388.2,1672.6 1391.2,1673.1 1394.2,1673.6 1397.2,1674.0 1400.2,1674.5 1403.2,1675.0 1406.2,1675.4 1409.2,1675.8 1412.2,1676.3 1415.2,1676.7 1418.2,1677.1 1421.2,1677.4 1424.2,1677.8 1427.2,1678.2 1430.2,1678.5 1433.2,1678.8 1436.2,1679.1 1439.2,1679.4 1442.2,1679.7 1445.2,1679.9 1448.2,1680.2 1451.2,1680.4 1454.2,1680.7 1457.2,1680.9 1460.2,1681.1 1463.2,1681.3 1466.2,1681.5 1469.2,1681.7 1472.2,1681.9 1475.2,1682.0 1478.2,1682.2 1481.2,1682.3 1484.2,1682.4 1487.2,1682.5 1490.2,1682.6 1493.2,1682.7 1496.2,1682.8 1499.2,1682.9 1502.2,1682.9 1505.2,1683.0 1508.2,1683.0 1511.2,1683.0 1514.2,1683.1 1517.2,1683.1 1520.2,1683.1 1523.2,1683.2 1526.2,1683.2 1529.2,1683.2 1532.2,1683.2 1535.2,1683.2 1538.2,1683.2 1541.2,1683.2 1544.2,1683.1 1547.2,1683.1 1550.2,1683.0 1553.2,1682.9 1556.2,1682.8 1559.2,1682.7 1562.2,1682.5 1565.2,1682.4 1568.2,1682.2 1571.2,1682.0 1574.2,1681.9 1577.2,1681.7 1580.2,1681.5 1583.2,1681.3 1586.2,1681.1 1589.2,1680.9 1592.2,1680.7 1595.2,1680.5 1598.2,1680.3 1601.2,1680.1 1604.2,1679.9 1607.2,1679.7 1610.2,1679.5 1613.2,1679.3 1616.2,1679.1 1619.2,1678.9 1622.2,1678.7 1625.2,1678.5 1628.2,1678.3 1631.2,1678.1 1634.2,1678.0 1637.2,1677.8 1640.2,1677.6 1643.2,1677.4 1646.2,1677.2 1649.2,1677.0 1652.2,1676.8 1655.2,1676.6 1658.2,1676.4 1661.2,1676.2 1664.2,1676.0 1667.2,1675.8 1670.2,1675.6 1673.2,1675.4 1676.2,1675.2 1679.2,1675.0 1682.2,1674.8 1685.2,1674.6 1688.2,1674.4 1691.2,1674.2 1694.2,1674.0 1697.2,1673.9 1700.2,1673.7 1703.2,1673.5 1706.2,1673.3 1709.2,1673.1 1712.2,1672.9 1715.2,1672.6 1718.2,1672.4 1721.2,1672.1 1724.2,1671.8 1727.2,1671.6 1730.2,1671.2 1733.2,1670.9 1736.2,1670.6 1739.2,1670.2 1742.2,1669.9 1745.2,1669.5 1748.2,1669.1 1751.2,1668.7 1754.2,1668.3 1757.2,1667.9 1760.2,1667.4 1763.2,1667.0 1766.2,1666.6 1769.2,1666.1 1772.2,1665.7 1775.2,1665.2 1778.2,1664.7 1781.2,1664.3 1784.2,1663.8 1787.2,1663.4 1790.2,1662.9 1793.2,1662.5 1796.2,1662.0 1799.2,1661.6 1802.2,1661.1 1805.2,1660.7 1808.2,1660.2 1811.2,1659.8 1814.2,1659.3 1817.2,1658.9 1820.2,1658.4 1823.2,1658.0 1826.2,1657.6 1829.2,1657.1 1832.2,1656.7 1835.2,1656.2 1838.2,1655.8 1841.2,1655.3 1844.2,1654.8 1847.2,1654.3 1850.2,1653.8 1853.2,1653.2 1856.2,1652.7 1859.2,1652.1 1862.2,1651.5 1865.2,1650.9 1868.2,1650.3 1871.2,1649.7 1874.2,1649.1 1877.2,1648.5 1880.2,1647.9 1883.2,1647.2 1886.2,1646.6 1889.2,1646.0 1892.2,1645.4 1895.2,1644.8 1898.2,1644.2 1901.2,1643.6 1904.2,1643.0 1907.2,1642.4 1910.2,1641.9 1913.2,1641.3 1916.2,1640.8 1919.2,1640.3 1922.2,1639.8 1925.2,1639.3 1928.2,1638.8 1931.2,1638.4 1934.2,1637.9 1937.2,1637.5 1940.2,1637.1 1943.2,1636.7 1946.2,1636.4 1949.2,1636.1 1952.2,1635.7 1955.2,1635.4 1958.2,1635.2 1961.2,1634.9 1964.2,1634.7 1967.2,1634.5 1970.2,1634.3 1973.2,1634.1 1976.2,1633.9 1979.2,1633.8 1982.2,1633.7 1985.2,1633.6 1988.2,1633.6 1991.2,1633.5 1994.2,1633.5 1997.2,1633.5 2000.2,1633.6 2003.2,1633.6 2006.2,1633.7 2009.2,1633.8 2012.2,1634.0 2015.2,1634.2 2018.2,1634.4 2021.2,1634.6 2024.2,1634.9 2027.2,1635.2 2030.2,1635.5 2033.2,1635.8 2036.2,1636.2 2039.2,1636.7 2042.2,1637.1 2045.2,1637.7 2048.2,1638.2 2051.2,1638.8 2054.2,1639.4 2057.2,1640.1 2060.2,1640.8 2063.2,1641.5 2066.2,1642.3 2069.2,1643.0 2072.2,1643.8 2075.2,1644.6 2078.2,1645.4 2081.2,1646.3 2084.2,1647.1 2087.2,1648.0 2090.2,1648.9 2093.2,1649.8 2096.2,1650.7 2099.2,1651.7 2102.2,1652.6 2105.2,1653.6 2108.2,1654.6 2111.2,1655.6 2114.2,1656.6 2117.2,1657.7 2120.2,1658.7 2123.2,1659.8 2126.2,1660.9 2129.2,1661.9 2132.2,1662.9 2135.2,1663.9 2138.2,1664.9 2141.2,1665.9 2144.2,1666.8 2147.2,1667.7 2150.2,1668.6 2153.2,1669.5 2156.2,1670.4 2159.2,1671.2 2162.2,1672.0 2165.2,1672.8 2168.2,1673.5 2171.2,1674.2 2174.2,1674.9 2177.2,1675.6 2180.2,1676.3 2183.2,1676.9 2186.2,1677.5 2189.2,1678.1 2192.2,1678.6 2195.2,1679.1 2198.2,1679.6 2201.2,1680.0 2204.2,1680.4 2207.2,1680.8 2210.2,1681.2 2213.2,1681.5 2216.2,1681.8 2219.2,1682.0 2222.2,1682.3 2225.2,1682.5 2228.2,1682.8 2231.2,1683.0 2234.2,1683.2 2237.2,1683.4 2240.2,1683.6 2243.2,1683.8 2246.2,1684.0 2249.2,1684.2 2252.2,1684.4 2255.2,1684.6 2255.3,1684.7" fill="none" stroke="#000" stroke-width="3.8" stroke-linejoin="round" stroke-linecap="butt"/>
<path d="M1097.0,1801.2 1100.0,1800.8 1103.0,1800.4 1106.0,1799.9 1109.0,1799.5 1112.0,1799.1 1115.0,1798.6 1118.0,1798.2 1121.0,1797.7 1124.0,1797.2 1127.0,1796.6 1130.0,1796.0 1133.0,1795.4 1136.0,1794.8 1139.0,1794.1 1142.0,1793.4 1145.0,1792.6 1148.0,1791.9 1151.0,1791.1 1154.0,1790.3 1157.0,1789.5 1160.0,1788.7 1163.0,1787.8 1166.0,1787.0 1169.0,1786.1 1172.0,1785.2 1175.0,1784.3 1178.0,1783.4 1181.0,1782.5 1184.0,1781.6 1187.0,1780.7 1190.0,1779.8 1193.0,1778.9 1196.0,1777.9 1199.0,1777.0 1202.0,1776.1 1205.0,1775.2 1208.0,1774.3 1211.0,1773.4 1214.0,1772.5 1217.0,1771.6 1220.0,1770.7 1223.0,1769.8 1226.0,1769.0 1229.0,1768.1 1232.0,1767.2 1235.0,1766.4 1238.0,1765.5 1241.0,1764.7 1244.0,1763.9 1247.0,1763.1 1250.0,1762.3 1253.0,1761.6 1256.0,1760.9 1259.0,1760.3 1262.0,1759.7 1265.0,1759.2 1268.0,1758.7 1271.0,1758.2 1274.0,1757.8 1277.0,1757.4 1280.0,1757.1 1283.0,1756.8 1286.0,1756.5 1289.0,1756.3 1292.0,1756.2 1295.0,1756.1 1298.0,1756.0 1301.0,1756.0 1304.0,1756.0 1307.0,1756.1 1310.0,1756.2 1313.0,1756.4 1316.0,1756.6 1319.0,1756.9 1322.0,1757.2 1325.0,1757.6 1328.0,1758.1 1331.0,1758.6 1334.0,1759.2 1337.0,1759.8 1340.0,1760.5 1343.0,1761.2 1346.0,1761.9 1349.0,1762.6 1352.0,1763.4 1355.0,1764.2 1358.0,1765.0 1361.0,1765.9 1364.0,1766.7 1367.0,1767.6 1370.0,1768.5 1373.0,1769.4 1376.0,1770.3 1379.0,1771.3 1382.0,1772.2 1385.0,1773.1 1388.0,1774.0 1391.0,1774.9 1394.0,1775.9 1397.0,1776.8 1400.0,1777.7 1403.0,1778.6 1406.0,1779.5 1409.0,1780.4 1412.0,1781.3 1415.0,1782.1 1418.0,1783.0 1421.0,1783.8 1424.0,1784.6 1427.0,1785.4 1430.0,1786.2 1433.0,1787.0 1436.0,1787.8 1439.0,1788.5 1442.0,1789.2 1445.0,1789.9 1448.0,1790.6 1451.0,1791.3 1454.0,1791.9 1457.0,1792.6 1460.0,1793.2 1463.0,1793.8 1466.0,1794.3 1469.0,1794.9 1472.0,1795.4 1475.0,1795.9 1478.0,1796.4 1481.0,1796.8 1484.0,1797.2 1487.0,1797.5 1490.0,1797.8 1493.0,1798.1 1496.0,1798.4 1499.0,1798.6 1502.0,1798.8 1505.0,1799.0 1508.0,1799.2 1511.0,1799.3 1514.0,1799.4 1517.0,1799.5 1520.0,1799.6 1523.0,1799.7 1526.0,1799.7 1529.0,1799.8 1532.0,1799.8 1535.0,1799.8 1538.0,1799.7 1541.0,1799.7 1544.0,1799.6 1547.0,1799.5 1550.0,1799.4 1553.0,1799.3 1556.0,1799.1 1559.0,1798.9 1562.0,1798.7 1565.0,1798.5 1568.0,1798.3 1571.0,1798.1 1574.0,1797.9 1577.0,1797.6 1580.0,1797.4 1583.0,1797.2 1586.0,1796.9 1589.0,1796.7 1592.0,1796.5 1595.0,1796.2 1598.0,1796.0 1601.0,1795.7 1604.0,1795.5 1607.0,1795.2 1610.0,1795.0 1613.0,1794.7 1616.0,1794.4 1619.0,1794.2 1622.0,1793.9 1625.0,1793.6 1628.0,1793.3 1631.0,1793.0 1634.0,1792.7 1637.0,1792.4 1640.0,1792.1 1643.0,1791.7 1646.0,1791.4 1649.0,1791.1 1652.0,1790.7 1655.0,1790.4 1658.0,1790.0 1661.0,1789.7 1664.0,1789.3 1667.0,1788.9 1670.0,1788.6 1673.0,1788.2 1676.0,1787.8 1679.0,1787.5 1682.0,1787.1 1685.0,1786.7 1688.0,1786.3 1691.0,1786.0 1694.0,1785.6 1697.0,1785.2 1700.0,1784.8 1703.0,1784.4 1706.0,1784.0 1709.0,1783.6 1712.0,1783.2 1715.0,1782.8 1718.0,1782.4 1721.0,1782.0 1724.0,1781.5 1727.0,1781.1 1730.0,1780.6 1733.0,1780.1 1736.0,1779.6 1739.0,1779.2 1742.0,1778.7 1745.0,1778.2 1748.0,1777.7 1751.0,1777.2 1754.0,1776.7 1757.0,1776.3 1760.0,1775.8 1763.0,1775.3 1766.0,1774.9 1769.0,1774.4 1772.0,1774.0 1775.0,1773.5 1778.0,1773.1 1781.0,1772.7 1784.0,1772.3 1787.0,1771.9 1790.0,1771.6 1793.0,1771.2 1796.0,1770.9 1799.0,1770.6 1802.0,1770.3 1805.0,1770.0 1808.0,1769.7 1811.0,1769.5 1814.0,1769.2 1817.0,1769.0 1820.0,1768.8 1823.0,1768.5 1826.0,1768.3 1829.0,1768.2 1832.0,1768.0 1835.0,1767.8 1838.0,1767.7 1841.0,1767.6 1844.0,1767.5 1847.0,1767.5 1850.0,1767.5 1853.0,1767.5 1856.0,1767.6 1859.0,1767.7 1862.0,1767.8 1865.0,1767.9 1868.0,1768.1 1871.0,1768.3 1874.0,1768.5 1877.0,1768.7 1880.0,1768.9 1883.0,1769.1 1886.0,1769.4 1889.0,1769.7 1892.0,1769.9 1895.0,1770.2 1898.0,1770.5 1901.0,1770.8 1904.0,1771.1 1907.0,1771.5 1910.0,1771.8 1913.0,1772.2 1916.0,1772.5 1919.0,1772.9 1922.0,1773.3 1925.0,1773.6 1928.0,1774.0 1931.0,1774.4 1934.0,1774.8 1937.0,1775.2 1940.0,1775.6 1943.0,1776.0 1946.0,1776.4 1949.0,1776.7 1952.0,1777.1 1955.0,1777.5 1958.0,1777.8 1961.0,1778.2 1964.0,1778.6 1967.0,1778.9 1970.0,1779.3 1973.0,1779.6 1976.0,1780.0 1979.0,1780.4 1982.0,1780.8 1985.0,1781.2 1988.0,1781.5 1991.0,1781.9 1994.0,1782.3 1997.0,1782.7 2000.0,1783.1 2003.0,1783.5 2006.0,1783.9 2009.0,1784.3 2012.0,1784.6 2015.0,1785.0 2018.0,1785.4 2021.0,1785.8 2024.0,1786.1 2027.0,1786.5 2030.0,1786.8 2033.0,1787.2 2036.0,1787.5 2039.0,1787.9 2042.0,1788.2 2045.0,1788.5 2048.0,1788.9 2051.0,1789.2 2054.0,1789.5 2057.0,1789.8 2060.0,1790.1 2063.0,1790.4 2066.0,1790.7 2069.0,1791.0 2072.0,1791.3 2075.0,1791.6 2078.0,1791.9 2081.0,1792.2 2084.0,1792.5 2087.0,1792.8 2090.0,1793.1 2093.0,1793.4 2096.0,1793.7 2099.0,1794.0 2102.0,1794.3 2105.0,1794.6 2108.0,1794.9 2111.0,1795.2 2114.0,1795.5 2117.0,1795.8 2120.0,1796.1 2123.0,1796.4 2126.0,1796.7 2129.0,1797.0 2132.0,1797.3 2135.0,1797.6 2138.0,1797.8 2141.0,1798.1 2144.0,1798.4 2147.0,1798.7 2150.0,1798.9 2153.0,1799.2 2156.0,1799.4 2159.0,1799.7 2162.0,1800.0 2165.0,1800.2 2168.0,1800.5 2171.0,1800.7 2174.0,1800.9 2177.0,1801.2 2180.0,1801.4 2183.0,1801.6 2184.3,1801.8 L2184.3,1806.7 L1097.0,1806.7 Z" fill="#b79f00" fill-opacity="0.5"/>
<path d="M1097.0,1801.2 1100.0,1800.8 1103.0,1800.4 1106.0,1799.9 1109.0,1799.5 1112.0,1799.1 1115.0,1798.6 1118.0,1798.2 1121.0,1797.7 1124.0,1797.2 1127.0,1796.6 1130.0,1796.0 1133.0,1795.4 1136.0,1794.8 1139.0,1794.1 1142.0,1793.4 1145.0,1792.6 1148.0,1791.9 1151.0,1791.1 1154.0,1790.3 1157.0,1789.5 1160.0,1788.7 1163.0,1787.8 1166.0,1787.0 1169.0,1786.1 1172.0,1785.2 1175.0,1784.3 1178.0,1783.4 1181.0,1782.5 1184.0,1781.6 1187.0,1780.7 1190.0,1779.8 1193.0,1778.9 1196.0,1777.9 1199.0,1777.0 1202.0,1776.1 1205.0,1775.2 1208.0,1774.3 1211.0,1773.4 1214.0,1772.5 1217.0,1771.6 1220.0,1770.7 1223.0,1769.8 1226.0,1769.0 1229.0,1768.1 1232.0,1767.2 1235.0,1766.4 1238.0,1765.5 1241.0,1764.7 1244.0,1763.9 1247.0,1763.1 1250.0,1762.3 1253.0,1761.6 1256.0,1760.9 1259.0,1760.3 1262.0,1759.7 1265.0,1759.2 1268.0,1758.7 1271.0,1758.2 1274.0,1757.8 1277.0,1757.4 1280.0,1757.1 1283.0,1756.8 1286.0,1756.5 1289.0,1756.3 1292.0,1756.2 1295.0,1756.1 1298.0,1756.0 1301.0,1756.0 1304.0,1756.0 1307.0,1756.1 1310.0,1756.2 1313.0,1756.4 1316.0,1756.6 1319.0,1756.9 1322.0,1757.2 1325.0,1757.6 1328.0,1758.1 1331.0,1758.6 1334.0,1759.2 1337.0,1759.8 1340.0,1760.5 1343.0,1761.2 1346.0,1761.9 1349.0,1762.6 1352.0,1763.4 1355.0,1764.2 1358.0,1765.0 1361.0,1765.9 1364.0,1766.7 1367.0,1767.6 1370.0,1768.5 1373.0,1769.4 1376.0,1770.3 1379.0,1771.3 1382.0,1772.2 1385.0,1773.1 1388.0,1774.0 1391.0,1774.9 1394.0,1775.9 1397.0,1776.8 1400.0,1777.7 1403.0,1778.6 1406.0,1779.5 1409.0,1780.4 1412.0,1781.3 1415.0,1782.1 1418.0,1783.0 1421.0,1783.8 1424.0,1784.6 1427.0,1785.4 1430.0,1786.2 1433.0,1787.0 1436.0,1787.8 1439.0,1788.5 1442.0,1789.2 1445.0,1789.9 1448.0,1790.6 1451.0,1791.3 1454.0,1791.9 1457.0,1792.6 1460.0,1793.2 1463.0,1793.8 1466.0,1794.3 1469.0,1794.9 1472.0,1795.4 1475.0,1795.9 1478.0,1796.4 1481.0,1796.8 1484.0,1797.2 1487.0,1797.5 1490.0,1797.8 1493.0,1798.1 1496.0,1798.4 1499.0,1798.6 1502.0,1798.8 1505.0,1799.0 1508.0,1799.2 1511.0,1799.3 1514.0,1799.4 1517.0,1799.5 1520.0,1799.6 1523.0,1799.7 1526.0,1799.7 1529.0,1799.8 1532.0,1799.8 1535.0,1799.8 1538.0,1799.7 1541.0,1799.7 1544.0,1799.6 1547.0,1799.5 1550.0,1799.4 1553.0,1799.3 1556.0,1799.1 1559.0,1798.9 1562.0,1798.7 1565.0,1798.5 1568.0,1798.3 1571.0,1798.1 1574.0,1797.9 1577.0,1797.6 1580.0,1797.4 1583.0,1797.2 1586.0,1796.9 1589.0,1796.7 1592.0,1796.5 1595.0,1796.2 1598.0,1796.0 1601.0,1795.7 1604.0,1795.5 1607.0,1795.2 1610.0,1795.0 1613.0,1794.7 1616.0,1794.4 1619.0,1794.2 1622.0,1793.9 1625.0,1793.6 1628.0,1793.3 1631.0,1793.0 1634.0,1792.7 1637.0,1792.4 1640.0,1792.1 1643.0,1791.7 1646.0,1791.4 1649.0,1791.1 1652.0,1790.7 1655.0,1790.4 1658.0,1790.0 1661.0,1789.7 1664.0,1789.3 1667.0,1788.9 1670.0,1788.6 1673.0,1788.2 1676.0,1787.8 1679.0,1787.5 1682.0,1787.1 1685.0,1786.7 1688.0,1786.3 1691.0,1786.0 1694.0,1785.6 1697.0,1785.2 1700.0,1784.8 1703.0,1784.4 1706.0,1784.0 1709.0,1783.6 1712.0,1783.2 1715.0,1782.8 1718.0,1782.4 1721.0,1782.0 1724.0,1781.5 1727.0,1781.1 1730.0,1780.6 1733.0,1780.1 1736.0,1779.6 1739.0,1779.2 1742.0,1778.7 1745.0,1778.2 1748.0,1777.7 1751.0,1777.2 1754.0,1776.7 1757.0,1776.3 1760.0,1775.8 1763.0,1775.3 1766.0,1774.9 1769.0,1774.4 1772.0,1774.0 1775.0,1773.5 1778.0,1773.1 1781.0,1772.7 1784.0,1772.3 1787.0,1771.9 1790.0,1771.6 1793.0,1771.2 1796.0,1770.9 1799.0,1770.6 1802.0,1770.3 1805.0,1770.0 1808.0,1769.7 1811.0,1769.5 1814.0,1769.2 1817.0,1769.0 1820.0,1768.8 1823.0,1768.5 1826.0,1768.3 1829.0,1768.2 1832.0,1768.0 1835.0,1767.8 1838.0,1767.7 1841.0,1767.6 1844.0,1767.5 1847.0,1767.5 1850.0,1767.5 1853.0,1767.5 1856.0,1767.6 1859.0,1767.7 1862.0,1767.8 1865.0,1767.9 1868.0,1768.1 1871.0,1768.3 1874.0,1768.5 1877.0,1768.7 1880.0,1768.9 1883.0,1769.1 1886.0,1769.4 1889.0,1769.7 1892.0,1769.9 1895.0,1770.2 1898.0,1770.5 1901.0,1770.8 1904.0,1771.1 1907.0,1771.5 1910.0,1771.8 1913.0,1772.2 1916.0,1772.5 1919.0,1772.9 1922.0,1773.3 1925.0,1773.6 1928.0,1774.0 1931.0,1774.4 1934.0,1774.8 1937.0,1775.2 1940.0,1775.6 1943.0,1776.0 1946.0,1776.4 1949.0,1776.7 1952.0,1777.1 1955.0,1777.5 1958.0,1777.8 1961.0,1778.2 1964.0,1778.6 1967.0,1778.9 1970.0,1779.3 1973.0,1779.6 1976.0,1780.0 1979.0,1780.4 1982.0,1780.8 1985.0,1781.2 1988.0,1781.5 1991.0,1781.9 1994.0,1782.3 1997.0,1782.7 2000.0,1783.1 2003.0,1783.5 2006.0,1783.9 2009.0,1784.3 2012.0,1784.6 2015.0,1785.0 2018.0,1785.4 2021.0,1785.8 2024.0,1786.1 2027.0,1786.5 2030.0,1786.8 2033.0,1787.2 2036.0,1787.5 2039.0,1787.9 2042.0,1788.2 2045.0,1788.5 2048.0,1788.9 2051.0,1789.2 2054.0,1789.5 2057.0,1789.8 2060.0,1790.1 2063.0,1790.4 2066.0,1790.7 2069.0,1791.0 2072.0,1791.3 2075.0,1791.6 2078.0,1791.9 2081.0,1792.2 2084.0,1792.5 2087.0,1792.8 2090.0,1793.1 2093.0,1793.4 2096.0,1793.7 2099.0,1794.0 2102.0,1794.3 2105.0,1794.6 2108.0,1794.9 2111.0,1795.2 2114.0,1795.5 2117.0,1795.8 2120.0,1796.1 2123.0,1796.4 2126.0,1796.7 2129.0,1797.0 2132.0,1797.3 2135.0,1797.6 2138.0,1797.8 2141.0,1798.1 2144.0,1798.4 2147.0,1798.7 2150.0,1798.9 2153.0,1799.2 2156.0,1799.4 2159.0,1799.7 2162.0,1800.0 2165.0,1800.2 2168.0,1800.5 2171.0,1800.7 2174.0,1800.9 2177.0,1801.2 2180.0,1801.4 2183.0,1801.6 2184.3,1801.8" fill="none" stroke="#000" stroke-width="3.8" stroke-linejoin="round" stroke-linecap="butt"/>
<path d="M1195.4,1919.6 1198.4,1919.4 1201.4,1919.2 1204.4,1918.9 1207.4,1918.7 1210.4,1918.5 1213.4,1918.2 1216.4,1918.0 1219.4,1917.8 1222.4,1917.6 1225.4,1917.4 1228.4,1917.2 1231.4,1917.0 1234.4,1916.9 1237.4,1916.7 1240.4,1916.5 1243.4,1916.4 1246.4,1916.2 1249.4,1916.1 1252.4,1916.0 1255.4,1915.9 1258.4,1915.8 1261.4,1915.7 1264.4,1915.6 1267.4,1915.5 1270.4,1915.4 1273.4,1915.4 1276.4,1915.3 1279.4,1915.2 1282.4,1915.2 1285.4,1915.2 1288.4,1915.1 1291.4,1915.1 1294.4,1915.1 1297.4,1915.1 1300.4,1915.1 1303.4,1915.1 1306.4,1915.2 1309.4,1915.2 1312.4,1915.2 1315.4,1915.3 1318.4,1915.3 1321.4,1915.4 1324.4,1915.4 1327.4,1915.5 1330.4,1915.5 1333.4,1915.6 1336.4,1915.7 1339.4,1915.8 1342.4,1915.8 1345.4,1915.9 1348.4,1916.0 1351.4,1916.1 1354.4,1916.2 1357.4,1916.3 1360.4,1916.4 1363.4,1916.5 1366.4,1916.6 1369.4,1916.7 1372.4,1916.8 1375.4,1916.9 1378.4,1917.0 1381.4,1917.1 1384.4,1917.2 1387.4,1917.4 1390.4,1917.5 1393.4,1917.6 1396.4,1917.8 1399.4,1917.9 1402.4,1918.1 1405.4,1918.2 1408.4,1918.4 1411.4,1918.5 1414.4,1918.7 1417.4,1918.9 1420.4,1919.0 1423.4,1919.2 1426.4,1919.3 1429.4,1919.5 1431.4,1919.6 L1431.4,1923.8 L1195.4,1923.8 Z" fill="#d39200" fill-opacity="0.5"/>
<path d="M1195.4,1919.6 1198.4,1919.4 1201.4,1919.2 1204.4,1918.9 1207.4,1918.7 1210.4,1918.5 1213.4,1918.2 1216.4,1918.0 1219.4,1917.8 1222.4,1917.6 1225.4,1917.4 1228.4,1917.2 1231.4,1917.0 1234.4,1916.9 1237.4,1916.7 1240.4,1916.5 1243.4,1916.4 1246.4,1916.2 1249.4,1916.1 1252.4,1916.0 1255.4,1915.9 1258.4,1915.8 1261.4,1915.7 1264.4,1915.6 1267.4,1915.5 1270.4,1915.4 1273.4,1915.4 1276.4,1915.3 1279.4,1915.2 1282.4,1915.2 1285.4,1915.2 1288.4,1915.1 1291.4,1915.1 1294.4,1915.1 1297.4,1915.1 1300.4,1915.1 1303.4,1915.1 1306.4,1915.2 1309.4,1915.2 1312.4,1915.2 1315.4,1915.3 1318.4,1915.3 1321.4,1915.4 1324.4,1915.4 1327.4,1915.5 1330.4,1915.5 1333.4,1915.6 1336.4,1915.7 1339.4,1915.8 1342.4,1915.8 1345.4,1915.9 1348.4,1916.0 1351.4,1916.1 1354.4,1916.2 1357.4,1916.3 1360.4,1916.4 1363.4,1916.5 1366.4,1916.6 1369.4,1916.7 1372.4,1916.8 1375.4,1916.9 1378.4,1917.0 1381.4,1917.1 1384.4,1917.2 1387.4,1917.4 1390.4,1917.5 1393.4,1917.6 1396.4,1917.8 1399.4,1917.9 1402.4,1918.1 1405.4,1918.2 1408.4,1918.4 1411.4,1918.5 1414.4,1918.7 1417.4,1918.9 1420.4,1919.0 1423.4,1919.2 1426.4,1919.3 1429.4,1919.5 1431.4,1919.6" fill="none" stroke="#000" stroke-width="3.8" stroke-linejoin="round" stroke-linecap="butt"/>
<path d="M1456.5,1919.6 1459.5,1919.4 1462.5,1919.2 1465.5,1918.9 1468.5,1918.7 1471.5,1918.5 1474.5,1918.3 1477.5,1918.1 1480.5,1917.8 1483.5,1917.6 1486.5,1917.4 1489.5,1917.2 1492.5,1917.0 1495.5,1916.7 1498.5,1916.5 1501.5,1916.3 1504.5,1916.1 1507.5,1915.8 1510.5,1915.6 1513.5,1915.4 1516.5,1915.2 1519.5,1914.9 1522.5,1914.7 1525.5,1914.5 1528.5,1914.2 1531.5,1914.0 1534.5,1913.7 1537.5,1913.5 1540.5,1913.2 1543.5,1912.9 1546.5,1912.6 1549.5,1912.3 1552.5,1912.0 1555.5,1911.6 1558.5,1911.3 1561.5,1910.9 1564.5,1910.5 1567.5,1910.2 1570.5,1909.8 1573.5,1909.4 1576.5,1909.0 1579.5,1908.5 1582.5,1908.1 1585.5,1907.7 1588.5,1907.2 1591.5,1906.8 1594.5,1906.4 1597.5,1905.9 1600.5,1905.4 1603.5,1905.0 1606.5,1904.5 1609.5,1904.0 1612.5,1903.5 1615.5,1903.0 1618.5,1902.5 1621.5,1902.0 1624.5,1901.5 1627.5,1901.0 1630.5,1900.5 1633.5,1900.0 1636.5,1899.5 1639.5,1899.0 1642.5,1898.5 1645.5,1898.0 1648.5,1897.6 1651.5,1897.1 1654.5,1896.6 1657.5,1896.2 1660.5,1895.7 1663.5,1895.3 1666.5,1894.8 1669.5,1894.3 1672.5,1893.8 1675.5,1893.3 1678.5,1892.8 1681.5,1892.3 1684.5,1891.7 1687.5,1891.2 1690.5,1890.6 1693.5,1890.0 1696.5,1889.5 1699.5,1888.9 1702.5,1888.3 1705.5,1887.8 1708.5,1887.2 1711.5,1886.7 1714.5,1886.2 1717.5,1885.7 1720.5,1885.3 1723.5,1884.9 1726.5,1884.5 1729.5,1884.1 1732.5,1883.8 1735.5,1883.4 1738.5,1883.1 1741.5,1882.8 1744.5,1882.6 1747.5,1882.3 1750.5,1882.0 1753.5,1881.8 1756.5,1881.5 1759.5,1881.3 1762.5,1881.0 1765.5,1880.8 1768.5,1880.5 1771.5,1880.3 1774.5,1880.1 1777.5,1879.8 1780.5,1879.6 1783.5,1879.4 1786.5,1879.2 1789.5,1879.0 1792.5,1878.7 1795.5,1878.5 1798.5,1878.3 1801.5,1878.1 1804.5,1877.9 1807.5,1877.7 1810.5,1877.5 1813.5,1877.3 1816.5,1877.0 1819.5,1876.8 1822.5,1876.6 1825.5,1876.4 1828.5,1876.2 1831.5,1876.0 1834.5,1875.8 1837.5,1875.6 1840.5,1875.4 1843.5,1875.2 1846.5,1875.0 1849.5,1874.8 1852.5,1874.6 1855.5,1874.4 1858.5,1874.2 1861.5,1874.0 1864.5,1873.8 1867.5,1873.7 1870.5,1873.5 1873.5,1873.3 1876.5,1873.1 1879.5,1873.0 1882.5,1872.8 1885.5,1872.6 1888.5,1872.5 1891.5,1872.3 1894.5,1872.1 1897.5,1872.0 1900.5,1871.9 1903.5,1871.7 1906.5,1871.6 1909.5,1871.5 1912.5,1871.4 1915.5,1871.2 1918.5,1871.2 1921.5,1871.1 1924.5,1871.0 1927.5,1870.9 1930.5,1870.8 1933.5,1870.8 1936.5,1870.7 1939.5,1870.7 1942.5,1870.7 1945.5,1870.6 1948.5,1870.6 1951.5,1870.6 1954.5,1870.5 1957.5,1870.5 1960.5,1870.5 1963.5,1870.5 1966.5,1870.5 1969.5,1870.6 1972.5,1870.6 1975.5,1870.7 1978.5,1870.8 1981.5,1870.9 1984.5,1871.0 1987.5,1871.2 1990.5,1871.3 1993.5,1871.5 1996.5,1871.7 1999.5,1872.0 2002.5,1872.3 2005.5,1872.6 2008.5,1872.9 2011.5,1873.3 2014.5,1873.7 2017.5,1874.1 2020.5,1874.6 2023.5,1875.1 2026.5,1875.6 2029.5,1876.2 2032.5,1876.8 2035.5,1877.4 2038.5,1878.0 2041.5,1878.6 2044.5,1879.3 2047.5,1879.9 2050.5,1880.6 2053.5,1881.4 2056.5,1882.1 2059.5,1882.8 2062.5,1883.6 2065.5,1884.4 2068.5,1885.2 2071.5,1885.9 2074.5,1886.7 2077.5,1887.6 2080.5,1888.4 2083.5,1889.2 2086.5,1890.0 2089.5,1890.9 2092.5,1891.7 2095.5,1892.5 2098.5,1893.4 2101.5,1894.2 2104.5,1895.0 2107.5,1895.8 2110.5,1896.6 2113.5,1897.4 2116.5,1898.2 2119.5,1899.0 2122.5,1899.7 2125.5,1900.5 2128.5,1901.2 2131.5,1901.9 2134.5,1902.6 2137.5,1903.3 2140.5,1904.0 2143.5,1904.7 2146.5,1905.3 2149.5,1905.9 2152.5,1906.6 2155.5,1907.2 2158.5,1907.8 2161.5,1908.3 2164.5,1908.9 2167.5,1909.5 2170.5,1910.0 2173.5,1910.5 2176.5,1911.0 2179.5,1911.5 2182.5,1912.0 2185.5,1912.5 2188.5,1912.9 2191.5,1913.4 2194.5,1913.8 2197.5,1914.2 2200.5,1914.6 2203.5,1914.9 2206.5,1915.3 2209.5,1915.6 2212.5,1916.0 2215.5,1916.3 2218.5,1916.6 2221.5,1916.9 2224.5,1917.2 2227.5,1917.4 2230.5,1917.7 2233.5,1918.0 2236.5,1918.2 2239.5,1918.5 2242.5,1918.7 2244.0,1919.0 L2244.0,1923.8 L1456.5,1923.8 Z" fill="#d39200" fill-opacity="0.5"/>
<path d="M1456.5,1919.6 1459.5,1919.4 1462.5,1919.2 1465.5,1918.9 1468.5,1918.7 1471.5,1918.5 1474.5,1918.3 1477.5,1918.1 1480.5,1917.8 1483.5,1917.6 1486.5,1917.4 1489.5,1917.2 1492.5,1917.0 1495.5,1916.7 1498.5,1916.5 1501.5,1916.3 1504.5,1916.1 1507.5,1915.8 1510.5,1915.6 1513.5,1915.4 1516.5,1915.2 1519.5,1914.9 1522.5,1914.7 1525.5,1914.5 1528.5,1914.2 1531.5,1914.0 1534.5,1913.7 1537.5,1913.5 1540.5,1913.2 1543.5,1912.9 1546.5,1912.6 1549.5,1912.3 1552.5,1912.0 1555.5,1911.6 1558.5,1911.3 1561.5,1910.9 1564.5,1910.5 1567.5,1910.2 1570.5,1909.8 1573.5,1909.4 1576.5,1909.0 1579.5,1908.5 1582.5,1908.1 1585.5,1907.7 1588.5,1907.2 1591.5,1906.8 1594.5,1906.4 1597.5,1905.9 1600.5,1905.4 1603.5,1905.0 1606.5,1904.5 1609.5,1904.0 1612.5,1903.5 1615.5,1903.0 1618.5,1902.5 1621.5,1902.0 1624.5,1901.5 1627.5,1901.0 1630.5,1900.5 1633.5,1900.0 1636.5,1899.5 1639.5,1899.0 1642.5,1898.5 1645.5,1898.0 1648.5,1897.6 1651.5,1897.1 1654.5,1896.6 1657.5,1896.2 1660.5,1895.7 1663.5,1895.3 1666.5,1894.8 1669.5,1894.3 1672.5,1893.8 1675.5,1893.3 1678.5,1892.8 1681.5,1892.3 1684.5,1891.7 1687.5,1891.2 1690.5,1890.6 1693.5,1890.0 1696.5,1889.5 1699.5,1888.9 1702.5,1888.3 1705.5,1887.8 1708.5,1887.2 1711.5,1886.7 1714.5,1886.2 1717.5,1885.7 1720.5,1885.3 1723.5,1884.9 1726.5,1884.5 1729.5,1884.1 1732.5,1883.8 1735.5,1883.4 1738.5,1883.1 1741.5,1882.8 1744.5,1882.6 1747.5,1882.3 1750.5,1882.0 1753.5,1881.8 1756.5,1881.5 1759.5,1881.3 1762.5,1881.0 1765.5,1880.8 1768.5,1880.5 1771.5,1880.3 1774.5,1880.1 1777.5,1879.8 1780.5,1879.6 1783.5,1879.4 1786.5,1879.2 1789.5,1879.0 1792.5,1878.7 1795.5,1878.5 1798.5,1878.3 1801.5,1878.1 1804.5,1877.9 1807.5,1877.7 1810.5,1877.5 1813.5,1877.3 1816.5,1877.0 1819.5,1876.8 1822.5,1876.6 1825.5,1876.4 1828.5,1876.2 1831.5,1876.0 1834.5,1875.8 1837.5,1875.6 1840.5,1875.4 1843.5,1875.2 1846.5,1875.0 1849.5,1874.8 1852.5,1874.6 1855.5,1874.4 1858.5,1874.2 1861.5,1874.0 1864.5,1873.8 1867.5,1873.7 1870.5,1873.5 1873.5,1873.3 1876.5,1873.1 1879.5,1873.0 1882.5,1872.8 1885.5,1872.6 1888.5,1872.5 1891.5,1872.3 1894.5,1872.1 1897.5,1872.0 1900.5,1871.9 1903.5,1871.7 1906.5,1871.6 1909.5,1871.5 1912.5,1871.4 1915.5,1871.2 1918.5,1871.2 1921.5,1871.1 1924.5,1871.0 1927.5,1870.9 1930.5,1870.8 1933.5,1870.8 1936.5,1870.7 1939.5,1870.7 1942.5,1870.7 1945.5,1870.6 1948.5,1870.6 1951.5,1870.6 1954.5,1870.5 1957.5,1870.5 1960.5,1870.5 1963.5,1870.5 1966.5,1870.5 1969.5,1870.6 1972.5,1870.6 1975.5,1870.7 1978.5,1870.8 1981.5,1870.9 1984.5,1871.0 1987.5,1871.2 1990.5,1871.3 1993.5,1871.5 1996.5,1871.7 1999.5,1872.0 2002.5,1872.3 2005.5,1872.6 2008.5,1872.9 2011.5,1873.3 2014.5,1873.7 2017.5,1874.1 2020.5,1874.6 2023.5,1875.1 2026.5,1875.6 2029.5,1876.2 2032.5,1876.8 2035.5,1877.4 2038.5,1878.0 2041.5,1878.6 2044.5,1879.3 2047.5,1879.9 2050.5,1880.6 2053.5,1881.4 2056.5,1882.1 2059.5,1882.8 2062.5,1883.6 2065.5,1884.4 2068.5,1885.2 2071.5,1885.9 2074.5,1886.7 2077.5,1887.6 2080.5,1888.4 2083.5,1889.2 2086.5,1890.0 2089.5,1890.9 2092.5,1891.7 2095.5,1892.5 2098.5,1893.4 2101.5,1894.2 2104.5,1895.0 2107.5,1895.8 2110.5,1896.6 2113.5,1897.4 2116.5,1898.2 2119.5,1899.0 2122.5,1899.7 2125.5,1900.5 2128.5,1901.2 2131.5,1901.9 2134.5,1902.6 2137.5,1903.3 2140.5,1904.0 2143.5,1904.7 2146.5,1905.3 2149.5,1905.9 2152.5,1906.6 2155.5,1907.2 2158.5,1907.8 2161.5,1908.3 2164.5,1908.9 2167.5,1909.5 2170.5,1910.0 2173.5,1910.5 2176.5,1911.0 2179.5,1911.5 2182.5,1912.0 2185.5,1912.5 2188.5,1912.9 2191.5,1913.4 2194.5,1913.8 2197.5,1914.2 2200.5,1914.6 2203.5,1914.9 2206.5,1915.3 2209.5,1915.6 2212.5,1916.0 2215.5,1916.3 2218.5,1916.6 2221.5,1916.9 2224.5,1917.2 2227.5,1917.4 2230.5,1917.7 2233.5,1918.0 2236.5,1918.2 2239.5,1918.5 2242.5,1918.7 2244.0,1919.0" fill="none" stroke="#000" stroke-width="3.8" stroke-linejoin="round" stroke-linecap="butt"/>
<path d="M1530.7,2037.1 1533.7,2036.7 1536.7,2036.3 1539.7,2036.0 1542.7,2035.6 1545.7,2035.3 1548.7,2034.9 1551.7,2034.5 1554.7,2034.1 1557.7,2033.7 1560.7,2033.3 1563.7,2032.9 1566.7,2032.5 1569.7,2032.0 1572.7,2031.6 1575.7,2031.1 1578.7,2030.6 1581.7,2030.1 1584.7,2029.6 1587.7,2029.1 1590.7,2028.5 1593.7,2027.9 1596.7,2027.3 1599.7,2026.6 1602.7,2026.0 1605.7,2025.3 1608.7,2024.6 1611.7,2023.8 1614.7,2023.1 1617.7,2022.3 1620.7,2021.5 1623.7,2020.7 1626.7,2019.9 1629.7,2019.1 1632.7,2018.2 1635.7,2017.4 1638.7,2016.5 1641.7,2015.6 1644.7,2014.7 1647.7,2013.8 1650.7,2012.9 1653.7,2012.0 1656.7,2011.0 1659.7,2010.1 1662.7,2009.2 1665.7,2008.3 1668.7,2007.3 1671.7,2006.4 1674.7,2005.5 1677.7,2004.6 1680.7,2003.7 1683.7,2002.8 1686.7,2002.0 1689.7,2001.2 1692.7,2000.4 1695.7,1999.6 1698.7,1998.9 1701.7,1998.2 1704.7,1997.6 1707.7,1997.0 1710.7,1996.4 1713.7,1995.8 1716.7,1995.3 1719.7,1994.8 1722.7,1994.3 1725.7,1993.9 1728.7,1993.4 1731.7,1993.0 1734.7,1992.6 1737.7,1992.2 1740.7,1991.8 1743.7,1991.4 1746.7,1991.0 1749.7,1990.6 1752.7,1990.2 1755.7,1989.8 1758.7,1989.4 1761.7,1989.0 1764.7,1988.6 1767.7,1988.2 1770.7,1987.8 1773.7,1987.4 1776.7,1987.1 1779.7,1986.7 1782.7,1986.4 1785.7,1986.1 1788.7,1985.8 1791.7,1985.5 1794.7,1985.3 1797.7,1985.1 1800.7,1984.9 1803.7,1984.7 1806.7,1984.5 1809.7,1984.3 1812.7,1984.1 1815.7,1983.9 1818.7,1983.7 1821.7,1983.6 1824.7,1983.4 1827.7,1983.2 1830.7,1983.1 1833.7,1982.9 1836.7,1982.8 1839.7,1982.7 1842.7,1982.5 1845.7,1982.4 1848.7,1982.3 1851.7,1982.1 1854.7,1982.0 1857.7,1981.9 1860.7,1981.8 1863.7,1981.7 1866.7,1981.6 1869.7,1981.5 1872.7,1981.5 1875.7,1981.4 1878.7,1981.3 1881.7,1981.3 1884.7,1981.2 1887.7,1981.2 1890.7,1981.2 1893.7,1981.2 1896.7,1981.2 1899.7,1981.2 1902.7,1981.2 1905.7,1981.2 1908.7,1981.2 1911.7,1981.3 1914.7,1981.4 1917.7,1981.5 1920.7,1981.6 1923.7,1981.7 1926.7,1981.8 1929.7,1982.0 1932.7,1982.1 1935.7,1982.3 1938.7,1982.5 1941.7,1982.6 1944.7,1982.8 1947.7,1983.0 1950.7,1983.2 1953.7,1983.4 1956.7,1983.6 1959.7,1983.9 1962.7,1984.1 1965.7,1984.3 1968.7,1984.6 1971.7,1984.9 1974.7,1985.2 1977.7,1985.5 1980.7,1985.9 1983.7,1986.2 1986.7,1986.6 1989.7,1987.0 1992.7,1987.5 1995.7,1987.9 1998.7,1988.4 2001.7,1988.9 2004.7,1989.4 2007.7,1989.9 2010.7,1990.5 2013.7,1991.1 2016.7,1991.7 2019.7,1992.4 2022.7,1993.0 2025.7,1993.7 2028.7,1994.4 2031.7,1995.1 2034.7,1995.8 2037.7,1996.6 2040.7,1997.3 2043.7,1998.0 2046.7,1998.7 2049.7,1999.4 2052.7,2000.2 2055.7,2000.9 2058.7,2001.6 2061.7,2002.3 2064.7,2003.0 2067.7,2003.8 2070.7,2004.5 2073.7,2005.2 2076.7,2005.9 2079.7,2006.6 2082.7,2007.3 2085.7,2008.0 2088.7,2008.7 2091.7,2009.3 2094.7,2010.0 2097.7,2010.7 2100.7,2011.4 2103.7,2012.1 2106.7,2012.9 2109.7,2013.6 2112.7,2014.3 2115.7,2015.1 2118.7,2015.8 2121.7,2016.6 2124.7,2017.3 2127.7,2018.1 2130.7,2018.8 2133.7,2019.6 2136.7,2020.3 2139.7,2021.0 2142.7,2021.6 2145.7,2022.3 2148.7,2022.9 2151.7,2023.6 2154.7,2024.2 2157.7,2024.8 2160.7,2025.3 2163.7,2025.9 2166.7,2026.5 2169.7,2027.0 2172.7,2027.5 2175.7,2028.1 2178.7,2028.6 2181.7,2029.0 2184.7,2029.5 2187.7,2030.0 2190.7,2030.4 2193.7,2030.8 2196.7,2031.2 2199.7,2031.6 2202.7,2032.0 2205.7,2032.4 2208.7,2032.7 2211.7,2033.0 2214.7,2033.4 2217.7,2033.7 2220.7,2033.9 2223.7,2034.2 2226.7,2034.5 2229.7,2034.8 2232.7,2035.0 2235.7,2035.3 2238.7,2035.6 2241.7,2035.8 2244.0,2036.1 L2244.0,2040.9 L1530.7,2040.9 Z" fill="#e88526" fill-opacity="0.5"/>
<path d="M1530.7,2037.1 1533.7,2036.7 1536.7,2036.3 1539.7,2036.0 1542.7,2035.6 1545.7,2035.3 1548.7,2034.9 1551.7,2034.5 1554.7,2034.1 1557.7,2033.7 1560.7,2033.3 1563.7,2032.9 1566.7,2032.5 1569.7,2032.0 1572.7,2031.6 1575.7,2031.1 1578.7,2030.6 1581.7,2030.1 1584.7,2029.6 1587.7,2029.1 1590.7,2028.5 1593.7,2027.9 1596.7,2027.3 1599.7,2026.6 1602.7,2026.0 1605.7,2025.3 1608.7,2024.6 1611.7,2023.8 1614.7,2023.1 1617.7,2022.3 1620.7,2021.5 1623.7,2020.7 1626.7,2019.9 1629.7,2019.1 1632.7,2018.2 1635.7,2017.4 1638.7,2016.5 1641.7,2015.6 1644.7,2014.7 1647.7,2013.8 1650.7,2012.9 1653.7,2012.0 1656.7,2011.0 1659.7,2010.1 1662.7,2009.2 1665.7,2008.3 1668.7,2007.3 1671.7,2006.4 1674.7,2005.5 1677.7,2004.6 1680.7,2003.7 1683.7,2002.8 1686.7,2002.0 1689.7,2001.2 1692.7,2000.4 1695.7,1999.6 1698.7,1998.9 1701.7,1998.2 1704.7,1997.6 1707.7,1997.0 1710.7,1996.4 1713.7,1995.8 1716.7,1995.3 1719.7,1994.8 1722.7,1994.3 1725.7,1993.9 1728.7,1993.4 1731.7,1993.0 1734.7,1992.6 1737.7,1992.2 1740.7,1991.8 1743.7,1991.4 1746.7,1991.0 1749.7,1990.6 1752.7,1990.2 1755.7,1989.8 1758.7,1989.4 1761.7,1989.0 1764.7,1988.6 1767.7,1988.2 1770.7,1987.8 1773.7,1987.4 1776.7,1987.1 1779.7,1986.7 1782.7,1986.4 1785.7,1986.1 1788.7,1985.8 1791.7,1985.5 1794.7,1985.3 1797.7,1985.1 1800.7,1984.9 1803.7,1984.7 1806.7,1984.5 1809.7,1984.3 1812.7,1984.1 1815.7,1983.9 1818.7,1983.7 1821.7,1983.6 1824.7,1983.4 1827.7,1983.2 1830.7,1983.1 1833.7,1982.9 1836.7,1982.8 1839.7,1982.7 1842.7,1982.5 1845.7,1982.4 1848.7,1982.3 1851.7,1982.1 1854.7,1982.0 1857.7,1981.9 1860.7,1981.8 1863.7,1981.7 1866.7,1981.6 1869.7,1981.5 1872.7,1981.5 1875.7,1981.4 1878.7,1981.3 1881.7,1981.3 1884.7,1981.2 1887.7,1981.2 1890.7,1981.2 1893.7,1981.2 1896.7,1981.2 1899.7,1981.2 1902.7,1981.2 1905.7,1981.2 1908.7,1981.2 1911.7,1981.3 1914.7,1981.4 1917.7,1981.5 1920.7,1981.6 1923.7,1981.7 1926.7,1981.8 1929.7,1982.0 1932.7,1982.1 1935.7,1982.3 1938.7,1982.5 1941.7,1982.6 1944.7,1982.8 1947.7,1983.0 1950.7,1983.2 1953.7,1983.4 1956.7,1983.6 1959.7,1983.9 1962.7,1984.1 1965.7,1984.3 1968.7,1984.6 1971.7,1984.9 1974.7,1985.2 1977.7,1985.5 1980.7,1985.9 1983.7,1986.2 1986.7,1986.6 1989.7,1987.0 1992.7,1987.5 1995.7,1987.9 1998.7,1988.4 2001.7,1988.9 2004.7,1989.4 2007.7,1989.9 2010.7,1990.5 2013.7,1991.1 2016.7,1991.7 2019.7,1992.4 2022.7,1993.0 2025.7,1993.7 2028.7,1994.4 2031.7,1995.1 2034.7,1995.8 2037.7,1996.6 2040.7,1997.3 2043.7,1998.0 2046.7,1998.7 2049.7,1999.4 2052.7,2000.2 2055.7,2000.9 2058.7,2001.6 2061.7,2002.3 2064.7,2003.0 2067.7,2003.8 2070.7,2004.5 2073.7,2005.2 2076.7,2005.9 2079.7,2006.6 2082.7,2007.3 2085.7,2008.0 2088.7,2008.7 2091.7,2009.3 2094.7,2010.0 2097.7,2010.7 2100.7,2011.4 2103.7,2012.1 2106.7,2012.9 2109.7,2013.6 2112.7,2014.3 2115.7,2015.1 2118.7,2015.8 2121.7,2016.6 2124.7,2017.3 2127.7,2018.1 2130.7,2018.8 2133.7,2019.6 2136.7,2020.3 2139.7,2021.0 2142.7,2021.6 2145.7,2022.3 2148.7,2022.9 2151.7,2023.6 2154.7,2024.2 2157.7,2024.8 2160.7,2025.3 2163.7,2025.9 2166.7,2026.5 2169.7,2027.0 2172.7,2027.5 2175.7,2028.1 2178.7,2028.6 2181.7,2029.0 2184.7,2029.5 2187.7,2030.0 2190.7,2030.4 2193.7,2030.8 2196.7,2031.2 2199.7,2031.6 2202.7,2032.0 2205.7,2032.4 2208.7,2032.7 2211.7,2033.0 2214.7,2033.4 2217.7,2033.7 2220.7,2033.9 2223.7,2034.2 2226.7,2034.5 2229.7,2034.8 2232.7,2035.0 2235.7,2035.3 2238.7,2035.6 2241.7,2035.8 2244.0,2036.1" fill="none" stroke="#000" stroke-width="3.8" stroke-linejoin="round" stroke-linecap="butt"/>
<path d="M1113.1,2153.8 1116.1,2153.4 1119.1,2153.0 1122.1,2152.6 1125.1,2152.2 1128.1,2151.7 1131.1,2151.3 1134.1,2150.9 1137.1,2150.5 1140.1,2150.0 1143.1,2149.6 1146.1,2149.2 1149.1,2148.7 1152.1,2148.2 1155.1,2147.7 1158.1,2147.2 1161.1,2146.7 1164.1,2146.1 1167.1,2145.5 1170.1,2144.9 1173.1,2144.3 1176.1,2143.7 1179.1,2143.0 1182.1,2142.3 1185.1,2141.6 1188.1,2140.9 1191.1,2140.3 1194.1,2139.6 1197.1,2138.9 1200.1,2138.2 1203.1,2137.5 1206.1,2136.8 1209.1,2136.1 1212.1,2135.4 1215.1,2134.7 1218.1,2134.0 1221.1,2133.4 1224.1,2132.7 1227.1,2132.1 1230.1,2131.5 1233.1,2130.9 1236.1,2130.4 1239.1,2129.8 1242.1,2129.3 1245.1,2128.8 1248.1,2128.3 1251.1,2127.9 1254.1,2127.4 1257.1,2127.0 1260.1,2126.7 1263.1,2126.3 1266.1,2126.0 1269.1,2125.7 1272.1,2125.4 1275.1,2125.1 1278.1,2124.9 1281.1,2124.7 1284.1,2124.6 1287.1,2124.5 1290.1,2124.4 1293.1,2124.4 1296.1,2124.4 1299.1,2124.4 1302.1,2124.5 1305.1,2124.6 1308.1,2124.7 1311.1,2124.9 1314.1,2125.2 1317.1,2125.4 1320.1,2125.8 1323.1,2126.1 1326.1,2126.6 1329.1,2127.0 1332.1,2127.5 1335.1,2128.1 1338.1,2128.7 1341.1,2129.3 1344.1,2129.9 1347.1,2130.5 1350.1,2131.2 1353.1,2131.9 1356.1,2132.5 1359.1,2133.2 1362.1,2133.9 1365.1,2134.6 1368.1,2135.3 1371.1,2136.0 1374.1,2136.7 1377.1,2137.3 1380.1,2138.0 1383.1,2138.7 1386.1,2139.3 1389.1,2140.0 1392.1,2140.6 1395.1,2141.2 1398.1,2141.8 1401.1,2142.4 1404.1,2143.0 1407.1,2143.6 1410.1,2144.1 1413.1,2144.6 1416.1,2145.1 1419.1,2145.6 1422.1,2146.1 1425.1,2146.6 1428.1,2147.0 1431.1,2147.5 1434.1,2147.9 1437.1,2148.3 1440.1,2148.6 1443.1,2149.0 1446.1,2149.3 1449.1,2149.6 1452.1,2149.9 1455.1,2150.1 1458.1,2150.4 1461.1,2150.6 1464.1,2150.7 1467.1,2150.9 1470.1,2151.1 1473.1,2151.2 1476.1,2151.3 1479.1,2151.4 1482.1,2151.5 1485.1,2151.5 1488.1,2151.6 1491.1,2151.6 1494.1,2151.7 1497.1,2151.7 1500.1,2151.7 1503.1,2151.7 1506.1,2151.7 1509.1,2151.6 1512.1,2151.6 1515.1,2151.6 1518.1,2151.5 1521.1,2151.5 1524.1,2151.4 1527.1,2151.3 1530.1,2151.3 1533.1,2151.2 1536.1,2151.1 1539.1,2151.0 1542.1,2150.8 1545.1,2150.7 1548.1,2150.6 1551.1,2150.4 1554.1,2150.3 1557.1,2150.1 1560.1,2149.9 1563.1,2149.7 1566.1,2149.5 1569.1,2149.3 1572.1,2149.0 1575.1,2148.8 1578.1,2148.5 1581.1,2148.2 1584.1,2147.9 1587.1,2147.6 1590.1,2147.3 1593.1,2146.9 1596.1,2146.6 1599.1,2146.2 1602.1,2145.9 1605.1,2145.5 1608.1,2145.1 1611.1,2144.7 1614.1,2144.3 1617.1,2144.0 1620.1,2143.6 1623.1,2143.2 1626.1,2142.8 1629.1,2142.4 1632.1,2142.0 1635.1,2141.6 1638.1,2141.2 1641.1,2140.8 1644.1,2140.5 1647.1,2140.1 1650.1,2139.7 1653.1,2139.3 1656.1,2139.0 1659.1,2138.6 1662.1,2138.2 1665.1,2137.9 1668.1,2137.5 1671.1,2137.2 1674.1,2136.8 1677.1,2136.5 1680.1,2136.2 1683.1,2135.9 1686.1,2135.6 1689.1,2135.3 1692.1,2135.0 1695.1,2134.7 1698.1,2134.4 1701.1,2134.1 1704.1,2133.8 1707.1,2133.5 1710.1,2133.2 1713.1,2132.9 1716.1,2132.6 1719.1,2132.3 1722.1,2132.0 1725.1,2131.7 1728.1,2131.4 1731.1,2131.1 1734.1,2130.8 1737.1,2130.5 1740.1,2130.2 1743.1,2129.9 1746.1,2129.6 1749.1,2129.3 1752.1,2129.0 1755.1,2128.7 1758.1,2128.4 1761.1,2128.1 1764.1,2127.8 1767.1,2127.5 1770.1,2127.2 1773.1,2126.9 1776.1,2126.6 1779.1,2126.3 1782.1,2126.0 1785.1,2125.7 1788.1,2125.4 1791.1,2125.1 1794.1,2124.8 1797.1,2124.5 1800.1,2124.2 1803.1,2123.9 1806.1,2123.6 1809.1,2123.3 1812.1,2123.0 1815.1,2122.7 1818.1,2122.4 1821.1,2122.1 1824.1,2121.8 1827.1,2121.5 1830.1,2121.2 1833.1,2120.9 1836.1,2120.6 1839.1,2120.3 1842.1,2120.0 1845.1,2119.7 1848.1,2119.4 1851.1,2119.1 1854.1,2118.8 1857.1,2118.5 1860.1,2118.2 1863.1,2117.9 1866.1,2117.6 1869.1,2117.3 1872.1,2117.0 1875.1,2116.7 1878.1,2116.5 1881.1,2116.2 1884.1,2116.0 1887.1,2115.8 1890.1,2115.6 1893.1,2115.4 1896.1,2115.3 1899.1,2115.1 1902.1,2115.0 1905.1,2114.9 1908.1,2114.7 1911.1,2114.6 1914.1,2114.5 1917.1,2114.4 1920.1,2114.3 1923.1,2114.2 1926.1,2114.2 1929.1,2114.1 1932.1,2114.0 1935.1,2114.0 1938.1,2114.0 1941.1,2113.9 1944.1,2113.9 1947.1,2113.9 1950.1,2113.9 1953.1,2113.9 1956.1,2113.9 1959.1,2114.0 1962.1,2114.0 1965.1,2114.1 1968.1,2114.2 1971.1,2114.3 1974.1,2114.4 1977.1,2114.6 1980.1,2114.8 1983.1,2115.0 1986.1,2115.2 1989.1,2115.4 1992.1,2115.7 1995.1,2116.0 1998.1,2116.3 2001.1,2116.7 2004.1,2117.1 2007.1,2117.5 2010.1,2117.9 2013.1,2118.4 2016.1,2118.9 2019.1,2119.4 2022.1,2120.0 2025.1,2120.6 2028.1,2121.2 2031.1,2121.8 2034.1,2122.4 2037.1,2123.0 2040.1,2123.7 2043.1,2124.3 2046.1,2124.9 2049.1,2125.5 2052.1,2126.1 2055.1,2126.7 2058.1,2127.3 2061.1,2127.9 2064.1,2128.5 2067.1,2129.1 2070.1,2129.7 2073.1,2130.3 2076.1,2130.9 2079.1,2131.5 2082.1,2132.1 2085.1,2132.7 2088.1,2133.3 2091.1,2133.9 2094.1,2134.5 2097.1,2135.1 2100.1,2135.7 2103.1,2136.3 2106.1,2136.9 2109.1,2137.5 2112.1,2138.1 2115.1,2138.7 2118.1,2139.3 2121.1,2140.0 2124.1,2140.6 2127.1,2141.1 2130.1,2141.7 2133.1,2142.3 2136.1,2142.9 2139.1,2143.5 2142.1,2144.0 2145.1,2144.6 2148.1,2145.1 2151.1,2145.7 2154.1,2146.2 2157.1,2146.7 2160.1,2147.2 2163.1,2147.7 2166.1,2148.1 2169.1,2148.6 2172.1,2149.0 2175.1,2149.4 2178.1,2149.7 2181.1,2150.1 2184.1,2150.4 2187.1,2150.7 2190.1,2151.0 2193.1,2151.3 2196.1,2151.6 2199.1,2151.9 2202.1,2152.2 2205.1,2152.5 2208.1,2152.7 2211.1,2153.0 2214.1,2153.3 2217.1,2153.6 2219.8,2153.8 L2219.8,2158.0 L1113.1,2158.0 Z" fill="#f8766d" fill-opacity="0.5"/>
<path d="M1113.1,2153.8 1116.1,2153.4 1119.1,2153.0 1122.1,2152.6 1125.1,2152.2 1128.1,2151.7 1131.1,2151.3 1134.1,2150.9 1137.1,2150.5 1140.1,2150.0 1143.1,2149.6 1146.1,2149.2 1149.1,2148.7 1152.1,2148.2 1155.1,2147.7 1158.1,2147.2 1161.1,2146.7 1164.1,2146.1 1167.1,2145.5 1170.1,2144.9 1173.1,2144.3 1176.1,2143.7 1179.1,2143.0 1182.1,2142.3 1185.1,2141.6 1188.1,2140.9 1191.1,2140.3 1194.1,2139.6 1197.1,2138.9 1200.1,2138.2 1203.1,2137.5 1206.1,2136.8 1209.1,2136.1 1212.1,2135.4 1215.1,2134.7 1218.1,2134.0 1221.1,2133.4 1224.1,2132.7 1227.1,2132.1 1230.1,2131.5 1233.1,2130.9 1236.1,2130.4 1239.1,2129.8 1242.1,2129.3 1245.1,2128.8 1248.1,2128.3 1251.1,2127.9 1254.1,2127.4 1257.1,2127.0 1260.1,2126.7 1263.1,2126.3 1266.1,2126.0 1269.1,2125.7 1272.1,2125.4 1275.1,2125.1 1278.1,2124.9 1281.1,2124.7 1284.1,2124.6 1287.1,2124.5 1290.1,2124.4 1293.1,2124.4 1296.1,2124.4 1299.1,2124.4 1302.1,2124.5 1305.1,2124.6 1308.1,2124.7 1311.1,2124.9 1314.1,2125.2 1317.1,2125.4 1320.1,2125.8 1323.1,2126.1 1326.1,2126.6 1329.1,2127.0 1332.1,2127.5 1335.1,2128.1 1338.1,2128.7 1341.1,2129.3 1344.1,2129.9 1347.1,2130.5 1350.1,2131.2 1353.1,2131.9 1356.1,2132.5 1359.1,2133.2 1362.1,2133.9 1365.1,2134.6 1368.1,2135.3 1371.1,2136.0 1374.1,2136.7 1377.1,2137.3 1380.1,2138.0 1383.1,2138.7 1386.1,2139.3 1389.1,2140.0 1392.1,2140.6 1395.1,2141.2 1398.1,2141.8 1401.1,2142.4 1404.1,2143.0 1407.1,2143.6 1410.1,2144.1 1413.1,2144.6 1416.1,2145.1 1419.1,2145.6 1422.1,2146.1 1425.1,2146.6 1428.1,2147.0 1431.1,2147.5 1434.1,2147.9 1437.1,2148.3 1440.1,2148.6 1443.1,2149.0 1446.1,2149.3 1449.1,2149.6 1452.1,2149.9 1455.1,2150.1 1458.1,2150.4 1461.1,2150.6 1464.1,2150.7 1467.1,2150.9 1470.1,2151.1 1473.1,2151.2 1476.1,2151.3 1479.1,2151.4 1482.1,2151.5 1485.1,2151.5 1488.1,2151.6 1491.1,2151.6 1494.1,2151.7 1497.1,2151.7 1500.1,2151.7 1503.1,2151.7 1506.1,2151.7 1509.1,2151.6 1512.1,2151.6 1515.1,2151.6 1518.1,2151.5 1521.1,2151.5 1524.1,2151.4 1527.1,2151.3 1530.1,2151.3 1533.1,2151.2 1536.1,2151.1 1539.1,2151.0 1542.1,2150.8 1545.1,2150.7 1548.1,2150.6 1551.1,2150.4 1554.1,2150.3 1557.1,2150.1 1560.1,2149.9 1563.1,2149.7 1566.1,2149.5 1569.1,2149.3 1572.1,2149.0 1575.1,2148.8 1578.1,2148.5 1581.1,2148.2 1584.1,2147.9 1587.1,2147.6 1590.1,2147.3 1593.1,2146.9 1596.1,2146.6 1599.1,2146.2 1602.1,2145.9 1605.1,2145.5 1608.1,2145.1 1611.1,2144.7 1614.1,2144.3 1617.1,2144.0 1620.1,2143.6 1623.1,2143.2 1626.1,2142.8 1629.1,2142.4 1632.1,2142.0 1635.1,2141.6 1638.1,2141.2 1641.1,2140.8 1644.1,2140.5 1647.1,2140.1 1650.1,2139.7 1653.1,2139.3 1656.1,2139.0 1659.1,2138.6 1662.1,2138.2 1665.1,2137.9 1668.1,2137.5 1671.1,2137.2 1674.1,2136.8 1677.1,2136.5 1680.1,2136.2 1683.1,2135.9 1686.1,2135.6 1689.1,2135.3 1692.1,2135.0 1695.1,2134.7 1698.1,2134.4 1701.1,2134.1 1704.1,2133.8 1707.1,2133.5 1710.1,2133.2 1713.1,2132.9 1716.1,2132.6 1719.1,2132.3 1722.1,2132.0 1725.1,2131.7 1728.1,2131.4 1731.1,2131.1 1734.1,2130.8 1737.1,2130.5 1740.1,2130.2 1743.1,2129.9 1746.1,2129.6 1749.1,2129.3 1752.1,2129.0 1755.1,2128.7 1758.1,2128.4 1761.1,2128.1 1764.1,2127.8 1767.1,2127.5 1770.1,2127.2 1773.1,2126.9 1776.1,2126.6 1779.1,2126.3 1782.1,2126.0 1785.1,2125.7 1788.1,2125.4 1791.1,2125.1 1794.1,2124.8 1797.1,2124.5 1800.1,2124.2 1803.1,2123.9 1806.1,2123.6 1809.1,2123.3 1812.1,2123.0 1815.1,2122.7 1818.1,2122.4 1821.1,2122.1 1824.1,2121.8 1827.1,2121.5 1830.1,2121.2 1833.1,2120.9 1836.1,2120.6 1839.1,2120.3 1842.1,2120.0 1845.1,2119.7 1848.1,2119.4 1851.1,2119.1 1854.1,2118.8 1857.1,2118.5 1860.1,2118.2 1863.1,2117.9 1866.1,2117.6 1869.1,2117.3 1872.1,2117.0 1875.1,2116.7 1878.1,2116.5 1881.1,2116.2 1884.1,2116.0 1887.1,2115.8 1890.1,2115.6 1893.1,2115.4 1896.1,2115.3 1899.1,2115.1 1902.1,2115.0 1905.1,2114.9 1908.1,2114.7 1911.1,2114.6 1914.1,2114.5 1917.1,2114.4 1920.1,2114.3 1923.1,2114.2 1926.1,2114.2 1929.1,2114.1 1932.1,2114.0 1935.1,2114.0 1938.1,2114.0 1941.1,2113.9 1944.1,2113.9 1947.1,2113.9 1950.1,2113.9 1953.1,2113.9 1956.1,2113.9 1959.1,2114.0 1962.1,2114.0 1965.1,2114.1 1968.1,2114.2 1971.1,2114.3 1974.1,2114.4 1977.1,2114.6 1980.1,2114.8 1983.1,2115.0 1986.1,2115.2 1989.1,2115.4 1992.1,2115.7 1995.1,2116.0 1998.1,2116.3 2001.1,2116.7 2004.1,2117.1 2007.1,2117.5 2010.1,2117.9 2013.1,2118.4 2016.1,2118.9 2019.1,2119.4 2022.1,2120.0 2025.1,2120.6 2028.1,2121.2 2031.1,2121.8 2034.1,2122.4 2037.1,2123.0 2040.1,2123.7 2043.1,2124.3 2046.1,2124.9 2049.1,2125.5 2052.1,2126.1 2055.1,2126.7 2058.1,2127.3 2061.1,2127.9 2064.1,2128.5 2067.1,2129.1 2070.1,2129.7 2073.1,2130.3 2076.1,2130.9 2079.1,2131.5 2082.1,2132.1 2085.1,2132.7 2088.1,2133.3 2091.1,2133.9 2094.1,2134.5 2097.1,2135.1 2100.1,2135.7 2103.1,2136.3 2106.1,2136.9 2109.1,2137.5 2112.1,2138.1 2115.1,2138.7 2118.1,2139.3 2121.1,2140.0 2124.1,2140.6 2127.1,2141.1 2130.1,2141.7 2133.1,2142.3 2136.1,2142.9 2139.1,2143.5 2142.1,2144.0 2145.1,2144.6 2148.1,2145.1 2151.1,2145.7 2154.1,2146.2 2157.1,2146.7 2160.1,2147.2 2163.1,2147.7 2166.1,2148.1 2169.1,2148.6 2172.1,2149.0 2175.1,2149.4 2178.1,2149.7 2181.1,2150.1 2184.1,2150.4 2187.1,2150.7 2190.1,2151.0 2193.1,2151.3 2196.1,2151.6 2199.1,2151.9 2202.1,2152.2 2205.1,2152.5 2208.1,2152.7 2211.1,2153.0 2214.1,2153.3 2217.1,2153.6 2219.8,2153.8" fill="none" stroke="#000" stroke-width="3.8" stroke-linejoin="round" stroke-linecap="butt"/>
<line x1="1097" y1="96" x2="1097" y2="2230.8" stroke="#000" stroke-width="3.8"/>
<line x1="1097" y1="2229" x2="2338" y2="2229" stroke="#000" stroke-width="3.7"/>
<line x1="1153.8" y1="2228.6" x2="1153.8" y2="2240" stroke="#333" stroke-width="3.8"/>
<text x="1153.8" y="2277.5" font-family="Liberation Sans" font-size="36" fill="#4d4d4d" text-anchor="middle">-8</text>
<line x1="1435.8" y1="2228.6" x2="1435.8" y2="2240" stroke="#333" stroke-width="3.8"/>
<text x="1435.8" y="2277.5" font-family="Liberation Sans" font-size="36" fill="#4d4d4d" text-anchor="middle">-6</text>
<line x1="1717.8" y1="2228.6" x2="1717.8" y2="2240" stroke="#333" stroke-width="3.8"/>
<text x="1717.8" y="2277.5" font-family="Liberation Sans" font-size="36" fill="#4d4d4d" text-anchor="middle">-4</text>
<line x1="1999.8" y1="2228.6" x2="1999.8" y2="2240" stroke="#333" stroke-width="3.8"/>
<text x="1999.8" y="2277.5" font-family="Liberation Sans" font-size="36" fill="#4d4d4d" text-anchor="middle">-2</text>
<line x1="2281.8" y1="2228.6" x2="2281.8" y2="2240" stroke="#333" stroke-width="3.8"/>
<text x="2281.8" y="2277.5" font-family="Liberation Sans" font-size="36" fill="#4d4d4d" text-anchor="middle">0</text>
<text x="1719" y="2331" font-family="Liberation Sans" font-size="47" fill="#000" text-anchor="middle">log10 (Relative Abundance)</text>
</svg></body></html>
